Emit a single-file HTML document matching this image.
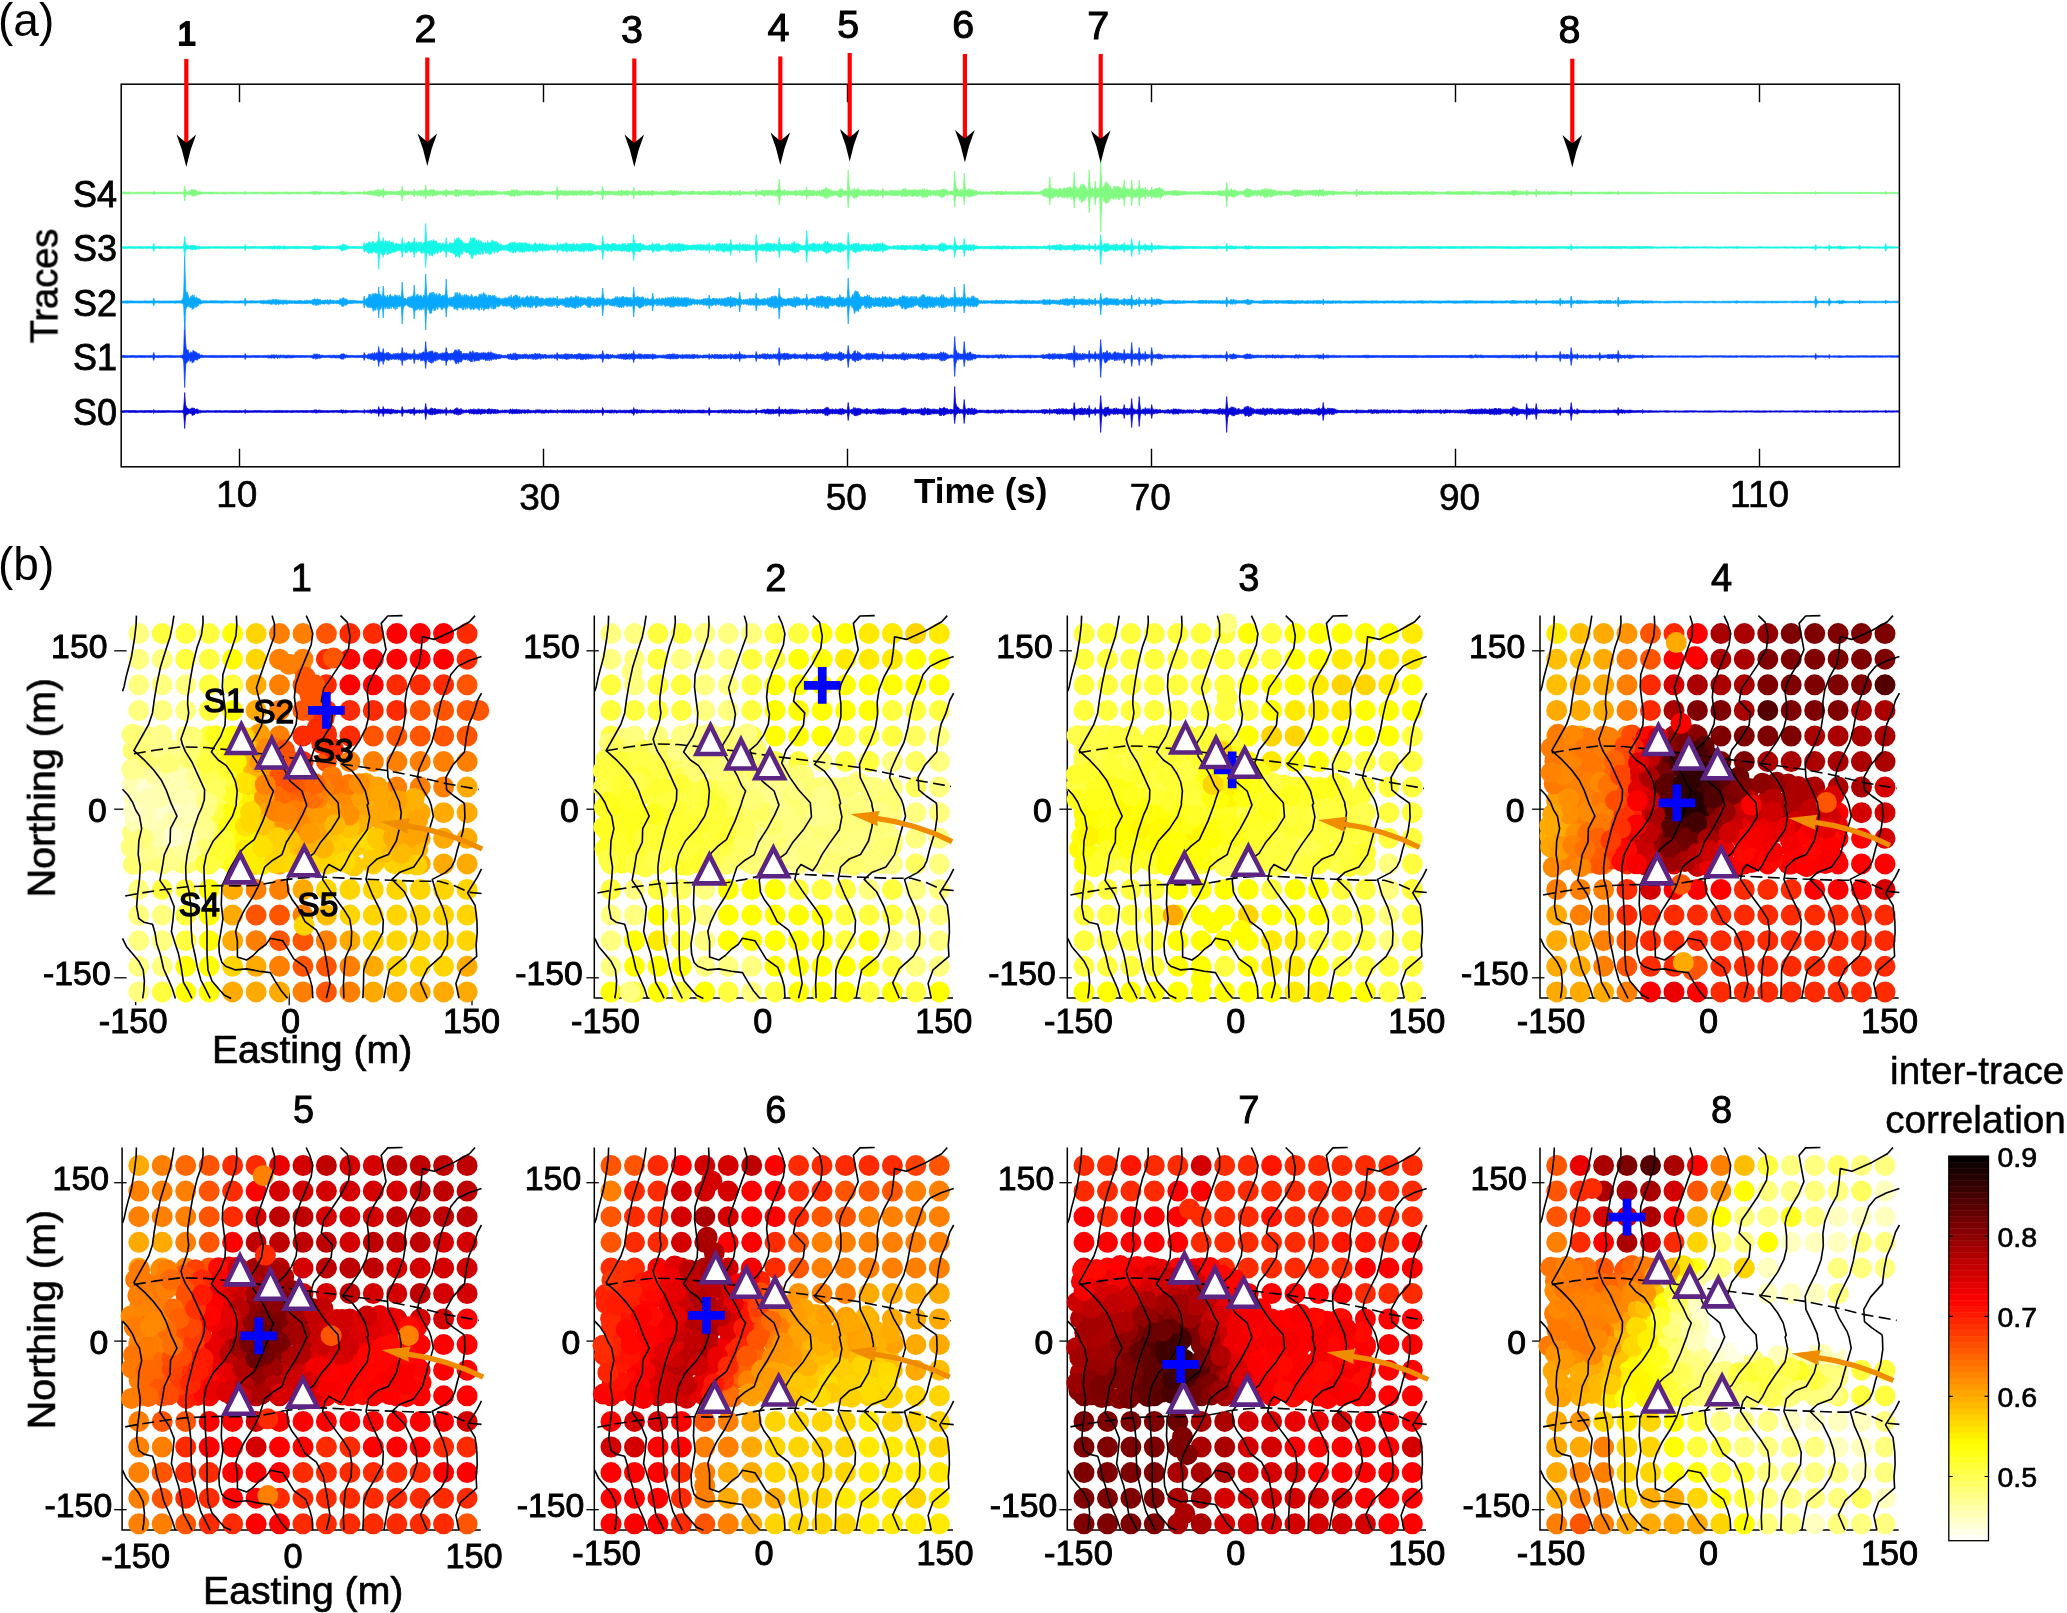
<!DOCTYPE html>
<html><head><meta charset="utf-8"><title>Figure</title>
<style>html,body{margin:0;padding:0;background:#fff}svg{display:block}text{will-change:opacity}</style></head>
<body>
<svg width="2067" height="1613" viewBox="0 0 2067 1613" font-family='"Liberation Sans", Arial, Helvetica, sans-serif' fill="#000">
<rect width="2067" height="1613" fill="#fff"/>
<path d="M239.5,84.2v18 M239.5,466.8v-18" stroke="#000" stroke-width="1.4"/>
<text x="236.8" y="506.8" font-size="37" text-anchor="middle" font-weight="normal" stroke="#000" stroke-width="0.6">10</text>
<path d="M543.5,84.2v18 M543.5,466.8v-18" stroke="#000" stroke-width="1.4"/>
<text x="539.8" y="509.9" font-size="37" text-anchor="middle" font-weight="normal" stroke="#000" stroke-width="0.6">30</text>
<path d="M847.5,84.2v18 M847.5,466.8v-18" stroke="#000" stroke-width="1.4"/>
<text x="846.3" y="509.9" font-size="37" text-anchor="middle" font-weight="normal" stroke="#000" stroke-width="0.6">50</text>
<path d="M1151.5,84.2v18 M1151.5,466.8v-18" stroke="#000" stroke-width="1.4"/>
<text x="1150.3" y="510" font-size="37" text-anchor="middle" font-weight="normal" stroke="#000" stroke-width="0.6">70</text>
<path d="M1455.5,84.2v18 M1455.5,466.8v-18" stroke="#000" stroke-width="1.4"/>
<text x="1459.5" y="510" font-size="37" text-anchor="middle" font-weight="normal" stroke="#000" stroke-width="0.6">90</text>
<path d="M1759.5,84.2v18 M1759.5,466.8v-18" stroke="#000" stroke-width="1.4"/>
<text x="1759.6" y="506.6" font-size="37" text-anchor="middle" font-weight="normal" stroke="#000" stroke-width="0.6">110</text>
<text x="980.7" y="502.9" font-size="35" text-anchor="middle" font-weight="bold">Time (s)</text>
<text x="57.5" y="286" font-size="38" text-anchor="middle" font-weight="normal" stroke="#000" stroke-width="0.7" transform="rotate(-90 57.5 286)">Traces</text>
<text x="117" y="425.1" font-size="36" text-anchor="end" font-weight="normal" stroke="#000" stroke-width="0.8">S0</text>
<text x="117" y="370.1" font-size="36" text-anchor="end" font-weight="normal" stroke="#000" stroke-width="0.8">S1</text>
<text x="117" y="315.6" font-size="36" text-anchor="end" font-weight="normal" stroke="#000" stroke-width="0.8">S2</text>
<text x="117" y="261.1" font-size="36" text-anchor="end" font-weight="normal" stroke="#000" stroke-width="0.8">S3</text>
<text x="117" y="206.6" font-size="36" text-anchor="end" font-weight="normal" stroke="#000" stroke-width="0.8">S4</text>
<path d="M121.2,410.7l2 .1l2-.3l2 .1l2 0l2 0l2-.1l2 .1l2 .1l2 .1l2-.2l2 .1l2-.1l2 0l2-.1l2 .1l.5-.1l.5 .2l.5-.2l.5-.1l.5-.9l.5 .8l.5 .3l.5 .1l2 0l2-.1l2 .1l2-.2l2 .2l2-.1l2 0l2 .2l2-.1l2 0l2 0l2-.1l2 0l2-.1l.5-3.4l.5-6l.5-8.6l.5 7.6l.5 5.7l.5 .1l.5 2.6l.5-.4l.5-.1l.5 1.6l.5-.8l.5 .4l.5 .8l.5-1.3l.5 .6l.5-.3l.5-1.2l.5 1.9l.5-1.9l.5 1l.5-1l.5 .5l.5 .2l.5 .9l.5 .2l.5-.5l.5-.2l.5 .1l.5 .2l.5 .2l.5 1.2l.5-.1l.5-.3l2 .5l2 0l2 0l2-.1l2 .2l2-.1l2 .1l2-.3l2 .2l2-.1l2 .2l2 0l2-.2l2 .1l2 0l2-.1l2 .1l2-.2l2 .3l2-.2l2 .2l2-.2l.5-.1l.5-.1l.5-.9l.5 .8l.5 .3l.5 0l2 .1l2 0l2 .1l2-.2l2 0l2-.1l2 0l2 .2l2 0l2 0l2-.1l2 .1l2 0l2-.1l2-.2l2 0l2 .2l2-.1l2 .2l2-.2l2 .2l2 .1l2-.2l2 .1l2-.2l2 .2l2-.2l2 .1l2 0l2-.1l2 .2l2-.1l2-.1l2-.6l.5-.3l.5 .6l.5-.2l.5-.1l.5 .4l.5 .3l.5-.6l.5 .1l.5-.1l2 .4l2 .2l2 .1l2-.1l2 .1l2-.1l2 0l2 0l2-.1l2 .1l2-.6l.5-.3l.5 .2l.5 .7l.5-.7l.5 .2l.5 .4l.5 .2l.5-.6l2 .4l2 .2l2 0l2-.2l2 .1l2-.1l2 .3l2 0l2-.1l.5-.3l.5-.9l.5 .8l.5 .3l.5 0l2-.4l.5 .3l.5-.2l.5 .1l.5-.6l.5-.3l.5 .4l.5 .5l.5-.2l.5-.3l.5-.2l.5 .6l.5-.7l.5 0l.5-.2l.5 .8l.5-.6l.5 .5l.5-.3l.5 .1l.5 .6l.5-1.7l.5-2.3l.5 2l.5 .8l.5 .2l.5-.2l.5 .8l.5-.9l.5 .8l.5-1.2l.5-2.3l.5 2l.5 .7l.5-.2l.5-.1l.5 .7l.5-.6l.5 .8l.5-.8l.5 0l.5 .4l.5-.4l.5 .4l.5-.3l.5 .7l.5-.6l.5-.3l.5 0l.5 .9l.5 .4l.5-1.2l.5 .6l.5 .7l.5-.2l.5 .2l.5-.5l.5 .5l.5 0l.5-.2l.5-.1l.5 .1l.5 .4l.5-.6l.5 .8l.5-.2l.5 .2l.5-.2l.5-1.7l.5-2.3l.5 2l.5 1.5l.5-.1l.5 0l.5 .3l.5-.2l.5 .3l.5 .3l.5-.8l.5 .1l.5 .4l.5-.9l.5 .6l.5 .3l.5-.9l.5 0l.5 .3l.5 .1l.5-.5l.5 0l.5 .2l.5-.3l.5 .1l.5-1.8l.5 1.6l.5 .8l.5 .6l.5-.3l.5 0l.5-.5l.5 .8l.5-.4l.5 .3l.5-.5l.5-.3l.5 .6l.5 .1l.5-.2l.5 .2l.5 0l.5-.6l.5 .6l.5-.6l.5 .7l.5-.4l.5-2.9l.5-3.6l.5 3.2l.5 2.2l.5 1.2l.5-.5l.5 .4l.5-.2l.5-.4l.5-.5l.5 .7l.5-1.3l.5-.6l.5 1.5l.5-1.1l.5 .6l.5 0l.5 .8l.5-.8l.5-.4l.5 .6l.5-.2l.5 .8l.5 .4l.5-.7l.5 .2l.5 .3l.5-.6l.5-.1l.5 .9l.5-.1l.5-.5l.5 .4l.5 .1l.5 .1l.5-.2l.5 .7l.5-.2l.5-.6l.5 .3l.5-.2l.5-.4l.5-1.8l.5 1.6l.5 1.2l.5 .1l.5 0l.5 .2l.5-.2l.5-.4l.5-.3l.5 0l.5 .6l.5 .2l.5-.5l.5-.1l.5 .3l.5 0l.5-.3l.5-1l.5 .7l.5-1.4l.5 1.1l.5-1.5l.5-.2l.5 1.3l.5 0l.5 .3l.5 .4l.5-.3l.5 .6l.5-1.4l.5 .1l.5 1.2l.5-.1l.5 .4l.5 .1l.5-.3l.5 .4l.5 0l.5-.4l.5 .3l.5-.3l.5-.1l.5 .8l.5-.1l.5-.7l.5 0l.5 .8l.5-1.1l.5-.1l.5-.3l.5 .2l.5 .6l.5-.3l.5-.1l.5 .1l.5-.9l.5 .2l.5 1l.5 0l.5-.4l.5 .2l.5 .1l.5-.3l.5-.1l.5-.8l.5 .9l.5 .6l.5-1.3l.5 1.3l.5-.5l.5 0l.5-.3l.5 .2l.5-.4l.5 .7l.5-.1l.5-.3l.5 .1l.5 .5l.5-.5l.5 .8l.5-.2l.5-.5l.5-.1l.5-.5l.5-.2l.5 .3l.5-.4l.5 .7l.5 .3l.5-.9l.5 1.2l.5-.4l.5-.7l.5 .9l.5-.3l.5-.2l.5 .4l.5-.7l.5 1.3l.5-.8l.5 .9l.5-.5l.5-.4l.5 .8l.5-.2l.5 .4l.5 .1l.5 .1l.5-.5l.5 .4l.5-.3l.5-.1l.5-.4l.5 .5l.5 .2l.5-.4l2 0l2 .3l.5-.3l.5 .1l.5-.1l.5-1.1l.5-.1l.5 1l.5 .2l.5-.6l.5-.7l.5 .7l.5 .4l.5-.2l.5-.1l.5 .2l.5-.5l.5-.1l.5 0l.5 .8l.5-.2l.5-.3l.5 .3l.5-.4l.5 .5l.5 .3l.5-.4l.5 0l.5 .5l.5-.2l.5-.3l.5 0l.5 .7l.5-.9l.5 .4l.5 .1l.5-.2l.5 .5l.5-.7l.5 .6l.5-.7l.5 0l.5 .2l.5 .8l.5-.7l.5 .3l.5 .2l.5-.2l.5 .4l.5-.2l.5 .2l.5-.1l.5-.4l.5 .5l.5-.2l.5 0l.5-.4l.5-.4l.5 .6l.5 .1l.5-.7l.5 0l.5 .6l.5-.5l.5 .4l.5 .4l.5-.8l.5 .2l.5 .7l.5-.7l.5 .3l.5 .1l.5 .2l.5-.2l.5-.1l.5-.3l.5 0l.5-.1l.5 .3l.5 .2l.5 .2l.5 0l.5-.3l.5-.2l.5 .4l.5-.5l2 .3l2 .2l2 .3l.5-.3l.5-.9l.5 .8l.5 .4l.5-.3l2-.1l2 0l2-.5l.5 .6l.5 .1l.5-.5l.5-.1l.5 .7l.5-.4l.5-.2l.5-.2l.5 .2l.5 .1l.5 .2l.5-.5l.5 .7l.5-.4l.5 .1l.5-.5l.5 .6l.5 .3l.5-.4l.5-.4l.5 .9l.5 0l.5-.8l.5 .8l.5-.2l.5 0l.5 .1l.5 .1l.5 0l.5-.1l.5-.5l.5 0l.5 .1l.5-.1l.5-.3l.5 .8l.5-.8l.5 .2l.5 .3l.5-.3l.5 .3l.5 .1l.5-.1l.5-.4l.5-.4l.5 .9l.5 .1l.5-.6l.5 .4l.5 .2l.5-.5l.5-.4l.5 .6l.5 .3l.5-.7l.5 0l.5 .6l.5 .1l.5-.5l.5 .6l.5-.3l.5 0l.5 .3l.5-.6l2 .3l2 0l.5 .3l.5 0l.5-1.3l.5-1.8l.5 1.6l.5 .9l.5 .5l2-.2l2 0l2-.1l2-.3l.5 .1l.5 .5l.5 .1l.5-.8l.5 .4l.5 .1l.5-.4l.5 .6l.5 0l.5 0l.5 .2l.5-.3l.5-.2l.5 .4l.5-.6l2 .4l2-.1l2-.1l2 .1l.5 .2l.5-.3l.5-.1l.5 .2l.5-.1l.5-.2l.5 0l.5 0l.5 .3l.5 .1l.5-1.1l.5-1.8l.5 1.6l.5 .4l.5-.2l.5 .8l.5-.5l.5 .1l.5-.3l.5 .2l.5 .9l.5 0l.5-.8l.5 .2l.5 .5l.5 .2l.5-.9l.5 .3l.5 .1l.5 0l.5-.1l2 .2l2 .4l2-.1l2-.1l.5 0l.5 0l.5-.9l.5 .8l.5 0l.5-.2l2 .1l.5 .1l.5-.3l.5 0l.5 0l.5 .1l2 .1l2 .3l2 0l2 .1l2-.3l.5-.3l.5 .4l.5-.3l.5-.4l.5 .6l.5-.3l.5 0l.5 .6l.5-.2l.5-.7l.5 .6l.5-.4l.5-.1l.5-.2l.5 .7l.5-.5l.5 .3l.5 .1l.5 .4l.5-.9l.5 .1l.5-.3l.5 .8l.5 .1l.5 .1l.5-.3l.5-.4l.5-.1l.5 .7l.5-.2l.5-.4l.5 0l.5 .6l.5-.4l.5 .4l.5-.2l.5-.1l2 .2l2-.1l2 .1l2 .2l2-.2l2-.2l2 .1l2-.2l2 .4l2 .1l.5-.1l.5-.2l.5-.9l.5-1.8l.5 1.6l.5 1.2l.5 .1l2 .2l2-.2l2 .2l2-.3l2-.1l.5-.2l.5-.2l.5 .8l.5 0l.5-.7l.5 .2l.5-.1l.5-.2l.5 .2l.5 .3l.5-.7l.5 1l.5-.2l.5 0l.5-.5l.5-.2l.5 .1l.5 .7l.5-.2l.5-.8l.5 .7l.5-.2l.5 .4l.5-.3l2 .2l2-.1l2 .2l.5-.3l.5-.6l.5 .8l.5-.1l.5-.1l2 .5l.5-.7l.5 .8l.5-.7l.5 .4l.5 .3l.5-.3l.5 .3l.5 0l.5-.1l.5-.4l2 .2l2-.2l2 .5l.5-.2l.5 .1l.5-.7l.5-1.4l.5 1.2l.5 .9l.5 0l2 0l2-.6l2-.4l.5 0l.5-.3l.5 .9l.5-.3l.5-.4l.5 .2l.5-.8l.5 .2l.5 .1l.5-.1l.5 1l.5-.9l.5 .2l.5 .4l.5-.8l.5 .9l.5-.3l.5-.5l.5-.1l.5 .8l.5 .3l.5-.1l.5-.4l.5-.2l.5-.4l.5 1.1l.5-1.1l.5 1.2l.5-.8l.5-.6l.5-2.3l.5 2l.5 1.1l.5 .4l.5-.4l.5 .2l.5 .3l.5-1l.5 1l.5 .2l.5-.7l.5-.1l.5-.4l.5-.1l.5 1.1l.5 0l.5 0l.5 0l.5-.2l.5-.4l.5 .1l.5 .1l.5-.9l.5 1.1l.5-.2l.5-.8l.5 .8l.5-.8l.5 .8l.5 .2l.5 .2l.5-.7l.5 .3l.5 .4l.5-.8l.5 .8l.5 .1l.5-.4l.5 .1l.5-.4l.5 .8l.5-.5l.5 .8l.5-.3l.5-.3l.5 .7l.5-.8l.5 .6l.5-.1l.5-.4l.5 .1l.5 0l.5 .2l.5 .2l.5-.7l.5-1.3l.5 1.2l.5 .6l.5 0l.5 0l.5-.1l.5 .1l.5 0l.5-.5l.5-.1l.5 .3l.5-.8l.5 .6l.5-.3l.5-.6l.5 1.2l.5-.4l.5 .2l.5-.8l.5 1.2l.5-.1l.5-.1l.5-1l.5 .8l.5-.6l.5 .7l.5-.4l.5-.1l.5-.4l.5 1l.5 .1l.5-.9l.5 .6l.5-.9l.5 .7l.5-.9l.5 0l.5 0l.5-1.1l.5 .3l.5-.6l.5-.4l.5 1.5l.5-.9l.5 1.9l.5-.7l.5 .9l.5-.1l.5-.3l.5-.3l.5 1.1l.5 0l.5-1.4l.5 .4l.5 .6l.5-.2l.5 .6l.5-.7l.5-.7l.5 .4l.5 .3l.5 .6l.5-.7l.5 .3l.5-.4l.5 0l.5-.4l.5 .2l.5-.4l.5 1l.5-.4l.5-1l.5 .6l.5 1.2l.5-1.1l.5 .7l.5 .3l.5 0l.5-.2l.5 .8l.5-.4l.5-.2l.5-3.3l.5-4.1l.5 3.6l.5 2.7l.5 1.7l.5-.4l.5-.2l.5-.6l.5 .2l.5-.6l.5 .3l.5 .3l.5-2.1l.5 1.7l.5-.9l.5-.6l.5 .8l.5 .9l.5-.8l.5 .1l.5 0l.5 .2l.5-.8l.5 .3l.5 1.2l.5-1.1l.5 1.6l.5-1l.5 .3l.5 0l.5 .5l.5-.2l.5 .5l.5 .2l.5-1.1l.5 0l.5 .9l.5-1.4l.5-.1l.5 .4l.5-.4l.5 1.5l.5 .1l.5-.9l.5 .6l.5-.1l.5-.2l.5 .8l.5 0l.5-.7l.5-.3l.5-.2l.5 .3l.5-.2l.5 .6l.5-.7l.5 .8l.5-.6l.5-.1l.5-.1l.5 .5l.5-1.1l.5 1.5l.5-1.3l.5 0l.5 .3l.5-.1l.5 .7l.5-1.1l.5 .9l.5-1l.5 .1l.5 .1l.5 .6l.5-.1l.5 .8l.5-1.4l.5 1.3l.5-.2l.5 .1l.5-.6l.5-.4l.5 .6l.5 .3l.5-.8l.5 .7l.5-.1l.5 .8l.5-1.1l.5 0l.5 0l.5 .9l.5-.7l.5 .1l.5 .3l.5-.4l.5 .7l.5-.9l.5 1.2l.5-.8l.5-.4l.5 .2l.5 .2l.5-.6l.5 .9l.5-1.3l.5 1.3l.5-1.3l.5-.1l.5-.4l.5 .2l.5-.1l.5-.3l.5-.1l.5 1.7l.5-1.8l.5 1.1l.5-.4l.5 .5l.5 .8l.5-.1l.5-.6l.5-.1l.5 .6l.5-.1l.5-.6l.5 .3l.5 .9l.5 .1l.5-.4l.5-.1l.5 .3l.5-.5l.5 .9l.5-.8l.5-.2l.5 .3l.5 .5l.5-.5l.5 0l.5-.6l.5 1l.5-.6l.5-.6l.5 .6l.5 .4l.5-.6l.5-.8l.5-.5l.5 1.1l.5 .5l.5 .1l.5-1l.5 .9l.5-1.9l.5 .2l.5 1.3l.5 .1l.5-.2l.5 .7l.5-1.6l.5 1l.5-.4l.5 .6l.5-.5l.5 .4l.5 0l.5 .5l.5 .1l.5-.9l.5 .4l.5 .2l.5-.7l.5 .2l.5 .3l.5 .1l.5-.2l.5 .1l.5 .3l.5 .3l.5-.4l.5 .5l.5-.1l.5-1l.5-1.2l.5 1.2l.5-.8l.5 1.1l.5-.6l.5-.2l.5 .1l.5-.6l.5-.5l.5-.2l.5 .8l.5 .1l.5 1.3l.5-.8l.5 .2l.5 .1l.5-.3l.5 .5l.5 .9l.5-.1l.5 .3l.5-1.3l.5 .1l.5 1l.5-1l.5 .8l.5-.1l.5 .3l.5-1.4l.5-10.8l.5-11.3l.5 10l.5 6.5l.5 1.1l.5 2.6l.5 .5l.5-.6l.5 1.2l.5 .3l.5 .1l.5 1.7l.5 0l.5-.9l.5 1.2l.5-.8l.5-.1l.5 .7l.5-.1l.5-5l.5-5.4l.5 4.8l.5 3.6l.5 1.4l.5-.3l.5 .8l.5-.4l.5-.6l.5-.9l.5 1.2l.5-.6l.5-.1l.5 .5l.5 .4l.5-.9l.5-.3l.5 0l.5 .8l.5 .9l.5-.3l.5-1.4l.5 .8l.5-.1l.5 .9l.5-.4l.5 .8l.5 .4l.5-.4l.5 .1l.5 .5l.5-.7l2 .2l2 .1l2 .1l2-.3l2 0l.5 .6l.5-.2l.5-.2l.5-.3l.5 .6l.5-.6l.5 .7l.5-.7l.5 .4l.5-.4l.5 0l.5-.2l.5 .4l.5 .3l.5-.6l.5 .7l.5-.4l.5-.1l.5 .3l.5-.1l.5-.6l.5 .5l.5-.1l.5-.3l.5 .3l.5 0l.5-.5l.5 .5l.5-.4l.5 .5l.5 0l.5 .2l.5-.3l.5 .6l.5-.4l.5 0l.5 .2l.5-.5l.5-.2l.5 .8l.5-.3l.5-.2l.5-.1l2 .1l2 .3l.5 .3l.5-.7l.5 .5l.5-.5l.5-.3l.5 .3l.5-.2l.5 .3l.5-.2l.5 .7l.5 0l.5-.4l.5 .2l.5 0l.5 0l.5-.4l.5 .2l2 .1l2-.2l2 .1l2 .2l.5-.5l.5 .1l.5 .4l.5 .3l.5-.3l.5-.4l.5 .3l.5 .2l.5-.2l.5 .1l.5-.5l.5 .8l.5-.3l.5-.5l.5 .5l.5-.6l.5 .6l.5 .3l.5-.7l.5 0l.5-.3l.5-.1l.5 .7l.5-.8l.5 .8l.5-1l.5 .4l.5-.3l.5 .4l.5 0l.5-.2l.5 .4l.5-.1l.5 .3l.5-.1l.5-.4l.5-1.2l.5 1.2l.5 .5l.5-.7l.5 .8l.5 .2l.5-.7l.5 .3l.5-.9l.5 .7l.5-.9l.5 1l.5-.2l.5-.9l.5 .2l.5 0l.5 .7l.5-.1l.5-1.2l.5 0l.5 .8l.5-.3l.5 .8l.5-.4l.5-.8l.5-.2l.5 1.3l.5-1.1l.5 .4l.5 .1l.5 .3l.5 .7l.5-1.3l.5 .3l.5-.3l.5 .2l.5 .5l.5 .2l.5 .3l.5-.2l.5-.5l.5 .2l.5 .3l.5-1.1l.5 .1l.5-.2l.5 1.3l.5 .1l.5-3.4l.5-4.1l.5 3.6l.5 2.7l.5 .6l.5-.6l.5 .9l.5-.3l.5-.3l.5 .1l.5-.6l.5 1l.5-1.3l.5 1l.5-1.3l.5 1.3l.5-1.8l.5 1.6l.5-.6l.5 .5l.5 0l.5 .1l.5-1l.5 1.6l.5-1.3l.5 1.5l.5-.7l.5-.6l.5 0l.5 .1l.5-.5l.5-2.7l.5 2.4l.5 1.8l.5 .4l.5-.9l.5 0l.5 1.1l.5-.2l.5-.1l.5-.2l.5-.3l.5-.2l.5-1.8l.5 1.6l.5 .7l.5-.4l.5 .7l.5-.6l.5 .1l.5 .1l.5-.5l.5 0l.5-6.5l.5-7.2l.5 6.4l.5 4.8l.5 3.3l.5-.9l.5 .6l.5-.1l.5-.8l.5-.8l.5-.8l.5 1.5l.5-1.2l.5 .9l.5-1.3l.5 .9l.5-1.4l.5 2.3l.5 0l.5 0l.5-.2l.5 1l.5-.7l.5 .2l.5-.3l.5 .6l.5-.8l.5-.3l.5 .8l.5-1.1l.5 .8l.5 .7l.5-1.9l.5 .5l.5 1.1l.5 .2l.5-1l.5 1.5l.5-1.1l.5 1.1l.5-1.1l.5 .3l.5 .3l.5-.3l.5 0l.5 .3l.5-1.5l.5-.4l.5-3.1l.5 2.8l.5 2.1l.5-1.4l.5 1.7l.5-1.1l.5 .8l.5-1.2l.5 .8l.5 .7l.5-.6l.5-1.1l.5 1.2l.5-.4l.5-4.4l.5-5.9l.5 5.2l.5 3.9l.5 1.7l.5-.4l.5-.1l.5 .7l.5 .1l.5 .5l.5-.3l.5 .4l.5-.3l.5-.9l.5 1l.5-6.8l.5-6.7l.5 6l.5 4.5l.5 2.9l.5 .1l.5 .4l.5-1l.5-.2l.5-.1l.5 0l.5 .6l.5-.4l.5-1.8l.5 1.6l.5-.4l.5 .7l.5-.1l.5-.7l.5 0l.5 .8l.5-.9l.5 1.3l.5 0l.5-.3l.5-1.9l.5-3.1l.5 2.8l.5 2.1l.5-.6l.5 .9l.5 .4l.5-.5l.5 .6l.5-1l.5 .4l.5-.2l.5-.1l.5 1l.5-.6l.5 .5l.5-.3l.5-.6l.5 .2l.5 .2l.5 .5l.5 .3l.5-.2l.5-.3l.5 .2l.5 .4l.5 0l.5-.4l.5 .1l.5-.4l.5 .2l.5 .1l.5-.7l.5 .5l.5-.6l.5 .1l.5 .8l.5 0l.5-.1l.5 .1l.5-1l.5 .8l.5 .1l.5-.4l.5-.7l.5-.5l.5 1l.5-.6l.5-.1l.5 .2l.5 0l.5 0l.5 .9l.5-.3l.5-.8l.5 .9l.5-.9l.5 .6l.5 .7l.5-.8l.5 .6l.5-.3l.5 .6l.5-.2l.5 .2l.5-.5l.5-.1l.5 .6l.5-.2l.5 .6l.5-.4l.5-.2l.5 0l.5-.4l.5 .3l.5-.1l.5 .5l.5-.8l.5 .1l.5 .6l.5-.3l.5-.1l.5 .2l.5 .2l.5-.8l.5 .3l.5 .7l.5 .1l.5-1.1l.5 .9l.5 .2l.5-.1l.5 0l.5-.5l.5 .5l.5-.1l.5 .1l.5 .1l.5-1l.5 .1l.5 .6l.5-.6l.5-.2l.5 .2l.5-.9l.5 .9l.5-.8l.5 .2l.5-.1l.5-.2l.5 1.3l.5-.9l.5-.2l.5 .7l.5-.4l.5 .7l.5 0l.5-.1l.5-.8l.5 .5l.5 0l.5 0l.5 .3l.5-.2l.5-.1l.5 .3l.5-.3l.5-.3l.5 .5l.5 .5l.5-.7l.5 .8l.5-1.3l.5 .4l.5-.3l.5-.4l.5 .7l.5-1.3l.5-.1l.5 1.2l.5 .2l.5-.2l.5-.6l.5 .6l.5 .2l.5-.8l.5 1.3l.5-.7l.5-.4l.5 .7l.5-6.4l.5-6.7l.5 6l.5 4.5l.5 1.6l.5 1.1l.5-.8l.5-.8l.5-.4l.5 0l.5 1.1l.5-2.1l.5 1.2l.5-1l.5 1.8l.5-1.6l.5 .5l.5 1.1l.5-.7l.5-.1l.5 1.8l.5-.2l.5 .3l.5-.8l.5-.7l.5 .5l.5-.4l.5 1.1l.5-.1l.5 .5l.5 .2l.5-.4l.5 .1l.5-.7l.5-.1l.5 .8l.5-2.1l.5 .5l.5-1.5l.5 2.2l.5-2.5l.5 .8l.5 1.6l.5-2.9l.5 1.5l.5-.9l.5 2.2l.5 .4l.5-2.2l.5 1.4l.5-.6l.5 .6l.5-.1l.5 1.7l.5-1.6l.5 1.8l.5-.9l.5 0l.5 .6l.5 0l.5-.1l.5-.7l.5-.2l.5 .7l.5-.7l.5 .9l.5-.1l.5-.3l.5-.1l.5-.6l.5 .9l.5 .3l.5 0l.5-1.7l.5-.3l.5 .9l.5 0l.5 .3l.5 0l.5 .3l.5 .1l.5-.9l.5-.3l.5 0l.5 .9l.5 .2l.5 .1l.5-.8l.5 0l.5-.3l.5 .2l.5 .4l.5-.7l.5 1.7l.5-1l.5 .5l.5 .1l.5 .6l.5-.1l.5-.3l.5-.1l.5-.4l.5 .1l.5-.1l.5-.8l.5 1.3l.5-1l.5 .2l.5 .6l.5-1l.5 1.2l.5-.6l.5-.6l.5 .9l.5 .2l.5-.9l.5 1l.5 .1l.5-1l.5 1.2l.5 0l.5-.9l.5 .6l.5 0l.5-1.1l.5 1.3l.5-.3l.5-.5l.5 .4l.5 .2l.5-.8l.5 .8l.5 0l.5-.5l.5 0l.5 .1l.5-.1l.5-.5l.5 .3l.5 .2l.5 .3l.5-.7l.5 .9l.5-.8l.5-.2l.5 0l.5 1l.5-.3l.5-.5l.5-.8l.5 .6l.5 1l.5-.1l.5 .3l.5-.1l.5 0l.5-.9l.5-.2l.5 1.3l.5-.4l.5-1.1l.5 .5l.5 .7l.5-1l.5 .3l.5-.1l.5 .1l.5 1.1l.5-.5l.5 .2l.5-.3l.5 .1l.5 .4l.5-.1l.5-.3l.5 .3l.5 .1l.5-.7l.5-.4l.5 1.2l.5-.1l.5-1.7l.5 1.5l.5-.7l.5-1.2l.5 .7l.5-.9l.5 1.2l.5 0l.5 .1l.5 .8l.5-1.6l.5 .5l.5-2.1l.5-4.1l.5 3.6l.5 2.1l.5 .6l.5-.3l.5 1.2l.5-.7l.5 .6l.5 .2l.5-1.9l.5 .2l.5 1.3l.5-1.1l.5 0l.5 .1l.5 .6l.5-.6l.5 .7l.5-1l.5 1.2l.5-.8l.5 .8l.5-.8l.5 .9l.5-.4l.5 .6l.5-.1l.5 .7l.5-.1l.5 .1l2 .4l2-.3l2 .2l2-.3l2 .2l2 .3l.5-.6l.5 .4l.5-.4l.5 .4l.5-.5l.5 .1l.5 .4l.5 .1l.5-.2l.5-.2l.5 .1l.5-.1l.5-.1l.5-.6l.5 .8l.5-.2l.5 .1l2 0l2 0l2 .2l2 .2l.5 0l.5-.1l.5 .1l.5-.9l.5 .1l.5 .8l.5-1l.5 .5l.5-.3l.5-.2l.5 .3l.5 0l.5 .6l.5-.5l.5-.3l.5-.1l.5 .3l.5 .4l.5-.8l.5 .2l.5 .6l.5-.1l.5-.6l.5 .6l.5 .3l.5-.5l.5 .2l.5-.3l.5 .2l.5 .1l.5-.1l.5 .2l.5-.7l.5 0l.5 .8l.5-.7l.5 .6l.5 .3l.5-.7l.5 .2l.5-.2l.5-.2l.5 0l.5 .6l.5 .1l.5-.5l.5 .2l.5-.2l.5 .7l.5 .1l.5-.1l.5-.6l.5 .3l.5-.1l.5-.1l.5 .3l.5 .2l.5-.2l.5 .2l.5-.6l.5 .3l.5 .4l.5-.5l.5-.3l2 .2l2 .1l2 .3l2-.2l2 .1l2 0l2-.1l.5-.2l.5-.2l.5-.1l.5 .6l.5-.1l.5-.7l.5 .4l.5 .5l.5-.4l.5-.2l.5 0l.5 .3l.5-.6l.5 .7l.5-.3l.5-.2l.5 .1l.5 .2l.5-.3l.5 .2l.5 .4l.5-.7l.5-.1l.5 .5l.5 .6l.5-.8l.5-.1l.5 .6l.5-.5l.5 .6l.5-.3l.5-.2l.5 .1l.5 0l2 .2l2 .4l.5-.9l.5 .2l.5 .3l.5-.5l.5 .8l.5-.6l.5 .1l.5-.2l.5 .4l.5 .2l.5-.6l.5 .2l.5 .2l.5-.7l.5 .2l.5 .2l.5 .4l.5 .1l.5 0l.5-.7l.5 .4l.5 .1l.5 .1l.5-.7l.5-.1l.5 0l.5 .6l.5 0l.5-.4l.5 .3l.5 .1l.5-.1l.5 0l.5 .1l.5-.4l.5 .7l.5-.5l.5 .5l.5-.3l.5-.2l.5 .2l.5 .4l.5-.4l2 0l2 .2l.5 0l.5-.7l.5 .3l.5 .6l.5-.6l.5 .3l.5-.7l.5 1l.5-.4l.5 .3l.5-.2l.5-.3l.5 .3l.5-.4l.5-.2l.5 0l.5 .3l.5-.7l.5 .1l.5 .8l.5-1.2l.5 .7l.5-1l.5 1.2l.5 .1l.5-.1l.5-1l.5 .4l.5 .3l.5 .5l.5 0l.5-1l.5 1.1l.5-1.1l.5-.2l.5 .6l.5 .5l.5-.2l.5-1l.5 .9l.5-.2l.5-.5l.5 .3l.5-.3l.5 .2l.5-.6l.5 .4l.5 .3l.5-.2l.5 .7l.5 0l.5-1l.5-.4l.5 1.1l.5-.3l.5 .5l.5-.2l.5 .6l.5 .1l.5-.4l.5-1l.5-.4l.5 1l.5 .2l.5-.6l.5 0l.5 .3l.5-.6l.5 .9l.5 0l.5-1.3l.5 .5l.5-.8l.5 .6l.5-.3l.5 .8l.5 .3l.5-.2l.5-.1l.5-1.1l.5 1.4l.5-.8l.5 .1l.5-.3l.5 1.5l.5-.4l.5 .5l.5-.8l.5 .2l.5 0l.5-.5l.5 1.3l.5-1l.5-.2l.5 .7l.5-.9l.5 .7l.5-.3l.5-.3l.5 .8l.5-.3l.5 .3l.5-.6l.5-.5l.5-.2l.5 .9l.5-1.3l.5-.4l.5-1.1l.5 2.3l.5 .1l.5-2l.5 1.2l.5 .5l.5 0l.5-.8l.5 1.4l.5-.8l.5 1.3l.5-.6l.5-.3l.5 .7l.5-.2l.5 .7l.5-1l.5 1l.5 .1l.5-1l.5 .4l.5-.1l.5 .2l.5 .4l.5-.3l.5 .3l.5-2.9l.5-3.6l.5 3.2l.5 2.4l.5-.7l.5 .4l.5 .4l.5-.6l.5 1.1l.5-1l.5-.3l.5 1.4l.5-.1l.5-1.2l.5 .2l.5-.1l.5 1.3l.5-.1l.5-.7l.5-2l.5-3.6l.5 3.2l.5 2.4l.5 1.2l.5-1l.5 .7l.5-.3l.5 .5l.5-.2l.5-.1l.5-.2l.5 .4l.5 .1l.5 .2l.5-.5l.5-.2l.5 .1l.5 .7l.5-.2l.5-.1l.5-.7l.5-.2l.5 1.1l.5-.1l.5-.6l.5 .4l.5 .1l.5-.2l.5-1l.5 1.3l.5-.5l.5-.3l.5 .6l.5-.2l.5-.4l.5-.2l.5 .5l.5 0l.5-.9l.5 .9l.5 .2l.5-.6l.5 1.1l.5-.3l.5 .1l.5-.2l.5-.1l.5-.7l.5-1.8l.5 1.6l.5 1.2l.5 0l2 .1l2-.1l.5-.4l.5 .3l.5-.2l.5 .3l.5-.4l.5 .2l.5 .1l.5-.3l.5 .3l.5-3.6l.5-4.1l.5 3.6l.5 2.7l.5 1.1l.5 .3l.5-.1l.5-.4l.5-.1l.5 .9l.5-.1l.5 0l.5-1l.5-.9l.5 1.2l.5 .4l.5-.4l.5 .3l.5 .3l.5 .3l.5-.4l.5 .4l.5 0l.5-.5l2 .2l2 .1l2 0l2 0l2 0l2-.3l2 .1l.5 .1l.5 .4l.5 0l.5 0l.5-.1l.5-.7l.5-.4l.5 .7l.5 .2l.5-.1l2-.1l2 .1l2 .2l2-.3l2 .2l2-.1l.5-.4l.5-.2l.5 .5l.5 .1l.5-.6l.5 .3l.5 .3l.5-.1l.5-.9l.5-1.8l.5 1.6l.5 1.1l.5-.3l.5 .1l.5-.3l.5-.1l.5-.1l.5 .3l.5 .4l.5-.3l.5 0l.5 .6l.5-.6l.5 .6l.5-.4l.5 .5l.5-.3l.5 0l.5 0l.5 .2l.5-.5l2 .1l2 .4l2 .2l2-.2l2 .1l2 0l.5-.1l.5 .1l.5-.2l.5-.9l.5 .8l.5 .4l.5 0l2 0l2 0l2-.1l2 .2l2 .1l2-.1l2 .2l2-.2l2 .1l2-.1l2 0l2 0l2 .1l2 0l2 0l.5-.1l.5 0l.5-.3l.5 .3l.5 .1l.5 0l2 0l2 .1l2-.1l2-.1l2 0l2 0l2 0l2 0l2 0l2 .1l2 0l2 0l2 .1l2-.2l2 .1l2-.1l2 .1l2 0l2 0l2 0l2-.1l2 0l2 .1l2-.1l2 .2l2-.1l2 .1l2-.2l2 0l.5 .2l.5-.2l.5 0l.5 .1l.5 0l.5 0l2 .1l2-.1l2 0l2-.1l2 .1l2-.1l2 0l2 .2l2-.1l2-.1l2 .1l2 0l2-.1l2 .1l2 0l2-.1l2 .2l2-.1l2-.1l2 .1l2-.1l2 0l2 .1l2 .1l2-.1l2 0l2 .1l2-.2l2 0l2 0l2 .1l2-.1l2 .1l2-.1l2 0l2 .1l2-.1l2 .1l.5-.1l.5-.1l.5-.7l.5 .6l.5 .3l.5 0l2 0l2 0l2 0l2-.1l2 0l.5 .2l.5 0l.5-.3l.5-.7l.5 .6l.5 .2l.5 .1l2 0l2 0l2 0l2-.1l2-.2l2 .3l2 0l2 0l2 0l2-.1l2 .1l2-.1l2 0l2 0l.5 0l.5-.3l.5 .4l.5 0l.5 0l2 .1l2-.2l2 .1l2-.1l2 .2l2-.2l2 0l2 0l2 .2l2-.1l2 0l.5-.1l.5 0l.5 .1l.5-.2l.5-.7l.5 .6l.5 .3l.5 0l2-.1l2 .1l2-.1l2 .1l2-.1l2 .1l0 1.3l-2-.1l-2 0l-2 .1l-2 0l-2-.1l-2 .1l-.5 0l-.5 .2l-.5 .6l-.5-.7l-.5-.2l-.5 0l-.5 0l-.5 0l-2 0l-2 0l-2 .1l-2-.2l-2 .2l-2-.1l-2-.1l-2 .2l-2 0l-2 0l-2-.1l-.5 0l-.5 .1l-.5 .3l-.5-.3l-.5-.1l-2 0l-2 .1l-2 0l-2-.1l-2 .1l-2 0l-2-.1l-2 .1l-2 .1l-2 0l-2-.2l-2 .1l-2-.2l-2 .2l-.5 0l-.5 .2l-.5 .6l-.5-.7l-.5-.2l-.5 .1l-.5 0l-2 0l-2-.1l-2 0l-2 .1l-2 0l-.5-.1l-.5 .3l-.5 .6l-.5-.7l-.5-.2l-.5 0l-2-.1l-2 .1l-2 .1l-2 0l-2 0l-2-.1l-2-.1l-2 .1l-2 .1l-2-.1l-2 0l-2-.1l-2 .1l-2 0l-2 0l-2-.1l-2 .2l-2-.1l-2 0l-2 0l-2 0l-2 .1l-2-.2l-2 .2l-2 0l-2 0l-2 0l-2 0l-2 0l-2 0l-2-.1l-2 0l-2-.1l-2 .2l-2-.2l-2 .1l-2 .1l-2-.1l-.5 0l-.5-.1l-.5 .2l-.5-.2l-.5 .1l-.5 0l-2 .1l-2 0l-2 0l-2-.1l-2 .1l-2-.1l-2 0l-2-.1l-2 .1l-2 0l-2 .1l-2 0l-2 0l-2 0l-2-.1l-2 .1l-2-.1l-2 .1l-2-.2l-2 0l-2 .2l-2-.1l-2 0l-2 .1l-2 0l-2 0l-2-.1l-2 .1l-2-.1l-.5 0l-.5 .1l-.5 .3l-.5-.4l-.5 .1l-.5-.1l-2 0l-2 0l-2 .1l-2 0l-2-.1l-2 0l-2 0l-2 .1l-2 0l-2 0l-2 .1l-2 0l-2 .2l-2-.3l-2 .2l-.5-.1l-.5 .4l-.5 .8l-.5-.9l-.5-.4l-.5 .3l-.5 0l-2-.2l-2 .1l-2 0l-2 0l-2 .3l-2 .4l-.5-.4l-.5 .2l-.5-.2l-.5 .1l-.5-.1l-.5 0l-.5 0l-.5 .7l-.5-.1l-.5-.5l-.5-.4l-.5 1l-.5 .2l-.5-.8l-.5 .1l-.5 0l-.5-.2l-.5 .4l-.5 0l-.5 .8l-.5 1.6l-.5-1.8l-.5-.9l-.5 .4l-.5-.1l-.5-.5l-.5 .4l-.5-.4l-.5 .4l-.5 0l-.5-.7l-2 .4l-2 0l-2-.1l-2 .1l-2 .1l-2 0l-.5-.1l-.5 .2l-.5 .6l-.5-.9l-.5-.1l-.5 .1l-.5 .2l-.5-.2l-.5 .4l-.5-.4l-2 .4l-2 0l-2-.4l-2 .1l-2 0l-2 0l-2-.1l-.5 .1l-.5 .3l-.5-.7l-.5 .2l-.5 .7l-.5-.8l-.5 .5l-.5 .5l-.5-.1l-.5 1.2l-.5-1.4l-.5 .3l-.5-.6l-.5 .9l-.5-.2l-.5-.6l-.5 .1l-.5-.5l-.5 1l-.5 .7l-.5 2.7l-.5 3.6l-.5-4.1l-.5-3.3l-.5 .1l-.5-.3l-.5 .3l-.5-.8l-.5 .3l-.5 .1l-.5 .1l-.5-.4l-.5-.1l-2 .4l-2-.1l-.5 .4l-.5 .8l-.5 1.6l-.5-1.8l-.5-1.1l-.5 .1l-.5 0l-.5 .3l-.5 .5l-.5-.8l-.5 .9l-.5 .1l-.5 .3l-.5 .1l-.5-.6l-.5 .1l-.5 .7l-.5-1l-.5 .2l-.5-.5l-.5-.1l-.5 .7l-.5-.7l-.5-.2l-.5 .1l-.5 1.2l-.5-.7l-.5-.4l-.5 .1l-.5-.1l-.5-.4l-.5 .3l-.5 .6l-.5-.2l-.5-.6l-.5 .2l-.5 .3l-.5-.4l-.5 .6l-.5-.8l-.5 .7l-.5-.6l-.5 .6l-.5-.2l-.5-.1l-.5 .6l-.5-.6l-.5 .1l-.5 .9l-.5 2.4l-.5 3.2l-.5-3.6l-.5-2.2l-.5-.7l-.5 1.4l-.5-.6l-.5 .1l-.5-.1l-.5 .9l-.5-.7l-.5-.6l-.5 .9l-.5 0l-.5 .4l-.5 .2l-.5-.4l-.5 .2l-.5-.8l-.5 2.4l-.5 3.2l-.5-3.6l-.5-2.7l-.5 .4l-.5 .3l-.5 .6l-.5-1l-.5 .1l-.5 .1l-.5-.8l-.5 .8l-.5 .4l-.5-1.1l-.5 .1l-.5 1.1l-.5 0l-.5-.2l-.5 .5l-.5 .9l-.5-1l-.5 1.4l-.5-1.6l-.5-.4l-.5 .2l-.5 .1l-.5 0l-.5 0l-.5 0l-.5 .3l-.5 1.9l-.5-.7l-.5-1.1l-.5-.6l-.5 1.1l-.5-1.7l-.5-.1l-.5-.1l-.5 .4l-.5 .1l-.5 0l-.5 .1l-.5-.3l-.5 .1l-.5-.6l-.5-.1l-.5 .6l-.5-.1l-.5-.1l-.5 0l-.5 .6l-.5 0l-.5-.1l-.5 .5l-.5 0l-.5 .5l-.5-1.5l-.5 1.3l-.5-.9l-.5 .7l-.5-.9l-.5 1.2l-.5 .2l-.5-1.2l-.5 .8l-.5 .2l-.5 .6l-.5-.9l-.5-.8l-.5 .8l-.5-.4l-.5 0l-.5 .1l-.5 .9l-.5-1.8l-.5 1.1l-.5 .1l-.5-.7l-.5-.1l-.5 .5l-.5-.6l-.5 .2l-.5 .4l-.5-.5l-.5-.5l-.5 .7l-.5 .3l-.5-.7l-.5-.2l-.5-.1l-.5 1.4l-.5-1.2l-.5-.2l-.5 1.1l-.5-.6l-.5-.3l-.5 1.1l-.5-.2l-.5-1.3l-.5 .7l-.5 .5l-.5 0l-.5-.3l-.5 .3l-.5 0l-.5-.6l-.5 .7l-.5-1l-.5 .9l-.5-.3l-.5-.7l-.5 1.2l-.5-1.3l-.5 .5l-.5 .9l-.5-.8l-.5-.5l-.5 .8l-.5-.2l-.5-.6l-.5 .3l-.5-.8l-.5 .1l-.5 .6l-.5-.1l-.5 .3l-.5-.6l-.5 .3l-.5-.4l-.5 .3l-.5 .2l-.5-.1l-.5-.4l-.5 .4l-.5 .1l-.5 0l-.5-.7l-.5 .5l-2-.3l-2 .3l-.5-.7l-.5 .1l-.5 0l-.5 .2l-.5-.2l-.5 .1l-.5 .3l-.5-.1l-.5-.1l-.5 .6l-.5-.3l-.5-.5l-.5 .2l-.5 .1l-.5 .2l-.5-.2l-.5 0l-.5 .6l-.5-.4l-.5 .5l-.5-.1l-.5-.1l-.5-.4l-.5-.4l-.5 .2l-.5 .7l-.5 .1l-.5 .1l-.5-.9l-.5 .6l-.5-.6l-.5 .2l-.5-.2l-.5 0l-.5 0l-.5 .1l-.5 .3l-.5-.1l-.5-.2l-.5 0l-.5-.1l-.5 .1l-.5 .1l-2 .1l-2-.1l-.5 .2l-.5-.6l-.5-.1l-.5 0l-.5 .5l-.5-.3l-.5 .1l-.5 .1l-.5-.3l-.5 .6l-.5 .1l-.5-.2l-.5 .3l-.5-.7l-.5 0l-.5 .2l-.5 .2l-.5 .1l-.5 .5l-.5-.8l-.5 .5l-.5-.7l-.5 1l-.5 0l-.5 0l-.5-.5l-.5-.5l-.5 .4l-.5 0l-.5 0l-.5 .2l-.5-.7l-.5 .1l-.5 .5l-2-.1l-2-.1l-2-.4l-2 .2l-2-.1l-2 .4l-2 .1l-.5-.2l-.5-.2l-.5-.1l-.5-.1l-.5 .3l-.5-.1l-.5 .4l-.5-.3l-.5-.4l-.5 .7l-.5-.4l-.5-.3l-.5 .5l-.5-.1l-.5 .5l-.5-.5l-.5 .4l-.5 0l-.5-.4l-.5 .3l-.5 0l-.5-.4l-.5 .5l-.5 .1l-.5-.5l-.5 .4l-.5-.6l-.5 .4l-.5 .3l-.5-.5l-.5-.1l-.5 .1l-.5 .6l-.5-.8l-.5 .6l-.5-.2l-.5-.1l-.5-.1l-.5 .6l-.5 .2l-.5 0l-.5-.8l-.5 .7l-.5-.4l-.5-.3l-.5-.2l-.5 .9l-.5-.7l-.5 .1l-.5 .9l-.5-.2l-.5 .1l-.5 0l-.5-.9l-.5 .2l-.5-.2l-.5-.2l-.5-.1l-.5 .3l-.5 0l-.5-.4l-.5 .9l-.5-.6l-.5-.2l-2 .3l-2 .1l-2 0l-2-.1l-.5 .1l-.5-.1l-.5 .8l-.5-.5l-.5-.2l-.5 .2l-.5-.2l-.5 .1l-.5-.5l-.5 .1l-.5-.1l-.5 .2l-.5 0l-.5-.1l-.5 .2l-.5 .4l-.5-.5l-2 .1l-2-.1l-2 .2l-2-.1l-2-.1l-2 .1l-.5 .5l-.5 .1l-.5-.4l-.5 .2l-.5-.1l-.5 .1l-.5 1.3l-.5 .1l-.5-1.2l-.5 1.3l-.5-.4l-.5 .6l-.5-1l-.5-.6l-.5 .2l-.5 1.4l-.5-.5l-.5-1l-.5-.1l-.5 .5l-.5 .1l-.5 .7l-.5-1.2l-.5 1.2l-.5-1.1l-.5 1.4l-.5-.6l-.5 2.7l-.5 3.6l-.5-4.1l-.5-2.6l-.5 .1l-.5-.6l-.5 .9l-.5 .9l-.5 .2l-.5-.3l-.5 .2l-.5 .1l-.5-.7l-.5 .1l-.5-1.5l-.5 1l-.5-.3l-.5 0l-.5 .1l-.5-.1l-.5 .1l-.5-.3l-.5 .4l-.5 .1l-.5 0l-.5-.6l-.5 .8l-.5-.9l-.5 .1l-.5-.7l-.5 .2l-.5 .6l-.5-.7l-.5 1.1l-.5 .1l-.5-1.3l-.5 .8l-.5-.8l-.5 1.4l-.5-.6l-.5 .5l-.5-1.3l-.5 .3l-.5 0l-.5 .5l-.5-.3l-.5 1.4l-.5-.9l-.5-.3l-.5 1.3l-.5 .4l-.5-.2l-.5 .1l-.5-1.7l-.5 1.2l-.5-.3l-.5 .5l-.5 .2l-.5-1.8l-.5 1l-.5 .1l-.5-.8l-.5 .9l-.5-1.4l-.5 .7l-.5-.6l-.5-.1l-.5 .1l-.5 .1l-.5 .7l-.5-.8l-.5 .6l-.5 .1l-.5 .3l-.5 0l-.5 .2l-.5 .2l-.5-1.1l-.5 1.2l-.5-.2l-.5-.9l-.5 .4l-.5-.2l-.5-.3l-.5 .5l-.5-.1l-.5-.4l-.5 1.2l-.5 .1l-.5-.1l-.5-1.3l-.5 .2l-.5-.2l-.5 .4l-.5 .7l-.5-.6l-.5 .3l-.5 0l-.5-.3l-.5 .3l-.5-.6l-.5 .2l-.5 0l-.5-.6l-.5 1l-.5 .6l-.5-1.7l-.5 .7l-.5 .1l-.5 .4l-.5-1l-.5 .6l-.5-.2l-.5 .5l-.5 .8l-.5-1.5l-.5 1.9l-.5-.3l-.5 .1l-.5 0l-.5-1.6l-.5 .7l-.5 .5l-.5-1l-.5 .1l-.5 .7l-.5-.3l-.5 0l-.5 .1l-.5-1.5l-.5 1.2l-.5 .1l-.5-.9l-.5 .6l-.5 0l-.5-.4l-.5-.4l-.5 .4l-.5-.7l-.5-.1l-.5 1.3l-.5 .1l-.5-.7l-.5 .9l-.5-.2l-.5 1.8l-.5 .1l-.5-.8l-.5 .4l-.5 .4l-.5 .9l-.5-.9l-.5-.5l-.5-1.2l-.5 1.7l-.5-.6l-.5-.4l-.5 1.4l-.5-1.6l-.5-.9l-.5 .3l-.5-.6l-.5-.5l-.5 0l-.5 1.1l-.5-.6l-.5-.3l-.5 .6l-.5 .1l-.5-.6l-.5 .3l-.5 .9l-.5-.1l-.5-.6l-.5-.1l-.5 1.2l-.5-.8l-.5-.4l-.5 2.1l-.5-.6l-.5 .4l-.5 .5l-.5-.7l-.5-.4l-.5 .4l-.5-1.2l-.5 .6l-.5-1.1l-.5 .4l-.5 0l-.5 .7l-.5 1.7l-.5 1.2l-.5 6.3l-.5 8.4l-.5-9.4l-.5-9l-.5 .2l-.5-.7l-.5 1l-.5-1.5l-.5 .3l-.5 1l-.5 .2l-.5-.9l-.5 0l-.5-.5l-.5 .7l-.5 .8l-.5-1.5l-.5-.1l-.5 1.5l-.5-1.3l-.5 .4l-.5 0l-.5-1.1l-.5 1.1l-.5-.3l-.5 .3l-.5-.6l-.5 0l-.5 .4l-.5-.6l-.5 .1l-.5-.1l-.5 .3l-.5-.6l-.5 .8l-.5 .1l-.5-.4l-.5-.2l-.5 .5l-.5 .7l-.5-.1l-.5 .1l-.5 .1l-.5-.9l-.5 .5l-.5-.4l-.5 .3l-.5 .4l-.5-.7l-.5 .5l-.5-.6l-.5-.6l-.5 .4l-.5-.3l-.5 0l-.5-.2l-.5 .3l-.5 0l-.5 .2l-.5-.6l-.5 .1l-.5 .1l-.5-.3l-.5 .1l-.5 .6l-.5-.5l-.5-.1l-.5 .2l-.5 .5l-.5 .3l-.5-.9l-.5 .5l-.5 .3l-.5-.7l-.5-.1l-.5 .7l-.5-.2l-.5-.3l-.5 .2l-.5 .2l-.5-.8l-.5 .3l-.5 .4l-.5 0l-.5 .1l-.5 0l-.5-.7l-.5 .9l-.5-.1l-.5 .4l-.5-1.2l-.5 .2l-.5 .5l-.5-.3l-.5 .4l-.5-.5l-.5-.1l-.5 1.4l-.5 .2l-.5-.2l-.5-.7l-.5 .1l-.5 .5l-.5 .3l-.5-1.4l-.5 .3l-.5 .9l-.5 .3l-.5-.7l-.5 .3l-.5-.4l-.5-.8l-.5 0l-.5 .2l-.5 .1l-.5 .7l-.5-.3l-.5-.4l-.5 0l-.5-.4l-.5 .8l-.5-.8l-.5 .2l-.5 .4l-.5-.6l-.5 .6l-.5-.2l-.5-.8l-.5 .6l-.5-.1l-.5-.3l-.5 .1l-.5 .3l-.5 .1l-.5-.3l-.5 .1l-.5 .2l-.5 .1l-.5-.2l-.5 .5l-.5 .2l-.5 .1l-.5-.7l-.5-.3l-.5 .6l-.5 .8l-.5-1.4l-.5 .8l-.5 .6l-.5-.5l-.5 2.1l-.5 2.8l-.5-3.1l-.5-1.8l-.5-.6l-.5 1.1l-.5-1l-.5 .3l-.5 0l-.5 .4l-.5 .3l-.5-.7l-.5-.1l-.5 .6l-.5 1.6l-.5-1.8l-.5-.2l-.5 .1l-.5 .4l-.5-.4l-.5-.1l-.5-.3l-.5 .7l-.5 .1l-.5 2l-.5 4.5l-.5 6l-.5-6.7l-.5-5.8l-.5-.2l-.5 .2l-.5-.1l-.5-.9l-.5 .8l-.5-.7l-.5 1.1l-.5-.3l-.5-.5l-.5 1.2l-.5 1.7l-.5 4.8l-.5 6.4l-.5-7.2l-.5-7l-.5 .7l-.5-.1l-.5 .8l-.5-.1l-.5-.8l-.5 .1l-.5 1.3l-.5-.9l-.5-.4l-.5 .2l-.5-.5l-.5 2.1l-.5 2.8l-.5-3.1l-.5-1.9l-.5 .9l-.5-.7l-.5 .5l-.5-.6l-.5-.1l-.5 .6l-.5-1.2l-.5 .8l-.5 .5l-.5-.8l-.5 1.3l-.5-.6l-.5-.9l-.5 .6l-.5 0l-.5 .7l-.5-.4l-.5-.1l-.5 .6l-.5-.9l-.5 .4l-.5-.8l-.5 .2l-.5 .4l-.5-.1l-.5 0l-.5 1.7l-.5-.6l-.5 .4l-.5-1.4l-.5 .3l-.5 .1l-.5 1.3l-.5 .7l-.5-1.5l-.5 2.1l-.5-1.7l-.5 .7l-.5-2.3l-.5 1l-.5-1.6l-.5 .4l-.5 4.4l-.5 6.3l-.5 8.4l-.5-9.4l-.5-10.2l-.5 .2l-.5 .3l-.5-.4l-.5 .2l-.5-.1l-.5 .4l-.5-.6l-.5 1l-.5 1.6l-.5-1.8l-.5-.5l-.5 0l-.5-.1l-.5 .6l-.5 .2l-.5-.7l-.5 .6l-.5-.3l-.5 .5l-.5 1.1l-.5 2.4l-.5-2.7l-.5-.4l-.5 0l-.5-.5l-.5-.7l-.5 1.5l-.5-.9l-.5-.1l-.5 .1l-.5 .9l-.5-.7l-.5 .7l-.5-.1l-.5 .3l-.5 0l-.5-1.5l-.5 1.3l-.5-.1l-.5 0l-.5-.6l-.5-.3l-.5 .4l-.5 .5l-.5-1.1l-.5 1.3l-.5-.5l-.5 .4l-.5-.5l-.5 2.7l-.5 3.6l-.5-4.1l-.5-1.9l-.5-.1l-.5-.7l-.5-.8l-.5 1.3l-.5-.8l-.5 .6l-.5-1l-.5-.1l-.5 1.4l-.5-1.4l-.5 1.3l-.5-.6l-.5 .3l-.5-1l-.5 .4l-.5 1.2l-.5-1.6l-.5 .5l-.5 0l-.5 1.2l-.5-.9l-.5-.1l-.5 0l-.5-.5l-.5 .8l-.5-.9l-.5 1.6l-.5-1l-.5 .1l-.5 .4l-.5 .3l-.5-.1l-.5-1.1l-.5 .3l-.5-.6l-.5 .2l-.5 0l-.5 .2l-.5-.7l-.5 0l-.5 .9l-.5-.6l-.5 .3l-.5-.3l-.5-.2l-.5 .6l-.5 1.2l-.5-1l-.5-1l-.5 .5l-.5 .3l-.5-.2l-.5-.4l-.5 .5l-.5 .5l-.5-.7l-.5 .9l-.5 .2l-.5-1.1l-.5-.3l-.5 .6l-.5-.1l-.5-.3l-.5-.3l-.5-.2l-.5 .7l-.5-.7l-.5 .4l-.5 0l-.5 .4l-.5-.8l-.5 .7l-.5-.4l-.5 .4l-.5-.5l-.5-.3l-.5 .5l-.5-.2l-.5 .5l-.5-.1l-.5-.3l-.5-.4l-.5 .8l-.5-.2l-2-.3l-2 0l-2 .3l-2 .1l-.5 0l-.5 0l-.5-.1l-.5-.2l-.5 0l-.5 .4l-.5-.6l-.5 0l-.5 .8l-.5-.6l-.5-.1l-.5 .4l-.5-.6l-.5 .6l-.5-.6l-.5 .5l-.5-.4l-2 .4l-2-.2l-.5 .1l-.5-.1l-.5-.4l-.5 .2l-.5 0l-.5 0l-.5-.2l-.5 .7l-.5-.6l-.5 .4l-.5-.2l-.5 .5l-.5-.6l-.5 .5l-.5-.5l-.5 .5l-.5 .5l-.5-.7l-.5 .5l-.5 .1l-.5-.3l-.5-.3l-.5-.1l-.5 0l-.5 .6l-.5 .1l-.5-.8l-.5 .2l-.5 .4l-.5-.2l-.5 .2l-.5 0l-.5-.9l-.5 .6l-.5 0l-.5-.6l-.5 .4l-.5 .3l-.5-.6l-.5 .5l-.5 .2l-.5-.3l-.5 .3l-2-.1l-2-.3l-2-.1l-2-.1l-2 .2l-.5-.1l-.5 .2l-.5-.3l-.5 .9l-.5-.2l-.5-.2l-.5 .9l-.5-.5l-.5 1.3l-.5-.6l-.5-.8l-.5 1.7l-.5-1.3l-.5 .5l-.5 .2l-.5-.9l-.5 0l-.5 1.3l-.5-1.3l-.5 .3l-.5 0l-.5 1.1l-.5-.6l-.5 .1l-.5-1.5l-.5 .1l-.5 .5l-.5 1.6l-.5 3.6l-.5 4.8l-.5-5.4l-.5-5.1l-.5 .5l-.5 0l-.5-.1l-.5-.8l-.5 .1l-.5 .8l-.5 0l-.5-.1l-.5-.4l-.5-.3l-.5 .5l-.5 .9l-.5-.7l-.5 1.5l-.5 .2l-.5 3.6l-.5 4.8l-.5-5.4l-.5-5.2l-.5 .7l-.5-.4l-.5-.3l-.5 .8l-.5 .3l-.5 .3l-.5-.6l-.5-.5l-.5 0l-.5 .6l-.5 .3l-.5-1.1l-.5 1.3l-.5-1.2l-.5 .7l-.5 1l-.5-.6l-.5 1l-.5-.7l-.5 1.5l-.5-1.4l-.5-.1l-.5-.1l-.5 .1l-.5 1.5l-.5-1l-.5 .7l-.5-.1l-.5-1l-.5-.7l-.5-.2l-.5-.2l-.5 0l-.5 .5l-.5-.2l-.5-.7l-.5 .8l-.5-.2l-.5 .3l-.5-.7l-.5 .9l-.5-.3l-.5-.8l-.5 .4l-.5 .7l-.5 .5l-.5-1.6l-.5 1.7l-.5-.6l-.5 .6l-.5-.7l-.5 .8l-.5 .2l-.5-1.8l-.5 .2l-.5 .1l-.5 .9l-.5 .3l-.5 .4l-.5-.9l-.5 1.1l-.5-1.9l-.5 1.7l-.5-1.6l-.5 1.4l-.5-1.3l-.5-.1l-.5 0l-.5-.5l-.5 .4l-.5-.1l-.5-.3l-.5 .4l-.5-.5l-.5 .3l-.5 .1l-.5-.5l-.5-.1l-.5 .1l-.5 .1l-.5 .7l-.5-1.1l-.5 1.2l-.5-.6l-.5 .5l-.5-.4l-.5 0l-.5-.3l-.5-.1l-.5 .2l-.5 0l-.5 1l-.5-.6l-.5 .7l-.5 .7l-.5 .2l-.5-1.1l-.5-.1l-.5 .6l-.5 .2l-.5 .5l-.5-.2l-.5-1.7l-.5 1.5l-.5-1.2l-.5-.3l-.5-.3l-.5 .4l-.5 .5l-.5-.3l-.5-.8l-.5 .7l-.5-.4l-.5-.3l-.5 .5l-.5 .3l-.5 0l-.5-.1l-.5-.3l-.5 .5l-.5-.9l-.5 .7l-.5-.5l-.5-.3l-.5 .6l-.5-.3l-.5 .4l-.5 .4l-.5-.8l-.5 .8l-.5-.3l-.5-.1l-.5 .5l-.5 .3l-.5-.7l-.5-.4l-.5 1.3l-.5-1l-.5 1l-.5 0l-.5-.8l-.5 .9l-.5-1.2l-.5 .8l-.5-.1l-.5 .7l-.5-1.6l-.5 .7l-.5 .6l-.5-1.4l-.5 .8l-.5 .5l-.5-.2l-.5 0l-.5-.8l-.5 0l-.5 .1l-.5-.4l-.5 .1l-.5 .1l-.5-.2l-.5-.4l-.5 .8l-.5 .3l-.5-.8l-.5 1l-.5-.5l-.5-.5l-.5 .3l-.5 0l-.5 .1l-.5 .3l-.5 .5l-.5 .1l-.5-.1l-.5-.8l-.5 .3l-.5-.1l-.5-.6l-.5-.3l-.5 .9l-.5-.7l-.5 .5l-.5-.3l-.5 .1l-.5 .9l-.5 .6l-.5-1.2l-.5 1.7l-.5-1.4l-.5 1.6l-.5-.3l-.5 .5l-.5-.2l-.5 .7l-.5-.2l-.5-.1l-.5-.5l-.5 .7l-.5-2.1l-.5 .2l-.5 .2l-.5-.4l-.5 .2l-.5-.8l-.5-.7l-.5 .2l-.5-.2l-.5 1.7l-.5 2.7l-.5 3.6l-.5-4.1l-.5-3.3l-.5-.4l-.5 .2l-.5-.2l-.5 .6l-.5 0l-.5 .6l-.5 0l-.5 .4l-.5-.7l-.5-.3l-.5 1.8l-.5-.6l-.5 .1l-.5-.8l-.5 .3l-.5 .2l-.5-.8l-.5 .9l-.5-1.2l-.5 .5l-.5 .2l-.5-.6l-.5 .3l-.5 .4l-.5-.3l-.5 .2l-.5-.7l-.5-.1l-.5 1.2l-.5-.8l-.5-.3l-.5 .2l-.5-.1l-.5 1l-.5 0l-.5-.2l-.5 .3l-.5 0l-.5 1.7l-.5-1.2l-.5-1.1l-.5 1.6l-.5-.5l-.5 .6l-.5-1.6l-.5-.2l-.5-.2l-.5 .2l-.5 .1l-.5-.7l-.5-.2l-.5-.2l-.5 .4l-.5-.1l-.5 0l-.5 .2l-.5-.4l-.5 .8l-.5-.2l-.5 .2l-.5-.1l-.5 .2l-.5-.9l-.5 .3l-.5 .9l-.5-1.3l-.5 .1l-.5 .2l-.5 .8l-.5-1.1l-.5 .3l-.5-.2l-.5 .2l-.5-.3l-.5 .3l-.5 .5l-.5-.1l-.5-.1l-.5-.8l-.5 .8l-.5 1.2l-.5-1.4l-.5-.7l-.5 .4l-.5 0l-.5-.4l-.5 .6l-.5 .1l-.5-.2l-.5-.4l-.5 .2l-.5 .4l-.5-.8l-.5 .9l-.5-.1l-.5 .3l-.5-.8l-.5 0l-.5 .9l-.5-.8l-.5 1l-.5-.4l-.5 .4l-.5-.5l-.5 .2l-.5 .1l-.5 .5l-.5-1l-.5 .4l-.5-.5l-.5 .5l-.5 .8l-.5-.1l-.5-.9l-.5 .3l-.5 .8l-.5-.7l-.5-.3l-.5 .8l-.5-1.3l-.5 1l-.5-.5l-.5 .7l-.5-.9l-.5-.4l-.5 0l-.5 1l-.5 .2l-.5-1.3l-.5 .9l-.5 .1l-.5-.2l-.5 0l-.5 0l-.5 1.1l-.5 2l-.5-2.3l-.5-1.3l-.5 0l-.5 .3l-.5-.5l-.5 1.1l-.5-.5l-.5 .2l-.5-.7l-.5 .9l-.5 .3l-.5-.3l-.5-.4l-.5 .3l-.5-.6l-.5 1.2l-.5 0l-.5-1.2l-.5 .2l-.5 1.1l-.5-.2l-.5-.4l-.5-.5l-.5 .3l-.5 0l-.5-.3l-.5 .4l-.5 .3l-.5-1.4l-.5 .8l-.5-.7l-2 .4l-2-.6l-2 0l-.5 .1l-.5 .8l-.5 1.2l-.5-1.4l-.5-.7l-.5 .2l-.5-.2l-2 .1l-2 .4l-2 0l-.5 .1l-.5 .1l-.5 0l-.5-.2l-.5-.4l-.5 .3l-.5 .2l-.5-.1l-.5-.4l-.5 .5l-2 0l-.5-.4l-.5 .1l-.5 .8l-.5-.6l-.5-.1l-2 .1l-2 0l-2-.2l-.5-.4l-.5 .1l-.5 .3l-.5 .8l-.5-.9l-.5 .5l-.5 .1l-.5-.4l-.5-.3l-.5 0l-.5 .7l-.5-.6l-.5 .8l-.5-.6l-.5 .2l-.5 .2l-.5-.5l-.5 .5l-.5-.7l-.5 .1l-.5 .7l-.5-.6l-.5-.1l-.5-.1l-2 .4l-2-.3l-2 0l-2-.2l-2 .2l-.5 .1l-.5 1.2l-.5 1.6l-.5-1.8l-.5-1.3l-.5 .2l-.5 .1l-2 .1l-2 .2l-2-.1l-2-.1l-2 0l-2-.1l-2 .1l-2 0l-2 .1l-2-.1l-.5-.4l-.5 .2l-.5 .4l-.5-.2l-.5 .2l-.5 .1l-.5-.1l-.5-.3l-.5-.3l-.5 .7l-.5 .2l-.5-.1l-.5 .1l-.5-.8l-.5 .2l-.5 .4l-.5 .3l-.5 0l-.5-.3l-.5-.6l-.5 .7l-.5-.6l-.5-.1l-.5 .1l-.5-.1l-.5 .7l-.5-.2l-.5-.5l-.5-.1l-.5 .4l-.5 0l-.5-.4l-.5 .5l-.5-.1l-.5 .1l-.5-.3l-.5-.3l-2 .3l-2 .1l-2 .2l-2-.1l-2-.1l-.5-.4l-.5 .2l-.5-.1l-.5 .3l-.5 0l-2 .1l-.5 .2l-.5-.3l-.5 .8l-.5-.9l-.5 0l-.5 0l-2-.1l-2 .2l-2-.1l-2 .1l-.5-.5l-.5 .8l-.5 0l-.5-.4l-.5 .3l-.5 .3l-.5-.8l-.5 .3l-.5-.2l-.5 .9l-.5-.3l-.5 .1l-.5 .2l-.5-.4l-.5-.4l-.5-.1l-.5 1l-.5 .4l-.5 1.6l-.5-1.8l-.5-.2l-.5 .1l-.5-.4l-.5-.3l-.5 0l-.5-.5l-.5 .3l-.5 .5l-.5-.5l-.5 .4l-.5-.7l-2 .6l-2-.3l-2 0l-2 .1l-.5-.5l-.5 .5l-.5-.2l-.5 .5l-.5-.2l-.5 .2l-.5 .1l-.5-.7l-.5-.2l-.5 .1l-.5 .8l-.5 0l-.5-.7l-.5-.2l-.5 .7l-2 0l-2-.3l-2-.2l-2 0l-.5 .2l-.5 1.2l-.5 1.6l-.5-1.8l-.5-1.3l-.5 .2l-.5-.2l-2 .4l-2-.1l-.5-.1l-.5 0l-.5 0l-.5 .4l-.5 .1l-.5-.1l-.5-.4l-.5 .1l-.5 .1l-.5 .4l-.5-.3l-.5 .2l-.5-.4l-.5-.1l-.5 0l-.5 .5l-.5-.4l-.5 .1l-.5 .1l-.5 .3l-.5-.4l-.5 .1l-.5 .2l-.5-.7l-.5 .4l-.5 .1l-.5-.2l-.5 .2l-.5-.6l-.5 .4l-.5-.4l-.5 .4l-.5 0l-.5-.4l-.5 .8l-.5 0l-.5-.3l-.5-.3l-.5 .2l-.5 .2l-.5 .2l-.5-.2l-.5-.2l-.5 0l-.5-.2l-.5 .3l-.5 .5l-.5-.8l-.5 0l-.5 .5l-.5 .3l-.5-.4l-.5-.5l-.5 .4l-.5 .3l-.5-.1l-.5-.3l-.5-.1l-.5-.2l-.5 .3l-.5 .3l-.5-.3l-.5 .1l-.5-.1l-2 .1l-2-.3l-2-.2l-.5 0l-.5 .4l-.5 .8l-.5-.9l-.5-.1l-2 .1l-2 .1l-2 0l-.5-.4l-.5 .6l-.5 .3l-.5-.2l-.5 0l-.5-.6l-.5 .5l-.5-.3l-.5 .2l-.5 .1l-.5 .4l-.5-.4l-.5 .2l-.5 .1l-.5 .2l-.5-.8l-.5 .5l-.5 .1l-.5-.1l-.5-.6l-.5 .3l-.5-.3l-.5 .1l-.5 .3l-.5-.4l-.5 .2l-.5-.2l-.5 .5l-.5 .4l-.5-.9l-.5 .4l-.5 0l-.5-.5l-.5 .3l-.5-.1l-.5 .4l-.5-.2l-.5-.1l-.5 .3l-.5-.1l-.5-.2l-.5 .4l-.5-.4l-.5 .6l-.5-.3l-.5 .4l-.5-.4l-.5-.5l-.5 .9l-.5-.4l-.5 .4l-.5-.4l-.5 0l-.5 .1l-.5-.3l-.5-.2l-.5 .8l-.5 0l-.5-.7l-.5 .8l-.5-.3l-.5 .5l-.5-1l-.5 .8l-.5-.1l-.5 .4l-.5-.1l-.5-.6l-.5 .1l-.5 .3l-.5-.5l-.5 1l-.5-.7l-.5 .2l-.5-.6l-.5 1.3l-.5-.6l-.5-.6l-.5 .3l-.5-.5l-.5 .9l-.5-.1l-.5-.8l-.5-.4l-2 .4l-2 0l-.5 .2l-.5-.6l-.5 .5l-.5-.4l-.5 .6l-.5-.6l-.5 .3l-.5 .4l-.5-.3l-.5-.2l-.5 .5l-.5-.4l-.5 .6l-.5-.4l-.5-.5l-.5 1.4l-.5-.7l-.5 .4l-.5-.8l-.5 .9l-.5-.3l-.5 0l-.5-.3l-.5-.3l-.5 .1l-.5 .9l-.5-.6l-.5 1.1l-.5-.8l-.5-.5l-.5 .5l-.5 .5l-.5-.2l-.5 .1l-.5-1.3l-.5 .4l-.5-.2l-.5 .4l-.5-.3l-.5 1.1l-.5-.7l-.5 .2l-.5-.2l-.5 .8l-.5 .1l-.5-1l-.5 1.2l-.5-.2l-.5-.1l-.5-.6l-.5 .3l-.5-.1l-.5 .5l-.5-.7l-.5 .8l-.5-.6l-.5 .1l-.5-.9l-.5 1.2l-.5-.1l-.5 .3l-.5-.5l-.5-.4l-.5 .3l-.5 .1l-.5-.3l-.5-.6l-.5 .5l-.5 .4l-.5-.4l-.5-1l-.5 .3l-.5-.4l-.5 .2l-.5 .5l-.5-.6l-.5 .7l-.5-.6l-.5 .3l-.5 0l-.5 .1l-.5 .3l-.5-.7l-.5 1l-.5 .6l-.5-.9l-.5 1.4l-.5-1.3l-.5 1.5l-.5-1.4l-.5 .1l-.5 1.9l-.5-1.9l-.5 1l-.5-1.1l-.5 1.6l-.5-1.4l-.5-.4l-.5 .9l-.5 .2l-.5-.5l-.5-.2l-.5-1.1l-.5 .3l-.5-.1l-.5 .8l-.5-1.1l-.5 .7l-.5 .1l-.5-.7l-.5 .1l-.5 .8l-.5-.9l-.5 .3l-.5 1.1l-.5 1.6l-.5-1.8l-.5-1.1l-.5 0l-.5 .8l-.5-.4l-.5 .2l-.5 .3l-.5-.7l-.5 .4l-.5-.6l-.5 1.2l-.5 0l-.5-.4l-.5-.5l-.5 .5l-.5 0l-.5 0l-.5 .9l-.5-1.2l-.5 .6l-.5 .2l-.5 .7l-.5-.7l-.5 .9l-.5-1.6l-.5 .6l-.5 1.2l-.5 0l-.5-1.4l-.5 1.5l-.5-.3l-.5-.6l-.5-.5l-.5 1l-.5-1.1l-.5 .2l-.5-.5l-.5-.7l-.5 1.3l-.5 2.4l-.5 3.2l-.5-3.6l-.5-3.3l-.5 .4l-.5-.6l-.5 .2l-.5 .6l-.5-.3l-.5 .4l-.5-.4l-.5-.1l-.5-.3l-.5 .8l-.5 .1l-.5-.2l-.5-.7l-.5 .3l-.5 0l-.5 .5l-.5-.3l-.5 .4l-.5-.1l-.5 .6l-.5 1.6l-.5-1.8l-.5 0l-.5-.7l-.5 .1l-.5 .5l-.5-.6l-.5 .7l-.5 0l-.5-.3l-.5-.7l-.5-.1l-.5 .2l-.5 0l-.5 .3l-.5-.3l-.5 .1l-.5-.1l-.5-.4l-.5 .4l-.5-.3l-.5 .3l-.5 .2l-.5 1.5l-.5 2l-.5-2.3l-.5-1.2l-.5-.3l-.5 .4l-.5 .1l-.5-.8l-.5 0l-.5 .1l-.5 .7l-.5 .1l-.5-.2l-.5 .5l-.5-1.1l-.5 .9l-.5-.8l-.5 .9l-.5-.7l-.5 0l-.5 .5l-.5 0l-.5 .6l-.5-.4l-.5 .7l-.5-.1l-.5-1.1l-.5 1l-.5-1.1l-.5 .2l-.5 .3l-.5 .4l-.5-.7l-.5 .4l-.5-.4l-.5 .2l-.5 .2l-.5 .3l-.5 .7l-.5 2l-.5-2.3l-.5-.5l-.5-1l-.5 .6l-.5-.7l-.5 1l-.5-.5l-.5 1.4l-.5 2l-.5-2.3l-.5-1.6l-.5-.1l-.5 1.1l-.5-1l-.5 .6l-.5-.4l-.5 0l-.5 .3l-.5-.3l-.5-.2l-.5 .4l-.5-.3l-.5 0l-.5 1.1l-.5-.7l-.5-.5l-.5 .5l-.5-.5l-.5 .5l-.5-.5l-.5 0l-2-.3l-.5-.1l-.5 .5l-.5 .8l-.5-.9l-.5-.2l-2-.1l-2-.1l-2 .1l-2 0l-2 .1l-2 .1l-2-.3l-2 .2l-2 .7l-.5-.4l-.5 .1l-.5 0l-.5 .1l-.5 .3l-.5 0l-.5-.3l-.5-.3l-2-.1l-2-.2l-2-.1l-2 .2l-2-.2l-2 .2l-2 0l-2-.1l-2 .2l-2-.1l-2 .2l-.5 0l-.5 .2l-.5 .3l-.5-.6l-.5 .4l-.5 .1l-.5 .2l-.5-.6l-.5-.1l-2 .3l-2-.5l-2 0l-2 .1l-2 0l-2 0l-2-.2l-2 .2l-2-.1l-2 0l-2 .1l-2 .1l-2-.2l-2 .2l-2-.2l-2 .2l-2-.1l-2 0l-2 .1l-2-.1l-2 0l-2-.1l-2 0l-2 .1l-2-.1l-2 0l-2 .1l-2-.2l-2 .2l-2-.2l-2 .2l-2-.1l-2 .1l-2 0l-.5 .1l-.5 .2l-.5 .8l-.5-.9l-.5-.3l-.5-.1l-2 .2l-2 0l-2 0l-2 0l-2 .1l-2-.1l-2 0l-2-.1l-2 0l-2 0l-2 .1l-2-.1l-2 0l-2 .2l-2-.3l-2 .1l-2 0l-2-.1l-2 .2l-2-.1l-2 .2l-2 .6l-.5-.5l-.5 .6l-.5 0l-.5 .6l-.5-.1l-.5-.8l-.5 .5l-.5-.3l-.5 .6l-.5 .5l-.5 .7l-.5-1.2l-.5 1.6l-.5 .2l-.5-.1l-.5-1.8l-.5 .4l-.5-.1l-.5-.5l-.5-.2l-.5-.1l-.5 .6l-.5-.3l-.5 1.3l-.5-1l-.5 .2l-.5 1.3l-.5 1.4l-.5 5.1l-.5 6.8l-.5-7.6l-.5-7l-.5-1.2l-2-.4l-2 .1l-2-.1l-2 0l-2 0l-2-.1l-2 .1l-2-.1l-2 .2l-2 0l-2 0l-2 0l-2 0l-2 .1l-.5-.3l-.5 .5l-.5 .8l-.5-.9l-.5-.4l-.5 0l-.5 .3l-.5-.1l-2 0l-2-.2l-2 .3l-2-.1l-2-.1l-2 0l-2 .2l-2 0l-2-.2l-2 .1l-2 0l-2-.2l-2 .1l-2 .2l-2-.1Z" fill="#0505d8" stroke="#0505d8" stroke-width="0.7" stroke-linejoin="round"/>
<path d="M121.2,355.5l2 0l2 .1l2 .1l2 0l2-.2l2 0l2 .1l2 .1l2-.2l2 0l2 .1l2 0l2 .1l2-.1l2 0l.5-.2l.5 .3l.5-.3l.5-1.1l.5-1.8l.5 1.6l.5 1.2l.5 .4l2 0l2-.1l2 .1l2-.1l2-.1l2 .1l2-.2l2 .1l2 .2l2 0l2 0l2 0l2-.3l2-.7l.5-5.2l.5-13.9l.5-17.1l.5 15.2l.5 9.4l.5 5.4l.5 .6l.5 2l.5-1.1l.5-.3l.5 2.2l.5 1.3l.5 .4l.5 .1l.5-2.1l.5 .6l.5 .8l.5 .3l.5-1.7l.5-1.4l.5 1.5l.5-.1l.5-.6l.5 .8l.5 .5l.5 .2l.5-.2l.5 1.8l.5-.5l.5-.2l.5 .4l.5-.3l.5 .9l.5 .9l.5-.1l.5-.5l.5 .3l2 .6l2-.1l2 .2l2-.1l2-.1l2-.1l2 0l2 .3l2-.2l2 .1l2-.2l2 .2l2-.2l2 .2l2 0l2-.1l2 0l2 0l2 .1l2 0l2 0l.5 .1l.5-.8l.5-1.4l.5 1.2l.5 .9l.5-.1l2 .2l2 0l2-.2l2 .1l2 0l2-.1l2 .2l2-.1l2-.1l2 0l2-.3l2 .2l.5-.6l.5 .2l.5 0l.5-.1l.5 .1l.5-.2l.5 .8l.5-.9l.5 .2l.5 .5l.5-.7l.5 .4l.5 .1l.5 .4l.5-.7l.5 .5l.5 .1l.5-.6l.5 .2l.5 0l.5 .1l.5 .1l.5-.1l.5 0l.5-.1l2 .3l2-.1l2-.1l2 .2l2-.2l2 .4l2-.1l2 .1l2-.1l2 0l2 .1l2 0l2 .1l2-.3l2 0l.5-1.1l.5 .3l.5-.9l.5 .6l.5 .4l.5-1l.5 1.4l.5-1.3l.5 1.4l.5-.6l.5 .2l.5 .3l.5-.8l.5 .7l.5 .5l.5-.3l.5-.1l2 .4l2 .1l2-.1l2-.3l2 .2l2-.3l2 .3l2-.2l2 .3l.5-1l.5 .6l.5-.8l.5-.5l.5 0l.5 .5l.5-.6l.5 0l.5 .6l.5-.2l.5 .8l.5 .4l.5-.5l.5 .3l.5 .2l2 .2l2 0l2-.1l2 .3l2-.3l2 .2l2-.3l2 .1l.5-1.1l.5-1.8l.5 1.6l.5 .8l.5-.1l.5 .8l.5-.5l.5-.2l.5-.1l.5 0l.5-1.2l.5 1.2l.5-.1l.5-1.2l.5 .5l.5-.3l.5 .2l.5-.2l.5-1l.5 1.1l.5 .6l.5-1.1l.5-1l.5 1.8l.5 .2l.5-1.3l.5-.4l.5 1.6l.5-.9l.5-2.3l.5-4.5l.5 4l.5 .8l.5 1.4l.5-.4l.5 1.5l.5-1.3l.5 .4l.5-.8l.5-3.6l.5 3.2l.5 2.2l.5-.3l.5-.1l.5 .6l.5-1.1l.5-.3l.5-.5l.5 1.6l.5-1.2l.5-.1l.5 2.1l.5-1.4l.5 .5l.5 .9l.5 0l.5 0l.5 0l.5-.3l.5 .2l.5-1.1l.5 .6l.5 .3l.5 .4l.5-1.4l.5 .9l.5-.7l.5 1l.5-1.4l.5-.2l.5 1.4l.5-.3l.5-.3l.5 .2l.5-.9l.5 1.5l.5-2.9l.5-4.1l.5 3.6l.5 2.7l.5-.7l.5 .4l.5-1.1l.5 1.4l.5-.4l.5-.5l.5-.3l.5 .8l.5 .7l.5 0l.5 0l.5-.7l.5 1.3l.5-1l.5 .2l.5 1l.5-.9l.5-.4l.5 .1l.5 1.4l.5-2.5l.5-3.1l.5 2.8l.5 1.4l.5 .5l.5 .5l.5-.4l.5 .5l.5-.8l.5-.2l.5 .8l.5-.1l.5-1.8l.5 .9l.5 .9l.5-1.5l.5 1.1l.5-1.8l.5 .9l.5-1.4l.5 .3l.5 .4l.5 1.1l.5-5.4l.5-6.7l.5 6l.5 4.5l.5 .7l.5 0l.5-.8l.5 1.9l.5-2.6l.5 1.6l.5-.6l.5-1.1l.5-.3l.5 1l.5-.8l.5-.1l.5 2.5l.5-.4l.5-.1l.5 .4l.5-1.6l.5 1.1l.5-.3l.5 .3l.5-.6l.5 2l.5-.4l.5-.1l.5 .2l.5-.1l.5 .9l.5-1.5l.5 .9l.5 0l.5-1.7l.5 1.2l.5-.5l.5 .2l.5-.6l.5 1.2l.5-1.3l.5-1l.5-4.1l.5 3.6l.5 1.4l.5 .1l.5 .8l.5 .3l.5-.1l.5 .8l.5-1.2l.5 .8l.5-1.1l.5 .3l.5 .9l.5-.9l.5 0l.5-1.2l.5-.5l.5-1.2l.5 .2l.5-.8l.5 1.4l.5-.7l.5 .8l.5 1.4l.5-3.4l.5 3.2l.5-2.8l.5 2.5l.5 .4l.5-1.4l.5 .1l.5 2.3l.5 .5l.5 .4l.5-1.3l.5 1l.5-.8l.5 1.1l.5-1.2l.5 .6l.5 .6l.5-1.4l.5 .8l.5 .2l.5 .3l.5-.9l.5 0l.5-1.7l.5 .3l.5-.5l.5 1.4l.5 0l.5 .1l.5-2.3l.5 1l.5 2.1l.5-1.3l.5 1.4l.5-.9l.5-.4l.5 .6l.5-1l.5 1.9l.5-2l.5 2.1l.5-1.2l.5 .7l.5-.9l.5 .6l.5-.4l.5 1l.5-1.4l.5 1l.5-.8l.5-.4l.5-.1l.5 1.5l.5-1l.5 1.5l.5-1.7l.5 .4l.5 .8l.5 .2l.5-1.6l.5 1.4l.5-2l.5 .8l.5 1.5l.5-1.3l.5-1.1l.5 .2l.5 1.9l.5-.5l.5-.6l.5 1.5l.5-.9l.5 .4l.5 0l.5-.2l.5 1l.5 .6l.5-1.3l.5 .7l.5 .3l.5 .3l.5-.9l.5 .2l.5 0l.5 1.1l.5-.9l.5 .3l.5 .1l.5 .4l.5-.5l.5 .6l.5-.1l.5-.3l.5 .3l.5-.2l.5 0l.5 .5l.5-.3l.5-.4l.5-.7l.5-.1l.5 0l.5 .3l.5 0l.5-.3l.5-.7l.5 1.3l.5-.4l.5-.5l.5 .3l.5 .4l.5-1.7l.5 .6l.5 1.2l.5-2l.5 1.3l.5-.1l.5 .1l.5 .8l.5-.6l.5 .4l.5-.6l.5 .8l.5-.3l.5-.2l.5 .6l.5 .3l.5 0l.5-1.2l.5 .5l.5 .3l.5-.4l.5 0l.5-.4l.5 .3l.5-.2l.5-.1l.5 .3l.5 .4l.5 0l.5 .5l.5-.1l.5-.7l.5 .1l.5 .7l.5-.6l.5-.5l.5 .7l.5-1l.5 1l.5 0l.5-.7l.5 .6l.5-1.3l.5-.1l.5 .2l.5 .5l.5 .1l.5-.3l.5 0l.5 1.1l.5-1.2l.5-.4l.5 .3l.5 1.1l.5-.8l.5 .7l.5 .4l.5-.3l.5-.3l.5 .8l.5-.4l.5-.6l.5 .2l.5-.1l.5 .1l.5 .7l.5-.3l.5 .5l.5-.1l.5-.3l.5 .3l.5-.1l.5-.1l.5-.1l.5 .1l.5 0l.5 0l.5 .2l.5-.6l.5 .6l.5 .3l.5-.9l.5 .1l.5 .4l.5-.6l.5 .3l.5-.5l.5-1.8l.5 1.6l.5 .8l.5-.6l.5 .8l.5-.3l.5 .3l.5 0l.5-.9l.5 .7l.5 .4l.5-.7l.5 .1l.5-.3l.5-.1l.5-.5l.5 .5l.5-.6l.5 0l.5 .8l.5-.4l.5 0l.5-.1l.5 .1l.5 .9l.5-.7l.5-.2l.5 1.1l.5-1.2l.5 .1l.5 .1l.5 .4l.5 .3l.5 .2l.5-.2l.5-.9l.5 1.2l.5-.8l.5 .5l.5-1l.5 .5l.5 .1l.5-.9l.5 .8l.5-1.2l.5 1.6l.5-1.3l.5 .5l.5 0l.5 .3l.5-.1l.5 .2l.5-.5l.5 .5l.5 .5l.5-.8l.5 .6l.5-.9l.5 0l.5 .7l.5-.2l.5-.1l.5-.5l.5 .3l.5 .6l.5 .3l.5-.8l.5 .3l.5 .3l.5 0l.5-.2l.5 .8l.5-.8l.5 .7l.5-.3l.5 .4l.5 .1l.5-.3l.5-.2l.5-.4l.5 1l.5-.3l.5 .2l.5-.8l.5 .3l.5-.6l.5 1l.5-1l.5-.2l.5 .8l.5-1.7l.5-2.7l.5 2.4l.5 1.3l.5 .9l.5 .1l.5 0l.5-.1l.5-.9l.5-.3l.5 .2l.5 .2l.5-.3l.5 .9l.5-.2l.5 .7l.5-.8l.5 0l.5 .3l.5 .4l.5-1l.5 .4l.5 .6l.5-.2l.5 .5l.5-.5l.5 .3l.5-.2l.5 .2l.5 0l.5-.2l.5-.6l.5-.3l.5 .7l.5-.2l.5-.5l.5-.2l.5 0l.5 .7l.5-1l.5 .5l.5 .2l.5-.2l.5-.4l.5-.1l.5 1l.5-.5l.5 .1l.5-1.3l.5 1.7l.5-.2l.5 .1l.5-.3l.5 .1l.5-1l.5 1.1l.5-.7l.5 .9l.5-.9l.5-.4l.5 .5l.5-.2l.5-.6l.5-2.7l.5 2.4l.5 1.8l.5 .1l.5-.2l.5 .3l.5-.1l.5 .3l.5-.6l.5-.2l.5-.4l.5-.4l.5 1.6l.5-1.4l.5 .8l.5-.2l.5-.5l.5 1.5l.5-.6l.5 .5l.5-.3l.5-.9l.5 .8l.5-.2l.5-.3l.5 .7l.5-.8l.5 .6l.5-.9l.5 .6l.5-.5l.5 .9l.5-.2l.5-.6l.5 .9l.5-.4l.5 .4l.5-.3l.5-1.2l.5 1.2l.5 0l.5-.2l.5 0l.5 .5l.5-.5l.5 .9l.5 0l.5 .2l.5-.5l.5 .3l.5-.5l.5 0l.5 .6l.5 0l.5-.5l.5-.1l.5 .6l.5-.1l.5-.3l.5 0l.5-.1l.5 .4l.5-.5l.5 .2l.5 .1l.5 .1l.5-.7l.5 .8l.5-1.2l.5 .2l.5 .3l.5-.8l.5 .4l.5-.3l.5 1.1l.5-.6l.5-.4l.5 1l.5-1.5l.5 .2l.5 .4l.5 .5l.5-1l.5 1.2l.5-.2l.5-.1l.5 .3l.5-1l.5 .6l.5 .7l.5-.3l.5-.1l.5 .2l.5-.1l.5 0l.5 .6l.5-.8l.5 .2l.5-.6l.5 1l.5-.4l.5-.2l.5 .3l.5-.5l.5 .6l.5 0l.5-.8l.5 .4l.5 .4l.5-.7l.5 .5l.5 .3l.5-.9l.5 .5l.5 .6l.5-.6l.5 .1l.5-.4l.5 .2l.5-.5l.5 .6l.5 .3l.5-1.1l.5 .9l.5 .4l.5-.3l.5-.3l.5 .1l.5-.2l.5 .9l.5 .1l.5-.1l.5-.4l.5-.2l.5 .4l.5 .3l.5-.1l.5 .2l.5-.6l.5 0l2-.1l2 .1l.5 0l.5 .3l.5-.5l.5-1.4l.5 1.2l.5 .7l.5-.2l.5 .4l.5-1.2l.5 .4l.5-.4l.5 .9l.5-.2l.5 .2l.5-1.1l.5 1.1l.5-1l.5 .8l.5-.2l.5-1l.5 .7l.5 .5l.5-.3l.5 .3l.5-.6l.5 .4l.5-.7l.5 .3l.5 .5l.5 .2l.5 .1l.5-.9l.5 .5l.5 .5l.5-1.2l.5 .6l.5-.5l.5 1.1l.5-.6l.5-.1l.5 .8l.5-.6l.5-.3l.5-.1l.5 .9l.5-.5l.5-1.4l.5 1.2l.5-.6l.5 .3l.5-.2l.5 .7l.5 .3l.5-.8l.5 .4l.5-.7l.5 .1l.5-.2l.5-.1l.5 1.4l.5-.5l.5-1l.5 .7l.5-.7l.5-2.3l.5 2l.5 1.1l.5-.6l.5 1l.5 0l.5-.6l.5 .6l.5 .4l.5-.8l.5 .4l.5-.2l.5 .5l.5 .2l.5-.6l.5 .6l.5 .1l.5 .1l.5-.7l2 .3l2-.3l2 .6l.5-.1l.5-1.7l.5-2.3l.5 2l.5 1.3l.5 .1l.5 .4l.5 0l.5-.4l.5-.7l.5 1.1l.5-.6l.5-.4l.5 .4l.5-.3l.5-.8l.5 .9l.5-.8l.5 .2l.5-.1l.5-.2l.5 .9l.5-.5l.5 .9l.5-1l.5-.3l.5 .6l.5 .3l.5 .4l.5-.5l.5-.4l.5 .8l.5 0l.5-.2l.5 .6l.5 0l.5-1.2l.5-.1l.5 .3l.5 .2l.5-.4l.5 .2l.5 .1l.5 .1l.5-.5l.5-.5l.5 1.1l.5-2.9l.5-4.1l.5 3.6l.5 2.3l.5 1.4l.5-.3l.5-.9l.5 0l.5 1l.5-1.1l.5 .4l.5-1l.5 .3l.5 .2l.5 .7l.5-.9l.5 .8l.5-.4l.5-.3l.5 .1l.5 .8l.5 0l.5 0l.5 .7l.5-.6l.5 .4l.5-.1l.5-.1l.5-.3l.5 .6l.5-.8l.5-.4l.5 1.2l.5-1.2l.5 1l.5-.4l.5 .7l.5 .3l.5-.8l.5 .6l.5 0l.5 0l.5-.5l.5-.3l.5 .9l.5 .1l.5-.3l.5-.1l.5-.1l.5 0l.5-.5l.5 .7l.5-.7l.5 .2l.5 .1l.5-.2l.5-1.8l.5 1.6l.5 .5l.5-.7l.5 1.3l.5-.9l.5 .4l.5-.9l.5 .1l.5 .7l.5 .1l.5 .1l.5-.8l.5 .9l.5-.3l.5-.1l.5 .5l.5 .4l.5-.1l.5 0l.5-1l.5-.2l.5-.1l.5 0l.5 .6l.5-.3l.5 .9l.5-.3l.5-.7l.5-.2l.5 .3l.5-.4l.5 .6l.5-1.2l.5 1.1l.5-.9l.5-1.1l.5 .4l.5 .9l.5-.5l.5-1.7l.5 2.5l.5-1.1l.5-.8l.5 1.6l.5 .2l.5 .5l.5-.8l.5-.3l.5 1.1l.5-.4l.5-.4l.5 1.2l.5-1l.5 .4l.5 .4l.5-.4l.5-.4l.5-.1l.5 .5l.5-.3l.5 .7l.5-.6l.5-1.2l.5 1.5l.5-1.5l.5-1.3l.5 1.5l.5 .1l.5-1.1l.5 .7l.5 1.4l.5 .5l.5-1.3l.5-.1l.5 1.1l.5 .9l.5 .1l.5-1l.5 .4l.5 .2l.5-1l.5-3.5l.5-4.9l.5 4.4l.5 3.3l.5 .5l.5 .2l.5 1.3l.5 0l.5-.7l.5-.5l.5-.4l.5-.6l.5-.3l.5-1.7l.5 2l.5-2.5l.5 2.9l.5 .3l.5-.5l.5 .5l.5-2.5l.5 1.1l.5 1.2l.5-1.3l.5 2.2l.5-1l.5 0l.5 1.5l.5-.4l.5 .1l.5 .3l.5 .1l.5 .1l.5-.2l.5-.5l.5-.1l.5-.1l.5-.8l.5-.2l.5 .6l.5-.4l.5-.2l.5 0l.5 .1l.5 1.4l.5-.5l.5-.1l.5-1.1l.5 .2l.5 1.4l.5-1.2l.5-.2l.5 .3l.5 .5l.5-1.1l.5 1.4l.5-.7l.5 .2l.5 .2l.5 .2l.5-.5l.5 .5l.5 .8l.5-.5l.5-.3l.5 .6l.5-.6l.5 .4l.5-.7l.5-.1l.5-2.3l.5 2l.5 1.2l.5 .3l.5-1.1l.5 .6l.5 .6l.5 .1l.5-.1l.5-1.1l.5 0l.5 1.1l.5-.4l.5 0l.5-.1l.5 .4l.5-.3l.5 .1l.5 .2l.5-.8l.5-.1l.5 .8l.5-.6l.5 .6l.5-1.2l.5 0l.5 0l.5 1.2l.5-.6l.5 .6l.5-.4l.5 .2l.5 .2l.5-.2l.5-.4l.5 .2l.5-.6l.5 .6l.5-.3l.5-1.4l.5 1.8l.5-1.3l.5-.8l.5 .7l.5 1.4l.5-.2l.5 .1l.5-1.7l.5 1.9l.5-.1l.5 0l.5-.5l.5-.8l.5 1.7l.5-.4l.5-.5l.5-.1l.5 .1l.5 .7l.5-.6l.5 .4l.5 .1l.5-.2l.5 0l.5-.4l.5 .5l.5 .3l.5-.7l.5-.3l.5-.2l.5 .1l.5-.7l.5 1.5l.5-.7l.5 .7l.5-.8l.5 0l.5-.5l.5 .3l.5-.7l.5-.3l.5 .7l.5-.4l.5 1l.5-1.1l.5 1.2l.5-.7l.5 1.1l.5-1.2l.5 1.3l.5-.2l.5 .6l.5-1.1l.5 1.3l.5-.9l.5-.2l.5 .2l.5 0l.5-.5l.5 1l.5-.8l.5 .4l.5-.1l.5-.6l.5 1.2l.5 0l.5-.8l.5 0l.5 .5l.5-.8l.5-.4l.5 1.3l.5-.8l.5-.8l.5 .6l.5 .2l.5-2l.5 .5l.5 .4l.5 .8l.5 0l.5-1.6l.5 0l.5 1.3l.5 .4l.5-.6l.5-.3l.5 1.7l.5-.7l.5 0l.5 .5l.5 .7l.5 .1l.5 .4l.5-.1l.5-.5l.5 .2l.5-.4l.5 .3l.5 .6l.5-.8l.5 .7l.5-.7l.5-9.2l.5-9l.5 8l.5 5.7l.5 .4l.5 0l.5 3.3l.5 0l.5-1.3l.5 .5l.5 1.9l.5-1.3l.5 0l.5 .6l.5-.3l.5 0l.5 .9l.5-1l.5 .2l.5-5.9l.5-6.7l.5 6l.5 4.5l.5 1.8l.5-.1l.5 1.2l.5-1.6l.5-.7l.5 1.2l.5-.6l.5-.8l.5-.3l.5 0l.5-.1l.5 2.4l.5-.6l.5 .6l.5-.6l.5 1.3l.5-1.2l.5 .2l.5 .9l.5-.2l.5-.5l.5 .5l.5 .7l.5-.7l.5 .4l.5-.2l2 .1l2 .3l.5-.1l.5-.2l.5-.2l.5 .7l.5-.5l.5 .2l.5 .3l.5-.5l.5 .2l2-.1l2 .2l2-.2l2 .1l.5-.3l.5-.2l.5 .3l.5-.2l.5 .3l.5-.1l.5-.5l.5 1l.5-.4l.5 0l.5-.4l.5-.3l.5 .4l.5-.4l.5 .7l.5 .2l.5-.8l.5 .6l.5-.3l.5-.2l.5 .5l.5 .2l.5 .1l.5 0l.5-.5l.5-.2l.5 .3l.5 .5l.5 .1l.5-.5l.5 .2l.5-.2l2 .2l2 .1l2-.1l2 0l2-.2l2 .2l2-.4l.5 .5l.5-.3l.5 .1l.5-.1l.5 .2l.5-.5l.5 .6l.5-.7l.5 .6l.5-.1l.5 .2l.5-.7l.5 .4l.5 .2l.5 0l.5-.5l.5 .8l.5-.4l2 .2l2-.1l2 0l2-.3l2-.6l.5 .4l.5 .3l.5-.1l.5 .1l.5-1.2l.5 1.1l.5 .1l.5-1l.5 .9l.5-1.5l.5 .7l.5-.8l.5 1.1l.5-.5l.5 .5l.5 .1l.5-1.3l.5 1.5l.5-1.2l.5 1.3l.5-.2l.5-1.3l.5 0l.5 .7l.5 .7l.5 .2l.5-1.4l.5 .6l.5 .6l.5-.9l.5-.3l.5 1l.5-.6l.5 0l.5-.3l.5 1.2l.5-.7l.5-.3l.5 .8l.5 0l.5-.9l.5 .7l.5 .2l.5 .2l.5-1.5l.5 1.2l.5-.6l.5-.2l.5-.7l.5 1.1l.5-1.2l.5 1.5l.5-.6l.5-.8l.5 .1l.5-.5l.5 .8l.5 .1l.5 .9l.5-4.2l.5-4.9l.5 4.4l.5 3.3l.5 .3l.5-1.1l.5 1.5l.5 .5l.5-1.5l.5 1.5l.5-.2l.5-.2l.5 0l.5-.7l.5 1.4l.5 0l.5 0l.5-.5l.5-1.2l.5 1l.5 .3l.5 0l.5-.7l.5 .3l.5 .1l.5 1l.5-.9l.5 .1l.5 .4l.5 .6l.5-2l.5-2.7l.5 2.4l.5 .9l.5 .4l.5 .1l.5-.3l.5-.3l.5 1.4l.5-.4l.5 .3l.5-1.4l.5 .2l.5-2.3l.5 2l.5 1.2l.5-1.1l.5 .8l.5 .1l.5-1l.5 1.2l.5-.8l.5 .2l.5-7l.5-7.6l.5 6.8l.5 5.1l.5 3.6l.5-1.1l.5-.8l.5-.9l.5 1.4l.5-.5l.5-1l.5 1.2l.5 0l.5-2.5l.5-.1l.5 1.1l.5 1.9l.5-.2l.5-.3l.5-.9l.5 1l.5-.5l.5 1.8l.5 .1l.5 .4l.5-1.5l.5-.4l.5 .1l.5-1.5l.5 1.1l.5-1.3l.5 .7l.5 .8l.5 .4l.5-.9l.5 .4l.5 1.3l.5-1.8l.5 1.2l.5-.5l.5-.2l.5 .5l.5-.6l.5 .6l.5 0l.5 .4l.5 .5l.5-1.8l.5-3.1l.5 2.8l.5 1.8l.5 0l.5 .2l.5-.4l.5-.4l.5-.2l.5 .9l.5-.8l.5 .5l.5 .1l.5 .1l.5 .1l.5-5.4l.5-6.3l.5 5.6l.5 4.2l.5 2.6l.5-.8l.5 .9l.5-1.2l.5-.3l.5 0l.5 0l.5 .7l.5 0l.5-.6l.5 .2l.5-2.2l.5-4.1l.5 3.6l.5 2.3l.5 .4l.5 .4l.5 .2l.5-.1l.5-.7l.5-.1l.5 1.4l.5-.5l.5-.6l.5-2.3l.5 2l.5 1.3l.5-.7l.5 .7l.5-.3l.5-.4l.5 .9l.5 .3l.5-.7l.5 .6l.5 .1l.5-3.7l.5-4.1l.5 3.6l.5 2.7l.5 1.2l.5-.3l.5 .5l.5-.7l.5-.1l.5 .7l.5 .2l.5-1.3l.5 .7l.5-.7l.5-.3l.5 1.4l.5-1.4l.5 1l.5-.8l.5 1.1l.5-.5l.5 .6l.5-.3l.5 .4l.5 .2l.5-.1l.5-.4l.5-.2l.5 .2l.5 .2l.5 .5l.5-.2l.5-.4l.5 .3l.5 0l.5-.2l.5-.2l.5 .2l.5 .5l.5-.6l.5 .6l.5-.3l.5 .3l.5-.9l.5 0l.5 .3l.5-.4l.5 .4l.5 .5l.5-.3l.5-.4l.5 .1l.5 .7l.5-.9l.5 .3l.5 0l.5 .3l.5-.5l.5 .5l.5-.3l.5 .5l.5 .2l.5-.3l.5-.3l.5 .4l.5-.7l.5 .2l.5 0l.5-.1l.5 .2l.5 .2l.5-.2l.5-.1l.5 .7l.5-.7l.5 .2l.5 0l2 0l2 .2l2 .2l2 0l2-.1l2-.3l2-.3l.5 .2l.5-.3l.5 .7l.5-.3l.5-.4l.5 .3l.5-.1l.5-.2l.5 .8l.5-.4l.5 .1l.5-.4l.5 .5l.5-.2l.5 .2l.5 .2l.5-.4l.5-.2l.5 .7l.5-.7l.5 .5l.5-.4l.5 .1l2 .1l2 0l2-.2l2 .3l2 0l.5-.3l.5-.1l.5-1.2l.5-2.3l.5 2l.5 1.5l.5 .6l.5-.2l.5 .2l.5-1.3l.5 .4l.5-.8l.5 .6l.5 .4l.5-.1l.5-.8l.5-.4l.5 .1l.5 .8l.5-.3l.5 .4l.5 .1l.5-.2l.5 .8l.5 .2l.5-.4l.5-.1l2 .5l2 .2l2-.8l.5 0l.5 .4l.5-1.1l.5 .8l.5-1.2l.5 .2l.5-.3l.5 .4l.5 .7l.5-1l.5 .4l.5 .1l.5 0l.5 .1l.5 1.1l.5-.3l.5-.4l.5 .1l.5 .4l2 0l2-.3l2 .4l2-.3l.5 .3l.5 .1l.5-.3l.5 .4l.5-.6l.5 .5l.5-.4l.5 .1l.5-.3l.5 .3l.5-.1l.5 .2l.5-.2l.5 .4l.5-.7l.5 .8l.5-.5l.5 .4l.5-.3l.5 .4l.5-.9l.5 .2l.5 .2l.5-.2l.5 .4l.5 .1l.5-.3l.5 .3l.5 .2l.5-.5l.5 .1l.5-.2l.5-.2l.5 .6l.5-.1l.5 .1l.5 .3l.5-.3l.5 .3l.5-.7l2 .2l2 .3l2 0l2 .1l2-.2l2 .2l.5-.1l.5 0l.5-.9l.5 .4l.5-.3l.5 0l.5 .5l.5-.4l.5 .6l.5-.6l.5 0l.5 .1l.5-.1l.5 .5l.5 .4l.5-.6l2 .2l2 .2l2 .1l2-.2l2-.1l2 0l2-.1l.5 .4l.5-.9l.5 .3l.5 0l.5-.2l.5 .5l.5 0l.5-.4l.5 .1l.5 .1l.5 0l.5 .2l.5 .1l.5-.5l.5-1.4l.5 1.2l.5 .8l.5-.4l.5 .3l.5 .1l.5-.4l.5-.2l.5 .8l.5-.8l2 .6l2-.1l2-.2l2 .2l2 .3l2-.3l2 .3l2 0l2 0l2-.2l2 0l2 .2l2-.2l2 .2l.5-.2l.5 0l.5 .1l.5 0l.5 0l2 .1l2-.3l2-.1l2 0l2-.1l2 .4l2-.2l2 .1l2 0l2 .1l2 .1l2-.2l2 0l2-.1l2 .2l2-.1l2 0l2-.1l2 .3l2-.1l2-.1l2 .1l2-.1l2 .1l2-.1l2 .1l2-.1l2-.2l2 .2l2 .2l2 0l2 0l2 0l2-.2l2-.1l2 .1l2 .1l2 0l2-.1l2 0l2 0l2 0l2 0l2-.1l2 .2l2 0l2 0l2-.2l2 .1l2 .1l2-.1l2-.1l2 .2l2 0l2 0l2-.5l2 0l.5 .5l.5 .1l.5 0l.5-.2l.5-.4l.5-.2l.5-.1l.5 .3l.5 0l.5 .3l.5-.3l.5 .3l.5-.3l.5 .4l.5-.3l.5-.2l2 .3l2 .2l2 .1l2-.1l2 .1l2-.1l2-.1l2 0l2 .1l2 0l2-.2l2-.1l2 .2l2-.1l2 .3l2-.4l2 .2l2-.4l2 .6l.5-.6l.5 .4l.5-.6l.5 .7l.5-.1l.5-.5l.5 .4l.5-.3l.5-.1l.5-.1l.5 .1l.5 .7l.5 .1l.5-.1l.5-.6l.5 .1l.5-.6l.5 .8l.5 0l.5-.1l2 .1l2 .1l2 .2l.5-.1l.5 0l.5-1.7l.5-2.3l.5 2l.5 1.5l.5 .3l2 .3l2-.2l2-.2l2 .2l2 0l2 0l2 .1l2-.4l2 .2l2 0l.5 0l.5-.1l.5 .4l.5-1.8l.5-2.3l.5 2l.5 1.5l.5-.2l.5 .6l.5-1l.5 0l.5-.1l.5 .1l.5 .3l.5 .3l.5 0l.5-.1l.5-.9l.5 .9l.5-.8l.5 .6l.5 .2l.5 0l.5 .4l.5 .1l.5-3.8l.5-4.1l.5 3.6l.5 2.7l.5 1.5l.5 0l.5-.7l.5 .3l.5-.3l.5 .1l.5 0l.5 .8l.5-.6l.5-1.4l.5 1.2l.5 0l.5 .6l.5 .4l.5-.7l.5 .6l.5-.7l.5 .3l.5-.2l.5 .3l.5 .3l.5-1l.5 .1l.5 .7l.5 .1l.5-.1l.5-.4l.5 .3l.5 .3l.5-.1l.5-.1l.5-.2l.5 .2l.5-.7l.5 .2l.5 .1l.5-.2l.5 .1l.5 .5l.5-.4l.5 .6l.5-.3l.5-.3l.5 .7l.5-.4l.5 0l2-.2l.5 .3l.5-.1l.5-.1l.5-.9l.5-1.8l.5 1.6l.5 1.1l.5 .2l2-.2l2-.2l.5 .4l.5-.7l.5 .9l.5-.5l.5-.6l.5 .2l.5-.4l.5 .5l.5-.5l.5 .9l.5-.8l.5 .3l.5-.1l.5-.1l.5 .2l.5-.5l.5 0l.5 .8l.5-.3l.5 .5l.5-1l.5 .8l.5-.8l.5 .6l.5-1.6l.5-2.7l.5 2.4l.5 1.8l.5 .3l.5-.4l.5 .2l.5 .7l.5-.5l.5 .6l.5-.6l.5 .6l.5-.3l.5-.4l.5 .4l.5-.2l.5 .3l.5 .1l.5-.3l.5 0l.5-.4l.5 .4l.5 .1l.5-.4l.5 .2l.5 .1l.5-.4l.5 .4l.5 .2l.5 0l.5-.4l.5 .1l.5 .2l2 .3l2-.1l2 0l2 0l.5-.1l.5-.9l.5 .8l.5 .3l.5 .1l2 0l2 0l2 0l2-.3l2 .5l2 0l2-.2l2 .1l2 .1l2-.1l2 .1l2 0l2-.1l2 0l2 .1l.5 0l.5 0l.5-.4l.5 .4l.5-.1l.5 0l2 .1l2 0l2-.2l2 .2l2-.1l2 0l2 0l2 .1l2-.2l2 .2l2 0l2-.1l2-.1l2 0l2 0l2 .2l2-.1l2 0l2 0l2 0l2-.1l2 .1l2 0l2-.1l2 .2l2-.1l2 0l2 .1l2-.1l.5-.1l.5 0l.5-.2l.5 .3l.5 0l.5 .1l2-.1l2-.1l2 0l2 0l2 0l2 .1l2 0l2 .1l2-.2l2 .1l2-.1l2 0l2 .1l2 .1l2-.2l2 .1l2 .1l2-.1l2 0l2 0l2 0l2 0l2-.1l2 .2l2-.2l2 0l2 0l2 .1l2 0l2 0l2 .1l2-.2l2 0l2 .1l2 .1l2 0l2-.2l2 .1l.5-.1l.5-.8l.5-1.4l.5 1.2l.5 .9l.5 .1l2 0l2 0l2 .1l2 0l2-.1l.5 0l.5 .2l.5-.5l.5-.9l.5 .8l.5 .4l.5 .2l2 0l2-.2l2 .2l2-.2l2 .1l2 .1l2 0l2-.2l2 .1l2 0l2 0l2 .1l2-.2l2 .1l.5-.1l.5-.2l.5 .2l.5 0l.5 0l2 0l2 0l2 0l2 .2l2-.1l2-.1l2 .1l2 0l2 0l2 0l2 0l.5 0l.5 .1l.5-.1l.5 .1l.5-.4l.5 .2l.5 0l.5 .1l2 0l2-.1l2 .1l2 0l2-.1l2 0l0 1.4l-2 .2l-2-.1l-2 0l-2 0l-2-.1l-2 .1l-.5-.1l-.5 .1l-.5 .3l-.5-.4l-.5 .1l-.5-.1l-.5 0l-.5 .2l-2-.1l-2 .1l-2-.2l-2 .2l-2 0l-2-.1l-2 0l-2 0l-2 0l-2 0l-2-.1l-.5 .2l-.5-.2l-.5 .4l-.5-.3l-.5 .1l-2-.1l-2 0l-2 .1l-2 0l-2 0l-2-.1l-2 0l-2 .1l-2 .1l-2 0l-2-.2l-2 0l-2 0l-2-.1l-.5 0l-.5 .6l-.5 .8l-.5-.9l-.5-.4l-.5 0l-.5 0l-2 0l-2 0l-2-.1l-2 .1l-2 0l-.5 .2l-.5 .9l-.5 1.2l-.5-1.4l-.5-.9l-.5-.1l-2 0l-2 .1l-2-.1l-2 0l-2 0l-2 .2l-2-.1l-2 0l-2-.1l-2 .1l-2 0l-2-.1l-2 0l-2 0l-2 0l-2 .1l-2-.1l-2 .1l-2-.1l-2 .2l-2-.2l-2 .2l-2 0l-2 0l-2-.1l-2-.1l-2 .2l-2-.2l-2 .2l-2 0l-2-.1l-2 .1l-2 0l-2-.1l-2-.1l-2 .2l-2-.2l-2 0l-.5 .2l-.5 0l-.5 .2l-.5-.3l-.5 .1l-.5-.1l-2 .1l-2-.1l-2 .1l-2 0l-2-.1l-2 .1l-2-.2l-2 0l-2 .1l-2-.1l-2 .2l-2-.2l-2 0l-2 0l-2 0l-2 0l-2 .2l-2 0l-2 0l-2 0l-2 0l-2-.2l-2 .1l-2 0l-2 0l-2 .1l-2-.1l-2-.1l-2 .2l-.5-.2l-.5 .1l-.5 .3l-.5-.2l-.5-.1l-.5 .1l-2-.1l-2 0l-2 0l-2-.1l-2 .2l-2-.1l-2 .1l-2-.1l-2 .1l-2-.1l-2 .2l-2-.1l-2 .1l-2 0l-2 .1l-.5-.1l-.5 .3l-.5 .8l-.5-.9l-.5-.2l-2 0l-2 .1l-2-.2l-2 .6l-.5-.5l-.5 .4l-.5 .5l-.5-.8l-.5 1l-.5-.9l-.5 1l-.5-.1l-.5 0l-.5-.3l-.5-.1l-.5-.1l-.5-.4l-.5-.1l-.5 .6l-.5 0l-.5-.1l-.5 .3l-.5-.1l-.5-.2l-.5-.6l-.5 .5l-.5-.1l-.5 .6l-.5-.3l-.5 .1l-.5-.3l-.5-.3l-.5 .7l-.5 1.8l-.5 2.4l-.5-2.7l-.5-1.6l-.5 .2l-.5-.5l-.5-.1l-.5 .3l-.5 0l-.5 .2l-.5-.3l-.5-.4l-.5 1l-.5 .4l-.5-.6l-.5-.2l-.5-.1l-.5-.3l-.5 .9l-.5-.8l-.5 .8l-.5-.8l-.5 .7l-.5-.7l-.5-.4l-.5 .4l-.5-.5l-.5-.1l-2 .6l-2 0l-.5 .1l-.5 .9l-.5 1.6l-.5-1.8l-.5-1l-.5 .1l-.5-.3l-.5 .3l-2 .2l-.5 0l-.5-.7l-.5 .5l-.5-.1l-.5 .4l-.5 0l-.5-.3l-.5 .5l-.5-.1l-.5-.4l-.5 .5l-.5-.1l-.5-.1l-.5-.7l-.5 .2l-.5-.1l-.5 1l-.5-.9l-.5 .3l-.5 .1l-.5-.4l-.5-.2l-.5 1l-.5-.8l-.5 0l-.5-.2l-.5 .8l-.5-.2l-.5 .2l-.5-.5l-.5-.1l-.5-.1l-.5 .2l-.5 .2l-.5 .4l-.5 1.2l-.5-1.4l-.5-.2l-.5 .4l-.5-.2l-.5-.6l-.5 .8l-.5-.2l-.5-.6l-.5 .9l-.5 .8l-.5 2.7l-.5 3.6l-.5-4.1l-.5-3.6l-.5 0l-.5 .8l-.5-.8l-.5 .2l-.5 .9l-.5-.8l-.5 .3l-.5 .3l-.5 0l-.5-.9l-.5 .1l-.5 1l-.5-.2l-.5-1.1l-.5 .4l-.5 0l-.5-.2l-.5 .2l-.5 1.5l-.5 2l-.5-2.3l-.5-1l-.5-.9l-.5 .6l-.5-.1l-2-.1l-2 .1l-2-.3l-2 0l-2 .2l-2 0l-2-.2l-2 .3l-2-.3l-2 .3l-.5 .2l-.5 1.5l-.5 2l-.5-2.3l-.5-1.7l-.5 .1l-.5-.2l-2-.1l-2 .1l-2 .2l-.5-.1l-.5 .5l-.5 .5l-.5-.5l-.5-.6l-.5 .2l-.5 .5l-.5-.8l-.5 .8l-.5 0l-.5-.4l-.5-.1l-.5 .6l-.5-.7l-.5 .6l-.5-.6l-.5 .7l-.5-.2l-.5 .2l-.5-.5l-2 .1l-2 0l-2 .1l-2-.3l-2 0l-2-.1l-2 .1l-2-.1l-2 .3l-2-.1l-2-.1l-2-.2l-2 .1l-2 0l-2-.1l-2-.1l-2 .2l-2 .2l-2-.1l-.5-.3l-.5 .4l-.5-.4l-.5 .1l-.5 .6l-.5-.1l-.5-.2l-.5-.2l-.5 0l-.5-.1l-.5 .1l-.5-.2l-.5 .4l-.5 0l-.5 .1l-.5 .2l-2-.2l-2-.4l-2 .1l-2-.2l-2 .2l-2-.2l-2 .3l-2 0l-2-.2l-2 .1l-2 0l-2-.2l-2 .1l-2-.1l-2 .2l-2-.2l-2 .3l-2-.1l-2 0l-2 0l-2 .1l-2 0l-2-.2l-2 0l-2 .2l-2-.3l-2 .3l-2-.1l-2-.1l-2 .3l-2-.1l-2 0l-2-.2l-2 .1l-2-.1l-2 0l-2 .1l-2 0l-2-.1l-2-.1l-2 .3l-2-.2l-2 0l-2 .1l-2 .1l-2-.3l-2 .1l-2-.1l-2 .2l-2 0l-2 0l-2 .2l-2 .1l-2-.3l-2-.1l-2 .1l-2 .1l-.5-.2l-.5 0l-.5 .1l-.5 .1l-.5-.2l-2 .2l-2-.2l-2 0l-2 0l-2-.1l-2 0l-2 0l-2 .1l-2 .1l-2-.1l-2 .2l-2 0l-2 0l-2 .4l-.5-.2l-.5 .3l-.5-.5l-.5 .1l-.5 .1l-.5 .3l-.5-.7l-.5 .9l-.5 1.2l-.5-1.4l-.5-.7l-.5 .2l-.5 .8l-.5 .1l-.5-.5l-.5 .4l-.5-.3l-.5 .3l-.5-.5l-.5-.1l-.5 .2l-.5-.6l-.5 .2l-.5 .3l-2-.3l-2-.1l-2 .2l-2-.1l-2 0l-2 .1l-2 0l-.5 0l-.5 .2l-.5-.5l-.5 .3l-.5-.1l-.5 .4l-.5 .4l-.5-.4l-.5-.1l-.5 .2l-.5-.5l-.5 .7l-.5-.5l-.5 .5l-.5-.2l-.5-.6l-2 .4l-2-.3l-2-.2l-2 .2l-2 .1l-2 .2l-.5 0l-.5 0l-.5 .2l-.5-.2l-.5-.5l-.5 .3l-.5 .3l-.5-.5l-.5 .5l-.5-.6l-.5 .6l-.5-.4l-.5 .8l-.5-.4l-.5-.1l-.5-.3l-.5 0l-.5 .3l-.5 .3l-.5-.7l-.5 .5l-.5-.6l-.5 .4l-.5-.2l-.5 .2l-.5 .3l-.5-.6l-.5 .5l-.5-.4l-.5 .1l-.5 .7l-.5-.9l-.5-.1l-.5 0l-.5 .2l-.5-.2l-.5 .5l-.5-.4l-.5-.2l-.5 .4l-2-.1l-2 0l-2 .2l-2 .1l-.5 .2l-.5 0l-.5-.5l-.5 1l-.5-.4l-.5 .5l-.5-.4l-.5 0l-.5 .7l-.5-.7l-.5-.2l-.5 .5l-.5-.1l-.5-.4l-.5 1l-.5 0l-.5-.9l-.5 .3l-.5-.4l-2-.6l-2 0l-2 .1l-.5-.3l-.5 .6l-.5 .1l-.5 .3l-.5-.4l-.5 .9l-.5-.6l-.5 .6l-.5-.2l-.5 .1l-.5 .6l-.5-1.1l-.5 .9l-.5-1.2l-.5 1.2l-.5-1.5l-.5 .2l-.5-.2l-.5 0l-.5 0l-.5 .4l-.5 1.5l-.5 2l-.5-2.3l-.5-1.3l-.5-.2l-.5 .1l-2-.1l-2 0l-2 .1l-2 0l-2 0l-.5-.2l-.5 .1l-.5-.2l-.5 0l-.5 0l-.5-.1l-.5 .6l-.5 0l-.5 0l-.5-.5l-.5 .3l-.5 .4l-.5-.1l-.5-.5l-.5-.1l-.5 .8l-.5-.5l-.5 .4l-.5-.1l-.5-.6l-.5 .9l-.5-.2l-.5-.2l-2-.4l-2-.2l-2 .1l-2-.2l-2 .2l-2 .2l-2 .4l-.5 0l-.5-.6l-.5 .5l-.5-.6l-.5 .7l-.5-.7l-.5-.1l-.5 1l-.5-.2l-.5 .1l-.5-.3l-.5-.1l-.5-.1l-.5 0l-.5 .1l-.5 .4l-.5-.4l-.5 0l-.5 .4l-.5-.8l-.5 0l-.5 .2l-.5 .3l-.5-.3l-.5 .2l-.5-.1l-.5 .7l-.5-.5l-.5-.3l-.5 .8l-.5 0l-.5-1l-.5 .8l-.5 .1l-.5-.2l-.5-.5l-.5 .2l-.5-.1l-.5 .1l-.5-.4l-.5 .1l-.5 .7l-.5-.2l-.5-.2l-.5 .4l-.5-.8l-.5 0l-.5 .8l-.5 0l-.5-.6l-.5-.2l-.5 .9l-.5 .4l-.5 .3l-.5-.5l-.5 .4l-.5 .5l-.5-1.2l-.5 .1l-.5 .6l-.5 .1l-.5 .2l-.5-.3l-.5-1.2l-.5 .1l-.5 .8l-.5-.1l-.5-.6l-.5-.1l-.5 0l-.5 .6l-.5-.9l-.5 1.7l-.5 2.7l-.5 3.6l-.5-4.1l-.5-3.2l-.5-.6l-.5 .5l-.5-.5l-.5 .4l-.5 .6l-.5 .4l-.5-.6l-.5 .5l-.5-.4l-.5 1l-.5 2l-.5-2.3l-.5-.9l-.5 .4l-.5 1l-.5-1.2l-.5 .1l-.5 .6l-.5-1.2l-.5 1.3l-.5-.1l-.5 2.7l-.5 3.6l-.5-4.1l-.5-1.9l-.5-.5l-.5 .7l-.5-1.6l-.5 1.1l-.5-.3l-.5 .5l-.5 .1l-.5-.6l-.5-.9l-.5 1.3l-.5 .2l-.5 3l-.5 4l-.5-4.5l-.5-3l-.5-.9l-.5 .6l-.5 .3l-.5 .1l-.5-.8l-.5 .1l-.5 .3l-.5 .5l-.5 .4l-.5 .4l-.5-.6l-.5 1.3l-.5 2.8l-.5-3.1l-.5-2.1l-.5 1.6l-.5-1.5l-.5 1.7l-.5 .4l-.5-1.4l-.5-.6l-.5 .3l-.5 1.7l-.5-1l-.5-1l-.5 1.5l-.5 .3l-.5 .2l-.5-1l-.5-.4l-.5 1.6l-.5 .2l-.5-.5l-.5-1.2l-.5-.5l-.5 1.1l-.5-.7l-.5 .2l-.5 .1l-.5-1.1l-.5 .7l-.5 1.3l-.5-.7l-.5-.5l-.5 1.1l-.5 .5l-.5 .5l-.5 1.1l-.5-.3l-.5 .2l-.5 1l-.5-.6l-.5-2l-.5-1.7l-.5-.1l-.5-.2l-.5 .2l-.5 4l-.5 6.3l-.5 8.4l-.5-9.4l-.5-9.8l-.5 .1l-.5 1l-.5 .1l-.5-.5l-.5-.7l-.5 .2l-.5 .5l-.5 .5l-.5 2l-.5-2.3l-.5-1.1l-.5 0l-.5 .8l-.5-.2l-.5 .2l-.5-1.1l-.5 .5l-.5 .9l-.5-.9l-.5 1.8l-.5 2.4l-.5-2.7l-.5-1.7l-.5 .8l-.5-.5l-.5 .3l-.5-.4l-.5 0l-.5-.2l-.5 1.3l-.5-.8l-.5 1.4l-.5-.6l-.5-1.2l-.5 1.5l-.5-1.3l-.5 2l-.5-1l-.5-.3l-.5 .7l-.5 .3l-.5-.8l-.5-.2l-.5 1.1l-.5 .1l-.5-.6l-.5 .5l-.5-1.5l-.5 1.1l-.5 3.3l-.5 4.4l-.5-4.9l-.5-4l-.5 1.5l-.5-1.7l-.5 0l-.5 1.6l-.5-.4l-.5-.2l-.5-1l-.5 1.6l-.5-1.5l-.5 1.1l-.5-1.5l-.5 .3l-.5 .1l-.5 .9l-.5-1.5l-.5 .5l-.5-.1l-.5-.2l-.5-.2l-.5-.1l-.5 1.3l-.5-.2l-.5-.4l-.5 .6l-.5-.8l-.5 .7l-.5 .4l-.5-.7l-.5-.9l-.5 1.1l-.5-.9l-.5 .8l-.5-.5l-.5-.4l-.5 .4l-.5 .3l-.5 .2l-.5 .1l-.5-.1l-.5 .6l-.5 .2l-.5-1.5l-.5 .3l-.5 .1l-.5 .6l-.5-.8l-.5 1.2l-.5-1.4l-.5 1l-.5-1l-.5 0l-.5 .4l-.5-.5l-.5 .4l-.5-.4l-.5 .2l-.5 .6l-.5-.8l-.5 .7l-2-1l-2-.2l-2-.1l-2 .3l-2 0l-.5-.2l-.5-.1l-.5 .2l-.5-.3l-.5 .9l-.5-.1l-.5-.2l-.5 .3l-.5-.6l-.5 .2l-.5-.1l-.5-.2l-.5 .2l-.5 .4l-.5-.6l-.5 .4l-.5 .1l-.5-.4l-2 .1l-2 0l-2-.1l-2-.1l-2-.1l-2 .2l-2 .4l-.5-.2l-.5-.4l-.5 .8l-.5-.5l-.5 0l-.5-.2l-.5 .2l-.5-.2l-.5 .7l-.5-.3l-.5 .3l-.5-.3l-.5-.4l-.5 .4l-.5-.5l-.5 1l-.5-.4l-.5-.5l-.5 .9l-.5-.8l-.5 0l-.5 .8l-.5 0l-.5-.4l-.5 .4l-.5-.8l-.5 .4l-.5-.6l-.5 .1l-.5-.1l-.5 .3l-.5 0l-2 .3l-2-.5l-2 .4l-2 .2l-.5-.4l-.5-.4l-.5 .7l-.5-.6l-.5 .5l-.5-.4l-.5 .5l-.5-.3l-.5-.1l-2 .2l-2-.2l-.5 .1l-.5 .1l-.5 0l-.5 .3l-.5 .8l-.5 .1l-.5 .2l-.5-1.1l-.5 .4l-.5 .7l-.5-1.1l-.5 2.2l-.5-1.4l-.5 .7l-.5 .9l-.5-1.8l-.5 1.7l-.5-1l-.5 .2l-.5 1.1l-.5-.2l-.5-.6l-.5-.8l-.5 .5l-.5-1l-.5 .9l-.5 3l-.5 4l-.5-4.5l-.5-3.9l-.5 .3l-.5 1.3l-.5-1l-.5 .3l-.5 .5l-.5-.4l-.5 .1l-.5-.4l-.5-.6l-.5 2.2l-.5-.4l-.5-.7l-.5 .1l-.5 3.5l-.5-.4l-.5 6l-.5 8l-.5-9l-.5-9.4l-.5-.2l-.5 .3l-.5-.6l-.5 0l-.5 .2l-.5 .4l-.5-.8l-.5 .8l-.5-.2l-.5 .3l-.5 .1l-.5-.1l-.5 .8l-.5 .1l-.5 .2l-.5-1l-.5 2l-.5-.4l-.5 .9l-.5-1.9l-.5 1.6l-.5-1.9l-.5 2.3l-.5-.3l-.5 .5l-.5-2.1l-.5 1l-.5 0l-.5-1.6l-.5 .6l-.5-.7l-.5 .3l-.5-.6l-.5 1.2l-.5-.5l-.5 .4l-.5-.4l-.5-.9l-.5 1.2l-.5-.8l-.5 .1l-.5 .8l-.5-1.2l-.5 .9l-.5-.1l-.5-.6l-.5-.4l-.5 .5l-.5 .4l-.5 .8l-.5-1.2l-.5 .8l-.5-.5l-.5 1.2l-.5-1.4l-.5 .4l-.5-.3l-.5 1l-.5 .4l-.5 .2l-.5-.9l-.5 1.1l-.5-.5l-.5-.2l-.5-.9l-.5 1.2l-.5-1.3l-.5-.2l-.5-.1l-.5 1.7l-.5-1.6l-.5-.1l-.5 .1l-.5 .5l-.5-.3l-.5-.3l-.5 .5l-.5-.7l-.5-.1l-.5 0l-.5 .8l-.5-.4l-.5-.5l-.5 0l-.5 .4l-.5 .4l-.5-.1l-.5 .2l-.5-.8l-.5 .6l-.5-.3l-.5 1.6l-.5-1.3l-.5-.3l-.5 1.1l-.5 .6l-.5-1.2l-.5 1.6l-.5-.5l-.5-.3l-.5 .4l-.5-.4l-.5-.9l-.5 .5l-.5 .6l-.5-1.6l-.5 .1l-.5 .4l-.5-.5l-.5 .9l-.5 .2l-.5-1.2l-.5 .6l-.5 .4l-.5 .2l-.5-.1l-.5-1l-.5 0l-.5-.2l-.5 1.3l-.5 0l-.5 .1l-.5-1.1l-.5 .1l-.5 .7l-.5-.9l-.5 .9l-.5-.7l-.5 .8l-.5-1.1l-.5 .5l-.5 .2l-.5-1.1l-.5 1l-.5-.3l-.5-.4l-.5 .5l-.5-.5l-.5-.1l-.5 .2l-.5 1.4l-.5 2l-.5-2.3l-.5-1.3l-.5 1l-.5-.6l-.5 1.1l-.5-.3l-.5-.9l-.5 .9l-.5 .8l-.5-.4l-.5 0l-.5-1.3l-.5 1.3l-.5-1.3l-.5 .2l-.5 .2l-.5 .6l-.5 0l-.5-.6l-.5 1.1l-.5-1.3l-.5 0l-.5-.1l-.5 1l-.5-1.1l-.5 1.8l-.5-1.1l-.5-.4l-.5 1.7l-.5-1.7l-.5 .3l-.5 1.1l-.5-.3l-.5-.8l-.5 .2l-.5-.7l-.5 .7l-.5-1l-.5-.2l-.5 .8l-.5-.1l-.5 .2l-.5 .8l-.5 .4l-.5-.1l-.5-.3l-.5 .2l-.5 1.2l-.5-1.4l-.5 1.4l-.5-1.2l-.5 .2l-.5 .3l-.5 .6l-.5 1.5l-.5-.7l-.5-1.8l-.5 .9l-.5-.9l-.5 .7l-.5-.6l-.5-1.5l-.5-.3l-.5 .7l-.5-.5l-.5 .7l-.5 .8l-.5 3.3l-.5 4.4l-.5-4.9l-.5-3.7l-.5-.5l-.5-.2l-.5-.1l-.5-.4l-.5 1l-.5-.7l-.5 .4l-.5 1.5l-.5-1.2l-.5 1.3l-.5 .5l-.5-.1l-.5-.5l-.5 1.1l-.5-2.1l-.5 .8l-.5 .1l-.5 0l-.5-1.1l-.5 .3l-.5-.5l-.5 .2l-.5 .1l-.5-.1l-.5 .7l-.5-.7l-.5 0l-.5-.4l-.5 .5l-.5 .3l-.5 .6l-.5-1.3l-.5-.1l-.5 1.3l-.5-.5l-.5-.8l-.5 1.6l-.5 .2l-.5 .6l-.5-1.4l-.5-.4l-.5 1.9l-.5-.9l-.5 1.2l-.5-1.2l-.5-1.2l-.5 .3l-.5-.1l-.5 .7l-.5 0l-.5-1.6l-.5 1.5l-.5-1.4l-.5 0l-.5 0l-.5 .6l-.5 .4l-.5-1l-.5 .9l-.5-1.1l-.5 .5l-.5-.1l-.5 .3l-.5 .2l-.5-.7l-.5 .3l-.5 .6l-.5-1l-.5-.2l-.5 1.1l-.5 .2l-.5-.3l-.5-.6l-.5 .3l-.5-.1l-.5 .1l-.5-.1l-.5 .4l-.5-.3l-.5 .4l-.5 1.6l-.5-1.6l-.5-1l-.5 .1l-.5 1.3l-.5-.8l-.5-.4l-.5 .4l-.5-.8l-.5 1.1l-.5-1.1l-.5 .9l-.5-.6l-.5 .2l-.5-.3l-.5 .1l-.5 .2l-.5 .2l-.5 .4l-.5-.2l-.5 .1l-.5-.5l-.5 .2l-.5 .6l-.5-.1l-.5-.5l-.5-.5l-.5 0l-.5 0l-.5-.2l-.5 1l-.5-.3l-.5 .7l-.5-.2l-.5-.2l-.5-.7l-.5 1.5l-.5 0l-.5-.1l-.5-.4l-.5 .3l-.5-1l-.5 1l-.5 .6l-.5 .2l-.5-1.3l-.5 .1l-.5 .7l-.5-1.3l-.5 .1l-.5 .3l-.5 .4l-.5 .5l-.5-.4l-.5 2.7l-.5 3.6l-.5-4.1l-.5-2.2l-.5-.1l-.5-.1l-.5 .4l-.5-1.4l-.5 .9l-.5-.3l-.5-.6l-.5 0l-.5 .2l-.5 .4l-.5-.3l-.5 0l-.5 .9l-.5-1.1l-.5-.3l-.5 1.3l-.5-.8l-.5 1l-.5-.8l-.5-.7l-.5 1l-.5-.7l-.5 .6l-.5 .7l-.5-.6l-.5 .6l-.5-.5l-.5-.6l-.5 .5l-.5-.2l-.5-.6l-.5 .2l-.5-.2l-.5 .1l-.5-.3l-.5 1l-.5-.1l-.5-.7l-.5 .1l-.5 .4l-.5-.8l-.5 .9l-.5 .9l-.5 2l-.5-2.3l-.5-1.3l-.5-.4l-2 .2l-2 0l-2 .1l-.5-.4l-.5 .4l-.5-.3l-.5 .4l-.5-.2l-.5 0l-.5 .8l-.5-.8l-.5 .9l-.5-.4l-.5 .1l-.5 0l-.5-.4l-.5 .4l-.5 .3l-.5-.1l-.5 1l-.5 2l-.5-2.3l-.5-1.1l-.5 .9l-.5-.9l-.5-.1l-.5 .9l-.5 0l-.5 .1l-.5 .1l-.5-.9l-.5 .7l-.5 .1l-.5-1.1l-.5-.2l-.5 .1l-.5 .9l-.5 0l-.5 .8l-.5-.8l-.5-.7l-.5-.4l-.5 .4l-.5-.1l-.5 .3l-.5-.4l-.5 .8l-.5 0l-.5-.6l-.5 .5l-.5 .1l-.5-.6l-.5 .7l-.5-.3l-.5-.7l-.5 .6l-.5 .7l-.5-.6l-.5 .3l-.5-.6l-.5 .5l-.5-.2l-.5 .4l-.5-.3l-.5-.3l-.5 .6l-.5-.9l-.5 .3l-.5 0l-.5 .5l-.5-.3l-.5 .2l-.5-.7l-.5 .5l-.5-.9l-.5 .5l-.5 .4l-.5 .1l-.5-.3l-.5-.5l-.5 .6l-.5 1.2l-.5-1.4l-.5-.1l-.5-.7l-.5 .6l-2-.1l-2 .2l-.5 .1l-.5-.1l-.5-.3l-.5-.2l-.5 .2l-.5 0l-.5 .2l-.5 .2l-.5-.1l-.5 .2l-.5-.5l-.5 1l-.5-.9l-.5-.2l-.5 .1l-.5 .3l-.5-.1l-.5 .8l-.5-.1l-.5 .1l-.5-1l-.5 1.3l-.5-1.2l-.5 .1l-.5 .8l-.5-.4l-.5-.7l-.5 1.2l-.5-.6l-.5-.4l-.5 .5l-.5 .1l-.5 .1l-.5-.4l-.5 .4l-.5-.9l-.5 .1l-.5 .7l-.5-.1l-.5 .2l-.5 .1l-.5 .1l-.5-1.1l-.5 .9l-.5-.2l-.5-.3l-.5-.4l-.5 0l-.5 .7l-.5-.4l-.5 1.2l-.5-.9l-.5 .7l-.5-.1l-.5 .1l-.5-.4l-.5-.3l-.5 .3l-.5 .7l-.5-.8l-.5 .4l-.5-.2l-.5-.6l-.5 .9l-.5 .4l-.5-.9l-.5 .5l-.5-.4l-.5 .3l-.5-.5l-.5 .6l-.5-.9l-.5 .6l-.5-.9l-.5 .8l-.5-.6l-.5 .1l-.5 .1l-.5 .1l-.5-.5l-.5 .2l-.5 .2l-.5-.2l-.5 .1l-.5-.4l-.5 .3l-.5-.5l-.5 .6l-.5 .1l-.5-.6l-.5 .8l-.5-.9l-.5 .5l-.5 .6l-.5 0l-.5-.5l-.5 .2l-.5 .4l-.5 .2l-.5-.3l-.5 1l-.5-.6l-.5-.8l-.5 .2l-.5 .4l-.5-.8l-.5 .3l-.5 .3l-.5 .5l-.5-.8l-.5-.2l-.5 .9l-.5-.9l-.5 .6l-.5 .2l-.5-1.1l-.5 1.1l-.5 .1l-.5 0l-.5-.6l-.5-.2l-.5-.3l-.5 1.4l-.5-.4l-.5 0l-.5-.6l-.5 1l-.5-1.1l-.5 .4l-.5-.5l-.5 .6l-.5-.7l-.5 .6l-.5-.8l-.5 .7l-.5 .6l-.5 0l-.5 1.1l-.5 2.4l-.5-2.7l-.5-.3l-.5-.7l-.5 0l-.5-.2l-.5 .7l-.5-.7l-.5-.4l-.5 1.5l-.5-1.2l-.5 .1l-.5 .6l-.5-.3l-.5 .2l-.5-.2l-.5 .8l-.5-1.5l-.5 .8l-.5 .4l-.5 .1l-.5-.8l-.5 0l-.5-.5l-.5 .6l-.5 .4l-.5-1.3l-.5 .6l-.5-.8l-.5 1.2l-.5-.8l-.5 .3l-.5-.6l-.5 .4l-.5 .1l-.5-.1l-.5-.2l-.5-.4l-.5 .1l-.5 .8l-.5-.8l-.5-.1l-.5-.1l-.5 .3l-.5 .1l-.5 .4l-.5-.3l-.5 .7l-.5-.4l-.5 .4l-.5 .2l-.5-.1l-.5 0l-.5-.7l-.5 .7l-.5-.3l-.5-.1l-.5-.1l-.5-.3l-.5 .4l-.5 .6l-.5 1.1l-.5 2.4l-.5-2.7l-.5-2l-.5 1l-.5-.2l-.5 .1l-.5-1l-.5 .2l-.5 .2l-.5 .2l-.5-.8l-.5 1.1l-.5-.9l-.5-.2l-.5 .8l-.5 .3l-.5-.7l-.5 .6l-.5-.3l-.5-.4l-.5 .5l-.5 .1l-.5-.7l-.5 1.5l-.5-.9l-.5 .3l-.5 .1l-.5-.5l-.5 .2l-.5 1l-.5-.7l-.5-.3l-.5-.5l-.5 1.7l-.5-.1l-.5-.3l-.5-.7l-.5 .6l-.5 0l-.5 .4l-.5 .3l-.5-.7l-.5 .5l-.5-1.2l-.5 1.5l-.5-1.8l-.5 .9l-.5-.7l-.5 .4l-.5-.1l-.5-.6l-.5 1.3l-.5 .1l-.5-1.4l-.5 .2l-.5 .4l-.5 .3l-.5-.6l-.5 .1l-.5-.5l-.5 .7l-.5-.5l-.5 .3l-.5 .3l-.5-.6l-.5 .2l-.5 .4l-.5 0l-.5 .6l-.5-.7l-.5 .3l-.5 .5l-.5 0l-.5 .1l-.5-.3l-.5-.4l-.5-.1l-.5 .3l-.5-1.2l-.5 1l-.5 .4l-.5-1.1l-.5 .5l-.5-.3l-.5-.4l-.5 1.1l-.5-.6l-.5-.4l-.5-.3l-.5 .5l-.5 .7l-.5 1.6l-.5-1.8l-.5-.1l-.5-1l-.5 1.1l-.5 0l-.5-.3l-.5-.8l-.5 .3l-.5 .3l-.5-.5l-.5 .7l-.5-.8l-.5 .7l-.5-.9l-.5 .8l-.5 .1l-.5-.5l-.5 .5l-.5-.9l-.5 .8l-.5 .2l-.5-.3l-.5 .6l-.5-1l-.5 .1l-.5 .2l-.5 .2l-.5 .5l-.5-.4l-.5-.3l-.5 .2l-.5 .1l-.5 1.2l-.5-1.5l-.5 0l-.5 .4l-.5 .5l-.5-.3l-.5-.3l-.5 1.1l-.5-.9l-.5 .9l-.5-1l-.5 1.3l-.5-1.5l-.5 .3l-.5 1l-.5-.9l-.5-.3l-.5 1.2l-.5-1.4l-.5 .1l-.5 .3l-.5-.1l-.5-.2l-.5 .5l-.5 .4l-.5-.9l-.5 .9l-.5-.4l-.5-.6l-.5-.2l-.5 .9l-.5-1.1l-.5 .2l-.5 .5l-.5 0l-.5 .4l-.5-.6l-.5 .9l-.5-1.2l-.5-.1l-.5 .9l-.5 .1l-.5 .3l-.5-.9l-.5 .6l-.5-.6l-.5 1.7l-.5-.3l-.5 .3l-.5 0l-.5-.3l-.5 .7l-.5-1.8l-.5 .4l-.5 1l-.5-1.1l-.5 .9l-.5-.4l-.5 .2l-.5 .5l-.5-1.8l-.5 .6l-.5 .6l-.5-.7l-.5 .3l-.5-.3l-.5-.3l-.5-.6l-.5 .4l-.5-.4l-.5-.3l-.5 .3l-.5 .4l-.5-.6l-.5 .7l-.5-.6l-.5 .3l-.5-.5l-.5 .5l-.5-.4l-.5 .9l-.5-.1l-.5 .2l-.5 .1l-.5-.6l-.5 .9l-.5-.3l-.5-.4l-.5 .9l-.5 .3l-.5 0l-.5-.8l-.5 .5l-.5-.7l-.5 1.1l-.5-.7l-.5 0l-.5 .6l-.5-.3l-.5 1.3l-.5-.5l-.5-.8l-.5-.1l-.5 2l-.5-1.9l-.5 0l-.5 1.5l-.5-1.6l-.5 1.4l-.5-1.4l-.5 1.5l-.5-.2l-.5-1.8l-.5 .4l-.5 0l-.5 .9l-.5-1.1l-.5 .2l-.5-.1l-.5 .7l-.5 .1l-.5-1.2l-.5 .4l-.5 1.9l-.5-.2l-.5 .2l-.5-.1l-.5-.6l-.5 .8l-.5-1.1l-.5 1l-.5-1.5l-.5 2.2l-.5 .1l-.5-2.3l-.5 0l-.5 .4l-.5 2.3l-.5-.4l-.5-.6l-.5 .9l-.5-1.7l-.5-.2l-.5 1.1l-.5-1.5l-.5 .5l-.5 .3l-.5-1.9l-.5 .9l-.5-.5l-.5 1l-.5-.2l-.5 .2l-.5-.7l-.5-.8l-.5 1.3l-.5-.3l-.5 1.2l-.5 .3l-.5 1.4l-.5-1.7l-.5 1.3l-.5-.1l-.5-1.2l-.5 2.1l-.5 1l-.5-2l-.5 .5l-.5-.1l-.5 2.1l-.5-3.4l-.5 2.5l-.5-3.8l-.5 1.4l-.5-1.9l-.5 1.1l-.5-1.6l-.5 1.3l-.5-1.4l-.5 1.7l-.5 .5l-.5-1.4l-.5 .6l-.5-.2l-.5-.2l-.5-.2l-.5 1.7l-.5 0l-.5 1l-.5 3.6l-.5-4.1l-.5-2l-.5 1.3l-.5-.3l-.5 .1l-.5-1.9l-.5 1.9l-.5-.8l-.5 .7l-.5-.4l-.5-.6l-.5-.7l-.5 .5l-.5-.2l-.5-.3l-.5 1.2l-.5 .5l-.5-1.2l-.5 .1l-.5 1.3l-.5 .8l-.5-1.1l-.5 .4l-.5-1.3l-.5 1.6l-.5 1.6l-.5-.3l-.5-.4l-.5 1.5l-.5-3.6l-.5 3.2l-.5-2.3l-.5 1.7l-.5-3l-.5 2.4l-.5-2.2l-.5 .6l-.5-1.1l-.5 1.3l-.5 3.3l-.5 4.8l-.5-5.4l-.5-2.2l-.5-.2l-.5-1.4l-.5 1.3l-.5 .2l-.5-.3l-.5-.4l-.5 .7l-.5 0l-.5-1.3l-.5-.4l-.5-.5l-.5 .4l-.5 1.1l-.5-.1l-.5-1.4l-.5 1l-.5-1.3l-.5 1.2l-.5-.2l-.5 1.4l-.5 2.8l-.5-3.1l-.5-1.1l-.5-1.1l-.5-.2l-.5 .6l-.5 1l-.5-1.6l-.5 1.7l-.5-.3l-.5-.5l-.5 0l-.5-.2l-.5 .6l-.5 .4l-.5 .3l-.5-1.7l-.5 1.8l-.5 .4l-.5-.1l-.5 0l-.5-.3l-.5-.6l-.5 2.4l-.5 3.6l-.5-4.1l-.5-2.6l-.5 1.7l-.5-1.8l-.5-.1l-.5 1.1l-.5 .5l-.5-.7l-.5-1.2l-.5 .6l-.5 .6l-.5-.9l-.5 .6l-.5 .2l-.5 .3l-.5-1.2l-.5 .6l-.5-.2l-.5-.2l-.5 .7l-.5 .5l-.5-.8l-.5-.5l-.5 .3l-.5 1.4l-.5-.8l-.5 .9l-.5 .1l-.5-.2l-.5-1.1l-.5 .9l-.5-1.1l-.5-.3l-.5 .1l-.5 1.2l-.5 1.5l-.5-.2l-.5 3.2l-.5-3.6l-.5-1.1l-.5 1.1l-.5 .4l-.5-2.1l-.5 2.1l-.5 .1l-.5 1.1l-.5 4l-.5-4.5l-.5-2.1l-.5 .1l-.5-1.2l-.5 .7l-.5-.1l-.5-.3l-.5 1.7l-.5-1.4l-.5 1l-.5-.1l-.5-1.9l-.5 .8l-.5 .1l-.5 .7l-.5-1.8l-.5 1.2l-.5-.8l-.5-.2l-.5 .4l-.5 0l-.5 0l-.5-.9l-.5-.1l-.5 0l-.5-.4l-.5 .3l-.5 1.2l-.5 1.6l-.5-1.8l-.5-1.2l-2-.1l-2 .1l-2 .1l-2-.1l-2-.2l-2 0l-2 .3l-2 0l-.5-.1l-.5 0l-.5 .4l-.5 .2l-.5-.3l-.5 .1l-.5 1.4l-.5-.4l-.5-1l-.5 1.6l-.5-.2l-.5-1.3l-.5 1l-.5-.7l-.5-.3l-2-.2l-2 .2l-2-.4l-2 .3l-2-.3l-2-.3l-2 .3l-2-.2l-2 .2l-.5 .5l-.5-.2l-.5 .3l-.5-.4l-.5 .8l-.5-.2l-.5-.6l-.5 .3l-.5 1l-.5-.5l-.5 .1l-.5 .7l-.5-1.4l-.5-.1l-.5 .2l-.5 .7l-.5-.2l-2-1.1l-2-.2l-2 0l-2 .2l-2-.2l-2 .1l-2 .1l-2-.2l-2 .2l-2 .2l-2 .2l-2-.2l-2 .2l-2 0l-2-.3l-.5 0l-.5 .2l-.5-.1l-.5-.1l-.5 0l-.5 .2l-.5 .5l-.5-.6l-.5-.1l-.5-.2l-.5 .8l-.5 .3l-.5-.8l-.5-.3l-.5 .2l-.5 .3l-.5 .5l-.5-.4l-.5-.1l-.5 .3l-.5-.6l-.5 .6l-.5 .1l-.5-.2l-.5-.2l-2 .1l-2-.6l-2 0l-2 .1l-2-.2l-2 .2l-2 0l-2-.1l-2-.1l-2 .3l-2-.2l-2 0l-.5 .2l-.5 .7l-.5 1.2l-.5-1.4l-.5-.7l-.5 0l-2 .1l-2-.1l-2 0l-2 0l-2 .2l-2-.1l-2-.2l-2 .1l-2 0l-2 0l-2 .2l-2-.1l-2 .1l-2-.1l-2 .1l-2-.1l-2-.1l-2 0l-2-.1l-2 .1l-2 .2l-.5 0l-.5 .1l-.5 .3l-.5 .3l-.5 .6l-.5-.8l-.5 .2l-.5 1.8l-.5 .1l-.5-.5l-.5 .3l-.5-.3l-.5 .1l-.5-.1l-.5 1l-.5 1.6l-.5-.5l-.5-.1l-.5 1.5l-.5-2.6l-.5 .2l-.5-1l-.5 2l-.5-2.8l-.5-.6l-.5 2.9l-.5-1.1l-.5 0l-.5 2l-.5 .9l-.5-1.1l-.5 3.8l-.5 9.3l-.5 12.4l-.5-13.9l-.5-10.8l-.5-3.7l-2-1.7l-2-.1l-2 0l-2 .2l-2-.1l-2 .2l-2-.2l-2-.1l-2 0l-2 .2l-2-.1l-2 .2l-2 0l-2-.3l-.5 .4l-.5 1.2l-.5 1.6l-.5-1.8l-.5-1.2l-.5-.1l-.5-.1l-.5 .1l-2 .1l-2-.2l-2 .1l-2 0l-2 .2l-2-.3l-2 .3l-2-.1l-2-.2l-2 .1l-2-.1l-2 .2l-2-.1l-2 .1l-2-.2Z" fill="#0a3cff" stroke="#0a3cff" stroke-width="0.7" stroke-linejoin="round"/>
<path d="M121.2,300.9l2 .2l2-.2l2-.1l2 .2l2-.2l2 .2l2 .1l2-.1l2 .1l2 0l2 0l2-.3l2 .3l2 0l2-.3l.5 .1l.5 .2l.5-.2l.5-1.1l.5-1.8l.5 1.6l.5 1.2l.5 .2l2-.1l2 .1l2 .1l2-.1l2 0l2 0l2 0l2-.1l2 .2l2-.2l2 0l2-.1l2 .2l2-3l.5-5.7l.5-16.2l.5-21.1l.5 18.8l.5 14.1l.5 6.3l.5-2.1l.5 0l.5 2.1l.5 .6l.5 2.6l.5 1.4l.5 .4l.5-1.7l.5-.5l.5-1.4l.5 2.1l.5-.6l.5-2.4l.5 1.7l.5 1.9l.5-3.3l.5 2.9l.5-.1l.5-.1l.5 .7l.5-1.7l.5 2.4l.5-.8l.5 1.2l.5-1.3l.5 .8l.5 0l.5 .9l.5-.1l.5 1.1l.5-.2l.5 .1l2 0l2 0l2 .2l2-.2l2 0l2 0l2 0l2 .1l2 0l2 0l2 0l2-.1l2 .1l2 .1l2 .1l2-.2l2 .2l2 0l2-.3l2 .3l2-.1l.5-1.2l.5-1.8l.5 1.6l.5 1.1l.5 .2l2 .2l2-.3l2 0l2 .1l2 0l2 0l2-.5l.5 .4l.5-.2l.5-.5l.5 .5l.5-.2l.5 .1l.5-.3l.5 .8l.5-.3l.5 .1l.5-.4l.5 .6l.5-.5l.5-.3l.5-.1l.5 0l.5 .5l.5 .1l.5-1.2l.5 1.1l.5-.3l.5 .2l.5-1.1l.5 .7l.5-.9l.5 .8l.5 .6l.5-1.1l.5 .3l.5-.6l.5 .9l.5-.9l.5 1.1l.5-.3l.5 .1l.5-.7l.5 1.3l.5-.2l.5-.8l.5 1.1l.5-.5l.5 .1l.5-.3l.5 .4l.5-.5l.5 .2l.5 .4l.5-.6l.5-.4l.5 1l.5-.6l.5 .7l.5-.4l.5 .4l.5 .2l.5-.4l.5 0l.5-.2l.5 .4l.5-.1l.5-.3l.5 .8l.5-.5l.5 .6l.5 0l.5-.6l.5 .2l2 .1l2-.2l2-.4l.5 .6l.5-.4l.5 .1l.5 .3l.5-.1l.5 .2l.5-.1l.5-.4l.5-.2l.5 .6l.5-.2l.5-.5l.5-.1l.5 .1l.5 .3l.5-.1l.5 .3l.5 0l.5-.1l.5-.2l.5 .3l.5-.1l.5 0l.5 .2l.5-1.4l.5-.2l.5 .5l.5-.7l.5-.5l.5 .4l.5 .6l.5 .5l.5-1.1l.5 .6l.5-.9l.5 .7l.5 .3l.5-.4l.5 1.4l.5-1.3l.5 .8l.5 .4l.5 .4l.5-.6l.5 .3l.5-.4l.5 .3l.5 .3l.5-.8l.5 0l.5-.1l.5 .5l.5-.1l.5-.3l.5-.4l.5 .6l.5 .5l.5-1.1l.5 1.1l.5-1.1l.5 .2l.5 1l.5-.6l.5 .6l.5-.9l.5 0l.5 1l.5-.5l.5 .5l.5 0l.5-.2l.5 .3l.5-.8l.5 .4l.5-.4l.5 .3l.5 .5l.5-1l.5-.2l.5-1.2l.5 .8l.5 .1l.5-.5l.5-1l.5 .9l.5-1.4l.5 .3l.5 .5l.5 .8l.5 .6l.5-.9l.5 .1l.5 .4l.5 .2l.5 1.1l.5 .5l.5-.8l.5 .1l.5 .1l.5-.3l.5 .2l.5-.3l.5 .6l.5-.5l.5 .3l.5 .5l.5-.7l.5 .5l.5-.5l.5 .8l.5-.7l.5 .3l.5 0l2 .2l2 .1l2-.1l.5 0l.5-2.2l.5-2.7l.5 2.4l.5 1.8l.5 .1l.5-1l.5-1.3l.5 .2l.5-.1l.5-.1l.5-2.7l.5-1.3l.5 .5l.5-.5l.5 2.4l.5 .9l.5-1.9l.5-1.7l.5 2.1l.5-2.5l.5 2.5l.5-1.2l.5-.7l.5-.9l.5 .4l.5 .9l.5-.6l.5 .9l.5 .3l.5-1.1l.5-6.8l.5 6l.5 1.2l.5 2.4l.5-2.4l.5 1.5l.5 1.3l.5-.5l.5-3.3l.5-7.2l.5 6.4l.5 3.6l.5 1.1l.5-1.4l.5 1.7l.5 .4l.5-1.1l.5 0l.5-1.7l.5 2.4l.5 .7l.5-1l.5-1.8l.5-1.2l.5 .7l.5 1.3l.5 .3l.5 0l.5-.4l.5 .6l.5 0l.5 1.5l.5-3.2l.5 .1l.5 .3l.5-.3l.5 2.7l.5-1.1l.5-1.2l.5 1.4l.5 .7l.5-2.5l.5 2.1l.5 .2l.5-.8l.5-.1l.5-5.4l.5-9l.5 8l.5 6l.5 3.1l.5-.6l.5-.3l.5 .8l.5-.9l.5 1.5l.5-.1l.5-.5l.5-1.6l.5 1.8l.5-2.3l.5-.3l.5 2.5l.5-2.1l.5 .8l.5-2.1l.5 1.2l.5-.5l.5 .3l.5-1.3l.5-2.8l.5-7.6l.5 6.8l.5 5l.5 .2l.5-.5l.5-1.9l.5 3l.5-3.7l.5 2.2l.5-.3l.5 2l.5-2.1l.5 1.9l.5-2.8l.5 2.2l.5-1.3l.5 1.8l.5 .2l.5-.1l.5-2.6l.5 .9l.5-.5l.5-8.8l.5-12.6l.5 11.2l.5 7.8l.5 5.4l.5-1.2l.5-1.9l.5 1.5l.5-2.5l.5-1.2l.5-.1l.5 .9l.5-1.5l.5 3.3l.5-3.8l.5 1.7l.5 3.3l.5-5l.5 2.4l.5-.6l.5 2.6l.5-2.1l.5 3l.5-3.8l.5 3.4l.5-1.2l.5-1.1l.5 2.9l.5-4.1l.5 2.2l.5-1.5l.5 3.2l.5-1.1l.5 .5l.5-.9l.5-.7l.5 1.6l.5-1.1l.5 .9l.5-1.5l.5 .2l.5-5.7l.5-10.4l.5 9.2l.5 6.5l.5 2.9l.5 .6l.5 .2l.5 .9l.5-2.4l.5 1.5l.5 .2l.5-1.5l.5 .8l.5-.8l.5 1.5l.5-1.8l.5 0l.5 .1l.5-1.4l.5-3l.5 2.5l.5 2.1l.5-4.5l.5-.2l.5 .8l.5 1.1l.5 2.7l.5-2l.5-2.4l.5 1.6l.5 0l.5 1.8l.5 1.6l.5-.6l.5-1.9l.5 .3l.5 2.6l.5-1.7l.5-2l.5 .2l.5 3.7l.5-3.4l.5-.1l.5 1l.5 2.2l.5-2.5l.5 1.2l.5 .4l.5-.3l.5-.4l.5 .5l.5-2.3l.5 .2l.5 .8l.5 1.3l.5 .7l.5-.1l.5-.8l.5 .5l.5-1.1l.5 .4l.5-.6l.5 .6l.5 .4l.5 .8l.5-.7l.5 .4l.5-3.2l.5 .4l.5 0l.5 1.8l.5-2.6l.5 1.6l.5 1.9l.5-2.2l.5-2.2l.5-.4l.5 2.7l.5-1.6l.5 1.1l.5 2.3l.5-2.3l.5 3l.5 0l.5-.3l.5-2l.5-.4l.5 .3l.5 2.4l.5-2.6l.5 .6l.5 2.6l.5-2.2l.5 2.3l.5-3.2l.5 2.9l.5-2.5l.5 1.1l.5-1.5l.5 2.7l.5-1.1l.5-.1l.5 2.6l.5-1.3l.5 .1l.5 .1l.5 0l.5-.4l.5 .3l.5 1.6l.5-1l.5 .2l.5 .8l.5-1.1l.5 .5l.5 .4l.5-1.2l.5 1.1l.5-1.4l.5 0l.5-.6l.5 1.9l.5-1.2l.5-.1l.5 0l.5 1l.5-2.2l.5-.4l.5 .7l.5 1l.5 0l.5-3.2l.5 2.5l.5 .1l.5 .8l.5-.2l.5-2l.5 1.5l.5-2l.5 2.3l.5-3.3l.5 1.1l.5 0l.5-.4l.5 1.1l.5 .9l.5 1.4l.5-2l.5-.4l.5 2.7l.5 .4l.5-.2l.5-1.4l.5-.5l.5 .4l.5-.3l.5 1.1l.5 .5l.5-1.2l.5-.2l.5 1.7l.5-2.2l.5-.6l.5-.6l.5 0l.5 2l.5-.6l.5 .5l.5 1.4l.5-2.8l.5-.1l.5-.5l.5 .5l.5 2.8l.5-1.4l.5-1.2l.5 1.1l.5 1.8l.5-.6l.5-2.3l.5 1.1l.5-1l.5-.2l.5 1.8l.5-1.9l.5 1l.5 1.1l.5 .8l.5-.9l.5 1.4l.5-1.6l.5 .4l.5-.7l.5 .6l.5-.4l.5 .5l.5 1.7l.5-1.2l.5 1l.5-1.1l.5-.1l.5 1.2l.5-2.1l.5 1.9l.5-1.8l.5 1.3l.5-1.2l.5 1.2l.5-1.8l.5 1.7l.5-.9l.5-.4l.5 1.6l.5-.4l.5-.5l.5-1.1l.5-.1l.5 2.1l.5-1.3l.5 1.3l.5-1.4l.5 1.9l.5-1.2l.5-2.7l.5 2.4l.5 1.4l.5 .2l.5-.5l.5-.9l.5-.1l.5 .8l.5 .9l.5-1.5l.5 .3l.5-.5l.5 .5l.5 .3l.5-.2l.5-.1l.5-.1l.5-1.6l.5 .3l.5 1.1l.5-1.1l.5 .2l.5 0l.5 1l.5-.4l.5-.7l.5 1.4l.5-2.6l.5 1.8l.5-2.1l.5 1.7l.5 .3l.5-.7l.5 .3l.5 .1l.5 .3l.5-1l.5-1.5l.5 .7l.5-.2l.5 .1l.5 2.6l.5-1.9l.5-.5l.5 1.8l.5 .7l.5-.3l.5-1.4l.5 1l.5-1.1l.5 1.1l.5-.4l.5 1.6l.5-2.1l.5 .4l.5 1.5l.5-1.6l.5 2.1l.5-.6l.5 .6l.5-2.5l.5 1.3l.5-2.2l.5 2.3l.5 .1l.5-2l.5-.1l.5 .8l.5 .3l.5 1.7l.5-.3l.5-1.2l.5 1l.5-1.1l.5 .1l.5 1.6l.5-.3l.5 .1l.5-1.1l.5-.9l.5 1.5l.5-1.2l.5 .4l.5 1.4l.5-1.8l.5 .1l.5 .9l.5-.8l.5 0l.5 .4l.5-4l.5-6.3l.5 5.6l.5 3.5l.5 1.3l.5 .1l.5 1.4l.5-.4l.5 .9l.5-.9l.5-.5l.5 0l.5-.3l.5 1.5l.5-1.3l.5 .7l.5-.2l.5 .7l.5-.6l.5 .4l.5-1.5l.5 .4l.5 .8l.5-.7l.5-1.2l.5 1.6l.5-1.1l.5-1.6l.5 1.5l.5 0l.5-1.8l.5 1.7l.5 .7l.5-1l.5-.9l.5 .9l.5 .2l.5 .6l.5-1.8l.5 .6l.5-.3l.5-.5l.5 .1l.5-.3l.5 3l.5-1.7l.5-.5l.5 .1l.5 1l.5-1.1l.5-.1l.5 .4l.5 .5l.5-.2l.5 1.4l.5-1.7l.5 .7l.5-.7l.5-.1l.5 2.5l.5-.1l.5-.1l.5-5.8l.5-6.8l.5 6l.5 4.5l.5 .2l.5-.1l.5-.7l.5 2.3l.5-2.9l.5-.4l.5 1.1l.5 1.2l.5-.4l.5-.8l.5 1.4l.5-.8l.5-.3l.5 1.4l.5-2.2l.5 1.2l.5 .1l.5-.9l.5 2.6l.5 .3l.5-1.1l.5-.6l.5 .4l.5 1l.5 .1l.5-1.6l.5 .2l.5 1.3l.5 .6l.5-.9l.5-.1l.5 .3l.5-.5l.5 .7l.5-2.5l.5-4.1l.5 3.6l.5 2.7l.5 .4l.5-.4l.5 .2l.5 .8l.5-1.7l.5 .2l.5-.1l.5 .2l.5 1l.5-.6l.5-1.5l.5 1.4l.5 .8l.5-.2l.5-1.2l.5 .3l.5-.8l.5-.1l.5 .4l.5 0l.5 .5l.5 .8l.5-2l.5 .1l.5 .1l.5 1.5l.5-.2l.5-1.9l.5 .4l.5 0l.5-.4l.5 .6l.5 .2l.5 .5l.5-1.8l.5 1.4l.5-.2l.5 1.2l.5-3.1l.5 1.6l.5 1l.5 0l.5-1.4l.5-.5l.5 1.9l.5-.2l.5 1l.5-2.8l.5 1.6l.5-.5l.5-.3l.5 1.5l.5 .4l.5-1.3l.5-.6l.5 .2l.5 .3l.5 1.5l.5-1.3l.5-.5l.5 .6l.5-.4l.5-.7l.5 2.2l.5-.8l.5-1.2l.5 .4l.5 2l.5-2.4l.5 1.8l.5 .2l.5 .4l.5-1.9l.5 1.5l.5 .4l.5-.6l.5-.5l.5 1.3l.5-1.3l.5 .6l.5-.1l.5 .2l.5 .8l.5-.5l.5-.2l.5 1.2l.5-1.3l.5 .1l.5 1l.5-.5l.5 .1l.5-.6l.5 1l.5-.1l.5-.9l.5-.2l.5 .6l.5-.5l.5-.8l.5 .2l.5 1.5l.5-1.7l.5 .9l.5-1.4l.5 .2l.5 1.6l.5-.4l.5-1.4l.5 .9l.5-.9l.5-3.1l.5 2.8l.5 .9l.5 .6l.5 .5l.5-.7l.5-.1l.5-.9l.5 1l.5-1.2l.5 1.1l.5-.7l.5 1.5l.5-1.1l.5-.1l.5 0l.5 .2l.5 .1l.5 .2l.5 .4l.5 .1l.5-1.4l.5 1.7l.5-.7l.5-.5l.5-.7l.5 .7l.5 1.1l.5-1l.5 .7l.5-1.6l.5 1.7l.5-1.9l.5 2l.5-1.5l.5 1.5l.5-2.8l.5 2.7l.5-2l.5-.3l.5 .4l.5 .3l.5 .1l.5-2.1l.5 1.3l.5 1.5l.5 .3l.5-1.7l.5 1.1l.5-.8l.5 .9l.5-.8l.5 1.1l.5-.8l.5 0l.5 .9l.5 1l.5-.9l.5-.1l.5 0l.5-2.5l.5-4.5l.5 4l.5 2.7l.5 .5l.5 .7l.5 .4l.5 .1l.5 .1l.5-1.4l.5 1.4l.5-.6l.5-.8l.5 .3l.5 .2l.5 .4l.5-1.3l.5 .7l.5 .8l.5-.3l.5-1.4l.5 1.3l.5-1.6l.5 1.9l.5-.5l.5-.8l.5 .7l.5-1.3l.5 .5l.5-.1l.5-.1l.5 1.1l.5 .4l.5-2.9l.5-4.1l.5 3.6l.5 2l.5 .2l.5 .2l.5-.8l.5 1.1l.5 .9l.5-.6l.5 .5l.5 .2l.5-1.5l.5 .9l.5-.5l.5-.9l.5 1.6l.5-.6l.5-1.3l.5 .9l.5 .7l.5-.6l.5 .2l.5 .4l.5-2l.5 1.6l.5-.3l.5-1.3l.5 1.6l.5-1.5l.5 1.4l.5-2.4l.5-.3l.5 1.5l.5-1.6l.5 0l.5 1.7l.5 .8l.5-3.2l.5 .7l.5 0l.5 .5l.5-.4l.5 1.8l.5 .7l.5 .2l.5-4.8l.5-6.3l.5 5.6l.5 3.2l.5 0l.5 .3l.5 1.7l.5-.3l.5 .3l.5 .1l.5-.3l.5 1.1l.5-1.1l.5 1.2l.5-.7l.5 .6l.5-.3l.5-1.1l.5 .5l.5 .1l.5-.7l.5 1.8l.5-1.7l.5 1.8l.5-1.9l.5 .5l.5-.8l.5 .9l.5 .4l.5-.2l.5-.7l.5-1.8l.5 2.8l.5-.7l.5 .5l.5-2.5l.5 .9l.5-.2l.5-.2l.5 1.2l.5-.5l.5 0l.5 .4l.5 .5l.5 .2l.5 1l.5-.6l.5-.7l.5 .6l.5-.3l.5-.8l.5 .7l.5 1.2l.5-1.7l.5 .4l.5-1.1l.5-3.6l.5 3.2l.5 1.6l.5 .9l.5 .6l.5-1l.5 .1l.5-.5l.5-.5l.5 .1l.5 0l.5-.6l.5 .9l.5-1.2l.5 1.9l.5-1.5l.5 1.2l.5 .2l.5-1l.5 0l.5-1.9l.5 2.7l.5-2.9l.5 1.1l.5-1.4l.5 2.3l.5-1.4l.5 0l.5-1.2l.5 1.6l.5-1.4l.5 1.2l.5-1.3l.5 .9l.5 1l.5-1.2l.5 1.9l.5-1l.5-.5l.5 .8l.5 .1l.5-.9l.5-.9l.5 2.6l.5-.7l.5-1.8l.5 .6l.5 .3l.5 1.6l.5-.1l.5-.5l.5 .2l.5-.1l.5 1.8l.5-.7l.5-1.2l.5 .6l.5 .8l.5-.4l.5-.9l.5 .4l.5-1.1l.5 .9l.5-.5l.5 .1l.5-1l.5-2.3l.5 .5l.5 2.7l.5-.9l.5 .8l.5-.7l.5 .8l.5 1.4l.5-2.2l.5 1.6l.5 1.1l.5-.6l.5-1.4l.5 .7l.5-.8l.5 .9l.5-9.7l.5-10.8l.5 9.6l.5 7.2l.5 3.7l.5 .8l.5-1.1l.5-1.2l.5 1.7l.5-3.6l.5-.8l.5 2.7l.5-.6l.5-3.9l.5 2.1l.5-4.1l.5 4.1l.5-3.3l.5 .1l.5 0l.5 .4l.5 .5l.5 2.9l.5-1l.5 2.2l.5 .1l.5 1l.5-.9l.5 .7l.5-.2l.5 1l.5-.7l.5 0l.5-.3l.5-1l.5 .3l.5 1.2l.5-1.6l.5 2.3l.5-3.7l.5 .8l.5 1.8l.5 .2l.5-2.3l.5 2.5l.5-.6l.5 .6l.5-.1l.5 .1l.5 .5l.5 1.5l.5-1.6l.5 .3l.5 1.1l.5-.5l.5-1.6l.5 .1l.5 2.4l.5-2l.5 1.4l.5-1.5l.5 1l.5-1.2l.5 .2l.5-.4l.5 1.4l.5 .9l.5-1.8l.5 .8l.5-.4l.5-2.2l.5 1.2l.5 .6l.5-.7l.5-.2l.5-.4l.5 .1l.5 1.1l.5-.1l.5-.3l.5 1.6l.5 0l.5 .3l.5-2.1l.5-.6l.5 .8l.5 .5l.5 0l.5-.3l.5 2l.5-.5l.5 .6l.5-1.4l.5 .3l.5-.2l.5-.1l.5 1.2l.5 .4l.5-.8l.5-.2l.5 .9l.5-.5l.5-.5l.5-1.1l.5-.6l.5 2.1l.5-2.3l.5 1.7l.5-1.1l.5-1.5l.5-.3l.5 .4l.5 1.2l.5-1.6l.5 1.6l.5 .6l.5-1.3l.5 1.6l.5-1.6l.5 1.8l.5-1.9l.5 2.4l.5-.5l.5-.5l.5 .6l.5-1.3l.5-.3l.5 2l.5-2.7l.5 3.2l.5-2.6l.5-.2l.5 2.4l.5 .1l.5-2.6l.5-.1l.5 2.7l.5-2.4l.5 .2l.5 1l.5 .6l.5 1.2l.5-1.1l.5-1.1l.5-.5l.5 1.7l.5-1.6l.5-1.5l.5 .9l.5-.3l.5-1.7l.5 1.9l.5-2l.5 3.2l.5-2.3l.5 2.8l.5-.6l.5-.5l.5 .9l.5-1.3l.5 .2l.5 0l.5 1.1l.5-1.2l.5-.7l.5 1.3l.5 0l.5-.3l.5 1.8l.5-2l.5 1.1l.5-.3l.5 1.3l.5-1.1l.5-.1l.5 1.3l.5-1.6l.5 0l.5-.7l.5 2l.5-.7l.5 .1l.5-.7l.5 1.4l.5 0l.5-2.2l.5 .1l.5-.4l.5-1.6l.5 2.5l.5 .6l.5-3.1l.5 1.6l.5 .4l.5 .8l.5 .1l.5 1.5l.5-.5l.5-1.3l.5 1.6l.5-.2l.5 .7l.5-.8l.5 1.3l.5-.9l.5-1.4l.5 1.7l.5-1.8l.5 .5l.5 .9l.5-1.8l.5 2l.5 .4l.5-5.6l.5-6.8l.5 6l.5 4.5l.5-.4l.5 1l.5-.5l.5 .7l.5 .9l.5-1.4l.5-1l.5 2.4l.5-1.1l.5 1.2l.5-2l.5-.2l.5 .3l.5 .8l.5-.1l.5-6l.5-8.1l.5 7.2l.5 5.4l.5 1.2l.5 1.3l.5 .6l.5-1.2l.5-1.6l.5 .2l.5 1.7l.5-.9l.5 .3l.5 .3l.5 .2l.5-1.4l.5-.1l.5-1.5l.5 2.5l.5-1.9l.5-.3l.5 .9l.5 1.8l.5-1.1l.5 1.1l.5 .6l.5-1.5l.5 1.9l.5-1.4l.5 1.3l.5 .4l.5 .7l.5-.1l.5-.1l.5 .6l.5-.6l.5 .2l.5 .2l.5 .3l.5-.7l.5-.1l.5 .3l2 .1l2-.1l2 .4l2-.6l2 .6l.5-.5l.5-.4l.5 .3l.5-.2l.5-.2l.5 .2l.5 .1l.5 .3l.5 .2l.5-.3l.5-.6l.5 1.1l.5-.4l.5 .1l.5-.6l.5 .2l.5 .2l.5 .4l.5-.2l.5-.7l.5 .5l.5-.5l.5 .2l.5 .7l.5-.2l.5-.1l.5-.2l.5 .1l.5 .4l.5 .1l.5-.5l.5 .3l.5-.1l2 .1l2 .1l.5-.5l.5-.3l.5 .7l.5-.6l.5 .3l.5 .1l.5 0l.5 .4l.5-.3l.5-.2l.5 .3l.5-.6l.5-.3l.5 0l.5 .3l.5-.5l.5 1l.5-.6l.5 0l.5 .5l.5-.7l.5 .8l.5-.4l.5 0l.5-.2l.5 .6l.5 0l.5-.2l.5-.1l.5-.1l.5 .4l.5 .1l2-.3l2 .1l2 .2l2-.1l2-.3l.5 .4l.5 .1l.5-.8l.5-.1l.5-.1l.5-.5l.5-.4l.5 .4l.5 .7l.5 0l.5 .1l.5 .4l.5-1.3l.5 1.3l.5-.7l.5 .3l.5-.9l.5-.4l.5 1.2l.5 0l.5 .6l.5-.3l.5-.6l.5 .4l.5-.5l.5 .8l.5-.1l.5-.2l.5 0l.5 .3l.5-.2l.5-.5l.5 .7l.5 .1l.5-.1l.5-.2l.5 .3l.5-.3l.5-.5l.5-.8l.5 1.1l.5 0l.5-.4l.5-1.1l.5 .5l.5 0l.5-.3l.5 1l.5-1l.5-.5l.5 1.2l.5-1.1l.5 .2l.5 .1l.5 .5l.5 .2l.5 .3l.5-.9l.5 .4l.5 .9l.5-1.7l.5 1.8l.5-1.7l.5 1.6l.5-.7l.5-.8l.5-2.7l.5 2.4l.5 1.8l.5-.7l.5-.3l.5 .1l.5 0l.5 .2l.5 .8l.5-.6l.5-.5l.5 .3l.5-.1l.5-.5l.5 .6l.5-.5l.5-.6l.5 1.8l.5-.6l.5-.9l.5 .6l.5 1.2l.5-.6l.5-.1l.5-.2l.5 .7l.5-.4l.5 0l.5 .4l.5-.9l.5-1.4l.5 1.6l.5 .4l.5 .3l.5-1.2l.5 1.4l.5-.2l.5-.4l.5 .9l.5-.5l.5-.7l.5 .2l.5-1.8l.5 1.6l.5 1.1l.5 .1l.5 .1l.5-.8l.5 .2l.5 .5l.5 .1l.5-.4l.5-3.4l.5-4.1l.5 3.6l.5 2.7l.5 .8l.5-.3l.5 .5l.5-1.6l.5-.4l.5 1.2l.5-1.5l.5 .7l.5-1.3l.5 .7l.5-.3l.5 .2l.5 1.1l.5 .7l.5-1.2l.5 1.2l.5-1.1l.5 0l.5 .7l.5-.8l.5 .1l.5 .9l.5-.1l.5-1l.5 1.5l.5-1.4l.5 .5l.5 1.1l.5-1.6l.5 .3l.5 0l.5 0l.5 0l.5 1.3l.5 0l.5 .4l.5-.3l.5 0l.5 .2l.5-1l.5 .7l.5-.3l.5-.7l.5 .1l.5-1.3l.5 1.6l.5-.6l.5 .2l.5 1l.5-.7l.5-.6l.5 1.2l.5-1.2l.5 .2l.5 .5l.5-.7l.5 .5l.5-.6l.5-.7l.5-3.1l.5 2.8l.5 2l.5 .4l.5-.3l.5 0l.5 .5l.5 0l.5-.6l.5-.8l.5 .3l.5 .4l.5 .8l.5-.2l.5-1.1l.5-2.2l.5 2l.5 1.4l.5-.8l.5 1.1l.5-.7l.5 .6l.5-.7l.5 .6l.5-.2l.5 .5l.5-1l.5-1.8l.5 1.6l.5 .7l.5-.2l.5 .2l.5-.2l.5 .3l.5-.3l.5 .3l.5-.8l.5 .7l.5 0l.5-1.1l.5-2.2l.5 2l.5 .5l.5 .1l.5 .6l.5-1.2l.5 1.1l.5 0l.5 .4l.5-1.2l.5-.5l.5 .2l.5 .2l.5-.5l.5 1.3l.5-.8l.5-.2l.5 1.1l.5-.4l.5-.3l.5 .8l.5 .2l.5 .2l.5 .1l.5 0l2 .2l2-.1l2 0l2-.1l.5-.6l.5 0l.5 .1l.5 0l.5 .6l.5-.2l.5 .2l.5 0l.5 0l.5 .1l.5-.2l.5-.6l.5 1l.5-.2l.5-.4l.5 0l.5 .2l.5 .4l.5-.1l.5 .2l.5 0l.5-.5l.5-.1l2 .4l2-.1l2 .1l2 0l2-.2l2 .3l2-.1l2-.4l2-.1l2-.3l.5 .6l.5-.2l.5 .2l.5 .2l.5-.9l.5 .3l.5-.3l.5 1l.5-.2l.5-.2l.5-.3l.5 .8l.5-.5l.5 0l.5-.2l2 .3l2 0l2-.1l.5-.1l.5 .1l.5 .3l.5-.4l.5-.4l.5 .8l.5-.2l.5 .3l.5-.6l.5 .4l.5-.2l.5-.1l.5 .4l.5-.5l.5 .3l.5 .2l.5-.6l.5 .3l.5-1.5l.5-2.2l.5 2l.5 1.3l.5 .1l.5 .7l.5-.2l.5-.3l.5-.4l.5-.4l.5-.6l.5 .9l.5 .1l.5-.5l.5-.1l.5-.3l.5 .3l.5 .5l.5-.2l.5 .5l.5-.6l.5 1.1l.5 0l.5-.2l.5-.1l2 .2l2-.1l2-.1l.5-.8l.5 .5l.5-.4l.5-.2l.5 .1l.5 .4l.5-1.2l.5 .2l.5 1.1l.5-.4l.5 .9l.5-.2l.5-.2l.5-.5l.5 .1l.5 .1l.5 .8l.5-.5l.5 .5l2 .2l2-.1l2 0l2 0l.5-.3l.5-.1l.5 .3l.5-.8l.5 .4l.5-.3l.5-.2l.5 .3l.5 .6l.5-.5l.5-.2l.5-.2l.5 .4l.5 .3l.5-.6l.5 .5l.5 .3l.5-.4l.5 .5l.5-.8l.5 .9l.5-.3l.5 .3l.5-.2l.5-.1l.5-.2l.5-.1l2 .2l2 0l2 0l2 .1l2 0l2-.2l2 0l2-.1l2 .2l.5 .5l.5-.6l.5 .5l.5 0l.5-.4l.5-.5l.5 .8l.5 0l.5-.5l.5-.2l.5 .3l.5 .5l.5-.4l.5-.1l.5 .3l.5-.4l.5 .1l2 .4l2 0l2-.4l2 .3l.5-.5l.5 .1l.5 .2l.5 .4l.5 0l.5-.3l.5-.2l.5-.4l.5 .6l.5-.2l.5 .2l.5 .1l.5-.6l.5 .4l.5-.3l.5 .6l.5-.7l.5 .6l.5-.2l.5-.5l.5 .7l.5-.4l.5 .4l.5-.4l.5 .6l.5-.7l.5-1.4l.5 1.2l.5 .5l.5 .3l2-.1l2-.1l2 .2l.5-.3l.5 .3l.5 0l.5-.2l.5 .3l.5-.7l.5 .6l.5 .1l.5-.3l2 .2l2-.2l2 .2l2 .2l2-.2l2 .1l2 0l2 0l2-.2l2 0l.5 0l.5-.1l.5 .1l.5 0l.5 .1l.5 0l2 0l2-.1l2-.1l2 .2l2 .1l2-.1l2-.2l2 .2l2-.2l2 .3l2-.1l2 .1l2-.1l2-.1l2 0l2 .2l2-.3l2 .1l2 .2l2-.1l2 0l2-.1l2-.1l2 .3l2 0l2-.2l2 .1l2 .1l2-.1l2-.1l2-.1l2-.1l2 .2l2 0l2 .2l2-.3l2 .2l2 0l2-.1l2 .1l2 0l2 .1l2-.1l2 0l2-.2l2 .1l2 0l2 0l2 0l2 .2l2-.1l2 0l2-.2l2-.1l2 .1l2-.1l2 0l2 .4l2-.2l2 0l2 .1l2-.1l2 .1l2 0l2 0l2 .1l2-.3l2 .2l2 0l2 .1l2-.1l2 .1l2 0l2-.3l2 .1l2 .1l2-.4l2 0l2 .2l2 .1l2 0l2 .2l2-.2l.5 .2l.5-.2l.5-.1l.5 0l.5-.8l.5 .8l.5 .4l.5-.4l2 .2l2-.1l2 0l.5 0l.5 .1l.5-.6l.5-1.4l.5 1.2l.5 .9l.5-.1l2 0l2 .1l2-.1l2 .1l2-.1l2-.1l2 0l2-.5l.5 .1l.5 .6l.5-.1l.5-.3l.5 .1l.5-.2l.5 .4l.5-.2l.5 .3l.5-.4l.5 0l.5-.9l.5-1.8l.5 1.6l.5 .8l.5 .4l.5 .1l.5-.7l.5 .4l.5-.2l.5 .5l.5 .2l.5-.2l.5-.1l.5-.3l.5 .1l.5 .4l.5-.4l.5 .2l.5-.4l.5 .1l.5 .6l.5-.1l.5-2.3l.5-2.7l.5 2.4l.5 1.8l.5 .7l.5-.2l.5 .4l.5-.4l.5-.2l.5 .5l.5 0l.5-.4l.5 .3l.5-.9l.5 .3l.5 .8l.5-1l.5 .6l.5 .1l.5-.7l.5 .4l.5 .2l.5-.3l.5 0l.5 .7l.5 0l.5-.6l.5 .4l.5-.1l.5-.2l2 .3l2 .2l2-.1l2-.1l2-.1l2 0l.5 .1l.5-.1l.5 .1l.5-.1l.5-.8l.5 .5l.5 .2l.5-.2l.5 0l.5-.2l.5 .4l.5-.2l.5 .4l.5 .2l.5-.6l.5 .5l.5-.1l.5-.6l.5-.2l.5 .6l.5-.1l.5 .5l.5-.9l.5 .1l.5 0l.5 .3l.5-.1l.5 .2l.5 .4l.5-.4l.5 .5l.5 0l.5-.2l.5-.2l.5 .3l.5-.7l.5-.1l.5 .9l.5 0l.5-.2l.5-1.8l.5-2.2l.5 2l.5 1.5l.5 .1l.5 .3l.5 .2l.5-.2l.5-.4l.5 .6l.5-1l.5 .9l.5-.1l.5-.6l.5 .1l.5 .4l.5-.7l.5 .4l.5 .1l.5 0l.5-.1l.5 .2l.5-.4l.5 .9l.5-.4l.5 .1l.5 .2l.5-.6l2 .4l2-.1l2 .1l2 0l2-.1l.5 .1l.5 0l.5-.9l.5 .8l.5 .3l.5-.2l2 0l2 0l2 0l2 0l2 .4l2-.2l2 .2l2-.1l2 .2l2 0l2-.2l2 .1l2-.1l2 .1l2-.2l.5 .1l.5 0l.5-.2l.5 .2l.5 .1l.5 0l2-.2l2 .2l2 0l2-.1l2 0l2 0l2 0l2 0l2 0l2 0l2 .1l2 0l2 0l2 .1l2-.1l2 0l2-.1l2-.1l2 .2l2 .1l2-.1l2 .1l2-.3l2 .2l2-.1l2 0l2 .1l2-.1l2-.1l.5 0l.5 .1l.5-.7l.5 .6l.5 0l.5 0l2 .2l2-.1l2 .1l2-.1l2 0l2 0l2 .1l2 0l2-.1l2 0l2 .1l2-.1l2 0l2 0l2 .1l2 0l2-.1l2 .1l2 0l2-.1l2 .1l2-.1l2 .1l2-.2l2 .3l2-.1l2-.1l2 .1l2-.2l2 .1l2 .2l2-.1l2-.1l2 .1l2-.1l2-.1l2 .1l2 .1l.5-.1l.5-2.5l.5-2.7l.5 2.4l.5 1.8l.5 .5l2 .5l2-.1l2 0l2 .1l2 0l.5 0l.5 .1l.5-1.5l.5-1.8l.5 1.6l.5 1l.5 .5l2 .1l2 .1l2-.2l2-.3l.5 .3l.5-.8l.5 .8l.5-.2l.5 .1l.5-.6l.5 .4l.5-.3l.5 .1l2 .5l2 .2l2 0l2 0l2-.1l2 .1l2-.1l.5-.1l.5 .2l.5 0l.5-.4l.5-.9l.5 .8l.5 .5l.5-.2l2 .1l2 0l2 0l2 0l2 0l2 0l2 0l2 0l2 0l2 .1l2-.2l.5 .2l.5-.1l.5-.1l.5-.2l.5-.9l.5 .8l.5 .4l.5-.1l2 .1l2 .2l2-.2l2 0l2 0l2 0l0 1.6l-2-.1l-2 0l-2-.1l-2 .1l-2 0l-2 0l-.5 0l-.5 .5l-.5 .8l-.5-.9l-.5-.5l-.5 .3l-.5-.1l-.5-.1l-2 .1l-2-.1l-2 0l-2 .2l-2-.2l-2 .1l-2 0l-2-.1l-2 .1l-2 .1l-2-.1l-.5 0l-.5 .4l-.5 .8l-.5-.9l-.5-.4l-.5 .1l-.5 0l-.5-.1l-2 .2l-2-.2l-2 0l-2 .1l-2 0l-2 .1l-2 .2l-.5 .5l-.5 0l-.5 .1l-.5 .2l-.5-.7l-.5 .1l-.5 .6l-.5 0l-.5-1.1l-2 .1l-2-.1l-2-.1l-2 .3l-.5 .2l-.5 1.2l-.5 1.6l-.5-1.8l-.5-1.5l-.5 .1l-.5 .1l-2-.1l-2 .1l-2-.2l-2 0l-2 .5l-.5 .6l-.5 1.8l-.5 2.4l-.5-2.7l-.5-2.5l-.5 0l-2 0l-2 0l-2 0l-2-.1l-2 .2l-2-.2l-2 .1l-2-.1l-2 0l-2 0l-2 .2l-2-.3l-2 0l-2 .2l-2-.1l-2 0l-2 0l-2 0l-2 .2l-2-.2l-2 .2l-2-.1l-2-.1l-2 .1l-2 .1l-2 0l-2-.1l-2 .1l-2 0l-2-.1l-2 0l-2-.1l-2 0l-2 .2l-2-.2l-2 .1l-2-.1l-2 0l-.5 .1l-.5 .1l-.5 .6l-.5-.7l-.5 .1l-.5 0l-2-.3l-2 .1l-2 .2l-2-.1l-2 0l-2 0l-2 0l-2 0l-2-.1l-2 .2l-2-.2l-2-.1l-2 .2l-2 0l-2 .1l-2-.1l-2-.2l-2 .2l-2 0l-2 .1l-2-.2l-2 0l-2 0l-2 0l-2-.1l-2 .1l-2 .2l-2-.1l-2-.1l-.5 0l-.5-.1l-.5 .4l-.5-.3l-.5 .1l-.5-.1l-2 0l-2 .1l-2 .1l-2 0l-2 0l-2-.2l-2 .2l-2-.1l-2-.1l-2 .1l-2 .3l-2-.3l-2 .3l-2 0l-2 0l-.5-.2l-.5 .3l-.5 .8l-.5-.9l-.5-.3l-.5 .3l-2-.2l-2 .1l-2-.1l-2 .2l-2 0l-.5 .5l-.5-.6l-.5 .3l-.5-.1l-.5-.3l-.5 .4l-.5 .3l-.5-.2l-.5 .3l-.5-.2l-.5-.2l-.5 0l-.5 .7l-.5-1.1l-.5 .8l-.5-.3l-.5 .1l-.5 .5l-.5-1l-.5 .8l-.5-.4l-.5 .2l-.5 0l-.5-.1l-.5 1.5l-.5 2l-.5-2.2l-.5-1.4l-.5-.4l-.5-.2l-.5 .9l-.5-.6l-.5-.2l-.5 .5l-.5 .2l-.5-.3l-.5-.5l-.5 .4l-.5-.3l-.5 .7l-.5-.4l-.5 .4l-.5-.1l-.5-.1l-.5-.4l-.5 .7l-.5 .1l-.5-.6l-.5-.1l-.5 .4l-.5 0l-.5-.3l-.5 .1l-.5 .1l-.5 .1l-.5-.1l-.5-.6l-.5 .1l-.5 .8l-.5-.3l-.5 .2l-.5-.4l-.5 .8l-.5-.7l-.5 .2l-.5-.1l-.5-.3l-.5 0l-2-.1l-2 .1l-2-.2l-2 .1l-2 .2l-2 .1l-.5 0l-.5 .2l-.5-.4l-.5-.3l-.5 .8l-.5-.1l-.5-.6l-.5 .3l-.5 .6l-.5 0l-.5-.2l-.5-.6l-.5 .8l-.5-.2l-.5-.4l-.5 .8l-.5-.8l-.5 .5l-.5-.6l-.5 0l-.5 .1l-.5-.4l-.5 .5l-.5 .3l-.5-.8l-.5 1l-.5 1.8l-.5 2.4l-.5-2.7l-.5-1.9l-.5-.6l-.5 .4l-.5 .4l-.5-.3l-.5 .2l-.5-.7l-.5 .9l-.5-.2l-.5-.4l-.5-.1l-.5 .7l-.5-.2l-.5-.6l-.5 .9l-.5 .1l-.5-.3l-.5-.5l-.5 .5l-.5 .8l-.5 1.6l-.5-1.8l-.5-.5l-.5-.8l-.5 .5l-.5 .1l-.5 .1l-.5-.5l-.5 .7l-.5-.6l-.5-.3l-.5 .2l-.5 0l-.5 .5l-2-.5l-2-.2l-2 0l-2 0l-2 .1l-2 0l-2-.1l-2 0l-.5 .2l-.5 .7l-.5 1.2l-.5-1.4l-.5-.6l-.5 .1l-.5-.2l-2 .1l-2 .1l-2-.1l-.5-.1l-.5 .3l-.5 .8l-.5-.9l-.5-.2l-.5 0l-.5 .2l-.5-.1l-2-.1l-2 0l-2 .2l-2 .1l-2 .1l-2-.1l-2 0l-2-.4l-2 .1l-2 .1l-2 .1l-2-.1l-2-.1l-2 .2l-2-.1l-2 .2l-2-.2l-2-.1l-2 0l-2 .1l-2 0l-2 0l-2-.1l-2 .3l-2-.1l-2 0l-2 0l-2 0l-2 .2l-2-.3l-2 0l-2 .1l-2 0l-2 .1l-2 0l-2-.2l-2-.1l-2 0l-2 .1l-2-.1l-2 0l-2 .3l-2-.1l-2-.2l-2 .1l-2 0l-2-.2l-2 .3l-2-.1l-2 .1l-2 .2l-2-.4l-2 .1l-2-.1l-2 .3l-2-.3l-2 .1l-2-.1l-2 .2l-2 0l-2-.1l-2 .2l-2-.3l-2 0l-2 .1l-2-.1l-2 0l-2 .1l-2-.1l-2 .3l-2-.3l-2 0l-2 .2l-2 0l-2-.2l-2 .3l-2-.2l-2 0l-2 0l-2 .1l-2 0l-2 .1l-2-.2l-.5-.1l-.5 .2l-.5 0l-.5-.1l-.5-.1l-.5 .1l-2 .2l-2-.1l-2 .1l-2-.1l-2-.1l-2-.1l-2 .3l-2-.1l-2-.2l-2 .6l-.5-.4l-.5-.3l-.5 .2l-.5 .4l-.5 .2l-.5-.6l-.5 .5l-.5-.6l-.5 .5l-2-.2l-2 0l-2-.1l-.5 .1l-.5 .6l-.5 1.2l-.5-1.4l-.5-.8l-.5 .3l-.5 .3l-.5 0l-.5 .3l-.5-.6l-.5 .7l-.5 0l-.5-.5l-.5 .2l-.5 .1l-.5-.2l-.5 .3l-.5-.7l-.5-.1l-.5 0l-.5 .7l-.5-.1l-.5 .1l-.5-.3l-.5 .2l-.5-.4l-.5-.1l-.5 .5l-.5-.3l-.5-.1l-2 .4l-2-.1l-2-.3l-2 .1l-.5-.2l-.5 .2l-.5 .5l-.5-.4l-.5 .2l-.5-.6l-.5 .5l-.5-.2l-.5-.3l-.5 .5l-.5 .4l-.5-.1l-.5-.2l-.5 .4l-.5-.5l-.5 .3l-.5-.3l-2 0l-2 .2l-2-.4l-2 0l-2 .1l-2-.2l-2-.1l-2 .4l-2-.2l-.5-.1l-.5-.1l-.5 .2l-.5-.4l-.5 .5l-.5 .1l-.5-.2l-.5 .4l-.5-.3l-.5-.2l-.5 .1l-.5 0l-.5 .4l-.5-.2l-.5-.5l-.5 .5l-.5-.1l-.5 .3l-.5-.7l-.5 .9l-.5-.7l-.5 .6l-.5 .1l-.5-.8l-.5 0l-.5 .6l-.5-.3l-2 0l-2-.2l-2-.2l-2 .2l-.5-.3l-.5 .2l-.5-.1l-.5 .7l-.5 .3l-.5 .1l-.5-.2l-.5 .9l-.5-.2l-.5-.3l-.5 .6l-.5-.3l-.5 .1l-.5-1.1l-.5 0l-.5 .3l-.5-.1l-.5-.4l-.5-.4l-2 .4l-2-.2l-2 .1l-.5 .1l-.5-.3l-.5 .7l-.5-.4l-.5 .3l-.5 .9l-.5-.4l-.5-.5l-.5 .2l-.5-.2l-.5 .8l-.5-.9l-.5 .5l-.5-.6l-.5 1.2l-.5-.6l-.5-.9l-.5 .3l-.5 .2l-.5-.5l-.5 .4l-.5 1.5l-.5 2l-.5-2.2l-.5-1.3l-.5 0l-.5-.2l-.5 .2l-.5 0l-.5-.6l-.5 1.1l-.5-.3l-.5-.4l-.5 .3l-.5-.1l-.5 .3l-.5-.6l-.5 .3l-.5-.4l-.5-.2l-.5 .8l-.5-.4l-.5-.1l-2-.1l-2 .1l-2-.1l-.5 .2l-.5-.2l-.5 .6l-.5 0l-.5-.9l-.5 .2l-.5 .1l-.5 .2l-.5 .3l-.5 .1l-.5-.5l-.5-.1l-.5-.1l-.5 .6l-.5-.3l-2 0l-2 0l-2-.2l-2-.2l-2 0l-2 .1l-2-.1l-2 0l-2 .2l-2 .2l-.5 .2l-.5 .1l-.5-.2l-.5-.6l-.5 .5l-.5 .3l-.5 .2l-.5-.9l-.5 .3l-.5 .1l-.5-.2l-.5 .4l-.5-.5l-.5 1l-.5-.6l-.5 .1l-.5 .3l-.5-.7l-.5 .5l-.5 .1l-.5-.2l-.5 .1l-.5-.3l-2 0l-2 0l-2-.1l-2 .1l-.5 .3l-.5-.5l-.5 .8l-.5-.4l-.5 .4l-.5 .9l-.5-.4l-.5-.1l-.5 .2l-.5-.5l-.5-.4l-.5 .4l-.5-.3l-.5 .8l-.5-.5l-.5 1.1l-.5-1.4l-.5 .9l-.5-1l-.5 .5l-.5 .7l-.5-.1l-.5 .3l-.5 2l-.5-2.2l-.5-1.3l-.5 .4l-.5-.7l-.5-.1l-.5 0l-.5 .4l-.5 .1l-.5 0l-.5 .2l-.5-.6l-.5 1.2l-.5 1.6l-.5-1.8l-.5-.6l-.5 0l-.5-.4l-.5 .1l-.5 .4l-.5 0l-.5 0l-.5-.2l-.5 .2l-.5 1.3l-.5 2l-.5-2.2l-.5-1l-.5-.3l-.5 .3l-.5 .6l-.5 .6l-.5-.1l-.5 0l-.5 .2l-.5-1.4l-.5 .6l-.5 .3l-.5-.5l-.5 2.1l-.5 2.8l-.5-3.1l-.5-1.8l-.5 1.2l-.5-.4l-.5-.3l-.5-.1l-.5 .7l-.5 0l-.5 0l-.5-.9l-.5 .1l-.5-.4l-.5-.3l-.5 .9l-.5 1.4l-.5-1.8l-.5 .7l-.5-.5l-.5 .3l-.5-.2l-.5 0l-.5-.5l-.5-.6l-.5 .4l-.5 .3l-.5 1l-.5 .1l-.5 .1l-.5-.6l-.5 .9l-.5-.5l-.5-1.3l-.5 1.5l-.5-1.2l-.5 .6l-.5-.1l-.5 .4l-.5-.8l-.5-.3l-.5 1l-.5-1.1l-.5 .4l-.5-.3l-.5 .6l-.5 .3l-.5 .1l-.5 0l-.5-.7l-.5 .7l-.5 1.2l-.5-1.9l-.5 0l-.5 .7l-.5-.8l-.5 .9l-.5 .2l-.5-1.3l-.5-.6l-.5 .8l-.5 1.8l-.5 3.9l-.5 5.2l-.5-5.9l-.5-5.7l-.5 .4l-.5 0l-.5-.5l-.5-.2l-.5 .7l-.5-.2l-.5-.1l-.5 .9l-.5 1.6l-.5-1.8l-.5-.5l-.5 .4l-.5-.3l-.5 .6l-.5 .3l-.5-.3l-.5-1l-.5 .2l-.5 .2l-.5 .6l-.5 1.6l-.5-1.8l-.5-.6l-.5 1.1l-.5 .2l-.5-.7l-.5 1l-.5-.8l-.5 .4l-.5-1.2l-.5 1.5l-.5-.6l-.5 .5l-.5-.7l-.5 1.4l-.5-1.7l-.5 .2l-.5 0l-.5 0l-.5-.5l-.5 .4l-.5 .1l-.5 .6l-.5-.4l-.5 .2l-.5-.7l-.5 1l-.5-.8l-.5 .7l-.5 .8l-.5 2.4l-.5-2.7l-.5-1l-.5 .5l-.5-.4l-.5 .1l-.5-.5l-.5 .4l-.5-.1l-.5-.4l-.5 1.8l-.5-.8l-.5 .5l-.5-.6l-.5 1l-.5-1l-.5-1l-.5 1.5l-.5-1.2l-.5 1.3l-.5-.9l-.5 .6l-.5-1.3l-.5 .4l-.5-.1l-.5 .1l-.5 .3l-.5-.9l-.5 1l-.5 .3l-.5-1.1l-.5 .7l-.5-1.1l-.5 .9l-.5-1l-.5 1l-.5-.5l-.5 .2l-.5-.9l-.5 .7l-.5 .2l-.5-.6l-.5-.3l-.5 .9l-.5-.2l-.5 0l-.5-.2l-.5 .7l-.5-.4l-.5 1.1l-.5-1.1l-.5 .2l-.5 .1l-.5-.8l-.5 1.3l-.5 .1l-.5-.5l-.5-.1l-.5 .1l-.5 .7l-.5-.8l-.5 .1l-.5 .2l-.5-.2l-.5-.9l-.5-.3l-.5 .3l-.5-.2l-2 .2l-2 0l-2-.1l-2 .1l-2 .1l-.5 0l-.5 0l-.5 0l-.5 0l-.5-.1l-.5-.5l-.5 .2l-.5 .8l-.5 0l-.5-.4l-.5 .3l-.5-.7l-.5 .8l-.5-.8l-.5 .5l-.5-.2l-.5 .1l-.5 .6l-.5-1l-.5 1l-.5-1l-.5 .6l-.5 0l-.5 .1l-.5-.6l-.5-.2l-.5 .8l-.5-.5l-.5 0l-.5-.5l-.5 .8l-.5-.5l-2 0l-2 .2l-.5 .1l-.5 .2l-.5-.4l-.5-.1l-.5 .3l-.5 0l-.5-.3l-.5 .2l-.5-.2l-.5-.1l-.5 0l-.5 .5l-.5 .4l-.5-.3l-.5-.2l-.5 .1l-.5 .4l-.5-.8l-.5 .6l-.5-.4l-.5 .5l-.5-.4l-.5 .1l-.5 .4l-.5-.6l-.5 0l-.5 .2l-.5 .1l-.5 0l-.5 .1l-.5-.3l-.5 0l-.5-.3l-2 .3l-2-.5l-2 .2l-2 .2l-2 .1l-.5-.5l-.5 .6l-.5-.2l-.5 .1l-.5-.4l-.5 .4l-.5 .1l-.5-.1l-.5-.2l-.5 .1l-.5 1.1l-.5-.4l-.5 1.6l-.5-.4l-.5 1.6l-.5 .4l-.5-2.3l-.5 1.4l-.5-.6l-.5 1.2l-.5-1.2l-.5 1.3l-.5-.6l-.5-.9l-.5-.5l-.5 1.2l-.5 .3l-.5 .6l-.5-2.5l-.5 .6l-.5 1.4l-.5-.9l-.5-.1l-.5 0l-.5-1.2l-.5 .5l-.5 1.3l-.5-.9l-.5 3.3l-.5 4.4l-.5-4.9l-.5-2.2l-.5-.6l-.5-.7l-.5 1.7l-.5-.8l-.5 .7l-.5 .1l-.5 .1l-.5-1.9l-.5 .1l-.5 1.6l-.5 .2l-.5-1.8l-.5-.1l-.5 2l-.5-1.3l-.5 2.8l-.5 4l-.5-4.5l-.5-2.1l-.5-.6l-.5 .7l-.5 .4l-.5 .8l-.5-1.3l-.5 0l-.5 .2l-.5-.3l-.5 1l-.5-.1l-.5-.9l-.5-1.3l-.5 2.2l-.5 .7l-.5-.6l-.5-1.2l-.5 2.5l-.5-1.1l-.5 .4l-.5 1.1l-.5-2.3l-.5 2.3l-.5-1.9l-.5 1.8l-.5-.2l-.5-1.6l-.5-.6l-.5-.3l-.5 2.4l-.5-1.1l-.5-1.8l-.5 .5l-.5-.1l-.5 .1l-.5 1.2l-.5-1.3l-.5 0l-.5 2.6l-.5-2.1l-.5 1.8l-.5-2.4l-.5 2.8l-.5-2.4l-.5 1.2l-.5-.7l-.5 1.3l-.5 .7l-.5-.4l-.5-.6l-.5-1.4l-.5-.3l-.5 3.3l-.5-1.1l-.5 .9l-.5-1.3l-.5 1.3l-.5-1l-.5-1.3l-.5 1.8l-.5-1.7l-.5 1.4l-.5 1.4l-.5 .5l-.5-4l-.5 .6l-.5 1.7l-.5-.7l-.5 .1l-.5-.4l-.5-.3l-.5-.6l-.5-1.1l-.5-.3l-.5 1l-.5-.4l-.5-.1l-.5 1.3l-.5-.5l-.5-.9l-.5 1.6l-.5 1.1l-.5-1.9l-.5 .9l-.5 1.4l-.5-2.3l-.5 1.8l-.5-1.6l-.5 1.7l-.5-2.2l-.5 2.8l-.5-2.2l-.5 1l-.5 1.1l-.5 .9l-.5-1.4l-.5 1.5l-.5 .6l-.5-1.7l-.5 .3l-.5-2.1l-.5 .6l-.5 2.1l-.5-.1l-.5-.2l-.5-1.4l-.5-.8l-.5-.6l-.5-.2l-.5-.9l-.5-.4l-.5 .5l-.5 .6l-.5 .1l-.5-1.1l-.5 1.2l-.5-.5l-.5-.7l-.5 1.4l-.5-1.2l-.5 1.9l-.5-.7l-.5-.7l-.5 1.8l-.5-.8l-.5 1.2l-.5-.9l-.5-.6l-.5 .2l-.5 1.1l-.5-.4l-.5-.8l-.5-.6l-.5 1.4l-.5 1l-.5-.8l-.5 .8l-.5-.8l-.5-1.6l-.5 1l-.5-.3l-.5 1.1l-.5 1l-.5-2.7l-.5 .2l-.5-.6l-.5 2.1l-.5-.2l-.5-.1l-.5-.1l-.5-.1l-.5 .1l-.5-1l-.5 .9l-.5-1.6l-.5 1l-.5 .5l-.5 .2l-.5-.7l-.5 1l-.5-.6l-.5-1.4l-.5 .8l-.5-1l-.5 .4l-.5 3l-.5-.4l-.5-1.7l-.5 2.9l-.5-2.4l-.5-.1l-.5 1.5l-.5-1.8l-.5 .1l-.5 1l-.5 1.8l-.5-2.6l-.5 .8l-.5 .2l-.5-1.8l-.5-.5l-.5 0l-.5 .2l-.5 .4l-.5 .3l-.5 .2l-.5 2.5l-.5-1l-.5 1.5l-.5-.7l-.5 1.4l-.5 1.7l-.5-3.2l-.5 2.7l-.5-3.2l-.5 3.4l-.5-1.9l-.5 2.2l-.5 2.1l-.5-.7l-.5-4l-.5-.3l-.5-2.3l-.5 1.5l-.5-1.6l-.5-.4l-.5-1l-.5 .9l-.5 0l-.5 2.8l-.5 6.6l-.5 8.8l-.5-9.9l-.5-8.8l-.5-.3l-.5 .9l-.5 0l-.5-.1l-.5 1l-.5-.1l-.5-1.1l-.5 1l-.5 .1l-.5 .4l-.5 .4l-.5-1.6l-.5-.3l-.5 .2l-.5 .5l-.5 .7l-.5 .2l-.5-.5l-.5 0l-.5-1.6l-.5 1.1l-.5-1.3l-.5-.4l-.5 .8l-.5-.1l-.5-.1l-.5-.2l-.5 .6l-.5 1l-.5-1.1l-.5 .4l-.5-.5l-.5 .5l-.5-.3l-.5 .1l-.5-.2l-.5 2.2l-.5 1.1l-.5-2.5l-.5 2.1l-.5-.3l-.5-.5l-.5 1.4l-.5-.6l-.5-1l-.5-1.5l-.5-.5l-.5 1.5l-.5-.4l-.5 .2l-.5 1.4l-.5-.3l-.5-2.1l-.5-.6l-.5 .6l-.5 2l-.5 .4l-.5-1.5l-.5-1.3l-.5 .2l-.5 2.3l-.5-1.8l-.5-1.4l-.5-.1l-.5 2.3l-.5-2.2l-.5 2.1l-.5-.9l-.5-.7l-.5 .2l-.5 .2l-.5-.5l-.5-.9l-.5 1l-.5-1.2l-.5 1.4l-.5 .3l-.5-.3l-.5 .3l-.5 1.3l-.5 3.2l-.5-3.6l-.5-1.1l-.5-.6l-.5 .2l-.5-.6l-.5 0l-.5 .3l-.5 1l-.5-.4l-.5-.7l-.5 .8l-.5-.8l-.5-.2l-.5 1.4l-.5-.5l-.5 .4l-.5-1.1l-.5 1l-.5 .4l-.5-1.1l-.5 .8l-.5 1.3l-.5 .9l-.5-2.4l-.5 1.5l-.5 .1l-.5-2.4l-.5 2.3l-.5-.8l-.5-1.3l-.5 1.4l-.5-1.6l-.5 1.4l-.5-1.2l-.5 0l-.5 .6l-.5-.3l-.5-.6l-.5-.4l-.5 2l-.5-.4l-.5-1l-.5 1.5l-.5-.9l-.5-.1l-.5 0l-.5-.8l-.5 2.6l-.5-.1l-.5-.1l-.5-1.2l-.5-.9l-.5 2.5l-.5 5l-.5 6.8l-.5-7.6l-.5-3.9l-.5-2l-.5 2l-.5-1.5l-.5 2l-.5-.7l-.5 1.1l-.5-1.8l-.5 1.5l-.5 .2l-.5-2.2l-.5 1l-.5-1.5l-.5 1l-.5 1.2l-.5-.7l-.5-.2l-.5-.6l-.5-.3l-.5 .9l-.5-1.8l-.5 .6l-.5-1.1l-.5-.3l-.5 0l-.5 0l-.5 1.1l-.5-1.5l-.5 1.5l-.5-1.4l-.5 1.4l-.5 .1l-.5-1l-.5 0l-.5 .6l-.5 .3l-.5-1.1l-.5 1.2l-.5-.3l-.5 .1l-.5-1l-.5 1.2l-.5-.8l-.5 2.7l-.5 3.6l-.5-4.1l-.5-2.8l-.5 1l-.5-.6l-.5 1.3l-.5-1l-.5 0l-.5-.5l-.5 1l-.5-.8l-.5 .6l-.5 .4l-.5-.5l-.5-.7l-.5 1.1l-.5-.8l-.5 0l-.5-.4l-.5 .5l-.5-.1l-.5-.4l-.5-.6l-.5 .1l-.5 .8l-.5 .1l-.5-.3l-.5-.7l-.5 0l-.5 .4l-.5 .7l-.5 .3l-.5 3l-.5 4l-.5-4.5l-.5-3.6l-.5 1.4l-.5 .2l-.5-.3l-.5-1.2l-.5 .7l-.5 .3l-.5 1.5l-.5-.6l-.5-1.1l-.5 .8l-.5-.6l-.5 1.9l-.5-.8l-.5 .1l-.5 .1l-.5 1.7l-.5-.6l-.5-2.8l-.5 1.4l-.5-.9l-.5 .4l-.5 .5l-.5 .4l-.5-2l-.5 2.2l-.5 .1l-.5-1.2l-.5 .9l-.5-.3l-.5-.3l-.5-1.8l-.5 1.2l-.5 .1l-.5-.6l-.5 1l-.5 .2l-.5-1.4l-.5 .1l-.5-.6l-.5 .9l-.5-.5l-.5-.3l-.5 0l-.5 .3l-.5 .9l-.5 .5l-.5-1.1l-.5-.4l-.5 .3l-.5 .5l-.5-.1l-.5 .7l-.5-1.3l-.5 1.6l-.5 .3l-.5-2.2l-.5 .8l-.5 1.3l-.5 2.8l-.5-3.1l-.5-1.3l-.5 .4l-.5-.8l-.5 1.9l-.5-.8l-.5-1.2l-.5 .8l-.5-.5l-.5 1l-.5 .1l-.5-1.5l-.5 .5l-.5 .2l-.5-.9l-.5 .7l-.5-.5l-.5 .7l-.5 0l-.5-1.2l-.5 .5l-.5-.7l-.5 .9l-.5 .6l-.5-.4l-.5-.5l-.5-.1l-.5-.4l-.5 1.5l-.5-1l-.5-.2l-.5 .2l-.5-.1l-.5 .1l-.5 1.5l-.5-1l-.5 .7l-.5-.3l-.5 1l-.5-1.6l-.5 .7l-.5 .5l-.5-1.1l-.5 2l-.5 .5l-.5 0l-.5-.3l-.5 .2l-.5-.2l-.5-1.7l-.5 .9l-.5 1l-.5-1.3l-.5 1.4l-.5-.6l-.5-1.4l-.5 1.3l-.5-.9l-.5 1.2l-.5-2l-.5 .3l-.5 2.1l-.5-1l-.5 .2l-.5-.1l-.5-.8l-.5 1.1l-.5-1.4l-.5 1.5l-.5-.2l-.5 1.3l-.5-1.1l-.5-1.1l-.5 2.1l-.5-2.2l-.5 2.2l-.5-1.9l-.5 2.1l-.5-1.6l-.5 .2l-.5 0l-.5-.5l-.5 .3l-.5-.4l-.5 .3l-.5-.4l-.5 1.3l-.5-.2l-.5-.7l-.5-.2l-.5-.6l-.5-.8l-.5 0l-.5 1.4l-.5 .6l-.5-1.9l-.5 1.2l-.5-.9l-.5-.8l-.5 1.7l-.5 0l-.5-.9l-.5-.5l-.5 1.8l-.5-.1l-.5-1.7l-.5 .1l-.5-.1l-.5-.4l-.5 1.5l-.5-.5l-.5 2.7l-.5 3.6l-.5-4.1l-.5-2.3l-.5 .1l-.5 .7l-.5 0l-.5-1.6l-.5 1.7l-.5-1.2l-.5 .7l-.5-.3l-.5 1.1l-.5 .4l-.5-2.2l-.5 2.2l-.5-1.4l-.5-.4l-.5 .2l-.5 1.7l-.5-1l-.5 1.7l-.5-.7l-.5 1l-.5-1.5l-.5 2.3l-.5-1.3l-.5 1.6l-.5-.9l-.5 0l-.5-.5l-.5-.7l-.5-1.6l-.5 .3l-.5 1l-.5-1.5l-.5 .9l-.5 1.1l-.5 4.5l-.5 6l-.5-6.8l-.5-5.8l-.5 .6l-.5 1.4l-.5-.3l-.5-1.6l-.5 2.3l-.5-.5l-.5-1.4l-.5 .1l-.5 1.5l-.5-1.4l-.5 1.7l-.5-.2l-.5-1l-.5-.8l-.5 .9l-.5-.9l-.5 1.1l-.5 1.8l-.5-2.1l-.5 .4l-.5 .8l-.5 1.1l-.5-.2l-.5-.7l-.5-.9l-.5 1l-.5 .8l-.5-2.4l-.5 1.6l-.5-2.1l-.5 1.7l-.5-.1l-.5-2.1l-.5 .6l-.5 .2l-.5 1.4l-.5-2.1l-.5 1.4l-.5-1.1l-.5 1.4l-.5-.8l-.5-.2l-.5 .5l-.5-.4l-.5-.1l-.5-.1l-.5 .1l-.5-1.7l-.5 0l-.5 .8l-.5 0l-.5 1l-.5-.7l-.5 .6l-.5-1.4l-.5 .4l-.5 1l-.5 .9l-.5 4.2l-.5 5.6l-.5-6.3l-.5-5.3l-.5-.4l-.5 .7l-.5 .1l-.5 1.7l-.5-1.9l-.5 .3l-.5 1l-.5 .8l-.5-1.3l-.5 1.6l-.5-1.9l-.5 .5l-.5-.9l-.5 1.4l-.5 .6l-.5-.8l-.5-.3l-.5-1.1l-.5 .9l-.5 .3l-.5-.7l-.5 .9l-.5 1.9l-.5-1.1l-.5 1.1l-.5-.9l-.5-.1l-.5 .7l-.5-3l-.5 1.6l-.5-1.7l-.5 .9l-.5-.6l-.5-.6l-.5 .4l-.5 .4l-.5-.5l-.5 1l-.5 .3l-.5 .4l-.5-1.5l-.5 2.8l-.5-2.4l-.5 .3l-.5 1.4l-.5 .8l-.5-1.2l-.5-1.2l-.5 2.9l-.5-1.8l-.5 .2l-.5 2l-.5-.1l-.5-.5l-.5 .6l-.5-.5l-.5-1.5l-.5 1.1l-.5-.1l-.5-.3l-.5 .2l-.5-1.3l-.5-.6l-.5 1.9l-.5-.6l-.5 1l-.5-3l-.5 1l-.5 1.7l-.5-.4l-.5 .5l-.5-.2l-.5-2.4l-.5 1.9l-.5-2.2l-.5 .2l-.5 1l-.5-1.6l-.5 1.2l-.5-.9l-.5-.4l-.5 .6l-.5-.3l-.5 1l-.5 .1l-.5 .5l-.5-.7l-.5 .3l-.5 2.4l-.5-2.5l-.5 .2l-.5-1.4l-.5 .7l-.5-.3l-.5 1.6l-.5-1.6l-.5-.5l-.5 2l-.5 .4l-.5-2.4l-.5 2.6l-.5-.9l-.5 0l-.5 .5l-.5-1.2l-.5 1.1l-.5-.3l-.5 .3l-.5-2.3l-.5 1.5l-.5 0l-.5 .1l-.5-.3l-.5-1.1l-.5 1.1l-.5-.4l-.5 .2l-.5 1.2l-.5-1.7l-.5 .4l-.5 1.6l-.5 .3l-.5-2.3l-.5 1.2l-.5 .3l-.5-.5l-.5 .6l-.5-.4l-.5 .8l-.5 .5l-.5 .8l-.5 0l-.5-2.1l-.5-.7l-.5 .1l-.5 .2l-.5 .1l-.5 .3l-.5 1.6l-.5-.2l-.5-1.9l-.5 2.8l-.5-.3l-.5-2.3l-.5 1.5l-.5-1.8l-.5 2.3l-.5-.2l-.5-.6l-.5-1.1l-.5-.5l-.5 1.1l-.5 1.2l-.5-1.7l-.5 1.1l-.5 .2l-.5-.5l-.5-1.8l-.5 .9l-.5-1.4l-.5 .4l-.5 2.8l-.5-2.7l-.5 2.2l-.5-.2l-.5 0l-.5 1.3l-.5-2.2l-.5-.2l-.5 3.6l-.5-3.8l-.5 .6l-.5 1.3l-.5 2.5l-.5-.3l-.5-1l-.5 .4l-.5-1.1l-.5-2.1l-.5 1.3l-.5 1l-.5-1.4l-.5-1.3l-.5 1l-.5-.5l-.5-1.2l-.5 1.2l-.5 .1l-.5 .6l-.5-.2l-.5 .3l-.5-1l-.5 .4l-.5-1.4l-.5 1.7l-.5 .1l-.5-1.9l-.5 1.6l-.5-.5l-.5-1.5l-.5-.2l-.5 .1l-.5 1.4l-.5 .9l-.5-1.4l-.5 1.8l-.5 .3l-.5-.7l-.5 .7l-.5-2.2l-.5 .7l-.5 3.1l-.5-1.3l-.5 1.6l-.5-.9l-.5 1.1l-.5 .4l-.5-3.4l-.5-.5l-.5 3.3l-.5-3.3l-.5 0l-.5 2.2l-.5-2l-.5 2.1l-.5 1.2l-.5 .1l-.5-1.5l-.5 .9l-.5 .5l-.5-1.7l-.5 1.4l-.5-1.7l-.5 2.4l-.5 0l-.5 1.5l-.5-4.5l-.5 1.7l-.5-1.3l-.5 2.9l-.5-3.4l-.5 .6l-.5 .5l-.5-.6l-.5 3.7l-.5-3l-.5 2l-.5-2.9l-.5 2.2l-.5-1.1l-.5-1.9l-.5 2.6l-.5-.8l-.5 .7l-.5 .5l-.5 1.1l-.5-.8l-.5-.9l-.5-2l-.5 3.1l-.5-2.4l-.5 2.7l-.5-.3l-.5-1.7l-.5-2.2l-.5 2.6l-.5-2.5l-.5 1.1l-.5 2.5l-.5-3.5l-.5 2.1l-.5 1.7l-.5-2.3l-.5-1.4l-.5 2.1l-.5 1.1l-.5 1l-.5 0l-.5-4.2l-.5 .4l-.5 2.3l-.5-1.1l-.5 .6l-.5-.7l-.5 .9l-.5-.8l-.5-.2l-.5 3.3l-.5-3l-.5 0l-.5 2.2l-.5-2.8l-.5 1.6l-.5 .1l-.5 .7l-.5-1.7l-.5-1.8l-.5-1.5l-.5 2.6l-.5-2.3l-.5 2.1l-.5-1.7l-.5 .7l-.5-.2l-.5 1.1l-.5-2l-.5 0l-.5 3.1l-.5-1.2l-.5 4.5l-.5 6l-.5-6.8l-.5-4.5l-.5 1.7l-.5 .9l-.5 .1l-.5-1.5l-.5 .3l-.5 2.7l-.5-.2l-.5-.2l-.5-2.4l-.5 .3l-.5-.6l-.5 .3l-.5 .3l-.5-.6l-.5 2.8l-.5 0l-.5-2l-.5-.2l-.5 .2l-.5 3l-.5-2.1l-.5 2.5l-.5-3.8l-.5 .6l-.5 2l-.5-1.4l-.5 4.7l-.5-.7l-.5 1.4l-.5-3.6l-.5 3l-.5-4.1l-.5-.6l-.5 1.8l-.5-3.5l-.5-.6l-.5 4.2l-.5 8.4l-.5 11.2l-.5-12.6l-.5-9.6l-.5-.7l-.5 .8l-.5 1.7l-.5-2.1l-.5 .3l-.5 2.5l-.5-.5l-.5-2l-.5 1.9l-.5 .6l-.5-3.6l-.5 2l-.5 0l-.5 .1l-.5 1l-.5-3.2l-.5 3.9l-.5-.7l-.5 .4l-.5 2l-.5 6.8l-.5-7.6l-.5-2.4l-.5-1.3l-.5 0l-.5-.2l-.5 .6l-.5-3.2l-.5 2.7l-.5-.9l-.5 .7l-.5-1.7l-.5 .7l-.5-2l-.5 1.3l-.5-1.4l-.5 .3l-.5 .6l-.5 .5l-.5-.3l-.5 .8l-.5 1.4l-.5 1l-.5 6.6l-.5 8.8l-.5-9.9l-.5-7.6l-.5-.4l-.5 .5l-.5 .4l-.5-1.2l-.5 .7l-.5-.7l-.5 1.5l-.5 1.3l-.5 .5l-.5-3l-.5 .2l-.5 3.8l-.5-3.1l-.5 .8l-.5 .7l-.5-1.6l-.5-1l-.5 1l-.5-1.1l-.5 3.1l-.5-2.4l-.5-.9l-.5 2.6l-.5 .6l-.5-2.4l-.5 2.4l-.5 .1l-.5-2.1l-.5 .2l-.5-.3l-.5 2.4l-.5-2.2l-.5 .4l-.5-.5l-.5 4.8l-.5 6.4l-.5-7.2l-.5-3.2l-.5 .2l-.5-2.2l-.5 3.5l-.5 .2l-.5-1.6l-.5 3.9l-.5 6.4l-.5-7.2l-.5-1l-.5-3.3l-.5 .8l-.5 1.6l-.5 1.7l-.5-3.1l-.5 2.7l-.5-1.6l-.5 .7l-.5 2l-.5-1.7l-.5-1.9l-.5-.7l-.5 .8l-.5-.8l-.5 0l-.5 .8l-.5-2l-.5 1.5l-.5 .2l-.5-.6l-.5 .4l-.5-1.1l-.5-.9l-.5-.9l-.5-.3l-.5 1.5l-.5 2.4l-.5-2.7l-.5-1.8l-.5-.4l-2 .1l-2-.2l-2 .3l-.5-.2l-.5 .1l-.5-.1l-.5-.3l-.5 .6l-.5 .2l-.5-.7l-.5 .7l-.5 0l-.5 0l-.5 .1l-.5 .2l-.5-.9l-.5 .6l-.5 0l-.5-.7l-.5 1l-.5 .1l-.5 .4l-.5-.4l-.5 1.3l-.5-.3l-.5 .5l-.5-1.6l-.5 .9l-.5 1.8l-.5-.5l-.5-.3l-.5 .9l-.5-.9l-.5-1l-.5-.5l-.5 .3l-.5 0l-.5-.7l-.5-.4l-.5 .2l-.5-.3l-.5 .3l-.5 0l-.5-.2l-.5-.2l-.5 .2l-.5-.4l-.5 .5l-.5 .1l-.5 .1l-.5-.7l-.5 .7l-.5-.6l-.5 .4l-.5 .1l-.5-.4l-.5 .3l-.5 .8l-.5 0l-.5-.6l-.5 .3l-.5-.3l-.5-.3l-.5 .4l-.5-.4l-.5 .1l-.5 .3l-.5 .3l-.5-.2l-.5-.3l-.5 .2l-.5 0l-.5-.3l-.5 0l-.5 .6l-.5 .3l-.5-.7l-.5 .7l-.5 .5l-.5 0l-.5-.2l-.5-1l-.5 2.1l-.5-1.9l-.5 1.4l-.5-.4l-.5-.8l-.5-.4l-.5 1.5l-.5-1.2l-.5 .4l-.5-.3l-.5-.5l-.5-.6l-.5 .6l-.5-.1l-.5-.1l-.5-.6l-.5 .2l-.5 .6l-.5 0l-.5-.3l-.5 .1l-.5 .4l-.5-.4l-.5 .4l-.5-.8l-.5 .6l-.5 .1l-.5-.5l-.5 .2l-.5-.1l-.5 .4l-.5-.1l-.5-.2l-.5-.1l-2 .1l-2-.1l-2 .1l-.5-.2l-.5-.4l-.5 .3l-.5 .4l-.5-.2l-.5 .4l-.5-.9l-.5 .3l-.5-.1l-.5 .8l-.5-.9l-.5 .3l-.5 .4l-.5 .5l-.5-.3l-.5 .4l-.5-1l-.5 .4l-.5 .2l-.5-.5l-.5 .4l-.5 .7l-.5-1.1l-.5 1l-.5-.7l-.5-.5l-.5 .8l-.5-.1l-.5 .4l-.5-.6l-.5 1l-.5-1.3l-.5 .5l-.5 0l-.5 .4l-.5 .4l-.5-1.2l-.5 1.3l-.5-1.2l-.5 .3l-.5 .1l-.5-.4l-.5-.2l-.5 1.2l-.5-.4l-.5-.1l-.5 .3l-.5-.2l-.5-.4l-.5-.4l-.5 .5l-.5-.1l-.5 .1l-.5-.6l-.5 .4l-.5 0l-.5-.1l-.5-.4l-.5 .5l-.5 .1l-.5 .1l-.5 0l-.5-.7l-.5 0l-.5-.3l-.5 1l-.5-.8l-2-.3l-2 .1l-2 .2l-2-.1l-2 .1l-2-.1l-2-.1l-.5 .3l-.5 1.2l-.5 1.6l-.5-1.8l-.5-1.3l-2 .1l-2 0l-2 .1l-2-.1l-2 .1l-2-.3l-2 .1l-2 0l-2 0l-2 0l-2 .3l-2-.2l-2 0l-2-.1l-2 .1l-2-.1l-2 0l-2 0l-2 .1l-2 0l-2 .2l-.5 .2l-.5 0l-.5 .8l-.5-.2l-.5 .1l-.5-.4l-.5 .9l-.5 1.3l-.5-1l-.5 1.7l-.5-1.8l-.5 2.9l-.5-2.5l-.5 1.9l-.5 .3l-.5-1l-.5 2.2l-.5 .5l-.5-2.4l-.5 3l-.5-3.9l-.5 2.1l-.5-2l-.5 2.1l-.5-1.6l-.5-.2l-.5-1.1l-.5 1.8l-.5-.8l-.5 .3l-.5 1.2l-.5 .8l-.5 2l-.5 8.4l-.5 11.2l-.5-12.6l-.5-10.1l-.5-3.5l-2-.7l-2-.1l-2-.1l-2 .3l-2-.3l-2 .1l-2 .1l-2-.1l-2-.1l-2 .2l-2-.2l-2 .2l-2-.3l-2 .1l-.5 .3l-.5 1.2l-.5 1.6l-.5-1.8l-.5-1.2l-.5-.2l-.5 .2l-.5-.1l-2 .1l-2 .1l-2-.2l-2 0l-2 .1l-2 0l-2-.1l-2 0l-2 0l-2 0l-2 0l-2 .3l-2-.2l-2 0l-2 0Z" fill="#08a8ff" stroke="#08a8ff" stroke-width="0.7" stroke-linejoin="round"/>
<path d="M121.2,246.6l2 .1l2 .1l2-.1l2-.1l2 .1l2-.1l2 .2l2-.1l2-.1l2-.1l2 .3l2-.1l2-.1l2-.1l2 .3l.5-.1l.5-.2l.5 .2l.5-1.4l.5-1.8l.5 1.6l.5 1.2l.5 .4l2-.2l2 .1l2-.1l2 .2l2 .1l2-.2l2 0l2 .1l2 0l2 .1l2-.2l2 .1l2-.2l2-.1l.5-1.4l.5-3.6l.5-4.9l.5 4.4l.5 3.3l.5 1.7l.5-1.3l.5 1l.5-.4l.5 1.1l.5 0l.5 .1l.5-.7l.5 .3l.5-.8l.5 .6l.5-.8l.5-.1l.5 1.2l.5-.8l.5 .8l.5-1l.5 .9l.5 0l.5-.5l.5 .8l.5 .1l.5-.3l.5 .5l.5-.1l.5-.2l2 .4l2 .1l2 0l2-.1l2-.1l2 .1l2 .1l2-.1l2-.2l2 .2l2-.1l2 .2l2 0l2-.1l2-.1l2 .2l2-.1l2-.1l2 .1l2 0l2-.1l2 .1l.5-.1l.5 .1l.5 0l.5-.9l.5-1.3l.5 1.2l.5 .9l.5 .1l2 0l2-.2l2 .1l2 0l2 .2l2-.2l2 .1l2-.1l2 0l2 0l2-.3l2 .2l.5-.2l.5-.3l.5 .4l.5 .2l.5-.4l.5-.5l.5 .3l.5 .1l.5 .2l.5-.2l.5 .3l.5-.3l.5-.1l.5 .1l.5-.2l.5 .2l.5 .4l.5-.8l.5 .5l.5-.2l.5 .4l.5 .1l.5-.2l.5 .1l.5-.5l2 .3l2 .4l2-.2l2 .1l2-.1l2-.1l2 0l2 .2l2 .1l2-.1l2 .2l2-.1l2 .1l2-.3l2-.1l.5-.7l.5 .1l.5-.2l.5 .3l.5-.7l.5 .9l.5 .1l.5-.2l.5-.2l.5 .2l.5 .2l.5 .2l.5-.4l.5-.3l.5 .6l.5 .3l.5-.5l2 0l2 .5l2-.3l2 .1l2 .2l2-.1l2 .2l2-.4l2-.2l.5-.9l.5 .3l.5 .3l.5-.3l.5 .1l.5-1.7l.5 .1l.5 .8l.5-.5l.5 .9l.5-.1l.5-.1l.5 1l.5-.3l.5 .9l.5-.7l.5 .3l2 .6l2-.1l2 0l2 0l2 .2l2-.3l2 .1l.5 0l.5-.6l.5-1.2l.5-2.3l.5 2l.5 .2l.5-.5l.5-.3l.5-.4l.5-.6l.5 .8l.5-1.2l.5 .2l.5-1.3l.5 1.5l.5-1l.5 .6l.5 1.6l.5-.6l.5-1.3l.5-1.3l.5 .3l.5 2.8l.5-.7l.5 .7l.5-1.3l.5 1.4l.5-.2l.5-2.2l.5 1l.5-1.1l.5-2.9l.5-7.2l.5 6.4l.5 2.8l.5 3.3l.5-2.9l.5-.2l.5 .3l.5-.2l.5 1l.5-4.5l.5 4l.5 1.8l.5 .4l.5-2.6l.5-.3l.5 .8l.5-.9l.5 1.8l.5-1.5l.5 3.1l.5-1.3l.5-2.5l.5 1l.5 1l.5 .3l.5 .7l.5-1.4l.5 2.2l.5-1.4l.5-.9l.5 2l.5 1.1l.5-.6l.5 .4l.5-1.2l.5-.3l.5 .4l.5 .5l.5 0l.5-.4l.5 1.3l.5-.9l.5 .4l.5-.8l.5 1.5l.5-.7l.5-2.5l.5-4.5l.5 4l.5 2.9l.5 .3l.5-1.4l.5-.9l.5 2.1l.5 0l.5-1.4l.5 .7l.5-1.4l.5 2.1l.5-1.8l.5-1.7l.5 2.1l.5-1l.5 .5l.5 1.6l.5-.6l.5 .5l.5-2.2l.5 2.5l.5-2.4l.5 0l.5-4.5l.5 4l.5 2.8l.5 0l.5-1.7l.5-1l.5 1.4l.5 1.7l.5-.3l.5-2.5l.5 2.3l.5-2.5l.5 .7l.5 .3l.5-.8l.5 2.8l.5-1.8l.5 .8l.5-.4l.5 .2l.5-1.5l.5 1.8l.5-9.5l.5-10.8l.5 9.6l.5 7.2l.5 1.6l.5 1.4l.5-2.4l.5 2.2l.5-2.1l.5 1.9l.5-2.5l.5 2l.5-.7l.5-1.5l.5 1l.5 1.7l.5-3.4l.5 .2l.5 4l.5-2.7l.5-.1l.5 .2l.5 1.3l.5-1.2l.5 1.3l.5 1.8l.5-1.5l.5 .7l.5-.4l.5 1l.5-1.4l.5 2l.5-.2l.5 .7l.5-2.2l.5 .1l.5-.2l.5 2.5l.5-1.2l.5 .5l.5-1l.5-1.7l.5-4.5l.5 4l.5 2.9l.5 .1l.5-.1l.5 .1l.5-.1l.5-1.6l.5 .7l.5-1l.5 .3l.5 1.4l.5-1.1l.5 .9l.5-1.3l.5 .6l.5-.2l.5-4.3l.5 2.2l.5-.7l.5-.2l.5-2.3l.5 .6l.5 .2l.5 1.5l.5-3l.5 4l.5-2.4l.5 2.5l.5-.9l.5-.5l.5 .5l.5 2.2l.5-.9l.5 2.3l.5-1.1l.5-.4l.5 1.3l.5-.4l.5 1.5l.5-1.5l.5 .2l.5 .4l.5-.1l.5-.8l.5 0l.5 .2l.5-2.4l.5 1.1l.5-4.3l.5 1.2l.5 1.9l.5-2.8l.5 2.3l.5-2.8l.5 2.6l.5-2.3l.5 .2l.5 1.2l.5 3.3l.5-2.4l.5 2.3l.5-1.1l.5 .6l.5 1.5l.5-3.9l.5 3l.5 .4l.5-2.5l.5 1.5l.5-.4l.5 .2l.5 2.3l.5-.8l.5-.4l.5 0l.5 .8l.5 1l.5-2.3l.5 .6l.5 .5l.5 1.2l.5-1.7l.5-2.2l.5 3.4l.5-1.7l.5 0l.5 1.2l.5-.9l.5 0l.5-.5l.5-1.5l.5-.4l.5 .1l.5 .4l.5 1.5l.5-.8l.5 .3l.5 .1l.5 0l.5 2.8l.5-3.2l.5 1.6l.5-.4l.5 .4l.5 1.1l.5 .5l.5 .7l.5-.3l.5-.2l.5-1.1l.5 1.9l.5-.9l.5 .7l.5 .4l.5 0l.5-.9l.5 .6l.5-.1l.5-.3l.5 .5l.5-1.3l.5 1.3l.5-.8l.5-.6l.5-.1l.5-.9l.5 .2l.5-1l.5 .3l.5 1.1l.5 .5l.5-2.3l.5 1l.5 0l.5-.6l.5-.2l.5-.5l.5 2.3l.5-.9l.5 1.3l.5-1.5l.5 .5l.5-.1l.5 .3l.5 .3l.5-1.1l.5-.4l.5 2.2l.5-2l.5 .1l.5 .3l.5-.1l.5 .3l.5 1.6l.5-2.3l.5 1.3l.5-.4l.5-1l.5 1.8l.5-1.6l.5 .8l.5 1l.5-.6l.5 1.1l.5-1.2l.5 .7l.5-.9l.5 1.5l.5 .4l.5-.5l.5-.6l.5 1.3l.5-.4l.5-.6l.5-.1l.5-.7l.5-.9l.5 1.2l.5-1.5l.5 2.2l.5-.8l.5 .3l.5-.2l.5 .7l.5-.2l.5-1l.5 0l.5-.3l.5 .4l.5 .5l.5 1.1l.5-1.5l.5-.2l.5 .7l.5-.5l.5 .7l.5 .6l.5 0l.5-.8l.5 .8l.5-1.4l.5 2l.5-.7l.5-.7l.5 .4l.5 1.1l.5 0l.5-.2l.5-1.1l.5 .6l.5 .4l.5-.3l.5 .7l.5-1.3l.5 .5l.5 1l.5-.9l.5-.2l.5 .2l.5 .6l.5-1l.5-2.3l.5 2l.5 1.3l.5-.5l.5-1.1l.5 1.6l.5-2.1l.5 .5l.5 1.1l.5-1.4l.5 .7l.5 0l.5 .2l.5-1.3l.5 .1l.5 .9l.5 0l.5-1.4l.5-.6l.5 .4l.5 1.7l.5-.8l.5 1.1l.5-.5l.5 .8l.5-1.1l.5 0l.5 .5l.5-.6l.5 .1l.5 1.1l.5-1.3l.5-.7l.5 .2l.5 .8l.5 1.1l.5-.1l.5-.5l.5-1.2l.5-.1l.5 1.5l.5-.9l.5 1.4l.5-1.3l.5 1.1l.5-.8l.5 1.2l.5-1.3l.5-.9l.5 .4l.5 1.4l.5-2.1l.5 .7l.5-.2l.5-.3l.5 .9l.5-1.2l.5 .3l.5 0l.5 1.4l.5-1l.5-.7l.5 .5l.5 .7l.5-1.2l.5 1.6l.5-1.7l.5 .8l.5-.3l.5 .6l.5 .5l.5 0l.5 .9l.5-1.6l.5 .2l.5 1.3l.5 .4l.5-.8l.5 .2l.5 .7l.5-.4l.5 .4l.5 .4l.5-1l.5 .7l.5-.2l.5-.5l.5 .8l.5 .1l.5-.9l.5-4.3l.5-5.4l.5 4.8l.5 3.6l.5 1.2l.5-1l.5 .1l.5 .7l.5 .2l.5-1.2l.5 .1l.5-.6l.5 .8l.5-.3l.5 1.2l.5-.4l.5-.7l.5 1.4l.5-.5l.5-.9l.5-1l.5 1.6l.5 .5l.5-2.1l.5 .9l.5 .8l.5-1.4l.5 1.3l.5-.2l.5 .2l.5 .8l.5-.8l.5 .5l.5-.2l.5-1.1l.5 .3l.5 1.3l.5-.4l.5-.6l.5 0l.5-.5l.5-.3l.5-.1l.5 .2l.5 1.1l.5-1.3l.5-.3l.5 2l.5-.1l.5 .2l.5-.7l.5 .2l.5-1.8l.5 1.6l.5-1.1l.5 1l.5-.4l.5-1l.5 1.6l.5-1.5l.5 .4l.5 1.5l.5-4.8l.5-5.8l.5 5.2l.5 3.4l.5 1.2l.5-1.4l.5 2.3l.5-1.6l.5 1.2l.5-1.6l.5 1.8l.5-1.9l.5 .8l.5-.3l.5 .2l.5-1l.5 2.5l.5-.7l.5 .7l.5-.7l.5-.1l.5-.3l.5 .7l.5 .5l.5-.4l.5 .7l.5-.2l.5 .6l.5-.2l.5 0l.5 .1l.5-.6l.5-.8l.5 1l.5 .3l.5-1.1l.5-.3l.5 0l.5 .3l.5-2.3l.5 2l.5 .4l.5-.3l.5-.3l.5 .6l.5 .2l.5-1.2l.5-.2l.5 .7l.5 .5l.5-1.6l.5 1.4l.5-.8l.5 .2l.5 1.4l.5-.2l.5 .4l.5-.2l.5-.1l.5-.2l.5 .3l.5-.6l.5 .9l.5 .1l.5-.8l.5 .4l.5-.9l.5 .5l.5-.1l.5-.9l.5-.5l.5 1.6l.5-1.6l.5-.6l.5 1.1l.5-.2l.5 1.3l.5 0l.5-.3l.5-2.1l.5 2.1l.5 0l.5-.6l.5-.3l.5-.6l.5 1.8l.5-1l.5 .9l.5-1.3l.5 .4l.5 1l.5-2.1l.5 1.9l.5-1.7l.5 1.5l.5 .2l.5-1.4l.5 .7l.5 .3l.5-.1l.5-.9l.5 1.5l.5-.5l.5 .9l.5 .4l.5-1.2l.5-.4l.5 1.7l.5-.3l.5-.9l.5 .9l.5-.2l.5-.3l.5 .4l.5-.3l.5 .3l.5-.5l.5 .2l.5 0l.5-.3l.5 .1l.5-.3l.5 .4l.5-.4l.5 .3l.5 0l.5 .7l.5-1l.5-.1l.5-.4l.5 1.4l.5-.9l.5 .3l.5-.8l.5-.1l.5 .4l.5 .9l.5-1.1l.5 .2l.5 .8l.5-.5l.5-.2l.5 0l.5 .1l.5 .7l.5-.2l.5 .5l.5-1.4l.5 1.3l.5-1.4l.5 1.4l.5-1.2l.5-2l.5 2l.5 1l.5 .3l.5 .3l.5-.4l.5-.9l.5-.2l.5 1.2l.5-.5l.5 .6l.5-.2l.5-.8l.5-.4l.5-.3l.5-.4l.5 0l.5 .3l.5-.1l.5 .6l.5-1.5l.5 .5l.5 .1l.5 0l.5 .5l.5 .7l.5-.6l.5-1.1l.5 1.1l.5 .9l.5-1.7l.5 0l.5 1.5l.5-1.1l.5 .3l.5-.6l.5 1.3l.5-.5l.5 1l.5-.1l.5-.6l.5-1l.5-.6l.5-3.6l.5 3.2l.5 2.2l.5 .8l.5-1.4l.5 1.5l.5-1l.5 .1l.5 .3l.5 .1l.5-1l.5 .1l.5 0l.5 1l.5-1l.5 .7l.5-.1l.5-.6l.5-1.9l.5 2l.5 .2l.5 .4l.5 .7l.5-.9l.5 .4l.5-1.4l.5 .1l.5 1.6l.5-.6l.5-1.3l.5 2.1l.5-1.3l.5 .6l.5 .5l.5-1.6l.5 1.8l.5-.6l.5-.3l.5-.7l.5 1.7l.5-.5l.5-.3l.5 .8l.5-.8l.5 0l.5-.4l.5 1.1l.5 .3l.5-1.2l.5 .1l.5-4.7l.5-5.8l.5 5.2l.5 3.7l.5 .9l.5 1.2l.5 .3l.5 .1l.5-1.4l.5 .5l.5 .1l.5-.8l.5 .1l.5-.5l.5 .5l.5 0l.5 .3l.5-.7l.5 1.1l.5-.8l.5 .8l.5-2.1l.5-.1l.5 1l.5-.4l.5-.8l.5 1.5l.5 1l.5-2.1l.5 .2l.5 .7l.5 1.4l.5-2.4l.5 2.2l.5-.5l.5-.4l.5-.7l.5-.1l.5 0l.5 1.4l.5-.7l.5 .8l.5-1l.5 1.8l.5-1.2l.5 1.2l.5-3.8l.5-4.5l.5 4l.5 2.6l.5 0l.5 .1l.5 .4l.5-.2l.5 .6l.5 .4l.5-1.1l.5-.1l.5-.4l.5 1.2l.5-.7l.5 .8l.5-.6l.5-.4l.5 .8l.5-.1l.5-.5l.5 1.2l.5-1.8l.5 1.9l.5-.6l.5-.1l.5-1.7l.5 .4l.5-.7l.5-.1l.5-.4l.5-.8l.5 0l.5 2.5l.5 .5l.5-.6l.5-.5l.5-.3l.5 1.4l.5-1.3l.5 .9l.5 .1l.5 .4l.5 0l.5 0l.5 1.2l.5 .2l.5 0l.5-.3l.5 .2l.5-.8l.5 .8l.5-.6l.5-.8l.5 .1l.5-6.5l.5-7.7l.5 6.8l.5 5.1l.5 3.1l.5-.3l.5-.3l.5-.8l.5-.2l.5 1.4l.5-.2l.5-1l.5-1.1l.5 .7l.5 .2l.5-1l.5 .1l.5 .5l.5 .8l.5 .2l.5 .8l.5-.1l.5-1.7l.5 1.4l.5-1l.5 .6l.5-.8l.5-.2l.5 2.1l.5-1.3l.5 .2l.5-.3l.5 1.2l.5-1.6l.5 1.9l.5-2.5l.5 .7l.5-2l.5-.8l.5 3l.5-1l.5-.1l.5 .8l.5-2.4l.5 1.8l.5-.1l.5 .2l.5 .2l.5 1.5l.5-1.2l.5 1.7l.5-2.2l.5 1.6l.5 0l.5-.2l.5-.4l.5 1l.5-1.7l.5 1.1l.5 .1l.5-1.3l.5 1l.5 .1l.5-.3l.5 .4l.5-2.5l.5 1.6l.5-.2l.5 1.1l.5-2.1l.5 1.7l.5-1.5l.5 2l.5-.5l.5 .8l.5 .2l.5-1.1l.5 .3l.5 1.2l.5-.4l.5-.3l.5 1.3l.5-.1l.5-7l.5-6.7l.5 6l.5 4.5l.5 1.7l.5 .3l.5 .4l.5-.9l.5 .2l.5-.4l.5 .7l.5-.4l.5-1.6l.5 1.3l.5 0l.5-1.2l.5 .5l.5 .8l.5-1.4l.5 1.4l.5-.3l.5 0l.5-1.3l.5 1.5l.5 .8l.5 .1l.5 .2l.5-.6l.5 .2l.5-.9l.5 1.1l.5-.6l.5-.5l.5 1l.5-1l.5 .4l.5 1.1l.5-1.5l.5 .2l.5-.1l.5 .9l.5 .1l.5-.5l.5 1.1l.5-1.8l.5 .2l.5 .1l.5 .5l.5 .6l.5-.4l.5 .3l.5-.7l.5-.8l.5 1.3l.5-1.5l.5 1l.5-.5l.5-.6l.5 .5l.5-1.1l.5 1.7l.5-.5l.5-.3l.5 .1l.5-.2l.5-.7l.5 2.2l.5-.3l.5-.5l.5-1.2l.5-.7l.5 2l.5-.6l.5 0l.5 .7l.5 .2l.5 .4l.5 .1l.5 .3l.5 .1l.5 .2l.5 .3l.5 .2l.5-.7l.5 .9l.5 0l.5-.2l.5-.1l.5 .3l.5-.4l.5 0l.5-.4l.5 .3l.5 0l.5-.6l.5 .9l.5-.6l.5 .6l.5-.8l.5-.3l.5 .9l.5-1l.5 .4l.5 .7l.5-.1l.5-.6l.5 .3l.5-.3l.5-.5l.5 .2l.5 .1l.5-.4l.5 0l.5 1.1l.5-.3l.5-.5l.5 .8l.5-.9l.5 .8l.5-.4l.5-.3l.5 .9l.5 .2l.5-.8l.5-.3l.5 0l.5 .6l.5 .1l.5 .1l.5-.2l.5-.2l.5 .5l.5-.5l.5-.6l.5 .7l.5-.8l.5 0l.5-.1l.5 1.1l.5-1.2l.5 .9l.5-.1l.5-.4l.5 .2l.5 .5l.5-.9l.5 .4l.5-.2l.5-.1l.5-1l.5 1l.5-.8l.5-.7l.5 1l.5 .3l.5 .4l.5 .2l.5 .3l.5 .1l.5-.2l.5-.7l.5 .2l.5-.3l.5 .4l.5 .7l.5-1l.5-.1l.5 1.2l.5-.8l.5 1l.5-.8l.5-.1l.5 .9l.5-.7l.5 .2l.5-.2l.5 .3l.5-.2l.5-.1l.5 .4l.5 .2l.5-.7l.5-.2l.5 0l.5-1.3l.5 .1l.5 .3l.5-1.8l.5 .9l.5 .4l.5-.5l.5-.2l.5 1.4l.5 .2l.5-1.3l.5 1.1l.5-.7l.5 1.1l.5 .8l.5-.9l.5 .5l.5 0l.5 .4l.5 .3l.5-.9l.5-.1l.5 .1l.5 .1l.5 .8l.5-.7l.5 .8l.5 .3l.5 0l.5-4.5l.5-4.5l.5 4l.5 2.1l.5 .7l.5 1.7l.5-.4l.5 .4l.5-.1l.5-.1l.5 .6l.5-.5l.5-.3l.5-.4l.5 1.1l.5-1l.5 .9l.5-1.3l.5 1.1l.5-3.4l.5-4.1l.5 3.6l.5 2.7l.5 .5l.5-.8l.5 .2l.5 1l.5-.1l.5 0l.5-1.2l.5 1.4l.5-.6l.5-.6l.5 1.2l.5-1l.5 .8l.5-.2l.5-.4l.5-.4l.5 0l.5 .1l.5 1.1l.5 0l.5 .6l.5-.9l.5 .5l.5 .3l.5 0l2 .2l2-.1l2 .1l2-.2l2 .2l2-.3l2 .1l2-.1l.5-.3l.5 .5l.5-.4l.5 .2l.5 .2l.5-.7l.5 .1l.5 .4l.5-.6l.5 .4l.5 .2l.5 .3l.5-.7l.5 .7l.5-.2l.5 .3l.5-.7l.5 .3l.5-.3l.5 .2l.5-.5l.5 .8l.5-.7l.5 .9l.5-.7l.5 .6l.5 .1l.5-.7l.5 .1l.5 0l.5-.1l.5 .6l.5 .1l.5-.3l2 .4l.5-.7l.5 .1l.5 .5l.5-.8l.5 .9l.5-.5l.5 .3l.5 0l.5-.4l.5 .5l.5-.1l.5-.4l2 .2l2 0l2 .1l2-.2l2-.1l2 .2l2 0l2 0l2 0l2 .2l2-.1l2 .1l.5-.3l.5-.1l.5-.1l.5-.1l.5 .4l.5 .2l.5 .1l.5 0l.5-.6l.5 .1l.5-.3l.5-.1l.5 .1l.5-1.3l.5 1.2l.5 .8l.5-.7l.5 .4l.5-.8l.5-.1l.5 .6l.5-.5l.5-.4l.5 .5l.5 .1l.5 .6l.5-1.3l.5 1l.5-1.2l.5 .9l.5-.2l.5 .1l.5-1l.5 .1l.5-.2l.5 0l.5 .1l.5 1.3l.5 0l.5-.5l.5 .6l.5-.1l.5-.4l.5 .7l.5 .1l.5-.5l.5 .4l.5-.5l.5 .1l.5-.5l.5 .4l.5 0l.5-.3l.5 .3l.5 .1l.5-.5l.5 1l.5-.4l.5-.9l.5 .4l.5-.5l.5 .5l.5-1.8l.5 1.6l.5-.3l.5-.2l.5-.1l.5 1.4l.5-1.2l.5 .1l.5 .4l.5 .2l.5 .2l.5-1.1l.5 1.1l.5-.1l.5 .4l.5-.5l.5-.6l.5-.1l.5 .6l.5-.2l.5 1l.5-.9l.5 .3l.5 .8l.5-1.1l.5 .6l.5 .2l.5 0l.5 .2l.5-.9l.5-1.8l.5 1.6l.5 1l.5-.1l.5-.2l.5 .2l.5 .2l.5-.4l.5 .6l.5-.4l.5 0l.5-.7l.5-1.8l.5 1.6l.5 1.2l.5 .1l.5-.3l.5-.1l.5-.8l.5 .9l.5-.2l.5 0l.5-5.6l.5-5.8l.5 5.2l.5 3.9l.5 1.6l.5 0l.5-.4l.5 .1l.5-.2l.5-1.6l.5 2l.5-1.3l.5-.2l.5 1.6l.5-1.9l.5-.2l.5 .5l.5 1.9l.5-1l.5 1.1l.5-.3l.5-.2l.5 .3l.5-.4l.5 1.3l.5-1.1l.5-.1l.5-.5l.5 0l.5 .4l.5 .7l.5-1.4l.5 .8l.5-1.1l.5 .2l.5 .7l.5 .7l.5-.5l.5 .3l.5 .3l.5 .3l.5-1.1l.5-.4l.5 .5l.5-.7l.5 .2l.5 .2l.5-.3l.5-1.9l.5 2l.5 .1l.5 1l.5-.4l.5 .6l.5-.9l.5 .2l.5-.4l.5 .8l.5-.4l.5 .7l.5-.3l.5-.5l.5-2.4l.5-4.1l.5 3.6l.5 2.7l.5 1.2l.5 .4l.5-1l.5 .6l.5 .3l.5-.3l.5 .4l.5-.2l.5 0l.5 .2l.5-.2l.5-2.5l.5-3.2l.5 2.8l.5 2.1l.5 .3l.5-.2l.5-.1l.5 .4l.5-.3l.5 .6l.5-.7l.5 .4l.5-.5l.5-1.8l.5 1.6l.5 .5l.5-.7l.5 .1l.5 .8l.5 .2l.5-1l.5 .8l.5 .3l.5-.3l.5-.2l.5-.8l.5-2.3l.5 2l.5 1.2l.5 .5l.5 0l.5-.6l.5 .2l.5-.4l.5 .4l.5 .6l.5-.1l.5-.4l.5-.5l.5 .3l.5-.4l.5 .2l.5-.3l.5 .2l.5 .5l.5-.1l.5 .2l.5-.3l.5 .2l.5 .2l2 .2l2 0l2 .1l2-.1l.5-.2l.5 .2l.5 .1l.5-.7l.5 .3l.5 0l.5-.1l.5 .4l.5-.4l.5 .5l.5-.8l.5 .3l.5 .2l.5 .5l.5-.3l.5-.1l.5-.3l.5 0l.5 .3l.5 .5l.5-.8l2 .4l2 .1l2 .2l2-.2l2 .1l2 0l2 0l2 .2l2-.2l2 .2l2 0l2-.2l2 .2l2-.2l2 0l2-.1l2-.2l2-.1l2 .3l2 .2l2 .1l2 0l.5-1.4l.5-1.8l.5 1.6l.5 1.2l.5 .3l2-.8l.5 .1l.5-.3l.5 .8l.5-.9l.5 .8l.5 0l.5 .2l.5-.3l.5-.1l.5 .3l.5-.5l2 .8l2-.2l2 .2l2 0l2-.9l.5 .4l.5-.6l.5 .9l.5 0l.5-.7l.5 0l.5 .6l.5-.3l.5-.2l.5 .5l.5-.4l2 .7l2 0l2-.4l2-.1l2 .4l2 0l2-.2l2 0l2 .1l2 .2l2-.2l2 0l2-.1l2 .2l2-.1l2 .1l2 0l2 0l2 .2l2-.1l2 0l2 .1l2-.1l2-.2l2 .2l2-.2l2 .1l2 0l2-.1l2 .1l2 0l2-.1l2 .1l2-.1l2 .1l.5-.1l.5 .1l.5-.3l.5 0l.5-.1l.5 .3l.5-.2l2 0l2 .1l2 .3l2 0l2 0l2-.1l2 .1l2-.2l2 .1l2 0l2 0l2 0l2 .1l2 0l2 .1l.5-.1l.5 0l.5-.1l.5-.1l.5 .1l.5 0l.5 .1l2-.2l2 0l2 .1l2 .2l2-.2l2 .2l2-.2l2 0l2 0l2-.1l2 .3l2-.2l2 .1l2 .1l2-.2l2 .1l2-.1l2 .2l2 0l2 0l2-.1l2-.1l2 0l2-.1l2 .2l2 .1l2-.1l2 0l2-.1l2 0l2-.1l2 .1l2-.1l2 .1l2-.1l2 .2l2 .1l2-.1l2 0l2-.2l2 0l2 .3l2-.1l2 0l2-.1l2 0l2 0l2-.1l2 0l2 .2l2 0l2-.1l2 0l2 0l2 0l2 0l2 .1l2-.1l2-.1l2 0l2 .3l2 0l2-.1l2-.2l2 .2l2-.2l2 .2l2-.2l2 .1l2 .2l2-.2l2 .1l2 0l2-.1l2-.1l2 .2l2 0l2 .1l2-.1l2 0l2-.1l2 0l2 0l.5 .1l.5-.2l.5 .2l.5 .1l.5-.3l.5 .2l.5 0l.5-.1l2 .1l2 0l2 0l.5 0l.5-.1l.5 .1l.5-.2l.5 .1l.5 .2l.5-.2l2 .1l2 0l2 .1l2-.1l2-.1l2 .1l2-.2l2 .2l2-.1l2 .1l.5 0l.5-.2l.5 .1l.5 .1l.5-.2l.5 .3l.5-.1l.5 0l2-.1l2 .1l2-.2l2 .1l.5-.1l.5-.7l.5-1.3l.5 1.2l.5 .9l.5-.1l2 .2l.5-.2l.5 .3l.5-.3l.5 .1l.5-.1l.5 0l.5 .2l.5 0l2 0l2-.2l2 .2l2 0l2 0l2 0l2 0l2 0l2-.1l2 .1l.5 .1l.5-.3l.5 .3l.5-.1l.5 0l2 0l2-.2l2 .2l2-.2l2 .1l2-.1l2 .2l2-.3l.5 .1l.5 0l.5 0l.5 .1l.5-.1l2 .2l2-.2l2 .1l2 .1l2 0l2-.1l2 .1l2-.1l2 0l2 0l2 .1l.5 0l.5-.7l.5 .5l.5 .2l.5-.2l2 0l2 .1l2 .1l2-.2l2 .4l2 0l2 .1l2 0l2-.1l2-.1l2 .2l2-.1l2-.1l2 0l2 0l.5 .2l.5-.2l.5-.3l.5 .4l.5-.1l.5 0l2 .2l2 0l2-.2l2 0l2 0l2 0l2 .1l2-.1l2 .2l2-.2l2 .2l2-.1l2-.1l2 0l2 0l2 .1l2-.1l2 .1l2 .1l2-.2l2 .2l2-.1l2 .1l2-.2l2 .1l2-.1l2 .1l2-.1l2 .1l.5-.1l.5-.1l.5-.7l.5 .6l.5 .2l.5 0l2 .1l2-.1l2 .1l2 0l2 0l2 0l2 0l2 .1l2 0l2-.2l2 0l2 0l2 .2l2-.1l2-.1l2 .1l2 0l2 .1l2-.2l2 .1l2 0l2 0l2-.1l2 0l2 .1l2 0l2-.1l2 0l2 .1l2 0l2-.1l2 .1l2 0l2-.1l2 .2l2-.1l2-.1l2 .1l.5 0l.5-1.1l.5-1.3l.5 1.2l.5 .9l.5 .3l2 0l2-.1l2 .1l2 0l2-.1l.5 .1l.5 0l.5-1.1l.5-1.3l.5 1.2l.5 .7l.5 .2l2 .2l2 0l2 0l2-.8l.5 .2l.5 .3l.5-.7l.5 .2l.5 .4l.5-.2l.5 .2l.5 .3l.5-.4l2 .4l2 .1l2 .1l2-.1l2 0l2 0l2 .1l.5-.1l.5 .1l.5-.1l.5-.7l.5-1.1l.5 1l.5 .7l.5 0l2 .1l2 0l2 0l2 0l2 .1l2 0l2 0l2 0l2 0l2 .1l2 0l.5-.2l.5 .1l.5-.1l.5-1.5l.5-1.8l.5 1.6l.5 1.2l.5 .5l2 0l2 0l2 0l2 .1l2 0l2 0l0 1.2l-2 0l-2 0l-2 .1l-2 0l-2-.2l-2 .3l-.5 .4l-.5 1.2l-.5 1.6l-.5-1.8l-.5-1.5l-.5-.1l-.5-.1l-.5 .2l-2 0l-2 0l-2-.1l-2 .1l-2-.1l-2 0l-2 .1l-2 0l-2-.2l-2 .1l-2 .2l-.5-.1l-.5 .8l-.5 1l-.5-1.1l-.5-.7l-.5-.1l-.5 .1l-.5 0l-2-.2l-2 0l-2 .2l-2 0l-2-.1l-2 .3l-2 .2l-.5 .3l-.5 .2l-.5-.6l-.5 .4l-.5 .2l-.5 0l-.5 0l-.5-.6l-.5 0l-2-.3l-2 0l-2 0l-2 0l-.5 .2l-.5 .9l-.5 1.2l-.5-1.3l-.5-1l-.5-.1l-.5 .1l-2 0l-2 0l-2-.1l-2 0l-2 0l-.5 .3l-.5 .9l-.5 1.2l-.5-1.3l-.5-1l-.5 0l-2 0l-2 0l-2-.1l-2 0l-2-.1l-2 .2l-2 0l-2-.1l-2 .1l-2 0l-2-.1l-2 0l-2 .1l-2 0l-2-.1l-2-.1l-2 .1l-2 0l-2 .1l-2-.1l-2 .1l-2-.1l-2 .1l-2-.1l-2 0l-2 0l-2-.1l-2 0l-2 .2l-2 0l-2-.1l-2 0l-2 0l-2 .1l-2-.1l-2 .1l-2-.1l-2 .1l-.5-.1l-.5 .3l-.5 .6l-.5-.7l-.5-.2l-.5 .1l-2 0l-2-.1l-2-.1l-2 .2l-2-.1l-2-.1l-2 .2l-2 0l-2 0l-2-.1l-2 0l-2 0l-2 0l-2 .1l-2-.1l-2-.1l-2 .1l-2-.1l-2 0l-2 .2l-2-.2l-2 .1l-2 0l-2 .1l-2 0l-2 0l-2 0l-2-.1l-2 0l-.5 .1l-.5-.1l-.5 .4l-.5-.3l-.5 0l-.5-.1l-2-.1l-2 .1l-2 0l-2 0l-2 .1l-2-.1l-2 .1l-2 0l-2 0l-2-.1l-2 .3l-2-.2l-2 0l-2 .1l-2 0l-.5-.1l-.5 .2l-.5 .6l-.5-.7l-.5 .1l-2 .1l-2-.1l-2-.1l-2 .1l-2 .1l-2-.1l-2-.1l-2-.1l-2 0l-2 .3l-2 0l-.5 0l-.5-.1l-.5 .1l-.5 0l-.5 .1l-2-.1l-2-.2l-2 .2l-2-.1l-2-.1l-2 0l-2 0l-2-.1l-.5 .3l-.5-.1l-.5 .1l-.5 0l-.5-.2l-2 .1l-2-.1l-2 .2l-2-.3l-2 .1l-2 .1l-2-.2l-2 .1l-2-.1l-2 0l-.5 .2l-.5 .1l-.5 0l-.5-.2l-.5 .1l-.5-.1l-.5 .2l-.5-.1l-2 .2l-.5 0l-.5 .7l-.5 1.2l-.5-1.3l-.5-.6l-.5-.2l-2 .2l-2-.1l-2-.2l-2 0l-.5-.1l-.5 .3l-.5 0l-.5-.2l-.5 0l-.5 0l-.5 0l-.5 .2l-2-.1l-2 .1l-2 0l-2-.1l-2 0l-2 .1l-2-.1l-2 0l-2-.1l-2-.1l-.5 .2l-.5 .1l-.5 0l-.5-.1l-.5-.1l-.5 .1l-.5 0l-2 .1l-2-.2l-2 0l-.5 0l-.5 0l-.5 .2l-.5-.1l-.5-.2l-.5 .2l-.5 0l-.5-.1l-2 0l-2 .2l-2-.1l-2 0l-2 .1l-2-.1l-2 0l-2 .1l-2-.1l-2-.1l-2 .1l-2-.1l-2-.1l-2 0l-2 .1l-2 0l-2 0l-2 0l-2-.1l-2 0l-2 .2l-2-.2l-2 .1l-2-.1l-2 0l-2 .1l-2 .2l-2-.3l-2 0l-2 .2l-2 0l-2-.1l-2 .1l-2-.1l-2 .1l-2 0l-2 0l-2 0l-2-.1l-2-.1l-2 .3l-2-.1l-2 .1l-2-.3l-2 .1l-2 0l-2 .1l-2 0l-2 .1l-2-.1l-2 0l-2 .1l-2-.3l-2 0l-2 .3l-2-.2l-2 .1l-2 .1l-2-.3l-2 0l-2 .2l-2 0l-2-.2l-2 .2l-2-.1l-2-.1l-2 .2l-2 0l-2-.1l-2 0l-2 .1l-2 0l-2 0l-2-.1l-2-.1l-2 .2l-2 0l-2-.1l-2 .2l-2-.2l-2 0l-2 .2l-2-.1l-.5 0l-.5 0l-.5 .1l-.5-.3l-.5 .1l-.5 .1l-.5-.1l-2 .1l-2-.1l-2 .1l-2-.2l-2 0l-2 .1l-2 .1l-2-.1l-2 .1l-2 0l-2 0l-2 0l-2 .2l-2 .1l-2-.1l-.5 0l-.5 0l-.5 .1l-.5-.3l-.5 .3l-.5-.3l-.5 .3l-2-.1l-2-.1l-2-.3l-2 .4l-2-.3l-2 .3l-2-.2l-2 .1l-2 .1l-2-.2l-2 .1l-2-.3l-2 .2l-2 0l-2-.2l-2 .3l-2-.2l-2 0l-2 .1l-2 .1l-2 0l-2 0l-2 .1l-2-.1l-2-.1l-2 0l-2 .1l-2-.1l-2 .3l-2-.2l-2 .3l-2-.4l-2 .1l-2-.2l-2 .5l-.5-.6l-.5 .5l-.5 .4l-.5-.2l-.5 .1l-.5 .1l-.5 .1l-.5-.3l-.5 0l-.5-.1l-.5 0l-2-.3l-2-.2l-2 .1l-2-.1l-2 .5l-.5 .2l-.5-.3l-.5 .6l-.5-.1l-.5-.1l-.5-.6l-.5 0l-.5 .7l-.5-.4l-.5 .5l-.5-.5l-2-.3l-.5 .2l-.5 1.2l-.5 1.6l-.5-1.8l-.5-1.4l-2 0l-2 .1l-2 .1l-2 .2l-2 .3l-2-.3l-2 0l-2-.3l-2 0l-2 0l-2-.1l-2 .2l-2-.2l-2 .1l-2 .1l-2-.1l-2 .1l-2-.2l-2 .1l-2 .2l-2-.1l-2 .2l-.5 .3l-.5-.1l-.5-.4l-.5 .8l-.5-.2l-.5-.2l-.5-.3l-.5 .3l-.5-.1l-.5-.2l-.5 .8l-.5-.2l-.5-.5l-.5 .6l-.5-.8l-.5 .9l-.5 0l-.5-.3l-.5-.2l-.5-.1l-.5 .5l-2-.6l-2-.1l-2-.2l-2 .5l-.5-.5l-.5 .1l-.5 .2l-.5 .8l-.5-.2l-.5-.5l-.5-.1l-.5 .5l-.5 .2l-.5-.2l-.5-.5l-.5-.2l-.5 .5l-.5 .7l-.5 0l-.5-.9l-.5 0l-.5-.1l-.5 .7l-.5-.8l-.5 .4l-.5 1.5l-.5 2l-.5-2.3l-.5-1l-.5 .8l-.5-.5l-.5 .4l-.5 .2l-.5-.2l-.5-1l-.5 .3l-.5 .3l-.5-.4l-.5 .8l-.5 1.6l-.5-1.8l-.5-.3l-.5-.1l-.5-.2l-.5 .1l-.5 .1l-.5-.4l-.5-.4l-.5 .9l-.5 .2l-.5 2.1l-.5 2.8l-.5-3.2l-.5-2.1l-.5-.6l-.5 .3l-.5-.2l-.5-.2l-.5 0l-.5 .2l-.5 0l-.5-.2l-.5 1.2l-.5-.1l-.5 .6l-.5 2.7l-.5 3.6l-.5-4.1l-.5-2.4l-.5-.6l-.5-.6l-.5 1.3l-.5-.2l-.5 .1l-.5 .4l-.5-.4l-.5-.1l-.5-.7l-.5 1l-.5-.6l-.5 1l-.5 1.9l-.5-2.3l-.5 .4l-.5-1l-.5 0l-.5 0l-.5 .6l-.5 .4l-.5-1.4l-.5 .2l-.5 .8l-.5-.3l-.5-.5l-.5 .3l-.5 1.1l-.5-1l-.5-.4l-.5 1.4l-.5 .4l-.5-1.8l-.5 .8l-.5-.1l-.5 .1l-.5-.1l-.5-.9l-.5-.5l-.5 1.2l-.5 .2l-.5-.1l-.5-.1l-.5 .4l-.5 .8l-.5-1.5l-.5 .5l-.5 1.8l-.5-1.5l-.5 1l-.5 .1l-.5 .3l-.5-.1l-.5-.4l-.5-.6l-.5-1.7l-.5 .9l-.5-.2l-.5 2.9l-.5 5.1l-.5 6.8l-.5-7.6l-.5-8.1l-.5 1.1l-.5-1.2l-.5 .7l-.5 .1l-.5-.3l-.5-.1l-.5 .3l-.5 .5l-.5 1.6l-.5-1.8l-.5-.9l-.5 .1l-.5 .3l-.5-.1l-.5-.3l-.5-.3l-.5 .1l-.5 .2l-.5 .3l-.5 .8l-.5 1.6l-.5-1.8l-.5-1.1l-.5 .3l-.5 .8l-.5-1.1l-.5 .8l-.5-.6l-.5 .1l-.5 .9l-.5-.4l-.5 .8l-.5-1.2l-.5-.1l-.5 0l-.5 0l-.5 .5l-.5 .7l-.5-.8l-.5 .3l-.5-.2l-.5 .7l-.5 .2l-.5-.5l-.5 .3l-.5-1l-.5 1.4l-.5-.3l-.5-1.2l-.5 .9l-.5 1.6l-.5-1.3l-.5-.9l-.5 .4l-.5-.3l-.5 .6l-.5-.9l-.5 1l-.5-.8l-.5-.3l-.5 .2l-.5 0l-.5 .7l-.5-1.2l-.5 1l-.5 .3l-.5-.1l-.5-.4l-.5 .8l-.5-.6l-.5-.1l-.5-.8l-.5 .3l-.5 .5l-.5-.6l-.5 .9l-.5 .1l-.5 .5l-.5-.5l-.5-.1l-.5 .4l-.5-1.1l-.5 0l-.5 .8l-.5-.3l-.5-.1l-.5 .3l-.5 .1l-.5-.9l-.5 .8l-.5-1.2l-.5 .2l-.5-.1l-.5 0l-.5 .6l-.5-.8l-.5 0l-.5 .6l-.5 .1l-.5 1.2l-.5-1.3l-.5-.4l-.5-.2l-.5-.1l-.5 .3l-.5 0l-.5 .4l-.5-.5l-.5-.2l-.5 0l-.5 .1l-.5-.2l-.5 .2l-.5 .1l-2-.1l-2 0l-2 .3l-2-.3l-2 .2l-2 0l-2-.1l-2-.1l-2 .2l-2-.3l-2 .4l-2-.1l-.5-.2l-.5 0l-.5-.1l-.5 .7l-.5-.6l-.5 .5l-.5-.1l-.5-.5l-.5 .7l-.5-.1l-.5-.3l-.5 .3l-2-.2l-.5-.5l-.5-.1l-.5 .3l-.5 .4l-.5 0l-.5-.7l-.5 .9l-.5 0l-.5-.4l-.5-.4l-.5 .6l-.5-.3l-.5 .1l-.5 0l-.5-.3l-.5 .9l-.5-.8l-.5 .4l-.5 .5l-.5-.8l-.5 .2l-.5 .2l-.5-.1l-.5-.4l-.5 .6l-.5-.2l-.5 0l-.5-.6l-.5 .4l-.5 .3l-.5-.2l-.5 .2l-.5-.2l-.5-.5l-2 .5l-2-.1l-2-.1l-2 0l-2 0l-2-.2l-2 0l-2 .4l-.5 0l-.5-.3l-.5 .1l-.5 0l-.5 .3l-.5 .6l-.5 .4l-.5 .5l-.5-.1l-.5-1.2l-.5 .7l-.5 .6l-.5-1l-.5 1.2l-.5-.7l-.5-.7l-.5-.1l-.5 1.2l-.5 .4l-.5-1.3l-.5 .4l-.5 0l-.5 .1l-.5-.4l-.5 .8l-.5 2.5l-.5 3.6l-.5-4.1l-.5-2.7l-.5-.6l-.5 .9l-.5-1.1l-.5 .3l-.5 .1l-.5 .3l-.5-.3l-.5 .2l-.5-.2l-.5-.6l-.5-.1l-.5 1.4l-.5-.6l-.5 .5l-.5 .8l-.5 2.8l-.5 4l-.5-4.5l-.5-3.7l-.5-.8l-.5 .6l-.5 .4l-.5-.6l-.5 .7l-.5-.4l-.5-.6l-.5 .4l-.5 .4l-.5-.4l-.5 .1l-.5 .4l-.5-.1l-.5 .4l-.5 .2l-.5 .4l-.5-.4l-.5-.5l-.5 1.6l-.5 .7l-.5-.1l-.5-1.9l-.5 1.2l-.5 0l-.5 .2l-.5-1.3l-.5 .6l-.5 .7l-.5-.8l-.5-.9l-.5 .4l-.5-1.3l-.5 .3l-.5 0l-.5 .3l-.5 .1l-.5 .2l-.5-.3l-.5-.2l-.5 0l-.5 .3l-.5 .4l-.5-.2l-.5 .4l-.5-.6l-.5-.2l-.5 .8l-.5-.8l-.5 .1l-.5-.3l-.5 .6l-.5 .8l-.5 .6l-.5-.9l-.5 .7l-.5 0l-.5 .5l-.5-1.4l-.5 1.2l-.5-1.5l-.5-.1l-.5 1.2l-.5 .5l-.5-1.4l-.5-.6l-.5 .7l-.5-.4l-.5 .7l-.5-.5l-.5-.3l-.5 1.2l-.5-1.7l-.5 .1l-.5 .5l-.5-.5l-.5 .4l-.5-.6l-.5 1.2l-.5-.9l-.5 .8l-.5-.8l-.5 .3l-.5 .3l-.5-.2l-.5-.5l-.5 .1l-.5 .1l-.5-.4l-.5 .7l-.5-.7l-.5 .6l-.5 .4l-.5-.5l-.5 .4l-.5-.8l-.5 1.4l-.5-1.3l-.5 1.3l-.5-.3l-.5-.8l-.5 .2l-.5 0l-.5-.1l-.5 .8l-.5-1l-.5 .1l-.5 .5l-.5-.9l-.5 .7l-.5 .2l-.5-.4l-.5 .4l-.5-.6l-.5 .4l-.5-.7l-.5 .6l-.5-.5l-.5 .3l-.5-.5l-.5 .6l-.5 .1l-.5-.4l-.5-.1l-.5 .3l-.5-.4l-.5-.3l-.5 .7l-.5-.1l-.5 .3l-.5-.4l-.5 0l-.5 .9l-.5 .4l-.5 .1l-.5-.4l-.5 .4l-.5 .5l-.5-.8l-.5 .6l-.5 .6l-.5-.7l-.5 2l-.5-1.7l-.5-.9l-.5 .2l-.5-.4l-.5 1.9l-.5-.4l-.5-1.4l-.5 .9l-.5-.6l-.5 1.9l-.5-2l-.5 .8l-.5 .4l-.5 .4l-.5-.6l-.5 .4l-.5 .2l-.5-.5l-.5 0l-.5-1.2l-.5-.5l-.5 .5l-.5 1.5l-.5-1.6l-.5-.3l-.5 .5l-.5 .6l-.5 .7l-.5 0l-.5-.5l-.5-1.1l-.5 .6l-.5-.5l-.5 1.1l-.5-1.4l-.5 .4l-.5-.6l-.5 1l-.5 .3l-.5 .5l-.5-1.4l-.5-.3l-.5 1.8l-.5-.3l-.5 .7l-.5-.2l-.5-.1l-.5-1l-.5 1.4l-.5-.5l-.5-.5l-.5 1.6l-.5-.1l-.5 1l-.5-.8l-.5-1.5l-.5 1.3l-.5-.9l-.5 .4l-.5-.5l-.5-.8l-.5-1l-.5 .7l-.5-.7l-.5-.2l-.5 2l-.5 2.9l-.5 6.6l-.5 8.8l-.5-9.9l-.5-10.7l-.5 .2l-.5-.5l-.5 .4l-.5 1l-.5-.1l-.5-.2l-.5 1l-.5 .8l-.5-1.7l-.5 1.2l-.5-1l-.5 .9l-.5 1.8l-.5-1l-.5-1.5l-.5 2.3l-.5-1.9l-.5 1.4l-.5-.5l-.5-.2l-.5-1l-.5-.2l-.5 .8l-.5-.1l-.5-.9l-.5 1l-.5 .1l-.5-.9l-.5-.1l-.5 .1l-.5 0l-.5-.1l-.5 1.7l-.5-.2l-.5 .7l-.5-1l-.5 2.1l-.5-1.2l-.5-.2l-.5 1.2l-.5-.6l-.5 1.8l-.5-3.3l-.5 1.3l-.5-.6l-.5 .3l-.5-.5l-.5-.5l-.5-1l-.5 .9l-.5-.2l-.5-.9l-.5 .4l-.5 .2l-.5-.8l-.5 .7l-.5 1.1l-.5 .1l-.5-.7l-.5-.9l-.5-.2l-.5 2.1l-.5-.2l-.5-.8l-.5 1.1l-.5 0l-.5-.3l-.5-1.1l-.5 .2l-.5 .9l-.5-.8l-.5-.3l-.5-.5l-.5 .2l-.5 .5l-.5 .4l-.5-1.5l-.5 1.6l-.5 .8l-.5 4.5l-.5 6l-.5-6.7l-.5-6.7l-.5 1.5l-.5-.3l-.5-.2l-.5-.5l-.5 .1l-.5-.4l-.5 .6l-.5-.5l-.5-.7l-.5 1.4l-.5-.9l-.5 .1l-.5 .9l-.5 1.3l-.5 .5l-.5 .3l-.5-.1l-.5-1.7l-.5 1.5l-.5-.3l-.5 1.2l-.5-2.3l-.5 2.8l-.5-1.9l-.5-.4l-.5 1.3l-.5-1.5l-.5 .3l-.5-.8l-.5 .5l-.5 .1l-.5-1.3l-.5 0l-.5 1.5l-.5 .1l-.5-1.5l-.5 0l-.5-.4l-.5 .9l-.5-.9l-.5 1.7l-.5-.9l-.5-.7l-.5 1.1l-.5-.4l-.5 .4l-.5-1.4l-.5 .6l-.5 1l-.5-.1l-.5-.2l-.5 3l-.5 4l-.5-4.5l-.5-3.3l-.5 .9l-.5 .4l-.5 0l-.5-1.7l-.5 .6l-.5-.3l-.5-.2l-.5 2.2l-.5-2.1l-.5 1.6l-.5-.2l-.5-1.2l-.5 .3l-.5 .6l-.5 1.5l-.5-1.5l-.5 .3l-.5 .7l-.5-1.8l-.5 1.4l-.5-.1l-.5-1.4l-.5 2.3l-.5-2.3l-.5 1.5l-.5-1l-.5 .2l-.5-.3l-.5 .1l-.5 1.2l-.5-1.6l-.5 1.6l-.5-1.8l-.5 .2l-.5 .9l-.5-.7l-.5-.4l-.5 .8l-.5-1.2l-.5 1l-.5 .1l-.5 1.7l-.5 4.5l-.5 6l-.5-6.7l-.5-6.5l-.5 .7l-.5-.7l-.5 .9l-.5-.4l-.5 0l-.5-.1l-.5-.5l-.5 .3l-.5 1.1l-.5 0l-.5-.3l-.5-1l-.5 1.6l-.5-.9l-.5-.3l-.5 1.3l-.5 0l-.5-1l-.5 .7l-.5-.2l-.5 .7l-.5-1.6l-.5 .4l-.5 .7l-.5-.8l-.5 .1l-.5 .3l-.5-.9l-.5-.1l-.5 1.2l-.5 2l-.5-2.3l-.5-.3l-.5 .1l-.5 .7l-.5-.6l-.5-.8l-.5 .7l-.5-.3l-.5 .5l-.5 .2l-.5-1.3l-.5 .7l-.5-.1l-.5 .1l-.5-.3l-.5 1.3l-.5 1.5l-.5 3.2l-.5-3.6l-.5-1.3l-.5 .4l-.5-1l-.5 1.8l-.5-.1l-.5-1.2l-.5 .3l-.5-.1l-.5-.5l-.5 1.4l-.5-1.7l-.5 2.3l-.5 0l-.5-1.5l-.5 0l-.5 1.1l-.5-.8l-.5-.4l-.5-.7l-.5 .7l-.5-.9l-.5 .9l-.5 1.1l-.5-1.7l-.5 .3l-.5 .5l-.5 .5l-.5-.3l-.5-.5l-.5-1.2l-.5 1.1l-.5-1.3l-.5 .5l-.5 .7l-.5-.4l-.5-.9l-.5 1.4l-.5-.9l-.5-.3l-.5 .6l-.5 .7l-.5 2l-.5-2.3l-.5-1l-.5-.1l-.5 1.6l-.5-.4l-.5 .1l-.5 .3l-.5-1.2l-.5 .5l-.5-.3l-.5 .5l-.5-.1l-.5 .5l-.5-1.1l-.5 1.3l-.5-1.2l-.5 .8l-.5-.7l-.5 .4l-.5-.3l-.5-.5l-.5 0l-.5 .1l-.5-.2l-.5 1.4l-.5-.1l-.5-1.1l-.5-.1l-.5-.2l-.5 .7l-.5 .1l-.5-.9l-.5 .6l-.5-.5l-.5 1.2l-.5-.4l-.5-.3l-.5 0l-.5-.7l-.5 .1l-.5 .9l-.5 0l-.5-.6l-.5 .2l-.5 .9l-.5 .3l-.5-1.6l-.5 .1l-.5 1.5l-.5-.2l-.5 .1l-.5 .3l-.5-.2l-.5-.3l-.5-.6l-.5 .4l-.5 1.4l-.5-1.7l-.5 1.4l-.5 .2l-.5-.2l-.5 .7l-.5-1.7l-.5 .1l-.5 1.3l-.5-.4l-.5-.1l-.5-1.4l-.5 .4l-.5-.1l-.5 1.3l-.5-.2l-.5-1.1l-.5 1.5l-.5-1.6l-.5 2.3l-.5-.4l-.5-.5l-.5-1.4l-.5 1.3l-.5-1.5l-.5 .5l-.5-1.1l-.5 .9l-.5-.8l-.5 1.6l-.5-.9l-.5-.5l-.5 .3l-.5-.2l-.5 .1l-.5 .3l-.5 .4l-.5-.7l-.5 .3l-.5-.1l-.5 1l-.5-1.7l-.5 2l-.5 .1l-.5-1.7l-.5 2l-.5-1.1l-.5 .9l-.5-1.8l-.5 1.7l-.5-1.4l-.5-.4l-.5 0l-.5 1.8l-.5 .1l-.5-.9l-.5 2l-.5-2.3l-.5 .7l-.5-.8l-.5-.9l-.5 .7l-.5-.1l-.5 .9l-.5-.9l-.5 .2l-.5 0l-.5 .2l-.5-.4l-.5-.9l-.5 .9l-.5-1l-.5 1.3l-.5-.5l-.5 .5l-.5-.6l-.5 .1l-.5-.1l-.5 .2l-.5 .6l-.5-.4l-.5 1.8l-.5 0l-.5 .4l-.5-.4l-.5-1.1l-.5 .7l-.5 .3l-.5-.1l-.5-1.5l-.5 .3l-.5 1.7l-.5-.4l-.5 3.7l-.5 5.2l-.5-5.8l-.5-3.1l-.5 .7l-.5-2.1l-.5-.2l-.5 1.1l-.5-.6l-.5 1.1l-.5 .4l-.5 0l-.5-1.4l-.5 1l-.5-.1l-.5-.3l-.5 .2l-.5-1.7l-.5 .8l-.5 .5l-.5 .4l-.5-1.4l-.5 1l-.5 .5l-.5-1.1l-.5 .8l-.5 .2l-.5-.9l-.5 .4l-.5-.8l-.5 .6l-.5-.8l-.5 .8l-.5-.6l-.5 .6l-.5-.1l-.5-.4l-.5-.4l-.5 1.1l-.5-.6l-.5-.3l-.5 .3l-.5 .3l-.5-.2l-.5-.7l-.5 2.3l-.5-.5l-.5-.4l-.5-1.5l-.5 .1l-.5 .5l-.5 .8l-.5-.8l-.5 1.5l-.5-2.3l-.5 1.3l-.5-.5l-.5 0l-.5-.9l-.5-.1l-.5 .3l-.5 2.5l-.5 2.7l-.5 4.8l-.5-5.4l-.5-4.1l-.5-.6l-.5 .8l-.5-.7l-.5 .6l-.5 0l-.5-.5l-.5-.5l-.5-.1l-.5-.1l-.5 .8l-.5 .7l-.5 .3l-.5-1.6l-.5 .7l-.5-.2l-.5 1.1l-.5 .1l-.5-.1l-.5 .5l-.5-1.3l-.5 1.2l-.5 .4l-.5-1.2l-.5 .6l-.5 .3l-.5 .4l-.5-1l-.5-.9l-.5 .3l-.5 .6l-.5 .7l-.5-1.6l-.5 0l-.5 1.9l-.5-1l-.5 1.2l-.5 0l-.5-.8l-.5-.7l-.5 1.5l-.5-.9l-.5 .4l-.5 .3l-.5-.4l-.5 .3l-.5 0l-.5-2.1l-.5 1l-.5-1l-.5 1.7l-.5-1.7l-.5 1.8l-.5-.4l-.5-.8l-.5 .4l-.5-.5l-.5 2l-.5-1.6l-.5 .8l-.5 .3l-.5 .2l-.5-1.3l-.5 .1l-.5 .9l-.5-1l-.5 .4l-.5-.1l-.5-.1l-.5 1.8l-.5-.2l-.5-1l-.5 .2l-.5-1.1l-.5 .8l-.5-1.3l-.5 1.9l-.5-.3l-.5-1.7l-.5 1.9l-.5-1.9l-.5 .6l-.5-.6l-.5 0l-.5 .7l-.5-1.1l-.5 .8l-.5 .7l-.5-.2l-.5 2l-.5-2.3l-.5-1.1l-.5 .8l-.5-1l-.5 1.2l-.5-1.2l-.5 1.2l-.5 .1l-.5-1l-.5 1.2l-.5-1.4l-.5 .2l-.5 .2l-.5-.3l-.5 .9l-.5 .8l-.5-.7l-.5 .6l-.5-.1l-.5-.9l-.5 0l-.5 1.3l-.5-.1l-.5 .2l-.5-.8l-.5-.1l-.5 0l-.5 .1l-.5 1.6l-.5-.9l-.5-1.2l-.5 .9l-.5-.1l-.5-1l-.5 1.3l-.5-.9l-.5-.1l-.5-.2l-.5 .5l-.5 2l-.5 .1l-.5-2.4l-.5 .8l-.5 1.7l-.5-2.5l-.5-.2l-.5 2l-.5 .1l-.5-.2l-.5-1.9l-.5 1.3l-.5-1.7l-.5 1.2l-.5 1.1l-.5-.5l-.5 .2l-.5-.4l-.5 .8l-.5-1.1l-.5 .7l-.5-.2l-.5 .4l-.5-1.3l-.5 .5l-.5 1.6l-.5-.2l-.5-.5l-.5-.1l-.5 .9l-.5-.5l-.5 .4l-.5-1.8l-.5 1.6l-.5-.3l-.5-.8l-.5 1.5l-.5-2.5l-.5 .6l-.5-.4l-.5 1.2l-.5-1l-.5 1.1l-.5 1.4l-.5-.7l-.5-2l-.5 .7l-.5 .3l-.5 1.8l-.5-2.4l-.5 2.7l-.5-2.1l-.5-1.2l-.5 1.5l-.5 .9l-.5-.7l-.5 .2l-.5-.8l-.5-1.1l-.5 .8l-.5-.4l-.5-1.4l-.5 1.7l-.5-.4l-.5-1l-.5 .7l-.5 .8l-.5-.3l-.5-1.2l-.5 0l-.5 .2l-.5 .9l-.5 .4l-.5-.6l-.5 .6l-.5-.1l-.5-.8l-.5 1.8l-.5 0l-.5 .2l-.5 .9l-.5-2.4l-.5 .6l-.5 .5l-.5-.4l-.5 .7l-.5 1.7l-.5-1.9l-.5-.5l-.5 .2l-.5 .4l-.5-.2l-.5 3l-.5-2l-.5 1.4l-.5 1l-.5-3.6l-.5 2.9l-.5-3l-.5 1.1l-.5 .5l-.5 .8l-.5-.9l-.5 .7l-.5-2.2l-.5-.4l-.5-.1l-.5 .4l-.5 2.9l-.5 .4l-.5-.7l-.5-2.1l-.5-.4l-.5 0l-.5 3.9l-.5-1.9l-.5 .1l-.5 1.4l-.5-2.1l-.5 0l-.5 1l-.5-1l-.5 2.9l-.5-.7l-.5 .2l-.5-.9l-.5-1.6l-.5 2.7l-.5-2.2l-.5 5.8l-.5-5.5l-.5 4.8l-.5 .4l-.5-4.7l-.5-.4l-.5 1.4l-.5-.3l-.5-2.8l-.5 .5l-.5-.2l-.5 1l-.5-.1l-.5 0l-.5-1.2l-.5-.2l-.5-1l-.5 1.3l-.5-1l-.5-.2l-.5 3.5l-.5-3.3l-.5 3.8l-.5-2.2l-.5-.5l-.5 3l-.5 2.3l-.5 .4l-.5-1.5l-.5-2.1l-.5 3l-.5-3.7l-.5 2.7l-.5-2.3l-.5 3.8l-.5-2.8l-.5-1l-.5 .7l-.5-1.1l-.5 .3l-.5-.2l-.5-1.2l-.5 .8l-.5-.1l-.5-1.4l-.5 1.5l-.5-2.8l-.5-.1l-.5 1.9l-.5-1.6l-.5 1.1l-.5-1l-.5 3l-.5 4l-.5-4.5l-.5-2.8l-.5 1.9l-.5-1.1l-.5-1.1l-.5 .6l-.5 .3l-.5 .1l-.5 .7l-.5 .3l-.5-.8l-.5 1.8l-.5-2.7l-.5 1l-.5 .5l-.5 .3l-.5 1.9l-.5-.7l-.5-2.5l-.5 1.3l-.5 1.4l-.5-2.1l-.5 2.2l-.5 .9l-.5-2.1l-.5 .8l-.5 2l-.5 1.2l-.5-1.7l-.5 1l-.5-3.2l-.5 2.2l-.5 1.1l-.5-2.6l-.5 0l-.5 0l-.5-.6l-.5 1l-.5 0l-.5 6l-.5 8l-.5-9l-.5-7.7l-.5 1.7l-.5 .4l-.5-1.8l-.5-.2l-.5 2.5l-.5-.2l-.5 .3l-.5-1.8l-.5-.9l-.5 .6l-.5-.2l-.5-.3l-.5-.1l-.5 .2l-.5 .6l-.5 .2l-.5 1.5l-.5-1.9l-.5-.2l-.5 2.3l-.5 4l-.5-4.5l-.5-.4l-.5-1.1l-.5 .1l-.5 .1l-.5-.6l-.5 .7l-.5 .8l-.5-1.8l-.5 .1l-.5-.2l-.5 .1l-.5-.1l-.5 2.2l-.5-.3l-.5-.8l-.5 1.5l-.5-1.5l-.5-.6l-.5-.6l-.5-.2l-.5 .1l-.5 3l-.5 4l-.5-4.5l-.5-1.2l-.5-1l-.5-.9l-.5 .5l-.5 .8l-.5-1.5l-.5 .8l-.5-.4l-.5 1.2l-.5-1.2l-.5 1.2l-.5 .5l-.5-1.1l-.5 1.7l-.5-.2l-.5-1.1l-.5 1.5l-.5 0l-.5-1.3l-.5 .4l-.5 1.2l-.5 .5l-.5-.4l-.5-1.9l-.5 2.8l-.5-1.5l-.5 2l-.5 .7l-.5-1.3l-.5-1.1l-.5-1.4l-.5-.1l-.5 1.9l-.5 .1l-.5 1.3l-.5-.7l-.5 3.7l-.5-3.2l-.5 .4l-.5-2.9l-.5 2.6l-.5-3.2l-.5 1.6l-.5 1.3l-.5 6.6l-.5 8.8l-.5-9.9l-.5-8.2l-.5-.1l-.5 2.1l-.5-2.1l-.5 1.9l-.5-.5l-.5-1.1l-.5-.2l-.5 0l-.5-.9l-.5 2.2l-.5-.8l-.5 1.5l-.5-.7l-.5 .4l-.5-.6l-.5 .5l-.5-1.5l-.5 2.6l-.5-2.1l-.5 .6l-.5-2.4l-.5 1l-.5-.4l-.5 .1l-.5-.8l-.5 .4l-.5 2l-.5-2.3l-.5-1.3l-.5-.3l-.5-.1l-2 .1l-2-.1l-2-.1l-2 0l-2-.2l-2 .1l-2 .4l-.5-.3l-.5 .9l-.5 .5l-.5-.6l-.5 .2l-.5 .6l-.5-.7l-.5 1.2l-.5-.1l-.5-.7l-.5 1.3l-.5-.5l-.5 .4l-.5-.4l-.5-.7l-.5-.8l-.5-.1l-2-.4l-2 .1l-2-.1l-2-.2l-2 .4l-2 0l-2 .1l-2-.2l-2 0l-.5 0l-.5 .6l-.5 .2l-.5 .2l-.5-.3l-.5-.6l-.5 1.2l-.5-.8l-.5 .7l-.5-.1l-.5-.1l-.5 .6l-.5-1.2l-.5 .8l-.5-1l-.5 1.2l-.5-.5l-2-1.1l-2 0l-2 0l-2 .1l-2-.3l-2 .4l-2-.1l-2 .2l-2-.1l-2-.1l-2-.1l-2 .2l-2 .1l-2 .1l-2 .2l-.5-.7l-.5 .4l-.5 0l-.5-.3l-.5 .1l-.5 .4l-.5-.1l-.5 .5l-.5-.5l-.5-.2l-.5 0l-.5 .8l-.5-.8l-.5 .5l-.5-.6l-.5 0l-.5 .9l-.5-.1l-.5-.7l-.5 0l-.5 .3l-.5 .3l-.5-.3l-.5-.5l-.5 .2l-2 .1l-2-.1l-2-.1l-2-.1l-2 0l-2-.2l-2 .2l-2-.2l-2 .3l-2-.2l-2 .2l-2-.2l-.5 .1l-.5 .9l-.5 1.2l-.5-1.3l-.5-.7l-.5-.2l-.5 0l-.5-.1l-2 .1l-2 0l-2 0l-2 .1l-2-.1l-2 .1l-2-.2l-2 0l-2 .2l-2-.1l-2 0l-2 0l-2 0l-2 0l-2-.1l-2 0l-2 .3l-2-.1l-2 0l-2 0l-2 0l-2 .5l-.5 .1l-.5-.3l-.5 .2l-.5 0l-.5 .3l-.5 .7l-.5-.1l-.5-.1l-.5-.5l-.5-.1l-.5 .1l-.5 1l-.5-1.3l-.5 .9l-.5-1l-.5 .4l-.5-.1l-.5-.1l-.5-.3l-.5 0l-.5 .1l-.5 .5l-.5-.5l-.5 0l-.5 1.3l-.5 .1l-.5 2.7l-.5 3.6l-.5-4.1l-.5-3.5l-.5-.6l-2 .1l-2-.1l-2-.1l-2 .2l-2-.1l-2-.1l-2 .2l-2 .1l-2-.3l-2 .2l-2 0l-2 0l-2-.2l-2 .1l-.5 .4l-.5 1.2l-.5 1.6l-.5-1.8l-.5-1.4l-.5-.1l-.5 .3l-.5-.3l-2 .1l-2 .1l-2-.1l-2 .1l-2 0l-2 0l-2-.1l-2 .1l-2 0l-2-.1l-2 0l-2 0l-2 .1l-2 .1l-2-.2Z" fill="#14f6e6" stroke="#14f6e6" stroke-width="0.7" stroke-linejoin="round"/>
<path d="M121.2,192.3l2-.2l2 0l2 .2l2-.1l2 0l2 .2l2-.1l2 0l2 0l2-.1l2 0l2 .2l2-.1l2 0l2 0l.5-.1l.5 .1l.5 0l.5-.4l.5-.9l.5 .8l.5 .3l.5 0l2 .2l2-.1l2 0l2 0l2 .1l2 0l2-.1l2 .1l2-.1l2 .1l2-.1l2 0l2 .1l2-.1l.5-.4l.5-2.6l.5-3.2l.5 2.8l.5 1.7l.5 1l.5 0l.5 .4l.5 0l.5 .1l.5-.7l.5-.7l.5 .7l.5 0l.5-.1l.5-1.7l.5-.3l.5 .3l.5 .3l.5-.3l.5 .5l.5-.4l.5 .1l.5 .9l.5-.6l.5 .7l.5-.2l.5 1l.5 .3l.5 .2l.5-.5l.5-.2l.5 .5l2 .3l2 .2l2-.2l2 .2l2-.2l2 0l2 .2l2-.1l2 .1l2-.1l2 .2l2-.2l2 .1l2 0l2 0l2-.2l2 .1l2 .1l2-.1l2 .1l2-.1l2 .2l.5-.1l.5-.4l.5-.9l.5 .8l.5 .5l.5-.1l2 .1l2 .1l2-.1l2-.1l2-.1l2 .2l2 0l2-.1l2 0l2 0l2 0l2-.2l2 .1l2 .1l2-.1l2 .2l2 0l2-.1l2 0l2-.2l2 .2l2 0l2-.1l2 .1l2 0l2-.1l2 0l2 .1l2 .1l2-.1l2 .1l2-.2l2-.3l2-.4l.5 .3l.5-.6l.5 1l.5-.6l.5-.1l.5 .7l.5-.1l.5-.2l.5 0l2 .2l2 .2l2 0l2-.1l2-.1l2 .1l2 0l2 .1l2 0l2-.1l2-.4l.5-.6l.5 .9l.5-.6l.5 0l.5 .3l.5 .3l.5 0l.5-.3l2 .3l2 .2l2 .1l2 0l2-.1l2-.1l2 0l2 .2l2 .1l.5-.5l.5-.9l.5 .8l.5 .4l.5-.2l2-.3l.5-.3l.5-.5l.5 0l.5 .9l.5 0l.5-1l.5 .6l.5-1l.5 1.2l.5 0l.5 0l.5-.9l.5-.4l.5 .9l.5-1.4l.5 1l.5-.2l.5 .8l.5-1.8l.5 1.6l.5-1.6l.5-.6l.5 1.6l.5 .8l.5-1.2l.5-.4l.5 .8l.5-.5l.5 .7l.5-.6l.5-2.2l.5 2l.5 .2l.5 1.3l.5-.1l.5-.2l.5-.2l.5-.2l.5 .9l.5-.2l.5 .2l.5 .2l.5-.8l.5 .2l.5 .3l.5-.5l.5 .6l.5-.4l.5 .6l.5-.5l.5-.2l.5 .9l.5-.7l.5 0l.5 .3l.5 .3l.5-.7l.5-.2l.5 .8l.5-1l.5 .4l.5 .6l.5-1l.5-.3l.5 .7l.5-.2l.5-.6l.5-1.3l.5-3.2l.5 2.8l.5 2.1l.5 .3l.5 .3l.5-1l.5 .9l.5-.3l.5 .3l.5 0l.5-.5l.5 .5l.5-.7l.5 .5l.5 .3l.5-.2l.5 .1l.5-.2l.5 .5l.5-.7l.5 .3l.5 .6l.5-.2l.5-.9l.5-1.8l.5 1.6l.5 1l.5-.2l.5-.6l.5 .6l.5 .3l.5-.9l.5 .9l.5-1.1l.5 .7l.5-.2l.5-1l.5 0l.5 .4l.5 .3l.5-.7l.5 .3l.5 .8l.5-.8l.5 .4l.5-1.2l.5-1l.5-3.6l.5 3.2l.5 2.4l.5 .7l.5 0l.5-.6l.5-.5l.5 0l.5-.2l.5-.6l.5 1.4l.5-1.4l.5 .4l.5 1.3l.5-1.4l.5-.2l.5-.1l.5 .1l.5 1.2l.5 .4l.5 .4l.5-.9l.5 .7l.5-.3l.5 .1l.5 .8l.5-.9l.5 .5l.5 0l.5-.4l.5 0l.5 .4l.5-.1l.5 .1l.5-1.1l.5 .1l.5 1.1l.5-.5l.5-.8l.5 .1l.5 .4l.5-1.8l.5 1.6l.5 .2l.5-.3l.5 .4l.5 .2l.5-.4l.5 .9l.5-.2l.5-.3l.5-.2l.5 0l.5 .8l.5 .1l.5-.2l.5-.1l.5-.7l.5 .3l.5-1.5l.5-.1l.5 0l.5 .6l.5 .7l.5-1.7l.5 1.3l.5 .1l.5 0l.5 .8l.5-1.6l.5 .4l.5 .9l.5 .6l.5-.7l.5 .9l.5-1.5l.5 .7l.5 .3l.5-.9l.5 .8l.5-1.2l.5 0l.5 1.2l.5-.8l.5-.1l.5 .1l.5 .8l.5-1.5l.5 .3l.5 .9l.5 .1l.5-.4l.5-.4l.5 .2l.5-.6l.5-.1l.5 1.1l.5-.1l.5 0l.5 .5l.5-.1l.5-.3l.5-.1l.5-.4l.5 1.3l.5 .1l.5-.1l.5 .2l.5-.2l.5-.1l.5-.7l.5 1l.5-1.3l.5 1.2l.5 0l.5-1l.5 .4l.5-.6l.5 .5l.5 .5l.5-1.1l.5 .5l.5-.4l.5 .8l.5-.8l.5 .3l.5 .3l.5 0l.5 .4l.5-.4l.5-.5l.5 .7l.5 0l.5-1.1l.5 .4l.5 1l.5-.7l.5-.4l.5 .4l.5 .8l.5-1l.5 .4l.5 .4l.5 .5l.5-.7l.5 .5l.5 .2l.5-.5l.5 .1l.5 .4l.5-.2l.5-.2l.5-.1l.5 .7l.5-.1l.5-.7l.5 .2l.5-.3l.5 .2l.5 .6l.5-.5l.5-.6l.5 .3l.5-.1l.5-.4l.5 .5l.5 .2l.5-.6l.5 .3l.5-.5l.5 .2l.5 .2l.5-1.7l.5 .6l.5 .4l.5-.6l.5 .5l.5-.8l.5 .8l.5 .3l.5 .3l.5-1.1l.5-.2l.5 .5l.5 .2l.5 .5l.5 .2l.5-.4l.5 .3l.5 .7l.5 0l.5-.1l.5-.2l.5-.6l.5 0l.5 .8l.5-.4l.5 0l.5 .3l.5-.5l.5-.2l.5 .1l.5-.1l.5 .2l.5 .8l.5-1.1l.5 1l.5-.9l.5-.3l.5 .3l.5 .9l.5-.1l.5-.1l.5-.4l.5-.7l.5 .3l.5-.1l.5 1.2l.5-.4l.5 .1l.5-.9l.5 .6l.5 .3l.5-.7l.5 .2l.5 .1l.5-.5l.5 .9l.5 0l.5-.6l.5 .3l.5 .5l.5-.4l.5-.4l.5 1.2l.5-1l.5 .7l.5-.3l.5 .2l.5 .3l.5-.3l.5-.2l.5 .8l.5-.3l.5-.4l.5 .3l.5-.2l.5-.2l.5 .5l.5 0l.5-.3l.5 .2l.5 .3l.5-1l.5 .9l.5-.6l.5 .3l.5-1l.5 .1l.5 .6l.5-.7l.5 .4l.5-1.9l.5-3.2l.5 2.8l.5 2.1l.5-.1l.5 .4l.5-.7l.5 .8l.5-.7l.5-.3l.5 1.3l.5-1.2l.5 0l.5 .5l.5 .5l.5 .2l.5-1.3l.5 .3l.5 .6l.5-.1l.5-.4l.5 .7l.5 0l.5 .1l.5-.2l.5-1l.5 .2l.5 .2l.5 1.1l.5-.5l.5-.5l.5-.3l.5 1.1l.5-.4l.5-.6l.5 .3l.5 .8l.5-1.1l.5 .7l.5-.2l.5 .1l.5-.7l.5 .9l.5-.5l.5 .6l.5-.9l.5 .6l.5-.7l.5-.2l.5-.1l.5 1.3l.5-.7l.5-.5l.5 .7l.5 0l.5-.1l.5-.2l.5 .5l.5 .5l.5-.3l.5 .2l.5-.4l.5-.8l.5 .8l.5-.4l.5-.5l.5 .8l.5-.8l.5 1.3l.5-1.2l.5 .9l.5-.6l.5 .8l.5 .3l.5-.3l.5 .5l.5-.3l.5 .4l.5-.4l.5 0l.5 0l.5 0l.5-.7l.5 .8l.5-.5l.5 .2l.5-.2l.5-.1l.5 0l.5 .7l.5-1.1l.5-1.6l.5-3.2l.5 2.8l.5 2.1l.5 .7l.5 0l.5-.3l.5-.6l.5 .7l.5 0l.5-.3l.5 .3l.5 .1l.5-.8l.5 .7l.5-.1l.5 .6l.5-1l.5 .9l.5-.4l.5-.4l.5 .2l.5 .5l.5 .1l.5-.3l.5 .1l.5-.7l.5 .5l.5 .3l.5-.1l.5 .1l.5-.2l.5-.8l.5 .3l.5-.5l.5 .2l.5 .7l.5-.9l.5-.4l.5 0l.5 1.4l.5 0l.5-.8l.5-.2l.5 .2l.5 .8l.5-.3l.5-.6l.5 .5l.5 0l.5-.9l.5 .5l.5-.4l.5 1.2l.5 0l.5-.3l.5-.5l.5 .3l.5 .6l.5-.5l.5 .3l.5-.5l.5-1.2l.5-2.7l.5 2.4l.5 1.8l.5 .3l.5-.2l.5 .1l.5 .4l.5 0l.5-.8l.5 .3l.5-.1l.5-1.1l.5 .5l.5 .8l.5-1l.5 1.2l.5-.7l.5 .5l.5 .1l.5-.5l.5 0l.5-.2l.5 .4l.5 0l.5 .7l.5-.6l.5 .4l.5-.2l.5-.4l.5-.2l.5 .4l.5-.5l.5 .7l.5-.4l.5 .8l.5-.9l.5 0l.5 .3l.5-1.3l.5 1.2l.5-.2l.5 .5l.5 .2l.5 .3l.5-.2l.5-.7l.5 .1l.5 .8l.5-.1l.5-.4l.5 .6l.5-.1l.5-.1l.5-.2l.5-.3l.5 .6l.5-.5l.5 .2l.5-.4l.5 .7l.5 0l.5-.6l.5-.3l.5 .6l.5 0l.5 .2l.5-1.1l.5 .1l.5 0l.5-.2l.5 .4l.5-.5l.5 1.1l.5-1.3l.5 .7l.5-.7l.5 .1l.5 1l.5-.2l.5-.7l.5 .5l.5-.5l.5-.1l.5 .7l.5 .5l.5-.8l.5-.5l.5 1.2l.5-.6l.5-.4l.5 .6l.5 .4l.5-.1l.5-.7l.5 .7l.5 .2l.5-.3l.5 .2l.5 .3l.5 .1l.5 0l.5-.2l.5-.5l.5-.1l.5 .3l.5 .5l.5-.2l.5 0l.5-.1l.5 0l.5 0l.5 0l.5-.5l.5-.1l.5 .4l.5-.3l.5-.2l.5 0l.5 .1l.5 0l.5 0l.5 .3l.5-.1l.5 .2l.5 .7l.5 0l.5-.3l.5-.5l.5 .4l.5-.2l2 .2l2 0l2-.2l2-.2l.5 .5l.5 .1l.5-.6l.5 .5l.5-.2l.5-.7l.5 0l.5 0l.5 .4l.5-.1l.5 .2l.5-.7l.5 1.1l.5-1.2l.5 .5l.5 .2l.5-.2l.5 .4l.5-.9l.5 0l.5 .9l.5-.4l.5 .3l.5-.9l.5 .1l.5 .1l.5 0l.5 .3l.5 .8l.5-.3l.5-.6l.5 .6l.5 .4l.5 0l.5-.9l.5 .3l.5-.1l.5 .3l.5 .5l.5-.2l.5 .2l.5-.3l.5-.4l.5-.1l.5 .1l.5-.3l.5 .1l.5 .1l.5-1.3l.5 1.2l.5 .4l.5 .1l.5-.1l.5 .4l.5-.8l.5-.1l.5 .5l.5-.3l.5 .6l.5-.2l.5 .2l.5-.8l.5-.1l.5 .4l.5 .5l.5-.6l.5-1.3l.5 1.2l.5 .9l.5 0l.5-.1l.5-.3l.5 .4l.5-.6l2 .3l2 .2l2-.2l2-.2l2 .2l.5 0l.5 .2l.5-.7l.5 .7l.5-1.2l.5-1.8l.5 1.6l.5 1.1l.5-.5l.5 .6l.5-.1l.5 .1l.5-1.1l.5 .6l.5 .1l.5-.9l.5 .5l.5-.5l.5-.8l.5 .5l.5 .7l.5 .2l.5-.5l.5 .6l.5-.1l.5-1.1l.5 1.5l.5-1.6l.5 .6l.5 .4l.5-.5l.5-.4l.5 .3l.5 .9l.5-.7l.5-.1l.5 1.1l.5-1.5l.5 .3l.5 .7l.5 .1l.5-.9l.5 1.1l.5-.6l.5 .4l.5-.6l.5 0l.5-1.1l.5 1.2l.5-.2l.5-5.1l.5-6.3l.5 5.6l.5 4.2l.5 1.4l.5 .4l.5 .6l.5-1l.5 .2l.5 0l.5 1l.5-1.8l.5 .2l.5 .4l.5 .7l.5-.3l.5 .9l.5-.5l.5 .6l.5-.6l.5-.4l.5 .5l.5 .7l.5-.5l.5 .3l.5-.1l.5-.6l.5 .8l.5-.2l.5-.1l.5-1l.5 1l.5 .2l.5-1.4l.5 .5l.5 0l.5-.4l.5 1.3l.5 0l.5-.1l.5-.9l.5-.3l.5-.1l.5 0l.5 .4l.5 .1l.5 .7l.5 0l.5-1l.5 .8l.5-.9l.5-.1l.5 .1l.5-.2l.5 .1l.5-.5l.5-2.7l.5 2.4l.5 1.4l.5 .3l.5-.5l.5 .1l.5-.3l.5 1l.5-1.3l.5 1l.5-.8l.5 .5l.5 .5l.5-1l.5-.2l.5 1l.5-.3l.5 .6l.5-.1l.5 0l.5-.1l.5-.6l.5 .2l.5 .6l.5-.6l.5-.5l.5 .1l.5 .8l.5 0l.5-1l.5-.6l.5 1.5l.5-1.1l.5-.5l.5 .3l.5-.8l.5 1.6l.5-1.6l.5-1.7l.5 2.2l.5-1.7l.5 2.2l.5-1.5l.5 1.3l.5-.9l.5 .2l.5 .5l.5 1.4l.5-.2l.5-.9l.5 1.2l.5-.5l.5 1l.5-.2l.5-.2l.5-.6l.5 .5l.5 .3l.5-.2l.5-.4l.5 .4l.5 .1l.5-.9l.5 .6l.5-.1l.5-.9l.5-.2l.5-1.5l.5 2l.5-.4l.5-1.5l.5 1.8l.5-.8l.5 .5l.5 1.5l.5-.4l.5 .6l.5-1.3l.5 1.3l.5-.4l.5 .4l.5-.3l.5-11l.5-10.3l.5 9.2l.5 6.9l.5 4.7l.5 .4l.5-1.2l.5-.2l.5 1.5l.5-.3l.5-2l.5 1.7l.5-.6l.5-2.2l.5 2.1l.5-.1l.5 .2l.5-.4l.5-.3l.5 0l.5-1.7l.5 1l.5 .8l.5-.4l.5 1.7l.5 .4l.5-.6l.5-.3l.5 1.1l.5-1l.5 .6l.5-1l.5 .4l.5-.2l.5 .7l.5-.2l.5 0l.5 .6l.5-.1l.5-.2l.5-.9l.5-.5l.5 1.2l.5-1.4l.5 1l.5 .7l.5-.8l.5-1.1l.5 1l.5-.9l.5 1.1l.5-.3l.5 1l.5-1.9l.5 1.9l.5-1l.5 1.1l.5-1.2l.5 1l.5 .3l.5-1.6l.5 .7l.5 0l.5 1.1l.5-.2l.5-.3l.5-.3l.5 .4l.5-.3l.5-.6l.5-2.2l.5 2l.5 1.3l.5-.9l.5 .8l.5 .1l.5-.1l.5 .1l.5-.1l.5 .2l.5 .2l.5-.7l.5 .7l.5-.2l.5-1.2l.5 .1l.5 .8l.5 .2l.5-1.1l.5 .8l.5-.9l.5 .8l.5-.2l.5 .8l.5-1.2l.5 .3l.5 .3l.5 0l.5-.6l.5 .3l.5-.1l.5 .4l.5-.4l.5-.4l.5 .9l.5 .2l.5-.5l.5-.2l.5-.4l.5 .1l.5-.7l.5 .2l.5-1.3l.5 2.3l.5-2l.5 1.3l.5-1.7l.5 1l.5 .6l.5 .6l.5-.7l.5 .6l.5 .1l.5-1.2l.5 .7l.5 .5l.5 0l.5 .5l.5-1.2l.5-.2l.5 .8l.5-.7l.5 .5l.5 .9l.5-1.9l.5 1.1l.5-.6l.5 .5l.5 0l.5-.1l.5 0l.5 .4l.5-.4l.5-.4l.5 .6l.5-.2l.5-.4l.5 .1l.5 .3l.5-.3l.5-1l.5 .8l.5 .9l.5 0l.5-2.1l.5 1.8l.5 .5l.5-.6l.5-.3l.5 .5l.5-1.1l.5 1.5l.5 .3l.5-1l.5 .2l.5 0l.5 0l.5 .7l.5 .1l.5-.4l.5 .2l.5 0l.5-.5l.5 .4l.5 .8l.5-1l.5 .9l.5-.4l.5-1l.5-.1l.5 .7l.5 0l.5-.2l.5 .4l.5-1l.5 1.2l.5-1.1l.5-.3l.5-.3l.5 .1l.5 .3l.5-.6l.5 .1l.5-.7l.5 1.4l.5 .6l.5-1l.5 0l.5 1.3l.5 .8l.5-1l.5 .9l.5-.2l.5 .3l.5-.5l.5 .5l.5 0l.5-.8l.5 .3l.5 .2l.5 .5l.5-.6l.5-1.3l.5-9l.5-9.9l.5 8.8l.5 4.9l.5 3.5l.5 .2l.5-.4l.5 1.1l.5 .3l.5 1.1l.5 .5l.5-.2l.5-1.1l.5-.5l.5 1.8l.5-1.2l.5-.3l.5 .4l.5 1l.5-8.9l.5-9l.5 8l.5 6l.5 2.4l.5 .3l.5 .8l.5-.9l.5 1l.5 0l.5-1.9l.5 .9l.5-1.2l.5 1.5l.5 .1l.5-.1l.5-.3l.5-.2l.5 1.2l.5 0l.5 .2l.5-.8l.5 .7l.5-.2l.5 .7l.5-.6l.5 .5l.5-.1l.5 1l.5 .1l.5 0l.5-.2l.5-.5l.5 .8l.5-.9l.5 .5l.5 .2l.5-.1l.5-.1l.5-.1l.5 .1l.5 .4l.5-.4l.5-.1l2 .2l2 .2l2-.5l2 .1l.5 .4l.5-.4l.5 .2l.5-.5l.5 0l.5-.1l.5-.1l.5 .8l.5-.6l.5-.1l.5-.3l.5 .2l.5 .5l.5-.4l.5 0l.5-.2l.5 .9l.5-.5l.5 0l.5 .4l.5 .2l.5-.4l.5 .3l.5-.5l.5 .1l.5 0l.5-.4l.5 .9l.5-.3l.5 .1l.5 0l.5-.1l.5 .3l.5-.7l.5 .3l.5 .4l.5-.2l.5-.3l2 .2l2-.1l2 .1l2-.2l.5 .4l.5 .1l.5 .1l.5-.5l.5-.4l.5 .7l.5-.2l.5 .1l.5-.3l.5 .2l.5-.6l.5 .5l.5 .4l.5-.7l.5 .4l.5-.1l.5-.3l.5 .4l.5 0l.5-.5l.5 .5l.5-.1l.5 0l2 .1l2 .3l2 0l2-.3l2-.9l.5-.4l.5 .7l.5-1.5l.5 .2l.5 0l.5-1.2l.5-.1l.5 .7l.5-.7l.5 0l.5 1.4l.5-.8l.5-.1l.5-.2l.5-4.7l.5-7.2l.5 6.4l.5 4.8l.5-.5l.5 2.3l.5-1.5l.5 1.1l.5-1.7l.5 .7l.5 1.5l.5-.9l.5 .1l.5 .8l.5-1.5l.5 1.1l.5-.7l.5 1.7l.5 0l.5-2l.5-.5l.5 .8l.5 .9l.5-1.8l.5 1.8l.5-.9l.5 .7l.5-.4l.5 .2l.5-1.7l.5 2.4l.5-2.3l.5 .4l.5 .1l.5 1.2l.5-1.8l.5 0l.5-1.1l.5 2.7l.5-1.3l.5-1l.5 2.7l.5-3.3l.5 3.3l.5-1.3l.5-.6l.5 1.6l.5-.3l.5-2.6l.5-5.2l.5-9.4l.5 8.4l.5 6.3l.5 .3l.5 3.2l.5-3.1l.5 1.5l.5 1.9l.5-1.1l.5-1.1l.5-.4l.5 1.5l.5-2.6l.5-1.3l.5-1.4l.5 2.2l.5 1.8l.5-4.4l.5 .7l.5 1l.5-.6l.5 1.4l.5 0l.5 1.8l.5-.2l.5 2.1l.5-.6l.5 .9l.5 .7l.5-10.6l.5-10.3l.5 9.2l.5 6.9l.5 2.3l.5 .7l.5-.4l.5 .2l.5-.8l.5 2.5l.5-1.9l.5 1.6l.5-3.9l.5-5.4l.5 4.8l.5 3.5l.5 .9l.5-2.1l.5 .5l.5 .7l.5-1l.5 1.4l.5-1.4l.5-12.9l.5-14.4l.5 12.8l.5 9.6l.5 5.2l.5 1l.5-3.3l.5 0l.5-.8l.5-.1l.5-2.8l.5 2.7l.5-3.8l.5 .4l.5 5.7l.5-4l.5 1.6l.5-1.6l.5 4.7l.5-1.5l.5-.9l.5 1.2l.5 2.4l.5-.6l.5 1l.5-.1l.5-.1l.5-3l.5-.7l.5 .6l.5 1.3l.5-1.4l.5 .2l.5 1l.5-.5l.5-.9l.5 0l.5 2.2l.5 .6l.5-2.4l.5 3.1l.5-2.3l.5 1.6l.5 .6l.5 0l.5-2.2l.5 .3l.5-2l.5-5.8l.5 5.2l.5 3.1l.5-.1l.5 1.2l.5 .2l.5-1.1l.5 1l.5-.5l.5 .6l.5-.8l.5 .9l.5 1l.5-2l.5-2.9l.5-5.8l.5 5.2l.5 3.9l.5 .4l.5-.9l.5 1.2l.5 .8l.5-.1l.5-.2l.5-.3l.5-1.8l.5 2.1l.5-.9l.5 .1l.5-3.7l.5-5.8l.5 5.2l.5 3.9l.5-.1l.5-.5l.5 1.1l.5-1.3l.5-.2l.5 2.7l.5-2.4l.5 1.9l.5-.6l.5-2.7l.5 2.4l.5 1.7l.5-.8l.5-.9l.5 .7l.5 .4l.5 .7l.5-.3l.5-.6l.5-.5l.5-.3l.5-.5l.5-2l.5 2.4l.5 .6l.5 .7l.5-1.7l.5 0l.5 1.5l.5-2l.5 1.2l.5-1.7l.5 1.7l.5-1.4l.5 1.3l.5-1.8l.5 1.8l.5-2.2l.5-.2l.5 2.4l.5-.3l.5-.9l.5 1.5l.5 .3l.5-1.5l.5 .7l.5 1.7l.5 0l.5 .7l.5-.4l.5 .1l.5 .1l.5-.2l.5-.5l.5-.1l.5 .6l.5 .1l.5 0l.5-.6l.5 .4l.5 0l.5-.3l.5-.5l.5 .3l.5 .3l.5-.3l.5 .3l.5 .3l.5-1.4l.5 .6l.5 .1l.5-.2l.5 0l.5 .7l.5-.6l.5 .6l.5 .2l.5-.5l.5-.5l.5 1.4l.5-.3l.5-.3l.5 .2l.5-.5l.5 .7l.5 0l.5 .2l.5-.7l.5 .3l.5-.4l.5 1.1l.5-.1l.5-.4l.5-.3l.5 .5l.5 .2l.5 .2l.5-.7l.5 .3l.5-.2l2 .3l2-.1l2 0l2 .1l2-.6l.5 .8l.5-.2l.5-.4l.5-.4l.5 .9l.5-1l.5 .1l.5 .2l.5 .3l.5 .1l.5-.8l.5 .3l.5 .5l.5-.3l.5-.1l.5-.6l.5 1l.5 0l.5-.5l.5 .6l.5 0l.5-.2l.5 .3l.5-.9l.5 1l.5-.2l.5-.3l.5-.4l.5-.1l.5 .5l.5 .5l.5-.4l.5 0l.5-.4l.5 .6l.5-1.2l.5 .4l.5-.1l.5-.4l.5 .4l.5 .6l.5-1l.5 1.1l.5-.9l.5 .5l.5-.4l.5-.1l.5 .7l.5-.5l.5-.5l.5 .6l.5-4.1l.5-4.9l.5 4.4l.5 3.3l.5 1.7l.5-1.7l.5 1.4l.5-.2l.5 0l.5-1.3l.5-1.4l.5 1.7l.5 0l.5 .9l.5-.5l.5 .2l.5-1l.5 .9l.5-.2l.5 .1l.5 .3l.5 .1l.5 .1l.5 .6l.5-.1l.5 .5l.5-.2l.5-.3l.5 .2l.5-.4l.5 .5l.5-.5l.5 .3l.5-.4l.5 .9l.5-.5l.5-1.5l.5 .1l.5 .3l.5-.5l.5-1.2l.5 .2l.5 1.4l.5-1.9l.5 .5l.5 .3l.5 1.4l.5-1.2l.5 .1l.5-.3l.5 .7l.5 1.5l.5-.1l.5-.8l.5 .2l.5 .3l.5-.5l.5-.5l.5 1.2l.5-1l.5 1.1l.5-.1l.5-.9l.5 .1l.5 .2l.5-.3l.5 1.3l.5-1.7l.5 .4l.5 1.1l.5-.3l.5-1.7l.5-.4l.5 1.7l.5-1.2l.5 .5l.5 0l.5-1.3l.5-.3l.5 1.2l.5 1.2l.5-2l.5 1.9l.5-.4l.5-1.7l.5 .5l.5 .6l.5 .6l.5-.4l.5-.5l.5 1l.5-1l.5 .2l.5 1.4l.5-1l.5 1.1l.5-.7l.5 .9l.5-1.5l.5 .8l.5-.1l.5 .9l.5 .2l.5-.3l.5-.4l.5 .8l.5-.7l.5 .4l.5-.2l.5 .2l.5 .1l.5 .4l.5-.9l.5 .7l.5 .1l.5-.2l.5 .1l.5-.4l.5 .6l.5-.5l.5 .7l.5-.4l.5-.5l.5 .1l.5 .5l.5-.4l.5 .1l.5 .6l.5-.2l.5-.1l.5-1.3l.5 1.1l.5-1.2l.5 .3l.5 .7l.5-1.2l.5-.8l.5 .9l.5-.6l.5 .7l.5 0l.5 .3l.5-1.5l.5 1.8l.5-.1l.5-.2l.5-.7l.5 0l.5-.1l.5 1.5l.5-.3l.5-.5l.5 .2l.5 .1l.5 .6l.5 0l.5-.7l.5 0l.5 .5l.5-.6l.5 .3l.5 .3l.5-.2l.5-.6l.5 .8l.5-.8l.5 .5l.5-.1l.5 0l.5-.4l.5-.2l.5 1l.5-.9l.5 .2l.5 .1l.5-.3l.5-.4l.5-.2l.5 1.5l.5-.7l.5-.6l.5 .4l.5 0l.5 .7l.5 .2l.5-.5l.5-1.1l.5-.1l.5 1.5l.5-1.2l.5 .8l.5-.9l.5 .9l.5 .2l.5-1.8l.5 1.6l.5 .6l.5 .1l.5-.2l.5 .6l.5-.3l.5-.5l.5 .2l.5 .3l.5-.6l.5 1.1l.5-1l.5 0l.5 .7l.5-.4l.5-.3l.5 .7l.5-.8l.5 0l.5 .6l.5-.6l.5 1l.5-.7l.5-.1l.5 .9l.5-.1l.5 .2l.5-.4l.5 .6l.5-.4l2 .1l2-.2l2-.1l2 .2l2 .2l2-.1l2 .1l2-.3l.5 .3l.5-.3l.5 0l.5-.9l.5-1.8l.5 1.6l.5 .8l.5 .7l.5-.6l.5 .5l.5-.2l.5-.7l.5 .9l.5-.7l.5-.2l.5 .1l.5 .1l.5 .3l.5 .3l.5 .2l.5-.1l.5-.3l.5 0l.5-.2l.5-.1l.5 .5l.5-.1l.5-.4l.5-.1l.5 .3l.5 .1l.5-.1l2 .3l.5 .1l.5-.1l.5 0l.5 .2l.5-.3l.5 .3l.5-.9l.5 0l.5-.1l.5 .9l.5 0l.5-.1l.5-.7l.5 .7l.5 .1l.5-.1l.5-.8l.5 0l.5 .3l.5 .7l.5-.8l.5 .7l.5-.6l.5 .5l.5-.3l.5 .3l.5-.2l.5 .4l.5-.7l.5 .6l.5-.5l.5-.2l.5 .2l.5-.3l.5 .5l.5 .4l.5-.5l.5-.2l.5 0l.5 .8l.5 0l.5-.5l.5 .3l.5-.5l2 .2l2 0l2 .3l2-.1l2-.3l.5-.2l.5-.1l.5 .8l.5-.8l.5 .5l.5 0l.5-.6l.5 .5l.5-.5l.5 .5l.5-.2l.5 .2l.5-.1l.5 .1l.5-.5l.5 .8l.5-.1l.5-.2l.5 .1l.5 .2l.5 .1l.5-.5l.5 .1l.5 .1l2-.2l2 .3l2 0l2-.2l2 0l.5-.3l.5 0l.5 .2l.5 .2l.5 .1l.5-.1l.5 .3l.5 .1l.5-.2l.5-.5l.5 .1l2 .2l2 .3l2-.1l2 .3l2-.3l2 .2l2-.2l2-.4l2-.1l.5 0l.5 .4l.5 0l.5-.1l.5-.2l.5 0l.5 .5l.5 0l.5-.2l.5-.2l.5 .3l.5-.4l.5-.2l.5 .6l.5-.7l.5 .2l.5 .3l.5-.1l.5 .2l.5-.3l.5 0l2 0l2 0l2 .1l2-.1l.5 .7l.5-.1l.5-.9l.5 .7l.5-.6l.5 .3l.5 .1l.5-.6l.5 .1l.5-.2l.5 .3l.5-.3l.5 .7l.5-.1l.5-.5l.5 .1l.5 .7l.5-.6l.5-.1l.5 .8l.5-.8l.5 .7l.5-.2l2 .2l2 0l2 0l2-.1l2 .1l.5-.3l.5 .1l.5 .2l.5 0l.5-.3l.5-.2l.5 .2l.5-.4l.5 .4l.5 .3l.5-.1l.5-.7l.5 0l.5 .3l.5 .5l.5-.5l.5 0l.5-.3l.5 .3l.5 .5l.5-.7l.5 .5l.5 0l.5-.2l.5 .4l.5-.6l.5-.1l.5 .2l.5-.1l.5 .4l.5 .2l.5 .1l.5-.4l.5 .2l.5-.3l2 .2l.5-.4l.5 .4l.5 0l.5-1l.5 .7l.5-1l.5 .8l.5-.7l.5-.4l.5 0l.5 .2l.5 .6l.5-.4l.5 .2l.5-.3l.5 .7l.5-.4l.5 .1l.5 .9l.5-.3l.5 .5l.5-.8l.5 0l.5 .3l.5-.3l.5 .9l.5-.5l.5-.3l.5 .3l.5-.2l.5 .8l.5-.8l.5 .6l.5-.7l.5-1.3l.5 1.2l.5 .8l.5-.3l2 .4l2-.2l2 .1l.5 .1l.5 0l.5-1.3l.5-1.8l.5 1.6l.5 1.2l.5-.2l2-.1l2 .4l.5-.2l.5 0l.5-.1l.5 .6l.5-.7l.5-.2l.5 .3l.5 .3l.5 .1l.5 .1l.5-.6l2 .4l2-.2l2 0l2 .1l2 0l2 .4l.5-.2l.5 0l.5 0l.5 .1l.5 0l2-.2l2 .1l2-.1l2 .4l.5-.1l.5-.9l.5-1.3l.5 1.2l.5 .9l.5 .1l2 .1l.5-.2l.5 .2l.5-.1l.5 .1l.5-.3l.5 .2l.5 0l.5 .1l2-.1l2-.1l2 0l2 .1l2-.1l2 .2l2 0l2 .1l2-.2l2 0l.5 .1l.5-.3l.5 .2l.5-.1l.5 .2l2-.1l2 0l2-.1l2-.2l2 0l2 .1l2 .1l2 .2l.5-.4l.5-.9l.5 .8l.5 .4l.5 .1l2-.1l2 .2l2-.2l2-.1l2 .1l2 0l2 .2l2-.3l2 .3l2-.1l2 0l.5 0l.5-.3l.5 .1l.5 .2l.5 0l2-.1l2 .1l2 0l2-.1l2 .2l2 .1l2-.1l2 0l2 0l2 .1l2-.1l2 0l2-.1l2 0l2 .2l.5-.1l.5 0l.5-.4l.5 .4l.5 .1l.5-.2l2 .2l2 0l2 0l2-.2l2 .1l2 0l2-.1l2 .1l2 .1l2-.1l2 0l2 0l2 0l2 .1l2-.1l2 0l2 0l2 .1l2 0l2-.1l2 .1l2-.1l2-.1l2 .1l2 0l2 0l2 .1l2-.2l2 .1l.5 0l.5 0l.5-.4l.5 .4l.5 .1l.5-.2l2 0l2 .2l2-.1l2 0l2 .1l2 0l2-.1l2-.1l2 .1l2 0l2 0l2 0l2-.1l2 .2l2-.1l2 0l2 .1l2-.2l2 0l2 .2l2-.1l2 .1l2 0l2 0l2-.1l2 .1l2-.1l2 0l2 0l2 .1l2-.1l2 0l2 0l2-.1l2 .1l2 .1l2 0l2 0l.5-.1l.5-.2l.5-.7l.5 .6l.5 .4l.5 0l2-.2l2 0l2 .2l2-.2l2 .2l.5-.1l.5-.1l.5 .1l.5-.4l.5 .4l.5-.1l.5 .1l2 0l2 0l2 0l2 0l2 0l2 0l2 0l2 .1l2-.1l2 .1l2-.1l2-.1l2 .1l2-.1l.5 .1l.5-.4l.5 .3l.5 0l.5 .1l2 0l2-.1l2 .2l2-.1l2 0l2 0l2 .1l2 0l2 0l2-.1l2 .1l.5-.2l.5 .1l.5 0l.5-.2l.5-.7l.5 .6l.5 .4l.5 0l2 0l2-.1l2-.1l2 .2l2 0l2-.1l0 1.2l-2 0l-2 0l-2 0l-2 0l-2 0l-2 .1l-.5-.2l-.5 .4l-.5 .6l-.5-.7l-.5-.2l-.5 0l-.5 0l-.5 .1l-2 0l-2-.2l-2 0l-2 .1l-2-.1l-2 0l-2 0l-2 .1l-2-.1l-2 0l-2 .1l-.5 0l-.5 0l-.5 .4l-.5-.3l-.5-.1l-2-.1l-2 .1l-2 0l-2-.1l-2 .1l-2 0l-2-.1l-2 0l-2 .1l-2 0l-2 0l-2 .1l-2-.1l-2-.1l-.5 .1l-.5 0l-.5 .4l-.5-.4l-.5 .1l-.5 0l-.5-.1l-2 0l-2-.1l-2 0l-2 .2l-2-.1l-.5 0l-.5 .3l-.5 .6l-.5-.7l-.5-.3l-.5 0l-2 0l-2 .2l-2-.2l-2 .2l-2-.1l-2-.1l-2 .1l-2 0l-2 .1l-2-.1l-2-.1l-2 .1l-2 0l-2 0l-2 .1l-2-.1l-2 .1l-2-.1l-2-.1l-2 0l-2 .1l-2 .1l-2-.1l-2 .1l-2-.2l-2 .1l-2-.1l-2 .1l-2 0l-2-.1l-2 0l-2 .1l-2-.1l-2 0l-2 .1l-2 0l-2 0l-2-.1l-.5 0l-.5 .1l-.5 .4l-.5-.4l-.5 0l-.5 .1l-2-.1l-2-.1l-2 .1l-2 0l-2 .1l-2-.2l-2 0l-2 0l-2 .1l-2 0l-2-.1l-2 0l-2 0l-2 .1l-2-.1l-2 0l-2 0l-2 .1l-2 0l-2 0l-2 0l-2 0l-2 0l-2 0l-2-.1l-2 .1l-2 0l-2-.1l-2 .1l-.5-.1l-.5 .1l-.5 .4l-.5-.4l-.5 .1l-.5 0l-2-.2l-2 0l-2 .2l-2-.2l-2 .1l-2 .1l-2 0l-2-.1l-2 0l-2 0l-2 .1l-2 0l-2 .1l-2 0l-2 0l-.5 .1l-.5-.2l-.5 .3l-.5-.4l-.5 .3l-2-.1l-2-.1l-2 0l-2 .1l-2 0l-2 0l-2 0l-2 .1l-2-.2l-2 .1l-2-.1l-.5 .2l-.5 .3l-.5 .8l-.5-.9l-.5-.3l-2 0l-2 0l-2 .2l-2-.1l-2 .2l-2-.1l-2-.1l-2-.1l-.5 0l-.5 0l-.5 .2l-.5-.2l-.5 .1l-2-.1l-2-.1l-2 0l-2 0l-2 0l-2 .2l-2-.1l-2 0l-2 0l-2 0l-.5 .1l-.5-.1l-.5 .2l-.5-.3l-.5 0l-.5 .2l-.5-.2l-.5 .1l-2-.1l-.5 .2l-.5 .9l-.5 1.2l-.5-1.3l-.5-1l-.5 .1l-2 .2l-2 0l-2 0l-2-.1l-.5-.1l-.5 0l-.5 .2l-.5-.1l-.5 .1l-2 0l-2 .3l-2-.1l-2 .1l-2 .1l-2-.2l-.5-.4l-.5 .3l-.5-.2l-.5 .7l-.5 0l-.5-.3l-.5-.4l-.5 .2l-.5 .4l-.5-.6l-.5 .1l-2 .5l-2-.5l-.5 .2l-.5 1.2l-.5 1.6l-.5-1.8l-.5-1.2l-.5 .2l-.5-.2l-2 .1l-2-.1l-2 .1l-.5-.1l-.5 .8l-.5 1.2l-.5-1.3l-.5-.4l-.5 .2l-.5-.6l-.5 .4l-.5 .3l-.5-.4l-.5 .3l-.5 .4l-.5-.5l-.5-.3l-.5 .3l-.5-.1l-.5 .2l-.5 .3l-.5-.3l-.5 .5l-.5-.2l-.5 .2l-.5-.1l-.5-.5l-.5 .2l-.5-.2l-.5 1l-.5-.2l-.5 .1l-.5 .3l-.5-1.1l-.5 .2l-.5-.2l-.5 .1l-.5 .4l-.5-.8l-.5 .7l-.5-.3l-2-.3l-.5 .1l-.5-.2l-.5-.1l-.5-.2l-.5 .3l-.5 .5l-.5-.1l-.5 .1l-.5-.7l-.5 .8l-.5-.6l-.5-.1l-.5 .4l-.5-.1l-.5 0l-.5-.5l-.5 .1l-.5 .5l-.5-.3l-.5-.2l-.5 .2l-.5 .1l-.5 .6l-.5-.6l-.5 .2l-.5-.1l-.5 .5l-.5-.9l-.5 .3l-.5 .4l-.5-.4l-.5 .2l-.5 .2l-.5-.1l-.5-.5l-2 .2l-2-.5l-2 .1l-2 .1l-2 .4l-.5 .1l-.5 .2l-.5-.1l-.5-.5l-.5 0l-.5 .1l-.5-.3l-.5 .6l-.5-.4l-.5 .1l-.5 .4l-.5 .3l-.5-.4l-.5 .3l-.5-.7l-.5 .3l-.5 .5l-.5-.4l-.5-.1l-.5 .3l-.5-.8l-.5 .1l-.5 .3l-2 0l-2 .1l-2 0l-2-.1l-.5 .2l-.5-.5l-.5 .6l-.5-.5l-.5 .2l-.5 .1l-.5-.2l-.5 .5l-.5-.6l-.5 0l-.5-.2l-.5 .8l-.5-.2l-.5-.4l-.5 .2l-.5-.3l-.5-.1l-.5 .8l-.5-.4l-.5 .1l-.5-.1l-2 0l-2-.2l-2-.3l-2 .1l-2-.1l-2 .2l-2 0l-2 .4l-2 .1l-.5-.1l-.5 .1l-.5-.5l-.5 0l-.5 .2l-.5 .4l-.5-.4l-.5 .4l-.5-.6l-.5 .4l-.5 0l-2-.2l-2 .2l-2-.4l-2 .1l-2 .2l-.5 .1l-.5 .2l-.5-.1l-.5 .2l-.5-.7l-.5 .3l-.5 0l-.5 0l-.5 .5l-.5-.9l-.5 .8l-.5 .2l-.5-.5l-.5 .5l-.5-.1l-.5-.1l-.5-.8l-.5 .5l-.5 .4l-.5-.5l-.5-.2l-.5 .3l-.5-.5l-.5 .5l-2-.2l-2 .1l-2-.1l-2 .2l-2 0l-.5-.5l-.5 .4l-.5-.4l-.5-.1l-.5 .9l-.5-.1l-.5-.2l-.5 .3l-.5-.6l-.5-.2l-.5 .3l-.5 .6l-.5 .1l-.5-.9l-.5 0l-.5 .8l-.5-.4l-.5 .3l-.5-.7l-.5 .4l-.5 .5l-.5-.5l-.5-.3l-.5 .2l-.5 .1l-.5 .5l-.5-.8l-.5-.2l-.5 .5l-.5-.3l-.5-.1l-.5 .2l-.5 .2l-.5 0l-.5 .3l-.5 .1l-.5-.3l-.5-.3l-.5 0l-.5-.2l-.5 0l-.5 0l-.5 .1l-.5 0l-2 .1l-.5 .2l-.5-.3l-.5-.2l-.5 .9l-.5-.5l-.5 .1l-.5 0l-.5 .5l-.5-.8l-.5 .3l-.5 .4l-.5-.5l-.5 .2l-.5-.3l-.5 .4l-.5 .3l-.5-1l-.5 .7l-.5 .1l-.5-.8l-.5 .4l-.5 .1l-.5 0l-.5-.2l-.5 0l-.5 1.2l-.5 1.6l-.5-1.8l-.5-.8l-.5-.4l-.5 .1l-.5 .2l-2-.2l-2 0l-2 .1l-2-.1l-2 0l-2 .1l-2 0l-2 0l-.5 .2l-.5-.5l-.5 .5l-.5-.3l-.5-.1l-.5 .2l-.5 .2l-.5 .9l-.5-.3l-.5-.2l-.5 0l-.5-.7l-.5 1l-.5-.6l-.5-.4l-.5 .4l-.5 .7l-.5-.9l-.5 .2l-.5 .3l-.5 .3l-.5 .1l-.5 0l-.5-.1l-.5-.5l-.5 1.2l-.5-1.3l-.5 .7l-.5 .8l-.5 1l-.5-1.6l-.5-.6l-.5 .9l-.5 .2l-.5-1.1l-.5 .5l-.5 0l-.5 .2l-.5 1.2l-.5-1.7l-.5 .2l-.5-.5l-.5 .6l-.5 .7l-.5-1.2l-.5 1.6l-.5-1.7l-.5 .4l-.5 .5l-.5-.2l-.5 .4l-.5-1l-.5-.2l-.5 0l-.5 .7l-.5-.3l-.5-.7l-.5 0l-.5 1l-.5-.7l-.5-.3l-.5 .7l-.5 .6l-.5-.4l-.5-.5l-.5-.1l-.5-.4l-.5 1l-.5-.5l-.5 .6l-.5-.2l-.5 .6l-.5 .2l-.5-.7l-.5 .5l-.5 .1l-.5 .6l-.5-1.2l-.5 .2l-.5 1l-.5 .4l-.5-.9l-.5-.4l-.5 .4l-.5 1l-.5-1.6l-.5 1.6l-.5-1.2l-.5-.1l-.5-.2l-.5 0l-.5-.1l-.5 0l-.5-.7l-.5 .5l-.5 .2l-.5-.2l-.5-.7l-.5 .2l-.5 .5l-.5-.5l-.5-.2l-.5 0l-.5 .1l-.5-.2l-.5 .5l-.5 .2l-.5-.1l-.5-.9l-.5 .1l-.5 .6l-.5-.3l-.5 .9l-.5-.1l-.5-.6l-.5 1l-.5-1.2l-.5 1.1l-.5-1.1l-.5 0l-.5 .6l-.5 .2l-.5-.3l-.5 .7l-.5-.1l-.5-.1l-.5-.8l-.5 .4l-.5 1.6l-.5-1.6l-.5-.2l-.5 1.9l-.5-1.2l-.5 1.8l-.5-.3l-.5-.3l-.5-1.2l-.5 1l-.5-.3l-.5-.9l-.5 2l-.5-.6l-.5-1.1l-.5 1.9l-.5-2.2l-.5 1.7l-.5 .9l-.5-.7l-.5-.8l-.5-.9l-.5 .2l-.5-.6l-.5 .6l-.5 .4l-.5 .3l-.5-1.6l-.5 .3l-.5 0l-.5-.2l-.5 .1l-.5 .5l-.5 .4l-.5 0l-.5-.3l-.5-.3l-.5-.5l-.5-.3l-.5 .6l-.5 1l-.5-.5l-.5-.4l-.5 1l-.5-.8l-.5-.1l-.5 1.7l-.5-1.6l-.5 1.6l-.5-1.6l-.5 1.8l-.5 0l-.5-1l-.5 1.2l-.5-.9l-.5 .8l-.5-1.7l-.5 1.4l-.5-.9l-.5-.4l-.5-.8l-.5-.2l-.5-.3l-.5-.2l-.5 0l-.5 .2l-.5 0l-.5 0l-.5-.4l-.5 .6l-.5 0l-.5 .7l-.5 0l-.5 .6l-.5-.3l-.5 .7l-.5 .2l-.5-.7l-.5 1.6l-.5-.7l-.5 .1l-.5 .2l-.5-.1l-.5-.3l-.5 .2l-.5-.4l-.5-1.3l-.5 .7l-.5 .7l-.5-.6l-.5 .4l-.5-.7l-.5 1.6l-.5 4.2l-.5 5.6l-.5-6.3l-.5-4.8l-.5-.6l-.5-.7l-.5 1.3l-.5-1.3l-.5 1.5l-.5-1.5l-.5 1.1l-.5 0l-.5 .3l-.5-1.5l-.5 1.3l-.5-.6l-.5 .5l-.5-1.3l-.5 .9l-.5-.2l-.5 0l-.5-.6l-.5 .1l-.5 .1l-.5-.3l-.5-.4l-.5 .9l-.5-.7l-.5 .9l-.5-.3l-.5 0l-.5 .3l-.5-.6l-.5-.2l-.5 .1l-.5 .6l-.5-.6l-.5 0l-.5 1l-.5-.4l-.5-.7l-.5 .1l-.5 .7l-.5-.3l-.5-.3l-.5-.3l-.5 .8l-.5-.8l-.5 .5l-.5 0l-.5-.6l-.5 .2l-.5 0l-.5-.4l-.5 .5l-2-.3l-2 .1l-2 0l-2-.1l-2 .3l-.5 0l-.5-.1l-.5-.3l-.5 .7l-.5-.6l-.5 .5l-.5-.4l-.5 0l-.5 .6l-.5-.1l-.5 .1l-.5-.6l-.5 .9l-.5-.5l-.5-.5l-.5 1.2l-.5-1.1l-.5 .8l-.5-.2l-.5 .6l-.5 0l-.5-.3l-.5 .1l-.5-.2l-.5 .5l-.5-.5l-.5 0l-.5 .9l-.5-1.3l-.5 .6l-.5-.6l-.5 1.1l-.5-1.2l-.5 1.1l-.5-.6l-.5 0l-.5-.1l-.5 .4l-.5-1.1l-.5 .4l-.5 .5l-.5-1.1l-.5 .5l-.5 .5l-.5 0l-.5 .2l-.5-.4l-.5-.4l-.5 1l-.5-.3l-.5-.6l-.5 .2l-.5-.1l-.5 1.4l-.5-1l-.5 1.2l-.5 1.2l-.5-.5l-.5-.1l-.5 2.5l-.5-2.8l-.5-.4l-.5 .7l-.5 .6l-.5 .2l-.5-.7l-.5-.9l-.5 1.8l-.5-.9l-.5 0l-.5 .8l-.5-.9l-.5-1.3l-.5 1.9l-.5-.6l-.5-.2l-.5 2.4l-.5-2.2l-.5-1.4l-.5 1.1l-.5-.6l-.5-.9l-.5 1.9l-.5-.3l-.5-.5l-.5 .1l-.5-1.2l-.5 0l-.5 1.6l-.5 2.4l-.5-1.6l-.5-1.2l-.5 .6l-.5-.2l-.5-.8l-.5 1.7l-.5-.7l-.5-.1l-.5 .6l-.5 .9l-.5 2.6l-.5 5.2l-.5-5.8l-.5-3.6l-.5 .3l-.5-.5l-.5 1l-.5-1.9l-.5 2.4l-.5-2.1l-.5 1.5l-.5-1.3l-.5 .5l-.5 1.1l-.5-.7l-.5 3.9l-.5 5.2l-.5-5.8l-.5-4.3l-.5 1l-.5-1.3l-.5-.1l-.5 1.5l-.5-.9l-.5-1l-.5 1.7l-.5-1.6l-.5 .7l-.5 1.6l-.5 .1l-.5 3.2l-.5 5.2l-.5-5.8l-.5-2.3l-.5 .2l-.5 .3l-.5-1.8l-.5 1.5l-.5 .1l-.5-.4l-.5-.1l-.5 2.1l-.5-.5l-.5 .4l-.5-3.1l-.5 .7l-.5 1.3l-.5-1.1l-.5 .5l-.5 1.4l-.5-2.6l-.5 .8l-.5 2l-.5-1.8l-.5 .9l-.5-1.3l-.5 0l-.5 1l-.5 .4l-.5-1.7l-.5 3.6l-.5-1.1l-.5 2.6l-.5-2.6l-.5 3.4l-.5-3.9l-.5 4.6l-.5-3.6l-.5 3.2l-.5-1.2l-.5-1l-.5-1.4l-.5 1.6l-.5-4.5l-.5 .7l-.5-1l-.5 8.2l-.5 11.7l-.5 15.6l-.5-17.6l-.5-17.5l-.5-1l-.5 1.4l-.5-.9l-.5 .5l-.5 .5l-.5 .6l-.5 .2l-.5 2l-.5 4.8l-.5-5.4l-.5-1.9l-.5-1l-.5-.6l-.5-.6l-.5 1.3l-.5-1.1l-.5 2l-.5-.4l-.5 1.7l-.5 6l-.5 8l-.5-9l-.5-8.8l-.5 .8l-.5 .9l-.5-.4l-.5 1.4l-.5-.7l-.5 2.7l-.5-1.7l-.5 3l-.5-2.4l-.5 1.5l-.5 1.7l-.5-.5l-.5-2.1l-.5 3.5l-.5-5.6l-.5 2.3l-.5 .9l-.5-2.2l-.5-1.6l-.5 .6l-.5-1.3l-.5 .9l-.5 .6l-.5-1.1l-.5 2.7l-.5-1.6l-.5 4.5l-.5 6l-.5-6.8l-.5-2.3l-.5-1.2l-.5-1.2l-.5 0l-.5 2.9l-.5-2.2l-.5-.6l-.5-.4l-.5 1.7l-.5-1.7l-.5 .3l-.5 .3l-.5 1.9l-.5-2l-.5 .6l-.5-.9l-.5 .9l-.5 .9l-.5-2l-.5-.6l-.5 2.3l-.5-.1l-.5-1.7l-.5 1.3l-.5-.9l-.5 .1l-.5-.4l-.5 .2l-.5-.1l-.5 .6l-.5 .9l-.5-1.8l-.5-.5l-.5 .2l-.5 .9l-.5-.5l-.5 .6l-.5-1.1l-.5 1.7l-.5 0l-.5 1.1l-.5 0l-.5-1.3l-.5-.6l-.5 1.7l-.5-.1l-.5 2.1l-.5 4.8l-.5-5.4l-.5-3.5l-.5 2.1l-.5-.6l-.5-1.7l-.5 .5l-.5 0l-.5 .3l-.5 .2l-.5-.9l-.5-1l-.5 1.5l-.5-.3l-.5-.9l-.5-.4l-.5-.6l-2-.4l-2 0l-2 .1l-2 .3l-2-.2l-.5 .5l-.5-.6l-.5 .5l-.5 0l-.5-.2l-.5 .1l-.5 .2l-.5-.6l-.5 .7l-.5 0l-.5-.8l-.5 .7l-.5-.6l-.5 0l-.5 .1l-.5 .6l-.5-.6l-.5 .4l-.5 .1l-.5-.7l-.5 .1l-.5 0l-.5 .4l-2-.1l-2 .1l-2-.1l-2 0l-.5-.3l-.5 .4l-.5-.1l-.5-.5l-.5 .5l-.5-.1l-.5-.3l-.5 .8l-.5-.7l-.5 .3l-.5 .3l-.5-.3l-.5-.2l-.5 .2l-.5-.1l-.5 .5l-.5 .1l-.5 .1l-.5-.3l-.5-.1l-.5 .5l-.5-1l-.5 .8l-.5 0l-.5-.3l-.5-.3l-.5-.2l-.5 .4l-.5 .4l-.5-.9l-.5 1l-.5-.3l-.5 0l-.5 0l-.5-.8l-.5 .1l-.5 0l-.5 0l-2 .1l-2 .2l-2-.1l-2 .2l-.5 0l-.5-.5l-.5 0l-.5 .9l-.5-.2l-.5 .1l-.5-.3l-.5 .3l-.5-.6l-.5 0l-.5 .4l-.5-.1l-.5-.2l-.5 .1l-.5 .1l-.5 .1l-.5 .9l-.5-.7l-.5 .8l-.5-.8l-.5 1.2l-.5 0l-.5-.3l-.5 .7l-.5-1.1l-.5 1.2l-.5 .2l-.5-1.5l-.5 2.1l-.5-1.1l-.5-.1l-.5 1.2l-.5 .1l-.5-2.1l-.5 1.8l-.5-.6l-.5-1l-.5 0l-.5 .4l-.5 1.1l-.5 3.4l-.5 4.8l-.5-5.4l-.5-2.7l-.5-1.9l-.5 .9l-.5 .1l-.5 .7l-.5-1.7l-.5 1.8l-.5-1.8l-.5 1.2l-.5-.2l-.5-1l-.5 .5l-.5-.3l-.5 1.3l-.5 .2l-.5 .5l-.5 4.2l-.5 5.6l-.5-6.3l-.5-6.3l-.5-.1l-.5 .7l-.5-.3l-.5-.4l-.5 .8l-.5-.8l-.5 .1l-.5 .5l-.5-.6l-.5 .3l-.5-.5l-.5 1.3l-.5-.1l-.5 .1l-.5-.8l-.5 .2l-.5 .4l-.5 .5l-.5-.1l-.5 1.3l-.5 .7l-.5-1.8l-.5 1.8l-.5 .3l-.5-.4l-.5-1.2l-.5-1.1l-.5 1.3l-.5 0l-.5-1.8l-.5 1.4l-.5-1.2l-.5-.4l-.5 1l-.5 .6l-.5 .1l-.5-1l-.5-.5l-.5 .2l-.5 .9l-.5-.5l-.5-.2l-.5-.5l-.5 .8l-.5-.6l-.5 .8l-.5 .5l-.5-1.3l-.5 .3l-.5 .1l-.5 .3l-.5 1.1l-.5 .7l-.5-.3l-.5-.1l-.5 .4l-.5-.6l-.5 .8l-.5-1.4l-.5 1.5l-.5-1.6l-.5 1.8l-.5-1.2l-.5-1.4l-.5 1.3l-.5-1.4l-.5-.1l-.5 .7l-.5 .4l-.5 0l-.5-.4l-.5 1.1l-.5-.6l-.5 .2l-.5-1.1l-.5 1.3l-.5-.7l-.5-.4l-.5 .2l-.5 .1l-.5 .6l-.5 0l-.5 .3l-.5-.2l-.5-.3l-.5-.4l-.5-1.2l-.5 1.2l-.5-.2l-.5-.4l-.5-.2l-.5 .2l-.5 1.2l-.5-.6l-.5 1.1l-.5-1.2l-.5 .5l-.5-.1l-.5 .5l-.5-.7l-.5-.1l-.5-.3l-.5 1.9l-.5-1.9l-.5-.2l-.5 .3l-.5 .2l-.5-.6l-.5-.2l-.5 .1l-.5 .6l-.5 0l-.5-.6l-.5 .7l-.5-.9l-.5 1l-.5-.5l-.5 0l-.5-.1l-.5-.8l-.5 1.6l-.5-1.6l-.5 1.2l-.5 .2l-.5-1.5l-.5 1.2l-.5-.3l-.5-.7l-.5 .1l-.5-.2l-.5 1.2l-.5-.4l-.5 .3l-.5-.9l-.5 .7l-.5-.4l-.5 .5l-.5-.6l-.5-.6l-.5 1.1l-.5 .6l-.5 2l-.5-2.2l-.5-1.6l-.5 .2l-.5 1.2l-.5 0l-.5-1.2l-.5 .3l-.5 .7l-.5 .3l-.5 0l-.5 .6l-.5-.4l-.5 .5l-.5-.9l-.5 1.2l-.5-1.2l-.5-.3l-.5-.3l-.5 .4l-.5 .2l-.5 .2l-.5-.3l-.5 .1l-.5-.4l-.5 .1l-.5 1.8l-.5-1l-.5-.3l-.5-.4l-.5 0l-.5-.3l-.5 .6l-.5-.5l-.5 0l-.5 .8l-.5 .2l-.5-1.3l-.5 .9l-.5 .3l-.5 .1l-.5-1.4l-.5 0l-.5 .7l-.5 .5l-.5-1.1l-.5 .5l-.5 .2l-.5 0l-.5 .7l-.5 1.6l-.5-.8l-.5 0l-.5 .6l-.5-.5l-.5 .3l-.5 1.3l-.5-3l-.5 2.4l-.5-2.1l-.5 .8l-.5-.5l-.5-.5l-.5-1.2l-.5 .5l-.5-.3l-.5 1.4l-.5 1.3l-.5 4.5l-.5 6l-.5-6.8l-.5-6.2l-.5 .8l-.5-.7l-.5 .2l-.5-.8l-.5 1l-.5 .2l-.5-.4l-.5 .3l-.5 .1l-.5 .2l-.5 .7l-.5 1.1l-.5-.6l-.5 .2l-.5 0l-.5-1.3l-.5 1.4l-.5-.5l-.5-2.1l-.5 1.1l-.5-.7l-.5-.2l-.5 .2l-.5 .1l-.5-.6l-.5 1l-.5-.9l-.5 .8l-.5 .1l-.5 .1l-.5-1.3l-.5 1.7l-.5 0l-.5-.1l-.5-1l-.5 1.6l-.5 1.1l-.5-.4l-.5 .7l-.5-2.3l-.5 .4l-.5 2.7l-.5-2.5l-.5 1.9l-.5-.4l-.5-2.3l-.5 1.2l-.5-1.9l-.5 1.2l-.5 .2l-.5-.2l-.5 .4l-.5 0l-.5-.4l-.5-1.4l-.5 1.1l-.5-.9l-.5-.2l-.5-.2l-.5 1.6l-.5-.5l-.5 .4l-.5-1.3l-.5 .2l-.5 0l-.5 .9l-.5 .2l-.5-.1l-.5-.6l-.5 0l-.5 .8l-.5-1l-.5 .7l-.5-.5l-.5-.6l-.5 1.2l-.5-.1l-.5-.4l-.5 .9l-.5 .3l-.5 2.4l-.5-2.7l-.5-.3l-.5-.6l-.5 .1l-.5-.4l-.5-.4l-.5 .5l-.5 .8l-.5 0l-.5-.1l-.5-.5l-.5-.3l-.5 .1l-.5-.1l-.5 .1l-.5-.1l-.5-.7l-.5 .5l-.5 .6l-.5-.5l-.5 .6l-.5-.7l-.5 .8l-.5-.9l-.5-.4l-.5 .1l-.5 .7l-.5-.8l-.5 .6l-.5-.1l-.5-.2l-.5 .4l-.5-.3l-.5 .4l-.5-1l-.5 .4l-.5 .6l-.5 .3l-.5 .1l-.5-.9l-.5 .3l-.5-.4l-.5 .2l-.5 .8l-.5 0l-.5-.4l-.5 .1l-.5-.5l-.5 .2l-.5 .3l-.5-.5l-.5 1l-.5 1.8l-.5 2.6l-.5 4.8l-.5-5.4l-.5-2.9l-.5-.3l-.5-1.4l-.5 1l-.5-.1l-.5-.7l-.5 1.2l-.5-1.6l-.5 0l-.5 .8l-.5 .5l-.5-1.4l-.5 .8l-.5-.4l-.5 .1l-.5 .4l-.5-.6l-.5 .1l-.5-.6l-.5 1l-.5 .2l-.5 0l-.5-.4l-.5 0l-.5-.6l-.5 .1l-.5 1.2l-.5 .3l-.5 .1l-.5-1l-.5 .5l-.5-1.2l-.5 .8l-.5-.8l-.5 .5l-.5-1l-.5 .6l-.5 .2l-.5-.5l-.5-.2l-.5 .7l-.5-.2l-.5-.2l-.5 .8l-.5 1.6l-.5-1.8l-.5-.7l-.5-.6l-.5-.1l-.5 .4l-.5-.2l-2 .4l-2-.1l-2-.2l-2 0l-2 .2l-.5 .3l-.5 .1l-.5-.8l-.5 .7l-.5 .2l-.5 0l-.5 1.2l-.5-1.2l-.5-.2l-.5 0l-.5 .3l-.5-.8l-.5 .5l-.5 .4l-.5 0l-.5-.4l-.5 .6l-.5-.5l-.5-.2l-.5 .3l-.5-.3l-.5-.4l-.5 .5l-.5 .2l-.5 1.2l-.5-1.1l-.5-.5l-.5 .3l-.5-.7l-.5 0l-.5 .6l-.5-.1l-.5 .4l-.5-.2l-.5 .1l-.5-.4l-.5 .1l-.5-.4l-.5 .1l-.5 .1l-.5 .3l-.5 .2l-.5-.1l-.5-.4l-.5 0l-.5 .9l-.5-.9l-.5 .1l-.5 .8l-.5-.8l-.5 .2l-.5-.2l-.5-.1l-.5 .7l-.5-.4l-.5 0l-.5 .2l-.5 .5l-.5-1.1l-.5 1.1l-.5-.8l-.5 .5l-.5 0l-.5 0l-.5-.5l-.5 .2l-.5-.5l-.5 .8l-.5-.9l-.5 .6l-.5-.1l-.5-.6l-.5 0l-.5 .4l-2-.4l-2 .4l-2 0l-2 .1l-.5-.1l-.5-.5l-.5 .2l-.5 .1l-.5-.2l-.5 .5l-.5-.6l-.5 .4l-.5 .2l-.5-.5l-.5 .8l-.5-.6l-.5 .4l-.5 .3l-.5-.8l-.5 .3l-.5 .4l-.5-.6l-.5 .6l-.5-.5l-.5 .1l-.5 .1l-.5-.6l-.5 .6l-.5-.7l-.5 .5l-.5-.3l-.5-.1l-.5-.1l-.5 .5l-.5 0l-.5-.1l-.5-.1l-.5 .4l-.5-.2l-.5 .5l-.5-.4l-.5-.1l-.5 .1l-.5 .7l-.5-.6l-.5 .3l-.5-.5l-.5 1l-.5-1l-.5 1l-.5-.3l-.5 0l-.5-.2l-.5 .7l-.5-.6l-.5 .4l-.5-.9l-.5 .9l-.5-.8l-.5 .1l-.5-.3l-.5 .2l-.5-.1l-.5-.2l-.5 .1l-.5 .3l-.5-.2l-.5 .6l-.5-.7l-.5 .2l-.5 .6l-.5-.8l-.5 .4l-.5 .1l-.5-.4l-.5 .3l-.5-.1l-.5 .1l-.5-.2l-.5 .1l-.5-.1l-.5-.1l-.5-.5l-.5 .4l-.5 .4l-.5-.2l-.5-.1l-.5-.4l-.5 .3l-.5 0l-.5 .2l-.5-.2l-.5 0l-.5 .5l-.5 1.2l-.5-1.1l-.5 .2l-.5 .1l-.5-.8l-.5 .7l-.5-.3l-.5 .5l-.5-.1l-.5-.6l-.5 .4l-.5-.7l-.5 1l-.5-.3l-.5 .2l-.5-.5l-.5-.4l-.5 .7l-.5-.1l-.5-.1l-.5 .2l-.5-.1l-.5-.6l-.5 1.1l-.5-.6l-.5 .9l-.5-.3l-.5-.3l-.5-.2l-.5 .3l-.5-.7l-.5 .3l-.5 .2l-.5-.3l-.5-.2l-.5 .2l-.5 .1l-.5 1.8l-.5 2.4l-.5-2.7l-.5-1.7l-.5 .4l-.5 .1l-.5-.7l-.5-.1l-.5 0l-.5 0l-.5 .3l-.5 .1l-.5 .5l-.5 .7l-.5-.4l-.5-.2l-.5-.4l-.5 0l-.5 0l-.5 .1l-.5-.1l-.5-.4l-.5 .6l-.5-.1l-.5 .4l-.5 .6l-.5-.3l-.5-.9l-.5 .7l-.5 0l-.5-.7l-.5 .8l-.5-.9l-.5-.4l-.5 1.1l-.5 0l-.5-.7l-.5 .4l-.5-.9l-.5 1l-.5-.7l-.5 .5l-.5-1l-.5 .3l-.5 0l-.5 .5l-.5-.8l-.5 .1l-.5 .7l-.5-.2l-.5-.1l-.5-.4l-.5 1l-.5 .1l-.5-.9l-.5 .8l-.5-.1l-.5 .4l-.5-1l-.5 .1l-.5 0l-.5 .6l-.5 2.1l-.5 2.8l-.5-3.2l-.5-1.7l-.5-.1l-.5-.6l-.5 .3l-.5-.3l-.5 0l-.5 .1l-.5 .3l-.5-.6l-.5-.1l-.5 0l-.5 0l-.5 0l-.5-.3l-.5 .7l-.5-.4l-.5 .9l-.5-.9l-.5 .4l-.5 .9l-.5 0l-.5-1l-.5 .5l-.5 .5l-.5-.1l-.5-.7l-.5 0l-.5 1l-.5-.9l-.5 0l-.5-.3l-.5-.3l-.5 .8l-.5 .3l-.5-.6l-.5 1l-.5-.8l-.5 0l-.5-.4l-.5 1l-.5-.3l-.5-.5l-.5 1l-.5-.4l-.5-.2l-.5-.5l-.5-.1l-.5 .5l-.5 .4l-.5-.9l-.5 .9l-.5 .5l-.5-.7l-.5 .3l-.5-.4l-.5-.5l-.5 .9l-.5 .2l-.5-.8l-.5 .5l-.5-.3l-.5 .3l-.5-.3l-.5-.6l-.5 .1l-.5 1l-.5-.6l-.5 .5l-.5 .4l-.5-.9l-.5-.2l-.5 .4l-.5 .7l-.5-.1l-.5-.6l-.5 .4l-.5-.7l-.5 .3l-.5 .5l-.5-.3l-.5 0l-.5-.9l-.5 .7l-.5-.6l-.5 1.2l-.5-.6l-.5 0l-.5 0l-.5 2.1l-.5 2.8l-.5-3.2l-.5-2l-.5-.7l-.5 .6l-.5 0l-.5 .4l-.5-.5l-.5-.1l-.5 .4l-.5-.4l-.5-.5l-.5-.1l-.5 .5l-.5 0l-.5 0l-.5-.4l-.5 .5l-.5-.7l-.5 .8l-.5-.1l-.5-.3l-.5 .2l-.5-.6l-.5 0l-.5 .9l-.5-.3l-.5 .5l-.5-.4l-.5-.3l-.5 .4l-.5 .2l-.5 0l-.5 .5l-.5-.4l-.5-.5l-.5 1l-.5 .4l-.5-1.4l-.5 .7l-.5 0l-.5 0l-.5 .4l-.5-.7l-.5 0l-.5 .8l-.5-1.2l-.5 .2l-.5 .5l-.5-.1l-.5 .6l-.5-.8l-.5 .1l-.5-.7l-.5 .5l-.5 .1l-.5 .6l-.5-.6l-.5 .1l-.5-.1l-.5-.6l-.5 1.1l-.5-.8l-.5-.3l-.5 .8l-.5-.6l-.5 .9l-.5-1l-.5 0l-.5 .9l-.5-.7l-.5 .2l-.5 0l-.5-.1l-.5 1.1l-.5-.9l-.5 1.3l-.5-.6l-.5 .1l-.5 .5l-.5-1.3l-.5 .4l-.5-.2l-.5 .3l-.5-.2l-.5 1.5l-.5-.1l-.5-1.4l-.5 .1l-.5 .8l-.5-.3l-.5 .3l-.5 .5l-.5-1.8l-.5 1l-.5 .1l-.5-.2l-.5-1.3l-.5 .6l-.5-.3l-.5 .2l-.5 .1l-.5-.4l-.5-.1l-.5-.2l-.5 .5l-.5-.7l-.5 .3l-.5-.1l-.5-.1l-.5-.3l-.5 .8l-.5-.1l-.5-.1l-.5-.1l-.5-.3l-.5 .2l-.5-.1l-.5 .2l-.5 .3l-.5-.4l-.5 .7l-.5-.7l-.5 .3l-.5 .8l-.5-1.1l-.5 .4l-.5-.1l-.5 1.1l-.5-1.2l-.5 0l-.5 1.5l-.5-1.2l-.5 .1l-.5 .3l-.5-.6l-.5 .5l-.5-.3l-.5 .2l-.5-.3l-.5 .6l-.5 .3l-.5-.2l-.5-.6l-.5 .6l-.5-.3l-.5 .2l-.5 .1l-.5-.2l-.5 .4l-.5-1.2l-.5 1l-.5 .1l-.5-.4l-.5 .4l-.5-.5l-.5-.5l-.5 .8l-.5 .1l-.5 .1l-.5-.6l-.5-.2l-.5-.2l-.5 .2l-.5 .1l-.5 1.3l-.5 .4l-.5-1.1l-.5 .5l-.5 .6l-.5-.9l-.5-.2l-.5 1.3l-.5-1.5l-.5-.4l-.5 1.7l-.5-.1l-.5-1.6l-.5 0l-.5 .3l-.5 .4l-.5-.6l-.5-.2l-.5 0l-.5 .1l-.5 .3l-.5 .4l-.5 0l-.5-.8l-.5-.4l-.5 .3l-.5 1l-.5-1l-.5 1.3l-.5-1.3l-.5 .6l-.5 .4l-.5 .8l-.5-.1l-.5-1.1l-.5 .7l-.5 .9l-.5 .1l-.5-.6l-.5-.1l-.5 0l-.5-1.3l-.5-.2l-.5-.6l-.5 .4l-.5-.1l-.5 .8l-.5-.6l-.5-.4l-.5 .4l-.5-.1l-.5 0l-.5 .7l-.5-.8l-.5 .1l-.5 .9l-.5 .3l-.5 1.4l-.5-1.8l-.5 .4l-.5-1.2l-.5 .8l-.5-.8l-.5 .5l-.5 .7l-.5-.6l-.5-.9l-.5 .5l-.5-.1l-.5-.3l-.5 .4l-.5-.3l-.5 .6l-.5-.7l-.5 .9l-.5 0l-.5 .2l-.5-.6l-.5 .8l-.5 .1l-.5-.2l-.5-.7l-.5 .5l-.5 .8l-.5-.3l-.5 1l-.5-1.8l-.5-.1l-.5 .9l-.5 .7l-.5-1.4l-.5-.4l-.5 .8l-.5 .4l-.5-.3l-.5-1l-.5 .3l-.5 1.8l-.5 2.4l-.5-2.7l-.5-.5l-.5 0l-.5 .7l-.5-1.7l-.5-.2l-.5 .9l-.5 .9l-.5-1.6l-.5 1.3l-.5-.5l-.5-1l-.5 .1l-.5 .7l-.5-1l-.5 1.4l-.5-.1l-.5-1l-.5-.4l-.5-.1l-.5 .1l-.5 1.1l-.5 1.6l-.5-1.8l-.5-.3l-.5 0l-.5 .1l-.5-.9l-.5 .4l-.5-.5l-.5 .5l-.5 .3l-.5-.5l-.5 .6l-.5-.7l-.5 .6l-.5 .1l-.5-.6l-.5 1l-.5 .1l-.5-.6l-.5 .5l-.5-.6l-.5 .4l-.5 .3l-.5 2.4l-.5 3.2l-.5-3.6l-.5-3l-.5 .3l-.5 .1l-.5 .1l-.5-.2l-.5-.4l-.5 1l-.5-.4l-.5-.5l-.5 .1l-.5 .2l-.5-.5l-.5 .5l-.5-.5l-.5 .6l-.5-.5l-.5-.2l-.5 .6l-.5-.5l-.5 .7l-.5-.9l-.5 .2l-.5 .6l-.5-.5l-.5 .2l-.5-.4l-.5 .4l-.5 .5l-.5-.2l-.5 .4l-.5-1l-.5 1.2l-.5 .2l-.5-.6l-.5-.1l-.5 1.1l-.5 2l-.5-2.2l-.5-.1l-.5-.9l-.5-.1l-.5 0l-.5 1.1l-.5 .5l-.5-.9l-.5 1.6l-.5-1.8l-.5 .9l-.5-1.2l-.5 .4l-.5 .7l-.5-1l-.5 .6l-.5-.9l-.5 .6l-.5 .3l-.5 0l-.5-.9l-.5 .1l-.5-.1l-.5 .4l-.5-.7l-.5 .2l-.5 .5l-.5-.9l-.5 .2l-.5 0l-.5 .2l-2-.7l-.5 .1l-.5 .2l-.5 .8l-.5-.9l-.5-.3l-2 .1l-2 0l-2 0l-2-.2l-2 0l-2 0l-2 .1l-2 .2l-2 .4l-.5 .2l-.5 0l-.5-.1l-.5-.3l-.5 .7l-.5-.8l-.5 .2l-.5-.1l-2-.3l-2 .1l-2 0l-2 .1l-2-.1l-2-.3l-2 .3l-2-.1l-2-.2l-2 .2l-2 .5l-.5 .2l-.5-.7l-.5 .3l-.5 .1l-.5-.4l-.5 .1l-.5 .5l-.5 .4l-.5-.4l-2-.4l-2-.3l-2 .1l-2-.2l-2 .1l-2-.1l-2 .1l-2 .1l-2 0l-2-.1l-2-.1l-2 .2l-2 .1l-2-.3l-2 .2l-2-.2l-2 .1l-2-.1l-2 .1l-2 .2l-2-.1l-2 .1l-2-.2l-2 .3l-2-.1l-2-.3l-2 0l-2-.1l-2 .1l-2 .2l-2-.1l-2-.1l-2 0l-2 .1l-.5 0l-.5 .4l-.5 .8l-.5-.9l-.5-.5l-.5 .1l-2 0l-2 .1l-2-.1l-2 .1l-2 .1l-2-.1l-2-.1l-2 .1l-2 .1l-2 0l-2-.2l-2 0l-2 .2l-2-.1l-2 .1l-2 0l-2 0l-2-.1l-2 0l-2 0l-2 .1l-2 .4l-.5-.1l-.5 .8l-.5-.4l-.5-.1l-.5-.3l-.5 .9l-.5 1l-.5-1.2l-.5 .1l-.5 1.3l-.5-.8l-.5-.4l-.5 1.4l-.5-.1l-.5-.9l-.5 .2l-.5-.4l-.5-.6l-.5 .3l-.5-.5l-.5 .7l-.5-.9l-.5 .2l-.5-.5l-.5 .7l-.5 0l-.5-.4l-.5 1.1l-.5 2.4l-.5 3.2l-.5-3.6l-.5-3.3l-.5-.4l-2 .1l-2-.2l-2 .3l-2-.1l-2-.2l-2 .1l-2 0l-2-.1l-2 .1l-2 0l-2 0l-2 0l-2 0l-2 .1l-.5-.1l-.5 .5l-.5 .8l-.5-.9l-.5-.3l-.5-.1l-.5-.1l-.5 .1l-2-.1l-2 .2l-2-.2l-2 .2l-2 0l-2-.2l-2 .2l-2 0l-2-.2l-2 .2l-2 .1l-2-.1l-2 .1l-2-.2l-2 .1Z" fill="#80fa80" stroke="#80fa80" stroke-width="0.7" stroke-linejoin="round"/>
<rect x="121.2" y="84.2" width="1778.2" height="382.6" fill="none" stroke="#000" stroke-width="1.5"/>
<path d="M186.3,59V145.0" stroke="#ff0000" stroke-width="4.2"/>
<path d="M186.3,167.0 Q182.8,150.0 176.5,134.5 Q182.3,140.0 186.3,142.7 Q190.3,140.0 196.10000000000002,134.5 Q189.8,150.0 186.3,167.0Z" fill="#000"/>
<text x="186.9" y="44.9" font-size="33.5" text-anchor="middle" font-weight="normal" stroke="#000" stroke-width="2.0">1</text>
<path d="M427.3,57.5V144.0" stroke="#ff0000" stroke-width="4.2"/>
<path d="M427.3,166.0 Q423.8,149.0 417.5,133.5 Q423.3,139.0 427.3,141.7 Q431.3,139.0 437.1,133.5 Q430.8,149.0 427.3,166.0Z" fill="#000"/>
<text x="425.4" y="42.2" font-size="39.5" text-anchor="middle" font-weight="normal" stroke="#000" stroke-width="1.0">2</text>
<path d="M634.3,58.5V145.0" stroke="#ff0000" stroke-width="4.2"/>
<path d="M634.3,167.0 Q630.8,150.0 624.5,134.5 Q630.3,140.0 634.3,142.7 Q638.3,140.0 644.0999999999999,134.5 Q637.8,150.0 634.3,167.0Z" fill="#000"/>
<text x="632.0" y="43.2" font-size="39.5" text-anchor="middle" font-weight="normal" stroke="#000" stroke-width="1.0">3</text>
<path d="M780.3,56.5V143.0" stroke="#ff0000" stroke-width="4.2"/>
<path d="M780.3,165.0 Q776.8,148.0 770.5,132.5 Q776.3,138.0 780.3,140.7 Q784.3,138.0 790.0999999999999,132.5 Q783.8,148.0 780.3,165.0Z" fill="#000"/>
<text x="778.5" y="40.8" font-size="39.5" text-anchor="middle" font-weight="normal" stroke="#000" stroke-width="1.0">4</text>
<path d="M849.7,53V139.5" stroke="#ff0000" stroke-width="4.2"/>
<path d="M849.7,161.5 Q846.2,144.5 839.9000000000001,129.0 Q845.7,134.5 849.7,137.2 Q853.7,134.5 859.5,129.0 Q853.2,144.5 849.7,161.5Z" fill="#000"/>
<text x="848.2" y="37.9" font-size="39.5" text-anchor="middle" font-weight="normal" stroke="#000" stroke-width="1.0">5</text>
<path d="M964.9,54V140.5" stroke="#ff0000" stroke-width="4.2"/>
<path d="M964.9,162.5 Q961.4,145.5 955.1,130.0 Q960.9,135.5 964.9,138.2 Q968.9,135.5 974.6999999999999,130.0 Q968.4,145.5 964.9,162.5Z" fill="#000"/>
<text x="963.2" y="37.9" font-size="39.5" text-anchor="middle" font-weight="normal" stroke="#000" stroke-width="1.0">6</text>
<path d="M1100.7,54V141.0" stroke="#ff0000" stroke-width="4.2"/>
<path d="M1100.7,163.0 Q1097.2,146.0 1090.9,130.5 Q1096.7,136.0 1100.7,138.7 Q1104.7,136.0 1110.5,130.5 Q1104.2,146.0 1100.7,163.0Z" fill="#000"/>
<text x="1098.3" y="38.7" font-size="39.5" text-anchor="middle" font-weight="normal" stroke="#000" stroke-width="1.0">7</text>
<path d="M1572.3,58.7V145.5" stroke="#ff0000" stroke-width="4.2"/>
<path d="M1572.3,167.5 Q1568.8,150.5 1562.5,135.0 Q1568.3,140.5 1572.3,143.2 Q1576.3,140.5 1582.1,135.0 Q1575.8,150.5 1572.3,167.5Z" fill="#000"/>
<text x="1569.6" y="43.0" font-size="39.5" text-anchor="middle" font-weight="normal" stroke="#000" stroke-width="1.0">8</text>
<g>
<path d="M114.2,650.8h12.4" stroke="#000" stroke-width="1.3"/>
<path d="M114.2,809.2h12.4" stroke="#000" stroke-width="1.3"/>
<path d="M114.2,977.8h12.4" stroke="#000" stroke-width="1.3"/>
<path d="M135.7,992.6v12.6" stroke="#000" stroke-width="1.3"/>
<path d="M289.2,992.6v12.6" stroke="#000" stroke-width="1.3"/>
<path d="M472.0,992.6v12.6" stroke="#000" stroke-width="1.3"/>
<g stroke-width="21.0" stroke-linecap="round" fill="none">
<path stroke="#ffff80" d="M138.8,633.6h0M138.8,659.2h0M162.2,659.2h0M138.8,684.8h0M162.2,684.8h0M185.7,684.8h0M138.8,710.4h0M162.2,710.4h0M185.7,710.4h0M138.8,736.0h0M162.2,736.0h0M185.7,736.0h0M138.8,761.6h0M162.2,761.6h0M185.7,761.6h0M209.2,787.1h0M209.2,812.7h0M138.8,838.3h0M209.2,838.3h0M138.8,863.9h0M162.2,863.9h0M185.7,863.9h0M138.8,889.5h0M138.8,915.1h0M162.2,915.1h0M138.8,940.7h0M162.2,940.7h0M138.8,966.3h0M162.2,966.3h0M138.8,991.9h0"/>
<path stroke="#ffff40" d="M162.2,633.6h0M185.7,633.6h0M209.2,633.6h0M185.7,659.2h0M209.2,659.2h0M209.2,684.8h0M232.6,684.8h0M209.2,710.4h0M209.2,736.0h0M209.2,761.6h0M232.6,787.1h0M209.2,863.9h0M162.2,889.5h0M185.7,889.5h0M185.7,915.1h0M185.7,940.7h0M162.2,991.9h0"/>
<path stroke="#ffff00" d="M232.6,633.6h0M232.6,659.2h0M232.6,710.4h0M232.6,736.0h0M232.6,761.6h0M232.6,812.7h0M232.6,838.3h0M232.6,863.9h0M209.2,889.5h0M209.2,915.1h0M209.2,940.7h0M185.7,966.3h0M209.2,966.3h0M185.7,991.9h0M209.2,991.9h0"/>
<path stroke="#ffd500" d="M256.1,633.6h0M256.1,659.2h0M256.1,736.0h0M349.9,838.3h0M373.3,838.3h0M303.0,863.9h0M326.4,863.9h0M349.9,863.9h0M373.3,863.9h0M396.8,863.9h0M326.4,889.5h0M349.9,889.5h0M373.3,889.5h0M396.8,889.5h0M420.2,889.5h0M443.6,889.5h0M467.1,889.5h0M349.9,915.1h0M373.3,915.1h0M396.8,915.1h0M420.2,915.1h0M443.6,915.1h0M467.1,915.1h0M373.3,940.7h0M396.8,940.7h0M420.2,940.7h0M443.6,940.7h0M467.1,940.7h0M232.6,966.3h0M396.8,966.3h0M420.2,966.3h0M443.6,966.3h0"/>
<path stroke="#ff7f00" d="M279.5,633.6h0M303.0,633.6h0M279.5,659.2h0M303.0,659.2h0M279.5,684.8h0M279.5,710.4h0M279.5,736.0h0M349.9,761.6h0M373.3,761.6h0M396.8,761.6h0M420.2,761.6h0M443.6,761.6h0M467.1,761.6h0M326.4,787.1h0M349.9,787.1h0M396.8,787.1h0M420.2,787.1h0M443.6,787.1h0M303.0,812.7h0M256.1,889.5h0M279.5,889.5h0M303.0,915.1h0M256.1,940.7h0M326.4,940.7h0M279.5,966.3h0M349.9,966.3h0M303.0,991.9h0M349.9,991.9h0"/>
<path stroke="#ff5500" d="M326.4,633.6h0M303.0,684.8h0M467.1,684.8h0M303.0,710.4h0M420.2,710.4h0M443.6,710.4h0M467.1,710.4h0M373.3,736.0h0M396.8,736.0h0M420.2,736.0h0M443.6,736.0h0M467.1,736.0h0M279.5,761.6h0M326.4,761.6h0M279.5,787.1h0M303.0,787.1h0M256.1,915.1h0M279.5,915.1h0M279.5,940.7h0M303.0,940.7h0M303.0,966.3h0M326.4,966.3h0M326.4,991.9h0"/>
<path stroke="#ff2b00" d="M349.9,633.6h0M373.3,633.6h0M467.1,633.6h0M326.4,659.2h0M467.1,659.2h0M326.4,684.8h0M396.8,684.8h0M420.2,684.8h0M443.6,684.8h0M326.4,710.4h0M349.9,710.4h0M373.3,710.4h0M396.8,710.4h0M303.0,736.0h0M326.4,736.0h0M349.9,736.0h0M303.0,761.6h0"/>
<path stroke="#ff0000" d="M396.8,633.6h0M420.2,633.6h0M443.6,633.6h0M349.9,659.2h0M373.3,659.2h0M396.8,659.2h0M420.2,659.2h0M443.6,659.2h0M349.9,684.8h0M373.3,684.8h0"/>
<path stroke="#ffaa00" d="M256.1,684.8h0M256.1,710.4h0M256.1,761.6h0M256.1,787.1h0M373.3,787.1h0M467.1,787.1h0M256.1,812.7h0M279.5,812.7h0M326.4,812.7h0M349.9,812.7h0M373.3,812.7h0M396.8,812.7h0M420.2,812.7h0M443.6,812.7h0M467.1,812.7h0M256.1,838.3h0M279.5,838.3h0M303.0,838.3h0M326.4,838.3h0M396.8,838.3h0M420.2,838.3h0M443.6,838.3h0M467.1,838.3h0M256.1,863.9h0M279.5,863.9h0M420.2,863.9h0M443.6,863.9h0M467.1,863.9h0M232.6,889.5h0M303.0,889.5h0M232.6,915.1h0M232.6,940.7h0M349.9,940.7h0M256.1,966.3h0M373.3,966.3h0M467.1,966.3h0M232.6,991.9h0M256.1,991.9h0M279.5,991.9h0M373.3,991.9h0M396.8,991.9h0M420.2,991.9h0M443.6,991.9h0M467.1,991.9h0"/>
<path stroke="#ffffbf" d="M138.8,787.1h0M162.2,787.1h0M185.7,787.1h0M138.8,812.7h0M162.2,812.7h0M185.7,812.7h0M162.2,838.3h0M185.7,838.3h0"/>
<path stroke="#ffbf00" d="M326.4,915.1h0"/>
<path stroke="#ffff8e" d="M143.2,773.6h0"/>
<path stroke="#ff4700" d="M283.3,773.3h0"/>
<path stroke="#ffb200" d="M371.1,797.7h0"/>
<path stroke="#ffc300" d="M291.9,847.7h0"/>
<path stroke="#ff9a00" d="M303.1,841.2h0"/>
<path stroke="#ffff88" d="M139.8,759.4h0"/>
<path stroke="#ffff96" d="M169.2,851.7h0"/>
<path stroke="#ff6a00" d="M276.1,757.4h0"/>
<path stroke="#ffffd0" d="M181.5,810.4h0"/>
<path stroke="#ff9300" d="M336.7,796.8h0"/>
<path stroke="#ffffb6" d="M155.1,812.1h0"/>
<path stroke="#ffffaf" d="M193.2,784.8h0"/>
<path stroke="#ffb000" d="M365.2,820.2h0"/>
<path stroke="#ff6200" d="M292.1,795.8h0"/>
<path stroke="#ffff49" d="M203.8,748.5h0"/>
<path stroke="#ff6c00" d="M276.2,785.0h0"/>
<path stroke="#fff600" d="M240.9,773.5h0"/>
<path stroke="#ffff57" d="M217.9,824.1h0"/>
<path stroke="#ffff9e" d="M167.4,777.0h0"/>
<path stroke="#ffad00" d="M312.7,849.7h0"/>
<path stroke="#ffffb1" d="M132.5,783.8h0"/>
<path stroke="#ff9600" d="M264.4,770.5h0"/>
<path stroke="#ff9d00" d="M259.6,733.8h0"/>
<path stroke="#ffa100" d="M318.5,838.6h0"/>
<path stroke="#ffff72" d="M133.0,750.5h0"/>
<path stroke="#ffff7f" d="M149.0,749.8h0"/>
<path stroke="#ffff7e" d="M189.7,748.3h0"/>
<path stroke="#ffffb2" d="M135.1,800.3h0"/>
<path stroke="#ffdb00" d="M285.0,861.9h0"/>
<path stroke="#ffc300" d="M336.8,840.3h0"/>
<path stroke="#ffff64" d="M215.3,801.0h0"/>
<path stroke="#ffffc6" d="M180.2,827.8h0"/>
<path stroke="#ffffb8" d="M146.0,813.3h0"/>
<path stroke="#ffff29" d="M219.7,748.1h0"/>
<path stroke="#ffd100" d="M348.7,839.1h0"/>
<path stroke="#ffa400" d="M255.4,757.2h0"/>
<path stroke="#ffff79" d="M155.7,861.3h0"/>
<path stroke="#ffff30" d="M216.0,761.8h0"/>
<path stroke="#ff6700" d="M302.6,801.2h0"/>
<path stroke="#ffff76" d="M132.0,734.3h0"/>
<path stroke="#ffa400" d="M401.6,801.6h0"/>
<path stroke="#fff800" d="M244.6,837.7h0"/>
<path stroke="#ffab00" d="M413.5,809.8h0"/>
<path stroke="#ff8e00" d="M310.2,808.9h0"/>
<path stroke="#ff6b00" d="M280.6,798.7h0"/>
<path stroke="#ffff84" d="M186.2,738.6h0"/>
<path stroke="#ffc900" d="M252.4,800.0h0"/>
<path stroke="#ffffa5" d="M194.5,825.0h0"/>
<path stroke="#ffff70" d="M133.4,864.3h0"/>
<path stroke="#ffffaf" d="M186.6,781.6h0"/>
<path stroke="#ffca00" d="M372.1,862.5h0"/>
<path stroke="#ffaf00" d="M272.5,820.9h0"/>
<path stroke="#ffff84" d="M132.3,833.1h0"/>
<path stroke="#ffa200" d="M366.0,783.3h0"/>
<path stroke="#ffff41" d="M221.4,813.6h0"/>
<path stroke="#fff200" d="M244.7,795.9h0"/>
<path stroke="#ffffb6" d="M157.4,821.4h0"/>
<path stroke="#ff8b00" d="M345.8,799.8h0"/>
<path stroke="#ffe200" d="M252.7,864.8h0"/>
<path stroke="#ffb800" d="M417.7,849.3h0"/>
<path stroke="#ffff1e" d="M226.1,858.8h0"/>
<path stroke="#ffff93" d="M202.6,783.8h0"/>
<path stroke="#ffffae" d="M195.5,834.9h0"/>
<path stroke="#ffff6b" d="M213.6,834.3h0"/>
<path stroke="#ffc700" d="M342.2,853.4h0"/>
<path stroke="#ffcd00" d="M354.8,846.4h0"/>
<path stroke="#ff7100" d="M275.8,747.9h0"/>
<path stroke="#ffff47" d="M215.3,775.1h0"/>
<path stroke="#ffa000" d="M361.6,798.4h0"/>
<path stroke="#ffff85" d="M205.8,808.5h0"/>
<path stroke="#ffff9a" d="M195.7,795.2h0"/>
<path stroke="#ffffd0" d="M146.5,788.1h0"/>
<path stroke="#ffcd00" d="M334.1,850.9h0"/>
<path stroke="#ff9700" d="M264.5,797.3h0"/>
<path stroke="#ffff11" d="M228.2,826.3h0"/>
<path stroke="#fffa00" d="M248.5,838.2h0"/>
<path stroke="#ffffaf" d="M169.6,794.6h0"/>
<path stroke="#ffff69" d="M191.5,861.1h0"/>
<path stroke="#ffb300" d="M303.0,846.2h0"/>
<path stroke="#ff7900" d="M348.6,784.5h0"/>
<path stroke="#ffac00" d="M382.0,820.8h0"/>
<path stroke="#ff4c00" d="M301.9,774.7h0"/>
<path stroke="#ffaf00" d="M393.4,815.2h0"/>
<path stroke="#ffffb2" d="M181.1,776.4h0"/>
<path stroke="#ff5c00" d="M304.0,788.4h0"/>
<path stroke="#ffa900" d="M384.8,813.6h0"/>
<path stroke="#ffaf00" d="M406.3,815.2h0"/>
<path stroke="#ffe700" d="M241.0,749.4h0"/>
<path stroke="#ffff9f" d="M155.4,775.3h0"/>
<path stroke="#ffff87" d="M157.7,758.3h0"/>
<path stroke="#fff500" d="M240.1,815.7h0"/>
<path stroke="#ffab00" d="M266.7,813.3h0"/>
<path stroke="#ffc900" d="M378.0,858.7h0"/>
<path stroke="#ffff20" d="M224.5,744.1h0"/>
<path stroke="#ffd300" d="M354.0,840.2h0"/>
<path stroke="#ffffb1" d="M135.4,821.9h0"/>
<path stroke="#ff9500" d="M309.3,823.3h0"/>
<path stroke="#ffaf00" d="M407.1,827.3h0"/>
<path stroke="#ffa500" d="M324.2,823.9h0"/>
<path stroke="#ffa700" d="M361.1,814.9h0"/>
<path stroke="#ffd400" d="M326.5,861.1h0"/>
<path stroke="#ffff89" d="M204.1,826.8h0"/>
<path stroke="#ffffd0" d="M166.1,813.6h0"/>
<path stroke="#ffff76" d="M142.7,861.7h0"/>
<path stroke="#ff8900" d="M299.9,823.9h0"/>
<path stroke="#ffff0f" d="M226.4,738.6h0"/>
<path stroke="#ffdb00" d="M309.6,863.5h0"/>
<path stroke="#ffff37" d="M224.4,839.7h0"/>
<path stroke="#ffffb3" d="M148.8,798.7h0"/>
<path stroke="#ffff6f" d="M149.0,757.6h0"/>
<path stroke="#ffb100" d="M414.2,798.4h0"/>
<path stroke="#ffe800" d="M245.2,850.2h0"/>
<path stroke="#ffa000" d="M397.0,800.7h0"/>
<path stroke="#ffff72" d="M180.9,862.7h0"/>
<path stroke="#ffdb00" d="M244.6,737.4h0"/>
<path stroke="#ffff8b" d="M171.1,860.6h0"/>
<path stroke="#ffff0b" d="M233.4,810.1h0"/>
<path stroke="#ffd300" d="M393.6,863.0h0"/>
<path stroke="#ffed00" d="M262.2,864.6h0"/>
<path stroke="#ffc300" d="M290.0,840.3h0"/>
<path stroke="#ff9b00" d="M309.6,833.1h0"/>
<path stroke="#ffff8b" d="M172.1,750.6h0"/>
<path stroke="#ffdc00" d="M262.7,841.4h0"/>
<path stroke="#ffff8b" d="M158.7,748.2h0"/>
<path stroke="#ffff97" d="M158.7,847.1h0"/>
<path stroke="#ffdb00" d="M250.6,811.8h0"/>
<path stroke="#ffff78" d="M192.1,737.0h0"/>
<path stroke="#ffff92" d="M197.0,776.0h0"/>
<path stroke="#ff7b00" d="M294.8,810.5h0"/>
<path stroke="#ffd100" d="M416.8,865.1h0"/>
<path stroke="#ffa300" d="M416.8,834.1h0"/>
<path stroke="#ffd400" d="M332.9,862.2h0"/>
<path stroke="#ffffac" d="M162.6,782.9h0"/>
<path stroke="#ffab00" d="M389.5,827.7h0"/>
<path stroke="#ffff7d" d="M131.0,847.0h0"/>
<path stroke="#ff7b00" d="M332.0,776.4h0"/>
<path stroke="#ffff93" d="M201.3,836.1h0"/>
<path stroke="#ffcf00" d="M407.0,864.0h0"/>
<path stroke="#ffffb5" d="M186.3,799.0h0"/>
<path stroke="#ffff4a" d="M226.8,781.7h0"/>
<path stroke="#ffa600" d="M374.4,814.9h0"/>
<path stroke="#ff9b00" d="M318.7,813.2h0"/>
<path stroke="#ffb400" d="M253.8,769.2h0"/>
<path stroke="#ff7300" d="M333.6,784.3h0"/>
<path stroke="#ffff9b" d="M181.7,846.5h0"/>
<path stroke="#fff700" d="M231.2,757.5h0"/>
<path stroke="#ffff27" d="M232.6,794.7h0"/>
<path stroke="#ff5300" d="M279.8,776.1h0"/>
<path stroke="#ff8400" d="M318.2,798.0h0"/>
<path stroke="#ffff1e" d="M215.9,735.8h0"/>
<path stroke="#ffd800" d="M248.7,784.6h0"/>
<path stroke="#ffe400" d="M244.2,783.0h0"/>
<path stroke="#ff8200" d="M265.3,784.7h0"/>
<path stroke="#ffff82" d="M148.9,736.7h0"/>
<path stroke="#ffff53" d="M209.5,775.5h0"/>
<path stroke="#ffcd00" d="M354.0,865.8h0"/>
<path stroke="#ffff90" d="M182.7,757.9h0"/>
<path stroke="#ffffb5" d="M143.7,824.0h0"/>
<path stroke="#ffb300" d="M360.3,824.9h0"/>
<path stroke="#ffffae" d="M171.6,821.9h0"/>
<path stroke="#ff9c00" d="M337.6,814.6h0"/>
<path stroke="#ffffc3" d="M133.5,811.7h0"/>
<path stroke="#ffc300" d="M349.0,827.8h0"/>
<path stroke="#ffc200" d="M384.5,852.7h0"/>
<path stroke="#ffcd00" d="M371.7,849.4h0"/>
<path stroke="#ffc500" d="M263.6,824.9h0"/>
<path stroke="#ffb400" d="M396.1,845.5h0"/>
<path stroke="#ff6f00" d="M312.9,798.2h0"/>
<path stroke="#ffff8e" d="M145.8,853.2h0"/>
<path stroke="#ffffbc" d="M189.9,812.9h0"/>
<path stroke="#ffa500" d="M408.0,838.3h0"/>
<path stroke="#fff000" d="M244.7,866.1h0"/>
<path stroke="#ffdd00" d="M369.5,840.1h0"/>
<path stroke="#ffd400" d="M279.6,849.8h0"/>
<path stroke="#ffffbb" d="M186.7,839.0h0"/>
<path stroke="#ffbd00" d="M251.5,751.3h0"/>
<path stroke="#ffe300" d="M245.5,826.2h0"/>
<path stroke="#ff9000" d="M284.9,820.4h0"/>
<path stroke="#ffef00" d="M249.8,851.4h0"/>
<path stroke="#ffff8c" d="M184.6,749.3h0"/>
<path stroke="#ffda00" d="M298.1,865.3h0"/>
<path stroke="#ff8000" d="M323.6,787.8h0"/>
<path stroke="#ffff6f" d="M190.0,758.5h0"/>
<path stroke="#ffa200" d="M377.6,786.9h0"/>
<path stroke="#ffd100" d="M278.0,837.8h0"/>
<path stroke="#ffff31" d="M227.7,769.0h0"/>
<path stroke="#ff9100" d="M349.1,815.0h0"/>
<path stroke="#ffb800" d="M335.1,824.8h0"/>
<path stroke="#ff9900" d="M259.6,762.3h0"/>
<path stroke="#ffff40" d="M206.8,763.3h0"/>
<path stroke="#ff5300" d="M287.2,757.8h0"/>
<path stroke="#ffe100" d="M262.7,847.1h0"/>
<path stroke="#ffffae" d="M159.1,837.5h0"/>
<path stroke="#ffa700" d="M380.6,795.3h0"/>
<path stroke="#ffff75" d="M168.6,764.1h0"/>
<path stroke="#ffff72" d="M205.0,849.3h0"/>
<path stroke="#ffff5e" d="M215.4,789.4h0"/>
<path stroke="#ff5200" d="M284.5,750.1h0"/>
<path stroke="#ffd900" d="M250.9,822.3h0"/>
<path stroke="#ffff9d" d="M189.6,852.7h0"/>
<path stroke="#ffff2b" d="M225.0,848.7h0"/>
<path stroke="#ffff48" d="M213.6,859.8h0"/>
<path stroke="#ffffce" d="M172.7,837.0h0"/>
<path stroke="#ffb500" d="M323.5,847.9h0"/>
<path stroke="#ffff8f" d="M131.6,769.5h0"/>
<path stroke="#ff5100" d="M290.9,781.9h0"/>
<path stroke="#ffffaf" d="M161.0,797.6h0"/>
<path stroke="#ffa400" d="M417.7,820.1h0"/>
<path stroke="#ff6400" d="M315.2,783.8h0"/>
<path stroke="#ffffb1" d="M173.7,781.9h0"/>
<path stroke="#ffff87" d="M206.8,802.7h0"/>
<path stroke="#ff8100" d="M275.2,810.9h0"/>
<path stroke="#ffff7b" d="M142.9,838.3h0"/>
<path stroke="#ffdb00" d="M345.4,861.9h0"/>
<path stroke="#ff8e00" d="M359.2,783.7h0"/>
<path stroke="#ffff34" d="M218.2,851.4h0"/>
<path stroke="#ffc900" d="M377.1,838.5h0"/>
<path stroke="#ffff3d" d="M205.5,863.9h0"/>
<path stroke="#ff8500" d="M287.7,813.7h0"/>
<path stroke="#ffff8e" d="M161.5,735.0h0"/>
<path stroke="#fff500" d="M236.3,761.3h0"/>
<path stroke="#ff8b00" d="M266.3,748.5h0"/>
<path stroke="#ffbb00" d="M401.2,853.3h0"/>
<path stroke="#ffaa00" d="M393.5,837.5h0"/>
<path stroke="#ffd600" d="M274.9,862.9h0"/>
<path stroke="#ff7f00" d="M288.9,664.3h0"/>
<path stroke="#ff7f00" d="M300.6,665.6h0"/>
<path stroke="#ff5500" d="M305.3,677.1h0"/>
<path stroke="#ff5500" d="M314.7,684.8h0"/>
<path stroke="#ff5500" d="M310.0,695.0h0"/>
<path stroke="#ff5500" d="M319.4,702.7h0"/>
<path stroke="#ff5500" d="M314.7,712.9h0"/>
<path stroke="#ff2b00" d="M324.1,718.0h0"/>
<path stroke="#ff2b00" d="M317.0,728.3h0"/>
<path stroke="#ff2b00" d="M326.4,733.4h0"/>
<path stroke="#ff2b00" d="M321.7,743.6h0"/>
<path stroke="#ff2b00" d="M333.4,748.8h0"/>
<path stroke="#ff5500" d="M478.8,710.4h0"/>
<path stroke="#ffd500" d="M304.1,925.3h0"/>
<path stroke="#ff5500" d="M333.4,657.9h0"/>
</g>
<path transform="translate(138.8,633.6)" d="M-2.4,-18.0 L-2.7,-8.7 L-4.3,4.9 L-7.4,23.5 L-12.4,42.1 L-14.8,53.3 L-16.3,57.6 M-16.3,304.7 L-12.4,312.8 L-6.2,320.2 L0.0,327.6 L4.4,336.3 L5.6,347.5 L5.0,357.4 L3.8,364.8 M-16.3,155.6 L-11.1,161.1 L-6.2,168.6 L-3.1,176.4 L0.7,182.6 L2.9,195.0 L0.0,207.4 L-0.6,221.0 L1.5,233.4 L0.7,245.8 L-1.2,260.7 L-2.2,273.1 L0.0,284.9 L5.0,288.6 L13.7,290.7 L16.2,299.1 L18.0,310.3 L21.7,321.4 L24.8,335.1 L29.2,345.0 L33.5,354.9 L36.6,364.8 M35.1,-18.0 L33.5,-7.5 L31.3,3.1 L26.7,17.3 L21.7,33.4 L18.0,50.8 L15.5,65.7 L13.7,79.3 L10.0,90.5 L3.1,102.9 L-4.9,117.1 L6.2,127.1 L14.9,136.4 L22.4,146.3 L27.3,156.2 L32.3,169.8 L35.4,176.4 L38.2,182.6 L31.7,195.0 L31.3,208.6 L25.5,221.0 L23.6,233.4 L21.1,246.8 L25.5,253.2 L30.4,260.7 L35.4,273.1 L34.1,286.7 L32.6,297.9 L36.0,309.0 L39.7,320.2 L42.2,332.6 L44.7,348.7 L49.6,357.4 L53.1,364.8 M64.1,-18.0 L64.3,-11.2 L62.7,1.2 L58.3,13.6 L54.6,28.5 L51.5,45.8 L49.0,63.2 L48.8,70.6 L49.9,79.3 L48.4,88.0 L45.3,96.7 L42.2,105.4 L43.4,110.3 L46.5,117.8 L53.4,128.9 L59.6,142.6 L65.8,156.2 L65.5,166.1 L62.7,174.8 L59.6,181.3 L54.6,196.2 L51.5,208.6 L48.4,221.0 L46.9,233.4 L47.2,245.8 L50.3,258.2 L52.1,274.3 L52.4,295.4 L53.4,309.0 L56.5,322.7 L58.3,332.6 L62.0,346.2 L67.0,356.1 L71.3,364.8 M97.6,-18.0 L98.0,-8.7 L97.1,2.4 L93.0,14.8 L88.1,28.5 L84.1,40.9 L83.5,53.3 L85.0,65.7 L86.8,79.3 L86.2,91.7 L81.9,102.9 L75.7,112.8 L72.6,118.4 L79.4,126.4 L87.5,132.0 L93.0,140.1 L96.8,148.7 L98.4,157.4 L97.4,168.6 L97.4,171.4 L93.7,182.6 L85.6,195.0 L74.4,207.4 L67.6,221.0 L65.1,233.4 L65.5,245.8 L67.0,270.6 L68.2,295.4 L68.2,320.2 L69.2,336.3 L73.2,347.5 L80.6,356.1 L85.6,361.7 L92.4,364.8 M133.3,-18.0 L135.6,-10.0 L135.6,2.4 L131.5,13.6 L125.9,29.7 L120.3,45.8 L117.6,54.3 L119.7,63.2 L122.8,73.1 L124.4,80.6 L122.8,91.7 L117.8,101.6 L111.6,111.6 L114.1,122.7 L121.6,133.9 L126.5,142.6 L130.9,152.5 L134.6,157.4 L131.5,166.1 L130.0,171.4 L124.0,187.5 L115.4,206.1 L107.3,212.3 L100.5,219.1 L90.6,235.9 L83.1,252.6 L82.5,270.6 L84.1,285.5 L81.9,299.1 L80.0,310.3 L80.6,320.2 L83.1,328.9 L86.8,332.6 L96.8,336.3 L107.9,335.3 L120.3,337.6 L131.5,339.0 L136.4,347.5 L142.6,357.4 L148.8,364.6 M167.4,-18.0 L171.1,-10.0 L173.9,-0.0 L172.4,11.1 L167.4,23.5 L161.2,38.4 L156.9,50.8 L155.6,63.2 L156.9,74.4 L158.5,80.6 L157.3,90.5 L152.5,101.6 L146.3,110.3 L138.9,116.5 L145.1,135.1 L151.3,147.5 L163.1,157.4 L167.4,169.8 L168.0,171.4 L163.7,181.3 L156.3,195.0 L147.6,208.6 L143.2,221.0 L134.0,226.6 L125.9,233.4 L123.4,240.8 L120.3,250.8 L114.1,263.2 L105.4,276.8 L99.9,288.0 L96.8,297.9 L98.6,307.8 L98.6,323.3 L107.9,326.4 L114.1,322.1 L120.9,315.2 L127.1,310.9 L131.5,304.7 L143.9,307.2 L148.2,314.0 L155.0,325.2 L166.8,333.8 L171.1,345.0 L173.4,353.7 L174.0,364.6 M201.7,-18.0 L208.6,-11.2 L211.3,2.4 L209.8,14.8 L201.1,31.0 L191.2,45.8 L185.0,54.5 L182.5,67.5 L193.7,79.3 L192.4,91.7 L183.8,105.4 L175.1,116.5 L170.7,129.5 L178.8,143.8 L187.5,156.2 L199.3,169.2 L200.5,183.2 L192.4,196.2 L181.9,208.6 L175.1,219.8 L161.4,229.7 L148.2,245.8 L149.4,258.2 L153.1,265.6 L158.7,273.1 L166.2,288.0 L177.6,296.6 L184.4,310.3 L187.5,326.4 L191.2,349.9 L187.5,364.6 M263.7,-18.0 L248.9,-17.6 L242.4,-10.2 L245.1,4.9 L247.2,16.1 L242.0,28.5 L234.6,40.9 L229.9,50.8 L228.4,58.2 L229.9,70.6 L229.9,83.0 L227.2,94.2 L221.0,106.6 L212.3,119.0 L203.6,130.8 L213.5,137.6 L221.0,147.5 L226.5,157.4 L229.6,169.8 L228.4,171.4 L230.9,183.2 L228.4,196.2 L218.5,209.8 L211.0,221.0 L206.1,230.9 L201.7,237.1 L190.0,230.9 L186.2,235.9 L183.8,245.8 L191.2,257.0 L197.4,265.6 L204.8,275.6 L211.0,285.5 L212.9,297.9 L212.3,311.5 L206.7,323.9 L205.5,336.3 L204.6,351.2 L205.1,364.6 M336.3,-18.0 L330.7,-11.8 L315.2,-3.1 L295.4,5.8 L283.6,3.1 L282.3,17.3 L280.5,29.7 L273.0,43.4 L268.1,55.8 L266.2,68.2 L266.6,80.6 L264.4,94.2 L259.4,107.8 L252.0,122.7 L248.5,130.8 L249.2,143.8 L255.7,157.4 L260.6,168.6 L260.9,171.4 L262.5,178.8 L260.9,193.7 L257.5,207.4 L249.5,221.0 L238.3,225.3 L229.6,233.4 L227.2,245.8 L233.4,260.7 L240.8,275.6 L244.5,286.7 L243.9,299.1 L235.8,314.0 L228.4,326.4 L224.9,336.3 L224.7,351.2 L224.1,364.6 M342.7,22.9 L330.1,27.2 L318.9,32.8 L312.1,40.9 L307.1,55.8 L302.2,68.2 L299.1,81.8 L296.6,95.4 L292.9,109.1 L285.4,124.0 L280.5,135.1 L278.6,143.8 L283.0,153.7 L290.4,166.1 L292.3,171.4 L294.5,182.6 L289.8,198.7 L285.4,214.8 L283.6,221.0 L274.9,233.4 L260.6,239.0 L253.2,245.8 L265.6,258.2 L273.0,273.1 L276.8,284.2 L278.4,296.6 L274.3,310.3 L266.8,322.7 L250.7,336.3 L248.0,348.7 L245.1,364.6 M342.7,59.5 L338.7,66.9 L335.0,79.3 L330.1,90.5 L327.6,102.9 L325.7,118.4 L314.0,131.4 L307.1,143.8 L307.8,156.2 L315.2,162.4 L325.1,169.2 L325.7,171.4 L326.1,183.8 L323.9,198.7 L318.9,214.8 L315.8,227.2 L312.7,233.4 L306.5,239.0 L293.5,245.8 L297.8,260.7 L304.0,274.3 L307.8,286.7 L309.0,299.1 L308.4,311.5 L302.2,322.7 L288.5,335.1 L281.7,349.3 L288.3,364.6 M342.7,235.3 L338.7,243.3 L328.8,259.4 L336.3,271.8 L338.1,286.7 L338.4,299.1 L337.3,311.5 L337.9,322.7 L322.0,336.3 L317.1,349.9 L320.2,364.6" fill="none" stroke="#000" stroke-width="1.6" stroke-linejoin="round"/>
<path transform="translate(138.8,636.6)" d="M-4.9,117.1 L17.4,113.4 L42.2,110.3 L67.0,110.9 L85.6,112.8 L129.0,117.9 L167.6,123.3 L203.6,127.7 L248.2,133.9 L279.2,140.1 L306.5,146.9 L332.6,151.5 L340.0,152.9 M-13.6,259.4 L-1.2,257.0 L23.6,253.2 L48.4,250.1 L80.6,248.9 L98.0,249.3 L116.6,248.9 L134.0,245.8 L145.1,243.3 L160.0,241.5 L180.0,240.2 L228.4,242.7 L278.0,244.6 L300.3,244.6 L315.2,248.9 L330.1,255.7 L344.3,257.0" fill="none" stroke="#000" stroke-width="1.6" stroke-dasharray="12,5.4"/>
<path d="M482.2,849.0 Q446.0,831.0 405.0,825.6" fill="none" stroke="#f08c00" stroke-width="5.2"/>
<path d="M380.6,821.7 L409.7,818.4 L407.0,826.0 L407.8,833.6 Z" fill="#f08c00"/>
<path d="M241.3,724.6 L255.3,753.0 L227.3,753.0 Z" fill="#fff" stroke="#5c2483" stroke-width="4.6" stroke-miterlimit="10"/>
<path d="M271.8,738.8 L286.0,767.5 L257.6,767.5 Z" fill="#fff" stroke="#5c2483" stroke-width="4.6" stroke-miterlimit="10"/>
<path d="M300.5,749.3 L314.8,777.3 L286.2,777.3 Z" fill="#fff" stroke="#5c2483" stroke-width="4.6" stroke-miterlimit="10"/>
<path d="M240.2,854.1 L254.5,882.4 L225.9,882.4 Z" fill="#fff" stroke="#5c2483" stroke-width="4.6" stroke-miterlimit="10"/>
<path d="M304.2,847.1 L318.8,875.2 L289.6,875.2 Z" fill="#fff" stroke="#5c2483" stroke-width="4.6" stroke-miterlimit="10"/>
<path d="M308.0,706.0h14.0v-14.0h8.7v14.0h14.0v8.7h-14.0v14.0h-8.7v-14.0h-14.0z" fill="#0000ff"/>
<text x="301.3" y="591.0" font-size="38" text-anchor="middle" font-weight="normal" stroke="#000" stroke-width="0.9">1</text>
<text x="107.5" y="658.0" font-size="33.8" text-anchor="end" font-weight="normal" stroke="#000" stroke-width="0.9">150</text>
<text x="106.7" y="821.9" font-size="33.8" text-anchor="end" font-weight="normal" stroke="#000" stroke-width="0.9">0</text>
<text x="110.7" y="985.2" font-size="33.8" text-anchor="end" font-weight="normal" stroke="#000" stroke-width="0.9">-150</text>
<text x="133.2" y="1032.9" font-size="34.3" text-anchor="middle" font-weight="normal" stroke="#000" stroke-width="0.9">-150</text>
<text x="290.6" y="1032.9" font-size="34.3" text-anchor="middle" font-weight="normal" stroke="#000" stroke-width="0.9">0</text>
<text x="471.6" y="1032.9" font-size="34.3" text-anchor="middle" font-weight="normal" stroke="#000" stroke-width="0.9">150</text>
<text x="54.5" y="787.7" font-size="39.5" text-anchor="middle" font-weight="normal" stroke="#000" stroke-width="0.7" transform="rotate(-90 54.5 787.7)">Northing (m)</text>
<text x="312.1" y="1063.1" font-size="39.2" text-anchor="middle" font-weight="normal" stroke="#000" stroke-width="0.7">Easting (m)</text>
<text x="224.1" y="711.6" font-size="33.5" text-anchor="middle" font-weight="normal" stroke="#000" stroke-width="1.4">S1</text>
<text x="273.7" y="723.3" font-size="33.5" text-anchor="middle" font-weight="normal" stroke="#000" stroke-width="1.4">S2</text>
<text x="333.2" y="761.7" font-size="33.5" text-anchor="middle" font-weight="normal" stroke="#000" stroke-width="1.4">S3</text>
<text x="199.3" y="915.5" font-size="33.5" text-anchor="middle" font-weight="normal" stroke="#000" stroke-width="1.4">S4</text>
<text x="317.8" y="915.5" font-size="33.5" text-anchor="middle" font-weight="normal" stroke="#000" stroke-width="1.4">S5</text>
</g>
<g>
<path d="M594.3,615.6 V998.0 H953.0" fill="none" stroke="#000" stroke-width="1.5"/>
<path d="M586.4,650.8h12.4" stroke="#000" stroke-width="1.3"/>
<path d="M586.4,809.2h12.4" stroke="#000" stroke-width="1.3"/>
<path d="M586.4,977.8h12.4" stroke="#000" stroke-width="1.3"/>
<g stroke-width="21.0" stroke-linecap="round" fill="none">
<path stroke="#ffff80" d="M611.0,633.6h0M634.5,633.6h0M704.8,633.6h0M728.2,633.6h0M751.7,633.6h0M611.0,659.2h0M634.5,659.2h0M681.4,659.2h0M704.8,659.2h0M728.2,659.2h0M634.5,684.8h0M704.8,684.8h0M728.2,684.8h0M704.8,710.4h0M728.2,710.4h0M634.5,736.0h0M657.9,736.0h0M681.4,736.0h0M704.8,736.0h0M939.3,736.0h0M657.9,761.6h0M681.4,761.6h0M704.8,761.6h0M728.2,761.6h0M822.0,761.6h0M892.4,761.6h0M939.3,761.6h0M681.4,787.1h0M704.8,787.1h0M728.2,787.1h0M751.7,787.1h0M775.1,787.1h0M798.6,787.1h0M822.0,787.1h0M845.5,787.1h0M869.0,787.1h0M892.4,787.1h0M939.3,787.1h0M704.8,812.7h0M728.2,812.7h0M751.7,812.7h0M775.1,812.7h0M798.6,812.7h0M822.0,812.7h0M845.5,812.7h0M869.0,812.7h0M892.4,812.7h0M915.8,812.7h0M939.3,812.7h0M704.8,838.3h0M728.2,838.3h0M751.7,838.3h0M775.1,838.3h0M798.6,838.3h0M822.0,838.3h0M845.5,838.3h0M869.0,838.3h0M892.4,838.3h0M915.8,838.3h0M939.3,838.3h0M681.4,863.9h0M704.8,863.9h0M728.2,863.9h0M751.7,863.9h0M775.1,863.9h0M798.6,863.9h0M822.0,863.9h0M845.5,863.9h0M869.0,863.9h0M892.4,863.9h0M939.3,863.9h0M634.5,889.5h0M704.8,889.5h0M869.0,889.5h0M915.8,889.5h0M939.3,889.5h0M611.0,915.1h0M634.5,915.1h0M704.8,915.1h0M915.8,915.1h0M939.3,915.1h0M611.0,940.7h0M704.8,940.7h0M892.4,940.7h0M915.8,940.7h0M939.3,940.7h0M611.0,966.3h0M704.8,966.3h0M728.2,966.3h0M751.7,966.3h0M915.8,966.3h0M939.3,966.3h0M751.7,991.9h0"/>
<path stroke="#ffff40" d="M657.9,633.6h0M681.4,633.6h0M775.1,633.6h0M798.6,633.6h0M657.9,659.2h0M751.7,659.2h0M775.1,659.2h0M611.0,684.8h0M657.9,684.8h0M681.4,684.8h0M751.7,684.8h0M611.0,710.4h0M634.5,710.4h0M657.9,710.4h0M681.4,710.4h0M751.7,710.4h0M892.4,710.4h0M915.8,710.4h0M939.3,710.4h0M611.0,736.0h0M751.7,736.0h0M845.5,736.0h0M869.0,736.0h0M892.4,736.0h0M611.0,761.6h0M634.5,761.6h0M751.7,761.6h0M775.1,761.6h0M798.6,761.6h0M845.5,761.6h0M869.0,761.6h0M611.0,787.1h0M634.5,787.1h0M657.9,787.1h0M657.9,812.7h0M681.4,812.7h0M657.9,838.3h0M681.4,838.3h0M611.0,863.9h0M634.5,863.9h0M657.9,863.9h0M611.0,889.5h0M657.9,889.5h0M798.6,889.5h0M822.0,889.5h0M845.5,889.5h0M892.4,889.5h0M681.4,915.1h0M845.5,915.1h0M869.0,915.1h0M892.4,915.1h0M681.4,940.7h0M845.5,940.7h0M892.4,966.3h0M634.5,991.9h0M681.4,991.9h0M728.2,991.9h0M775.1,991.9h0M869.0,991.9h0M915.8,991.9h0"/>
<path stroke="#ffff00" d="M822.0,633.6h0M845.5,633.6h0M798.6,659.2h0M822.0,659.2h0M915.8,659.2h0M939.3,659.2h0M775.1,684.8h0M798.6,684.8h0M822.0,684.8h0M845.5,684.8h0M869.0,684.8h0M892.4,684.8h0M915.8,684.8h0M939.3,684.8h0M775.1,710.4h0M798.6,710.4h0M822.0,710.4h0M845.5,710.4h0M869.0,710.4h0M775.1,736.0h0M798.6,736.0h0M822.0,736.0h0M611.0,812.7h0M634.5,812.7h0M611.0,838.3h0M634.5,838.3h0M728.2,889.5h0M751.7,889.5h0M775.1,889.5h0M657.9,915.1h0M728.2,915.1h0M751.7,915.1h0M775.1,915.1h0M798.6,915.1h0M822.0,915.1h0M634.5,940.7h0M728.2,940.7h0M751.7,940.7h0M775.1,940.7h0M798.6,940.7h0M822.0,940.7h0M869.0,940.7h0M634.5,966.3h0M657.9,966.3h0M681.4,966.3h0M775.1,966.3h0M798.6,966.3h0M822.0,966.3h0M845.5,966.3h0M869.0,966.3h0M611.0,991.9h0M657.9,991.9h0M704.8,991.9h0M798.6,991.9h0M822.0,991.9h0M845.5,991.9h0M892.4,991.9h0M939.3,991.9h0"/>
<path stroke="#ffea00" d="M869.0,633.6h0M892.4,633.6h0M939.3,633.6h0M845.5,659.2h0M869.0,659.2h0M892.4,659.2h0M657.9,940.7h0"/>
<path stroke="#ffd500" d="M915.8,633.6h0"/>
<path stroke="#ffff60" d="M728.2,736.0h0M915.8,736.0h0M915.8,761.6h0M915.8,787.1h0M915.8,863.9h0M681.4,889.5h0"/>
<path stroke="#ffff2f" d="M645.2,820.5h0"/>
<path stroke="#ffff6b" d="M738.5,781.6h0"/>
<path stroke="#ffff7e" d="M820.8,838.5h0"/>
<path stroke="#ffff86" d="M752.7,751.0h0"/>
<path stroke="#ffff85" d="M889.6,807.8h0"/>
<path stroke="#ffff31" d="M658.6,851.6h0"/>
<path stroke="#ffff8b" d="M809.8,788.7h0"/>
<path stroke="#ffff7c" d="M869.4,799.7h0"/>
<path stroke="#ffff78" d="M884.7,827.9h0"/>
<path stroke="#ffff68" d="M634.5,750.4h0"/>
<path stroke="#ffff6f" d="M715.6,760.0h0"/>
<path stroke="#ffff77" d="M793.0,812.1h0"/>
<path stroke="#ffff4b" d="M724.4,809.7h0"/>
<path stroke="#ffff4c" d="M712.9,789.5h0"/>
<path stroke="#ffff79" d="M876.3,834.5h0"/>
<path stroke="#ffff7a" d="M691.8,759.7h0"/>
<path stroke="#ffff7c" d="M805.7,827.0h0"/>
<path stroke="#ffff7c" d="M609.2,743.2h0"/>
<path stroke="#ffff45" d="M734.4,827.2h0"/>
<path stroke="#ffff41" d="M652.6,795.5h0"/>
<path stroke="#ffff47" d="M691.7,787.5h0"/>
<path stroke="#ffff48" d="M606.0,759.1h0"/>
<path stroke="#ffff8d" d="M779.6,788.1h0"/>
<path stroke="#ffff3d" d="M619.7,800.7h0"/>
<path stroke="#ffff4e" d="M704.5,833.7h0"/>
<path stroke="#ffff46" d="M645.1,866.8h0"/>
<path stroke="#ffff65" d="M728.1,781.9h0"/>
<path stroke="#ffff8f" d="M880.6,863.7h0"/>
<path stroke="#ffff78" d="M755.7,820.2h0"/>
<path stroke="#ffff31" d="M628.4,773.9h0"/>
<path stroke="#ffff45" d="M734.4,833.2h0"/>
<path stroke="#ffff74" d="M746.2,787.0h0"/>
<path stroke="#ffff87" d="M711.6,743.6h0"/>
<path stroke="#ffff82" d="M780.1,835.7h0"/>
<path stroke="#ffff8a" d="M787.0,821.7h0"/>
<path stroke="#ffff2f" d="M704.7,822.8h0"/>
<path stroke="#ffff49" d="M656.0,762.3h0"/>
<path stroke="#ffff4c" d="M655.1,772.9h0"/>
<path stroke="#ffff3c" d="M662.0,861.5h0"/>
<path stroke="#ffff85" d="M774.5,839.5h0"/>
<path stroke="#ffff83" d="M850.2,799.5h0"/>
<path stroke="#ffff52" d="M733.8,814.4h0"/>
<path stroke="#ffff2a" d="M605.0,849.0h0"/>
<path stroke="#ffff6f" d="M840.4,808.6h0"/>
<path stroke="#ffff8d" d="M886.1,863.6h0"/>
<path stroke="#ffff87" d="M755.8,761.9h0"/>
<path stroke="#ffff7b" d="M623.6,738.4h0"/>
<path stroke="#ffff2b" d="M604.4,807.6h0"/>
<path stroke="#ffff5e" d="M673.5,756.4h0"/>
<path stroke="#ffff36" d="M649.9,824.1h0"/>
<path stroke="#ffff35" d="M639.1,795.6h0"/>
<path stroke="#ffff78" d="M747.2,861.1h0"/>
<path stroke="#ffff4c" d="M626.7,789.7h0"/>
<path stroke="#ffff46" d="M687.3,865.7h0"/>
<path stroke="#ffff30" d="M622.0,863.2h0"/>
<path stroke="#ffff1b" d="M632.1,838.0h0"/>
<path stroke="#ffff76" d="M833.2,834.4h0"/>
<path stroke="#ffff33" d="M698.0,796.3h0"/>
<path stroke="#ffff70" d="M757.7,851.5h0"/>
<path stroke="#ffff40" d="M685.2,812.7h0"/>
<path stroke="#ffff50" d="M722.4,801.8h0"/>
<path stroke="#ffff30" d="M681.2,864.8h0"/>
<path stroke="#ffff50" d="M681.8,847.0h0"/>
<path stroke="#ffff90" d="M787.3,800.5h0"/>
<path stroke="#ffff70" d="M784.6,846.8h0"/>
<path stroke="#ffff66" d="M697.2,771.2h0"/>
<path stroke="#ffff7f" d="M846.5,853.0h0"/>
<path stroke="#ffff48" d="M680.7,795.0h0"/>
<path stroke="#ffff72" d="M878.9,796.1h0"/>
<path stroke="#ffff4d" d="M603.3,787.4h0"/>
<path stroke="#ffff37" d="M717.3,821.3h0"/>
<path stroke="#ffff76" d="M821.4,827.4h0"/>
<path stroke="#ffff79" d="M697.2,747.9h0"/>
<path stroke="#ffff52" d="M644.6,749.9h0"/>
<path stroke="#ffff6f" d="M699.1,762.1h0"/>
<path stroke="#ffff57" d="M614.8,746.1h0"/>
<path stroke="#ffff36" d="M704.2,851.4h0"/>
<path stroke="#ffff89" d="M803.9,775.5h0"/>
<path stroke="#ffff2f" d="M621.0,850.6h0"/>
<path stroke="#ffff87" d="M856.6,846.3h0"/>
<path stroke="#ffff86" d="M710.3,734.1h0"/>
<path stroke="#ffff7a" d="M745.8,845.6h0"/>
<path stroke="#ffff83" d="M793.0,850.5h0"/>
<path stroke="#ffff80" d="M779.3,859.1h0"/>
<path stroke="#ffff84" d="M865.2,853.7h0"/>
<path stroke="#ffff3f" d="M603.1,770.4h0"/>
<path stroke="#ffff48" d="M665.4,851.7h0"/>
<path stroke="#ffff8b" d="M845.5,794.4h0"/>
<path stroke="#ffff45" d="M640.3,852.2h0"/>
<path stroke="#ffff7e" d="M830.4,823.5h0"/>
<path stroke="#ffff76" d="M806.0,811.5h0"/>
<path stroke="#ffff3e" d="M629.7,761.7h0"/>
<path stroke="#ffff83" d="M738.0,738.0h0"/>
<path stroke="#ffff63" d="M733.2,776.1h0"/>
<path stroke="#ffff81" d="M854.1,833.7h0"/>
<path stroke="#ffff2b" d="M639.4,814.1h0"/>
<path stroke="#ffff82" d="M803.5,838.1h0"/>
<path stroke="#ffff39" d="M620.8,761.8h0"/>
<path stroke="#ffff88" d="M834.6,851.3h0"/>
<path stroke="#ffff76" d="M892.3,801.5h0"/>
<path stroke="#ffff82" d="M791.2,823.3h0"/>
<path stroke="#ffff69" d="M752.5,811.6h0"/>
<path stroke="#ffff86" d="M768.3,813.1h0"/>
<path stroke="#ffff8d" d="M770.7,866.3h0"/>
<path stroke="#ffff7f" d="M760.6,796.9h0"/>
<path stroke="#ffff7c" d="M822.9,860.5h0"/>
<path stroke="#ffff5e" d="M665.5,759.9h0"/>
<path stroke="#ffff86" d="M796.1,840.9h0"/>
<path stroke="#ffff36" d="M693.7,837.9h0"/>
<path stroke="#ffff79" d="M868.6,862.4h0"/>
<path stroke="#ffff7f" d="M833.6,787.7h0"/>
<path stroke="#ffff8e" d="M768.2,785.4h0"/>
<path stroke="#ffff62" d="M738.5,847.1h0"/>
<path stroke="#ffff18" d="M621.2,808.8h0"/>
<path stroke="#ffff74" d="M841.6,825.7h0"/>
<path stroke="#ffff73" d="M829.5,800.2h0"/>
<path stroke="#ffff70" d="M726.8,772.1h0"/>
<path stroke="#ffff33" d="M693.9,823.9h0"/>
<path stroke="#ffff3d" d="M704.1,810.3h0"/>
<path stroke="#ffff82" d="M863.4,835.1h0"/>
<path stroke="#ffff3f" d="M700.3,788.1h0"/>
<path stroke="#ffff89" d="M829.0,814.3h0"/>
<path stroke="#ffff85" d="M693.8,750.8h0"/>
<path stroke="#ffff90" d="M793.4,860.0h0"/>
<path stroke="#ffff90" d="M816.0,815.8h0"/>
<path stroke="#ffff7e" d="M839.0,836.9h0"/>
<path stroke="#ffff80" d="M692.1,733.5h0"/>
<path stroke="#ffff39" d="M717.4,807.6h0"/>
<path stroke="#ffff2a" d="M635.6,853.8h0"/>
<path stroke="#ffff84" d="M750.6,776.9h0"/>
<path stroke="#ffff52" d="M717.2,846.1h0"/>
<path stroke="#ffff7c" d="M736.0,758.3h0"/>
<path stroke="#ffff3e" d="M687.5,851.3h0"/>
<path stroke="#ffff3f" d="M621.2,776.7h0"/>
<path stroke="#ffff48" d="M639.2,760.7h0"/>
<path stroke="#ffff82" d="M728.7,756.4h0"/>
<path stroke="#ffff72" d="M791.4,798.1h0"/>
<path stroke="#ffff46" d="M691.1,794.4h0"/>
<path stroke="#ffff8d" d="M865.0,821.0h0"/>
<path stroke="#ffff79" d="M876.7,828.1h0"/>
<path stroke="#ffff76" d="M657.1,744.3h0"/>
<path stroke="#ffff81" d="M810.3,796.5h0"/>
<path stroke="#ffff60" d="M668.9,749.5h0"/>
<path stroke="#ffff73" d="M744.8,762.4h0"/>
<path stroke="#ffff64" d="M734.4,859.7h0"/>
<path stroke="#ffff53" d="M679.8,777.4h0"/>
<path stroke="#ffff72" d="M755.5,771.4h0"/>
<path stroke="#ffff41" d="M634.3,863.1h0"/>
<path stroke="#ffff8b" d="M775.7,802.8h0"/>
<path stroke="#ffff8b" d="M817.0,853.8h0"/>
<path stroke="#ffff77" d="M857.6,782.0h0"/>
<path stroke="#ffff67" d="M725.4,864.2h0"/>
<path stroke="#ffff26" d="M608.5,832.7h0"/>
<path stroke="#ffff31" d="M666.3,821.3h0"/>
<path stroke="#ffff2f" d="M700.1,863.0h0"/>
<path stroke="#ffff7d" d="M855.4,822.1h0"/>
<path stroke="#ffff2d" d="M617.6,836.9h0"/>
<path stroke="#ffff24" d="M603.7,827.1h0"/>
<path stroke="#ffff34" d="M620.7,784.7h0"/>
<path stroke="#ffff77" d="M798.7,775.3h0"/>
<path stroke="#ffff64" d="M739.0,799.4h0"/>
<path stroke="#ffff44" d="M668.6,834.8h0"/>
<path stroke="#ffff79" d="M721.1,737.5h0"/>
<path stroke="#ffff35" d="M663.2,787.5h0"/>
<path stroke="#ffff77" d="M846.3,787.9h0"/>
<path stroke="#ffff83" d="M747.1,734.0h0"/>
<path stroke="#ffff7b" d="M807.4,853.1h0"/>
<path stroke="#ffff30" d="M658.9,788.8h0"/>
<path stroke="#ffff20" d="M634.3,813.2h0"/>
<path stroke="#ffff35" d="M709.8,800.6h0"/>
<path stroke="#ffff8a" d="M892.9,840.9h0"/>
<path stroke="#ffff3a" d="M716.5,841.1h0"/>
<path stroke="#ffff46" d="M608.4,859.3h0"/>
<path stroke="#ffff83" d="M699.7,735.9h0"/>
<path stroke="#ffff72" d="M756.1,748.8h0"/>
<path stroke="#ffff62" d="M762.6,812.2h0"/>
<path stroke="#ffff8d" d="M734.1,744.9h0"/>
<path stroke="#ffff81" d="M767.6,849.8h0"/>
<path stroke="#ffff7b" d="M809.5,858.8h0"/>
<path stroke="#ffff85" d="M677.3,750.9h0"/>
<path stroke="#ffff30" d="M663.6,814.7h0"/>
<path stroke="#ffff8b" d="M771.3,770.5h0"/>
<path stroke="#ffff89" d="M862.2,807.3h0"/>
<path stroke="#ffff39" d="M726.5,825.3h0"/>
<path stroke="#ffff71" d="M833.9,862.1h0"/>
<path stroke="#ffff38" d="M642.6,837.5h0"/>
<path stroke="#ffff6f" d="M853.6,865.5h0"/>
<path stroke="#ffff86" d="M756.5,789.7h0"/>
<path stroke="#ffff32" d="M675.8,826.4h0"/>
<path stroke="#ffff87" d="M879.1,811.7h0"/>
<path stroke="#ffff4e" d="M654.6,859.3h0"/>
<path stroke="#ffff81" d="M795.5,789.2h0"/>
<path stroke="#ffff75" d="M751.8,800.4h0"/>
<path stroke="#ffff73" d="M814.6,788.3h0"/>
<path stroke="#ffff46" d="M722.7,846.6h0"/>
<path stroke="#ffff85" d="M756.3,836.5h0"/>
<path stroke="#ffff71" d="M694.2,772.2h0"/>
<path stroke="#ffff76" d="M837.6,863.3h0"/>
<path stroke="#ffff1d" d="M608.1,802.0h0"/>
<path stroke="#ffff78" d="M881.8,850.5h0"/>
<path stroke="#ffff3f" d="M665.4,801.2h0"/>
<path stroke="#ffff8d" d="M822.5,796.1h0"/>
<path stroke="#ffff86" d="M780.4,810.7h0"/>
<path stroke="#ffff7e" d="M857.2,807.8h0"/>
<path stroke="#ffff32" d="M641.1,776.8h0"/>
<path stroke="#ffff34" d="M725.9,836.1h0"/>
<path stroke="#ffff33" d="M657.4,840.2h0"/>
<path stroke="#ffff23" d="M621.2,822.8h0"/>
<path stroke="#ffff34" d="M673.6,839.5h0"/>
<path stroke="#ffff4c" d="M638.5,781.5h0"/>
<path stroke="#ffff1c" d="M654.3,813.7h0"/>
<path stroke="#ffff71" d="M727.8,743.9h0"/>
<path stroke="#ffff77" d="M717.6,771.3h0"/>
<path stroke="#ffff37" d="M680.0,783.9h0"/>
<path stroke="#ffff66" d="M744.1,838.9h0"/>
<path stroke="#ffff34" d="M677.1,810.9h0"/>
<path stroke="#ffff7f" d="M874.9,787.7h0"/>
<path stroke="#ffff71" d="M891.5,846.6h0"/>
<path stroke="#ffff4d" d="M712.7,858.8h0"/>
<path stroke="#ffff78" d="M762.3,863.6h0"/>
<path stroke="#ffff71" d="M780.2,772.5h0"/>
<path stroke="#ffff70" d="M773.2,826.2h0"/>
<path stroke="#ffff1e" d="M631.6,822.2h0"/>
<path stroke="#ffff26" d="M627.6,799.2h0"/>
<path stroke="#ffff5d" d="M745.2,828.3h0"/>
<path stroke="#ffff45" d="M662.5,769.1h0"/>
<path stroke="#ffff80" d="M632.1,672.0h0"/>
<path stroke="#ffff80" d="M629.8,991.9h0"/>
</g>
<path transform="translate(611.0,633.6)" d="M-2.4,-18.0 L-2.7,-8.7 L-4.3,4.9 L-7.4,23.5 L-12.4,42.1 L-14.8,53.3 L-16.3,57.6 M-16.3,304.7 L-12.4,312.8 L-6.2,320.2 L0.0,327.6 L4.4,336.3 L5.6,347.5 L5.0,357.4 L3.8,364.8 M-16.3,155.6 L-11.1,161.1 L-6.2,168.6 L-3.1,176.4 L0.7,182.6 L2.9,195.0 L0.0,207.4 L-0.6,221.0 L1.5,233.4 L0.7,245.8 L-1.2,260.7 L-2.2,273.1 L0.0,284.9 L5.0,288.6 L13.7,290.7 L16.2,299.1 L18.0,310.3 L21.7,321.4 L24.8,335.1 L29.2,345.0 L33.5,354.9 L36.6,364.8 M35.1,-18.0 L33.5,-7.5 L31.3,3.1 L26.7,17.3 L21.7,33.4 L18.0,50.8 L15.5,65.7 L13.7,79.3 L10.0,90.5 L3.1,102.9 L-4.9,117.1 L6.2,127.1 L14.9,136.4 L22.4,146.3 L27.3,156.2 L32.3,169.8 L35.4,176.4 L38.2,182.6 L31.7,195.0 L31.3,208.6 L25.5,221.0 L23.6,233.4 L21.1,246.8 L25.5,253.2 L30.4,260.7 L35.4,273.1 L34.1,286.7 L32.6,297.9 L36.0,309.0 L39.7,320.2 L42.2,332.6 L44.7,348.7 L49.6,357.4 L53.1,364.8 M64.1,-18.0 L64.3,-11.2 L62.7,1.2 L58.3,13.6 L54.6,28.5 L51.5,45.8 L49.0,63.2 L48.8,70.6 L49.9,79.3 L48.4,88.0 L45.3,96.7 L42.2,105.4 L43.4,110.3 L46.5,117.8 L53.4,128.9 L59.6,142.6 L65.8,156.2 L65.5,166.1 L62.7,174.8 L59.6,181.3 L54.6,196.2 L51.5,208.6 L48.4,221.0 L46.9,233.4 L47.2,245.8 L50.3,258.2 L52.1,274.3 L52.4,295.4 L53.4,309.0 L56.5,322.7 L58.3,332.6 L62.0,346.2 L67.0,356.1 L71.3,364.8 M97.6,-18.0 L98.0,-8.7 L97.1,2.4 L93.0,14.8 L88.1,28.5 L84.1,40.9 L83.5,53.3 L85.0,65.7 L86.8,79.3 L86.2,91.7 L81.9,102.9 L75.7,112.8 L72.6,118.4 L79.4,126.4 L87.5,132.0 L93.0,140.1 L96.8,148.7 L98.4,157.4 L97.4,168.6 L97.4,171.4 L93.7,182.6 L85.6,195.0 L74.4,207.4 L67.6,221.0 L65.1,233.4 L65.5,245.8 L67.0,270.6 L68.2,295.4 L68.2,320.2 L69.2,336.3 L73.2,347.5 L80.6,356.1 L85.6,361.7 L92.4,364.8 M133.3,-18.0 L135.6,-10.0 L135.6,2.4 L131.5,13.6 L125.9,29.7 L120.3,45.8 L117.6,54.3 L119.7,63.2 L122.8,73.1 L124.4,80.6 L122.8,91.7 L117.8,101.6 L111.6,111.6 L114.1,122.7 L121.6,133.9 L126.5,142.6 L130.9,152.5 L134.6,157.4 L131.5,166.1 L130.0,171.4 L124.0,187.5 L115.4,206.1 L107.3,212.3 L100.5,219.1 L90.6,235.9 L83.1,252.6 L82.5,270.6 L84.1,285.5 L81.9,299.1 L80.0,310.3 L80.6,320.2 L83.1,328.9 L86.8,332.6 L96.8,336.3 L107.9,335.3 L120.3,337.6 L131.5,339.0 L136.4,347.5 L142.6,357.4 L148.8,364.6 M167.4,-18.0 L171.1,-10.0 L173.9,-0.0 L172.4,11.1 L167.4,23.5 L161.2,38.4 L156.9,50.8 L155.6,63.2 L156.9,74.4 L158.5,80.6 L157.3,90.5 L152.5,101.6 L146.3,110.3 L138.9,116.5 L145.1,135.1 L151.3,147.5 L163.1,157.4 L167.4,169.8 L168.0,171.4 L163.7,181.3 L156.3,195.0 L147.6,208.6 L143.2,221.0 L134.0,226.6 L125.9,233.4 L123.4,240.8 L120.3,250.8 L114.1,263.2 L105.4,276.8 L99.9,288.0 L96.8,297.9 L98.6,307.8 L98.6,323.3 L107.9,326.4 L114.1,322.1 L120.9,315.2 L127.1,310.9 L131.5,304.7 L143.9,307.2 L148.2,314.0 L155.0,325.2 L166.8,333.8 L171.1,345.0 L173.4,353.7 L174.0,364.6 M201.7,-18.0 L208.6,-11.2 L211.3,2.4 L209.8,14.8 L201.1,31.0 L191.2,45.8 L185.0,54.5 L182.5,67.5 L193.7,79.3 L192.4,91.7 L183.8,105.4 L175.1,116.5 L170.7,129.5 L178.8,143.8 L187.5,156.2 L199.3,169.2 L200.5,183.2 L192.4,196.2 L181.9,208.6 L175.1,219.8 L161.4,229.7 L148.2,245.8 L149.4,258.2 L153.1,265.6 L158.7,273.1 L166.2,288.0 L177.6,296.6 L184.4,310.3 L187.5,326.4 L191.2,349.9 L187.5,364.6 M263.7,-18.0 L248.9,-17.6 L242.4,-10.2 L245.1,4.9 L247.2,16.1 L242.0,28.5 L234.6,40.9 L229.9,50.8 L228.4,58.2 L229.9,70.6 L229.9,83.0 L227.2,94.2 L221.0,106.6 L212.3,119.0 L203.6,130.8 L213.5,137.6 L221.0,147.5 L226.5,157.4 L229.6,169.8 L228.4,171.4 L230.9,183.2 L228.4,196.2 L218.5,209.8 L211.0,221.0 L206.1,230.9 L201.7,237.1 L190.0,230.9 L186.2,235.9 L183.8,245.8 L191.2,257.0 L197.4,265.6 L204.8,275.6 L211.0,285.5 L212.9,297.9 L212.3,311.5 L206.7,323.9 L205.5,336.3 L204.6,351.2 L205.1,364.6 M336.3,-18.0 L330.7,-11.8 L315.2,-3.1 L295.4,5.8 L283.6,3.1 L282.3,17.3 L280.5,29.7 L273.0,43.4 L268.1,55.8 L266.2,68.2 L266.6,80.6 L264.4,94.2 L259.4,107.8 L252.0,122.7 L248.5,130.8 L249.2,143.8 L255.7,157.4 L260.6,168.6 L260.9,171.4 L262.5,178.8 L260.9,193.7 L257.5,207.4 L249.5,221.0 L238.3,225.3 L229.6,233.4 L227.2,245.8 L233.4,260.7 L240.8,275.6 L244.5,286.7 L243.9,299.1 L235.8,314.0 L228.4,326.4 L224.9,336.3 L224.7,351.2 L224.1,364.6 M342.7,22.9 L330.1,27.2 L318.9,32.8 L312.1,40.9 L307.1,55.8 L302.2,68.2 L299.1,81.8 L296.6,95.4 L292.9,109.1 L285.4,124.0 L280.5,135.1 L278.6,143.8 L283.0,153.7 L290.4,166.1 L292.3,171.4 L294.5,182.6 L289.8,198.7 L285.4,214.8 L283.6,221.0 L274.9,233.4 L260.6,239.0 L253.2,245.8 L265.6,258.2 L273.0,273.1 L276.8,284.2 L278.4,296.6 L274.3,310.3 L266.8,322.7 L250.7,336.3 L248.0,348.7 L245.1,364.6 M342.7,59.5 L338.7,66.9 L335.0,79.3 L330.1,90.5 L327.6,102.9 L325.7,118.4 L314.0,131.4 L307.1,143.8 L307.8,156.2 L315.2,162.4 L325.1,169.2 L325.7,171.4 L326.1,183.8 L323.9,198.7 L318.9,214.8 L315.8,227.2 L312.7,233.4 L306.5,239.0 L293.5,245.8 L297.8,260.7 L304.0,274.3 L307.8,286.7 L309.0,299.1 L308.4,311.5 L302.2,322.7 L288.5,335.1 L281.7,349.3 L288.3,364.6 M342.7,235.3 L338.7,243.3 L328.8,259.4 L336.3,271.8 L338.1,286.7 L338.4,299.1 L337.3,311.5 L337.9,322.7 L322.0,336.3 L317.1,349.9 L320.2,364.6" fill="none" stroke="#000" stroke-width="1.6" stroke-linejoin="round"/>
<path transform="translate(611.0,633.6)" d="M-4.9,117.1 L17.4,113.4 L42.2,110.3 L67.0,110.9 L85.6,112.8 L129.0,117.9 L167.6,123.3 L203.6,127.7 L248.2,133.9 L279.2,140.1 L306.5,146.9 L332.6,151.5 L340.0,152.9 M-13.6,259.4 L-1.2,257.0 L23.6,253.2 L48.4,250.1 L80.6,248.9 L98.0,249.3 L116.6,248.9 L134.0,245.8 L145.1,243.3 L160.0,241.5 L180.0,240.2 L228.4,242.7 L278.0,244.6 L300.3,244.6 L315.2,248.9 L330.1,255.7 L344.3,257.0" fill="none" stroke="#000" stroke-width="1.6" stroke-dasharray="12,5.4"/>
<path d="M952.2,841.6 Q916.0,823.6 875.0,818.2" fill="none" stroke="#f08c00" stroke-width="5.2"/>
<path d="M850.6,814.3 L879.7,811.0 L877.0,818.6 L877.8,826.2 Z" fill="#f08c00"/>
<path d="M710.5,725.6 L724.5,754.0 L696.5,754.0 Z" fill="#fff" stroke="#5c2483" stroke-width="4.6" stroke-miterlimit="10"/>
<path d="M741.0,739.8 L755.2,768.5 L726.8,768.5 Z" fill="#fff" stroke="#5c2483" stroke-width="4.6" stroke-miterlimit="10"/>
<path d="M769.7,750.3 L784.0,778.3 L755.4,778.3 Z" fill="#fff" stroke="#5c2483" stroke-width="4.6" stroke-miterlimit="10"/>
<path d="M709.4,855.1 L723.7,883.4 L695.1,883.4 Z" fill="#fff" stroke="#5c2483" stroke-width="4.6" stroke-miterlimit="10"/>
<path d="M773.4,848.1 L788.0,876.2 L758.8,876.2 Z" fill="#fff" stroke="#5c2483" stroke-width="4.6" stroke-miterlimit="10"/>
<path d="M803.9,681.0h14.0v-14.0h8.7v14.0h14.0v8.7h-14.0v14.0h-8.7v-14.0h-14.0z" fill="#0000ff"/>
<text x="775.8" y="591.0" font-size="38" text-anchor="middle" font-weight="normal" stroke="#000" stroke-width="0.9">2</text>
<text x="579.7" y="658.0" font-size="33.8" text-anchor="end" font-weight="normal" stroke="#000" stroke-width="0.9">150</text>
<text x="578.9" y="821.9" font-size="33.8" text-anchor="end" font-weight="normal" stroke="#000" stroke-width="0.9">0</text>
<text x="582.9" y="985.2" font-size="33.8" text-anchor="end" font-weight="normal" stroke="#000" stroke-width="0.9">-150</text>
<text x="605.4" y="1032.9" font-size="34.3" text-anchor="middle" font-weight="normal" stroke="#000" stroke-width="0.9">-150</text>
<text x="762.8" y="1032.9" font-size="34.3" text-anchor="middle" font-weight="normal" stroke="#000" stroke-width="0.9">0</text>
<text x="943.8" y="1032.9" font-size="34.3" text-anchor="middle" font-weight="normal" stroke="#000" stroke-width="0.9">150</text>
</g>
<g>
<path d="M1067.3,615.6 V998.0 H1426.0" fill="none" stroke="#000" stroke-width="1.5"/>
<path d="M1059.4,650.8h12.4" stroke="#000" stroke-width="1.3"/>
<path d="M1059.4,809.2h12.4" stroke="#000" stroke-width="1.3"/>
<path d="M1059.4,977.8h12.4" stroke="#000" stroke-width="1.3"/>
<g stroke-width="21.0" stroke-linecap="round" fill="none">
<path stroke="#ffff40" d="M1084.0,633.6h0M1107.5,633.6h0M1130.9,633.6h0M1154.3,633.6h0M1177.8,633.6h0M1201.2,633.6h0M1224.7,633.6h0M1271.6,633.6h0M1084.0,659.2h0M1107.5,659.2h0M1130.9,659.2h0M1154.3,659.2h0M1177.8,659.2h0M1201.2,659.2h0M1224.7,659.2h0M1248.2,659.2h0M1271.6,659.2h0M1084.0,684.8h0M1107.5,684.8h0M1130.9,684.8h0M1154.3,684.8h0M1177.8,684.8h0M1201.2,684.8h0M1224.7,684.8h0M1084.0,710.4h0M1107.5,710.4h0M1130.9,710.4h0M1154.3,710.4h0M1177.8,710.4h0M1201.2,710.4h0M1224.7,710.4h0M1248.2,710.4h0M1084.0,736.0h0M1107.5,736.0h0M1130.9,736.0h0M1154.3,736.0h0M1177.8,736.0h0M1201.2,736.0h0M1224.7,736.0h0M1412.3,736.0h0M1084.0,761.6h0M1107.5,761.6h0M1130.9,761.6h0M1154.3,761.6h0M1177.8,761.6h0M1201.2,761.6h0M1342.0,761.6h0M1365.4,761.6h0M1388.8,761.6h0M1412.3,761.6h0M1084.0,787.1h0M1107.5,787.1h0M1130.9,787.1h0M1154.3,787.1h0M1177.8,787.1h0M1201.2,787.1h0M1224.7,787.1h0M1248.2,787.1h0M1271.6,787.1h0M1295.0,787.1h0M1318.5,787.1h0M1342.0,787.1h0M1365.4,787.1h0M1388.8,787.1h0M1412.3,787.1h0M1177.8,812.7h0M1201.2,812.7h0M1224.7,812.7h0M1248.2,812.7h0M1271.6,812.7h0M1295.0,812.7h0M1318.5,812.7h0M1342.0,812.7h0M1365.4,812.7h0M1388.8,812.7h0M1412.3,812.7h0M1177.8,838.3h0M1201.2,838.3h0M1224.7,838.3h0M1248.2,838.3h0M1271.6,838.3h0M1295.0,838.3h0M1318.5,838.3h0M1342.0,838.3h0M1365.4,838.3h0M1388.8,838.3h0M1412.3,838.3h0M1084.0,863.9h0M1107.5,863.9h0M1130.9,863.9h0M1154.3,863.9h0M1177.8,863.9h0M1201.2,863.9h0M1224.7,863.9h0M1248.2,863.9h0M1271.6,863.9h0M1295.0,863.9h0M1318.5,863.9h0M1342.0,863.9h0M1365.4,863.9h0M1412.3,863.9h0M1084.0,889.5h0M1107.5,889.5h0M1130.9,889.5h0M1154.3,889.5h0M1271.6,889.5h0M1342.0,889.5h0M1365.4,889.5h0M1412.3,889.5h0M1084.0,915.1h0M1107.5,915.1h0M1130.9,915.1h0M1154.3,915.1h0M1342.0,915.1h0M1365.4,915.1h0M1412.3,915.1h0M1084.0,940.7h0M1107.5,940.7h0M1130.9,940.7h0M1154.3,940.7h0M1318.5,940.7h0M1342.0,940.7h0M1365.4,940.7h0M1412.3,940.7h0M1084.0,966.3h0M1107.5,966.3h0M1130.9,966.3h0M1154.3,966.3h0M1224.7,966.3h0M1342.0,966.3h0M1365.4,966.3h0M1388.8,966.3h0M1412.3,966.3h0M1388.8,991.9h0M1412.3,991.9h0"/>
<path stroke="#ffff00" d="M1248.2,633.6h0M1295.0,633.6h0M1318.5,633.6h0M1342.0,633.6h0M1365.4,633.6h0M1388.8,633.6h0M1295.0,659.2h0M1318.5,659.2h0M1248.2,684.8h0M1271.6,684.8h0M1295.0,684.8h0M1412.3,684.8h0M1271.6,710.4h0M1365.4,710.4h0M1388.8,710.4h0M1412.3,710.4h0M1248.2,736.0h0M1318.5,736.0h0M1342.0,736.0h0M1365.4,736.0h0M1388.8,736.0h0M1224.7,761.6h0M1248.2,761.6h0M1295.0,761.6h0M1318.5,761.6h0M1084.0,812.7h0M1107.5,812.7h0M1130.9,812.7h0M1154.3,812.7h0M1084.0,838.3h0M1107.5,838.3h0M1130.9,838.3h0M1154.3,838.3h0M1177.8,889.5h0M1201.2,889.5h0M1224.7,889.5h0M1248.2,889.5h0M1295.0,889.5h0M1318.5,889.5h0M1177.8,915.1h0M1201.2,915.1h0M1224.7,915.1h0M1271.6,915.1h0M1295.0,915.1h0M1318.5,915.1h0M1177.8,940.7h0M1201.2,940.7h0M1224.7,940.7h0M1248.2,940.7h0M1177.8,966.3h0M1201.2,966.3h0M1248.2,966.3h0M1318.5,966.3h0M1084.0,991.9h0M1107.5,991.9h0M1130.9,991.9h0M1154.3,991.9h0M1177.8,991.9h0M1201.2,991.9h0M1224.7,991.9h0M1248.2,991.9h0M1271.6,991.9h0M1342.0,991.9h0M1365.4,991.9h0"/>
<path stroke="#ffea00" d="M1412.3,633.6h0M1342.0,659.2h0M1365.4,659.2h0M1388.8,659.2h0M1412.3,659.2h0M1318.5,684.8h0M1388.8,684.8h0M1295.0,710.4h0M1318.5,710.4h0M1342.0,710.4h0M1271.6,761.6h0M1271.6,940.7h0M1295.0,940.7h0M1271.6,966.3h0M1295.0,966.3h0M1295.0,991.9h0M1318.5,991.9h0"/>
<path stroke="#ffd500" d="M1342.0,684.8h0M1365.4,684.8h0M1271.6,736.0h0M1295.0,736.0h0M1248.2,915.1h0"/>
<path stroke="#ffff80" d="M1388.8,863.9h0M1388.8,889.5h0M1388.8,915.1h0M1388.8,940.7h0"/>
<path stroke="#ffff11" d="M1225.5,760.7h0"/>
<path stroke="#ffff26" d="M1222.7,808.3h0"/>
<path stroke="#ffff0c" d="M1141.5,852.7h0"/>
<path stroke="#ffff00" d="M1175.7,850.7h0"/>
<path stroke="#ffff3e" d="M1195.3,744.8h0"/>
<path stroke="#ffff39" d="M1244.7,846.2h0"/>
<path stroke="#ffff50" d="M1312.9,840.4h0"/>
<path stroke="#ffff3e" d="M1196.3,786.9h0"/>
<path stroke="#ffff03" d="M1197.0,827.5h0"/>
<path stroke="#fffb00" d="M1123.4,811.3h0"/>
<path stroke="#ffff43" d="M1170.7,744.4h0"/>
<path stroke="#ffff40" d="M1190.4,797.7h0"/>
<path stroke="#ffff4e" d="M1162.4,764.2h0"/>
<path stroke="#ffff32" d="M1137.5,788.9h0"/>
<path stroke="#ffff4b" d="M1362.8,865.7h0"/>
<path stroke="#fff500" d="M1182.5,839.5h0"/>
<path stroke="#ffff3d" d="M1146.3,785.9h0"/>
<path stroke="#ffff08" d="M1175.5,835.7h0"/>
<path stroke="#fff200" d="M1230.3,774.6h0"/>
<path stroke="#fff000" d="M1224.9,783.6h0"/>
<path stroke="#ffff34" d="M1229.8,862.2h0"/>
<path stroke="#ffff0b" d="M1165.8,839.8h0"/>
<path stroke="#ffff36" d="M1284.2,785.0h0"/>
<path stroke="#ffff30" d="M1176.7,762.5h0"/>
<path stroke="#ffff1e" d="M1141.0,798.3h0"/>
<path stroke="#ffff2c" d="M1256.1,847.8h0"/>
<path stroke="#ffff2f" d="M1335.6,783.6h0"/>
<path stroke="#ffff2c" d="M1306.8,786.4h0"/>
<path stroke="#ffff2f" d="M1351.0,801.7h0"/>
<path stroke="#ffff0f" d="M1187.6,866.3h0"/>
<path stroke="#ffff4c" d="M1119.9,758.9h0"/>
<path stroke="#ffff30" d="M1299.4,825.6h0"/>
<path stroke="#ffff1b" d="M1223.3,825.1h0"/>
<path stroke="#fffb00" d="M1176.9,859.2h0"/>
<path stroke="#ffff13" d="M1124.5,784.9h0"/>
<path stroke="#ffff44" d="M1288.4,828.5h0"/>
<path stroke="#ffff07" d="M1163.4,814.8h0"/>
<path stroke="#ffff4a" d="M1276.8,841.1h0"/>
<path stroke="#ffff2b" d="M1107.1,777.3h0"/>
<path stroke="#ffff42" d="M1131.5,745.0h0"/>
<path stroke="#ffff08" d="M1207.0,823.4h0"/>
<path stroke="#ffff37" d="M1353.5,832.7h0"/>
<path stroke="#ffff2f" d="M1134.7,859.4h0"/>
<path stroke="#ffff0d" d="M1089.7,823.6h0"/>
<path stroke="#ffff28" d="M1255.6,812.3h0"/>
<path stroke="#ffff1f" d="M1102.0,784.3h0"/>
<path stroke="#ffff0d" d="M1182.6,847.9h0"/>
<path stroke="#ffff3e" d="M1128.1,863.1h0"/>
<path stroke="#ffff39" d="M1304.0,811.7h0"/>
<path stroke="#ffff38" d="M1277.5,822.1h0"/>
<path stroke="#ffff49" d="M1162.0,734.7h0"/>
<path stroke="#ffff49" d="M1147.5,747.3h0"/>
<path stroke="#ffff01" d="M1163.7,852.0h0"/>
<path stroke="#ffff28" d="M1235.1,812.4h0"/>
<path stroke="#ffff4d" d="M1163.5,788.2h0"/>
<path stroke="#ffff4b" d="M1077.2,735.7h0"/>
<path stroke="#ffff4f" d="M1314.5,847.5h0"/>
<path stroke="#ffff42" d="M1303.3,840.0h0"/>
<path stroke="#ffff06" d="M1117.8,824.9h0"/>
<path stroke="#ffff29" d="M1283.7,800.3h0"/>
<path stroke="#ffff4b" d="M1289.5,861.6h0"/>
<path stroke="#ffff35" d="M1256.9,858.7h0"/>
<path stroke="#ffff2f" d="M1264.0,826.6h0"/>
<path stroke="#ffff23" d="M1177.0,809.7h0"/>
<path stroke="#ffff3d" d="M1313.0,821.9h0"/>
<path stroke="#ffff44" d="M1076.6,785.6h0"/>
<path stroke="#ffff48" d="M1246.6,813.3h0"/>
<path stroke="#fffc00" d="M1079.4,848.9h0"/>
<path stroke="#ffff2d" d="M1198.7,760.0h0"/>
<path stroke="#ffff46" d="M1155.3,770.7h0"/>
<path stroke="#ffff33" d="M1104.9,760.1h0"/>
<path stroke="#ffff32" d="M1244.1,823.5h0"/>
<path stroke="#ffff4d" d="M1247.1,865.6h0"/>
<path stroke="#ffff3f" d="M1317.4,801.5h0"/>
<path stroke="#ffff39" d="M1181.6,760.3h0"/>
<path stroke="#ffff02" d="M1131.5,826.0h0"/>
<path stroke="#ffff01" d="M1125.8,837.7h0"/>
<path stroke="#ffff12" d="M1163.0,801.9h0"/>
<path stroke="#ffff02" d="M1166.7,864.9h0"/>
<path stroke="#ffff31" d="M1236.1,748.7h0"/>
<path stroke="#ffff1c" d="M1319.6,789.3h0"/>
<path stroke="#ffff2d" d="M1205.1,813.4h0"/>
<path stroke="#ffff03" d="M1194.7,859.4h0"/>
<path stroke="#ffff31" d="M1230.9,853.8h0"/>
<path stroke="#ffff1c" d="M1260.8,772.5h0"/>
<path stroke="#ffff31" d="M1314.0,862.5h0"/>
<path stroke="#ffff26" d="M1257.3,821.8h0"/>
<path stroke="#ffff3f" d="M1207.9,736.3h0"/>
<path stroke="#fff700" d="M1230.2,796.8h0"/>
<path stroke="#ffff15" d="M1101.8,808.2h0"/>
<path stroke="#ffff10" d="M1148.9,850.4h0"/>
<path stroke="#fffb00" d="M1085.1,823.4h0"/>
<path stroke="#fffd00" d="M1091.7,808.2h0"/>
<path stroke="#ffff2f" d="M1076.3,774.7h0"/>
<path stroke="#ffff30" d="M1365.4,852.4h0"/>
<path stroke="#ffff44" d="M1271.2,861.0h0"/>
<path stroke="#ffff4a" d="M1083.9,756.4h0"/>
<path stroke="#ffff26" d="M1258.2,801.8h0"/>
<path stroke="#fffc00" d="M1240.8,787.1h0"/>
<path stroke="#ffff32" d="M1153.2,797.2h0"/>
<path stroke="#ffff3a" d="M1283.0,809.3h0"/>
<path stroke="#ffff34" d="M1251.8,835.9h0"/>
<path stroke="#ffff07" d="M1118.7,795.8h0"/>
<path stroke="#ffff1d" d="M1208.2,784.0h0"/>
<path stroke="#fffa00" d="M1119.7,810.7h0"/>
<path stroke="#ffff31" d="M1148.8,760.8h0"/>
<path stroke="#ffff0f" d="M1108.3,820.3h0"/>
<path stroke="#ffff43" d="M1140.6,745.0h0"/>
<path stroke="#ffff01" d="M1084.6,815.0h0"/>
<path stroke="#ffff05" d="M1218.7,798.6h0"/>
<path stroke="#ffff4d" d="M1336.7,862.6h0"/>
<path stroke="#ffff3f" d="M1286.9,814.7h0"/>
<path stroke="#ffff0f" d="M1218.4,768.9h0"/>
<path stroke="#ffff29" d="M1329.4,802.5h0"/>
<path stroke="#ffff3a" d="M1322.3,860.2h0"/>
<path stroke="#ffff08" d="M1208.0,860.7h0"/>
<path stroke="#ffff40" d="M1358.5,832.9h0"/>
<path stroke="#ffff0e" d="M1234.7,756.8h0"/>
<path stroke="#ffff35" d="M1165.4,775.2h0"/>
<path stroke="#ffff04" d="M1084.6,863.8h0"/>
<path stroke="#ffff1b" d="M1208.3,853.0h0"/>
<path stroke="#ffff13" d="M1188.0,824.4h0"/>
<path stroke="#ffff33" d="M1294.6,835.0h0"/>
<path stroke="#ffff25" d="M1201.1,776.2h0"/>
<path stroke="#ffff35" d="M1189.2,789.2h0"/>
<path stroke="#ffff18" d="M1115.8,787.0h0"/>
<path stroke="#ffff08" d="M1141.7,808.8h0"/>
<path stroke="#ffff43" d="M1084.9,747.7h0"/>
<path stroke="#ffff37" d="M1360.7,795.4h0"/>
<path stroke="#ffff41" d="M1096.4,757.2h0"/>
<path stroke="#ffff3d" d="M1325.1,823.9h0"/>
<path stroke="#ffff33" d="M1099.9,750.6h0"/>
<path stroke="#ffff40" d="M1294.9,845.8h0"/>
<path stroke="#ffff11" d="M1087.7,850.7h0"/>
<path stroke="#ffff4f" d="M1305.4,846.9h0"/>
<path stroke="#ffff3e" d="M1184.3,749.5h0"/>
<path stroke="#ffff2f" d="M1170.6,800.8h0"/>
<path stroke="#ffff02" d="M1104.0,837.0h0"/>
<path stroke="#ffff09" d="M1149.6,826.6h0"/>
<path stroke="#ffff3e" d="M1307.8,866.4h0"/>
<path stroke="#ffff29" d="M1246.9,833.5h0"/>
<path stroke="#ffff3c" d="M1196.1,798.8h0"/>
<path stroke="#fff700" d="M1201.1,836.5h0"/>
<path stroke="#ffff32" d="M1174.3,784.8h0"/>
<path stroke="#ffff33" d="M1342.6,799.3h0"/>
<path stroke="#ffff39" d="M1103.3,859.5h0"/>
<path stroke="#ffff28" d="M1146.7,859.2h0"/>
<path stroke="#ffff29" d="M1221.5,849.9h0"/>
<path stroke="#fffc00" d="M1152.0,841.3h0"/>
<path stroke="#ffff35" d="M1130.6,772.1h0"/>
<path stroke="#ffff2c" d="M1138.6,772.0h0"/>
<path stroke="#ffff44" d="M1343.1,823.2h0"/>
<path stroke="#ffff33" d="M1352.1,824.9h0"/>
<path stroke="#ffff4b" d="M1319.1,812.8h0"/>
<path stroke="#ffff34" d="M1176.0,776.7h0"/>
<path stroke="#ffff43" d="M1223.5,734.1h0"/>
<path stroke="#ffff30" d="M1288.3,788.7h0"/>
<path stroke="#ffff2d" d="M1087.7,772.6h0"/>
<path stroke="#ffff0b" d="M1081.5,836.9h0"/>
<path stroke="#ffff24" d="M1095.6,789.3h0"/>
<path stroke="#ffff3a" d="M1187.1,735.8h0"/>
<path stroke="#ffff11" d="M1207.3,775.1h0"/>
<path stroke="#ffff3f" d="M1361.3,825.4h0"/>
<path stroke="#ffff1c" d="M1181.4,814.0h0"/>
<path stroke="#ffff4f" d="M1105.0,735.3h0"/>
<path stroke="#ffff19" d="M1269.4,811.3h0"/>
<path stroke="#ffff18" d="M1093.0,801.1h0"/>
<path stroke="#ffff45" d="M1275.8,865.9h0"/>
<path stroke="#ffff37" d="M1120.1,769.2h0"/>
<path stroke="#ffff31" d="M1211.7,744.9h0"/>
<path stroke="#ffff29" d="M1094.0,866.8h0"/>
<path stroke="#ffff4c" d="M1158.6,746.5h0"/>
<path stroke="#ffff4b" d="M1096.3,751.3h0"/>
<path stroke="#ffff26" d="M1108.1,849.6h0"/>
<path stroke="#fffe00" d="M1247.6,774.7h0"/>
<path stroke="#ffff09" d="M1213.2,763.6h0"/>
<path stroke="#ffff1b" d="M1223.8,832.8h0"/>
<path stroke="#ffff44" d="M1094.2,735.6h0"/>
<path stroke="#fff400" d="M1088.7,836.1h0"/>
<path stroke="#ffff09" d="M1198.6,850.8h0"/>
<path stroke="#ffff1e" d="M1327.7,788.1h0"/>
<path stroke="#ffff17" d="M1234.3,835.8h0"/>
<path stroke="#ffff1e" d="M1224.1,750.3h0"/>
<path stroke="#ffff39" d="M1114.6,745.3h0"/>
<path stroke="#ffff3d" d="M1340.9,834.8h0"/>
<path stroke="#ffff1c" d="M1107.6,799.5h0"/>
<path stroke="#ffff44" d="M1130.9,736.7h0"/>
<path stroke="#ffff3c" d="M1153.7,736.3h0"/>
<path stroke="#ffff10" d="M1212.0,797.2h0"/>
<path stroke="#ffff3e" d="M1323.2,833.9h0"/>
<path stroke="#ffff3b" d="M1340.7,812.8h0"/>
<path stroke="#ffff46" d="M1187.3,771.2h0"/>
<path stroke="#ffff4e" d="M1225.3,866.4h0"/>
<path stroke="#ffff0a" d="M1140.1,840.8h0"/>
<path stroke="#ffff3d" d="M1135.7,756.0h0"/>
<path stroke="#ffff2b" d="M1302.5,797.2h0"/>
<path stroke="#ffff05" d="M1212.3,838.0h0"/>
<path stroke="#ffff27" d="M1194.7,815.3h0"/>
<path stroke="#ffff40" d="M1326.1,808.7h0"/>
<path stroke="#ffff3d" d="M1278.0,851.1h0"/>
<path stroke="#ffff43" d="M1116.3,859.9h0"/>
<path stroke="#ffff31" d="M1352.6,853.6h0"/>
<path stroke="#ffff39" d="M1349.5,866.4h0"/>
<path stroke="#ffff48" d="M1353.6,815.8h0"/>
<path stroke="#ffff18" d="M1259.2,783.6h0"/>
<path stroke="#ffff0f" d="M1243.6,797.3h0"/>
<path stroke="#ffff1f" d="M1271.4,802.1h0"/>
<path stroke="#ffff3a" d="M1330.0,851.9h0"/>
<path stroke="#ffff1b" d="M1230.1,824.8h0"/>
<path stroke="#fff700" d="M1141.1,828.0h0"/>
<path stroke="#fff300" d="M1229.7,784.7h0"/>
<path stroke="#ffff10" d="M1173.4,824.6h0"/>
<path stroke="#ffff42" d="M1270.0,846.0h0"/>
<path stroke="#ffff29" d="M1115.9,849.1h0"/>
<path stroke="#ffff0e" d="M1153.8,815.0h0"/>
<path stroke="#ffff43" d="M1272.6,783.0h0"/>
<path stroke="#ffff2c" d="M1263.4,835.3h0"/>
<path stroke="#ffff48" d="M1131.3,759.9h0"/>
<path stroke="#ffff50" d="M1363.8,812.7h0"/>
<path stroke="#ffff42" d="M1341.9,851.9h0"/>
<path stroke="#ffff04" d="M1118.2,835.8h0"/>
<path stroke="#ffff3f" d="M1115.9,735.7h0"/>
<path stroke="#ffff1d" d="M1077.3,799.6h0"/>
<path stroke="#ffff1e" d="M1290.5,795.2h0"/>
<path stroke="#ffff1f" d="M1131.4,796.0h0"/>
<path stroke="#fffc00" d="M1161.5,828.5h0"/>
<path stroke="#ffff10" d="M1129.8,849.2h0"/>
<path stroke="#ffff80" d="M1227.0,623.4h0"/>
<path stroke="#ffff40" d="M1227.0,697.6h0"/>
<path stroke="#ffaa00" d="M1173.1,915.1h0"/>
<path stroke="#ffd500" d="M1222.4,751.3h0"/>
<path stroke="#ffd500" d="M1213.0,784.6h0"/>
<path stroke="#ffff00" d="M1213.0,922.8h0"/>
<path stroke="#ffff00" d="M1241.1,930.4h0"/>
<path stroke="#ffff00" d="M1201.2,979.1h0"/>
</g>
<path transform="translate(1084.0,633.6)" d="M-2.4,-18.0 L-2.7,-8.7 L-4.3,4.9 L-7.4,23.5 L-12.4,42.1 L-14.8,53.3 L-16.3,57.6 M-16.3,304.7 L-12.4,312.8 L-6.2,320.2 L0.0,327.6 L4.4,336.3 L5.6,347.5 L5.0,357.4 L3.8,364.8 M-16.3,155.6 L-11.1,161.1 L-6.2,168.6 L-3.1,176.4 L0.7,182.6 L2.9,195.0 L0.0,207.4 L-0.6,221.0 L1.5,233.4 L0.7,245.8 L-1.2,260.7 L-2.2,273.1 L0.0,284.9 L5.0,288.6 L13.7,290.7 L16.2,299.1 L18.0,310.3 L21.7,321.4 L24.8,335.1 L29.2,345.0 L33.5,354.9 L36.6,364.8 M35.1,-18.0 L33.5,-7.5 L31.3,3.1 L26.7,17.3 L21.7,33.4 L18.0,50.8 L15.5,65.7 L13.7,79.3 L10.0,90.5 L3.1,102.9 L-4.9,117.1 L6.2,127.1 L14.9,136.4 L22.4,146.3 L27.3,156.2 L32.3,169.8 L35.4,176.4 L38.2,182.6 L31.7,195.0 L31.3,208.6 L25.5,221.0 L23.6,233.4 L21.1,246.8 L25.5,253.2 L30.4,260.7 L35.4,273.1 L34.1,286.7 L32.6,297.9 L36.0,309.0 L39.7,320.2 L42.2,332.6 L44.7,348.7 L49.6,357.4 L53.1,364.8 M64.1,-18.0 L64.3,-11.2 L62.7,1.2 L58.3,13.6 L54.6,28.5 L51.5,45.8 L49.0,63.2 L48.8,70.6 L49.9,79.3 L48.4,88.0 L45.3,96.7 L42.2,105.4 L43.4,110.3 L46.5,117.8 L53.4,128.9 L59.6,142.6 L65.8,156.2 L65.5,166.1 L62.7,174.8 L59.6,181.3 L54.6,196.2 L51.5,208.6 L48.4,221.0 L46.9,233.4 L47.2,245.8 L50.3,258.2 L52.1,274.3 L52.4,295.4 L53.4,309.0 L56.5,322.7 L58.3,332.6 L62.0,346.2 L67.0,356.1 L71.3,364.8 M97.6,-18.0 L98.0,-8.7 L97.1,2.4 L93.0,14.8 L88.1,28.5 L84.1,40.9 L83.5,53.3 L85.0,65.7 L86.8,79.3 L86.2,91.7 L81.9,102.9 L75.7,112.8 L72.6,118.4 L79.4,126.4 L87.5,132.0 L93.0,140.1 L96.8,148.7 L98.4,157.4 L97.4,168.6 L97.4,171.4 L93.7,182.6 L85.6,195.0 L74.4,207.4 L67.6,221.0 L65.1,233.4 L65.5,245.8 L67.0,270.6 L68.2,295.4 L68.2,320.2 L69.2,336.3 L73.2,347.5 L80.6,356.1 L85.6,361.7 L92.4,364.8 M133.3,-18.0 L135.6,-10.0 L135.6,2.4 L131.5,13.6 L125.9,29.7 L120.3,45.8 L117.6,54.3 L119.7,63.2 L122.8,73.1 L124.4,80.6 L122.8,91.7 L117.8,101.6 L111.6,111.6 L114.1,122.7 L121.6,133.9 L126.5,142.6 L130.9,152.5 L134.6,157.4 L131.5,166.1 L130.0,171.4 L124.0,187.5 L115.4,206.1 L107.3,212.3 L100.5,219.1 L90.6,235.9 L83.1,252.6 L82.5,270.6 L84.1,285.5 L81.9,299.1 L80.0,310.3 L80.6,320.2 L83.1,328.9 L86.8,332.6 L96.8,336.3 L107.9,335.3 L120.3,337.6 L131.5,339.0 L136.4,347.5 L142.6,357.4 L148.8,364.6 M167.4,-18.0 L171.1,-10.0 L173.9,-0.0 L172.4,11.1 L167.4,23.5 L161.2,38.4 L156.9,50.8 L155.6,63.2 L156.9,74.4 L158.5,80.6 L157.3,90.5 L152.5,101.6 L146.3,110.3 L138.9,116.5 L145.1,135.1 L151.3,147.5 L163.1,157.4 L167.4,169.8 L168.0,171.4 L163.7,181.3 L156.3,195.0 L147.6,208.6 L143.2,221.0 L134.0,226.6 L125.9,233.4 L123.4,240.8 L120.3,250.8 L114.1,263.2 L105.4,276.8 L99.9,288.0 L96.8,297.9 L98.6,307.8 L98.6,323.3 L107.9,326.4 L114.1,322.1 L120.9,315.2 L127.1,310.9 L131.5,304.7 L143.9,307.2 L148.2,314.0 L155.0,325.2 L166.8,333.8 L171.1,345.0 L173.4,353.7 L174.0,364.6 M201.7,-18.0 L208.6,-11.2 L211.3,2.4 L209.8,14.8 L201.1,31.0 L191.2,45.8 L185.0,54.5 L182.5,67.5 L193.7,79.3 L192.4,91.7 L183.8,105.4 L175.1,116.5 L170.7,129.5 L178.8,143.8 L187.5,156.2 L199.3,169.2 L200.5,183.2 L192.4,196.2 L181.9,208.6 L175.1,219.8 L161.4,229.7 L148.2,245.8 L149.4,258.2 L153.1,265.6 L158.7,273.1 L166.2,288.0 L177.6,296.6 L184.4,310.3 L187.5,326.4 L191.2,349.9 L187.5,364.6 M263.7,-18.0 L248.9,-17.6 L242.4,-10.2 L245.1,4.9 L247.2,16.1 L242.0,28.5 L234.6,40.9 L229.9,50.8 L228.4,58.2 L229.9,70.6 L229.9,83.0 L227.2,94.2 L221.0,106.6 L212.3,119.0 L203.6,130.8 L213.5,137.6 L221.0,147.5 L226.5,157.4 L229.6,169.8 L228.4,171.4 L230.9,183.2 L228.4,196.2 L218.5,209.8 L211.0,221.0 L206.1,230.9 L201.7,237.1 L190.0,230.9 L186.2,235.9 L183.8,245.8 L191.2,257.0 L197.4,265.6 L204.8,275.6 L211.0,285.5 L212.9,297.9 L212.3,311.5 L206.7,323.9 L205.5,336.3 L204.6,351.2 L205.1,364.6 M336.3,-18.0 L330.7,-11.8 L315.2,-3.1 L295.4,5.8 L283.6,3.1 L282.3,17.3 L280.5,29.7 L273.0,43.4 L268.1,55.8 L266.2,68.2 L266.6,80.6 L264.4,94.2 L259.4,107.8 L252.0,122.7 L248.5,130.8 L249.2,143.8 L255.7,157.4 L260.6,168.6 L260.9,171.4 L262.5,178.8 L260.9,193.7 L257.5,207.4 L249.5,221.0 L238.3,225.3 L229.6,233.4 L227.2,245.8 L233.4,260.7 L240.8,275.6 L244.5,286.7 L243.9,299.1 L235.8,314.0 L228.4,326.4 L224.9,336.3 L224.7,351.2 L224.1,364.6 M342.7,22.9 L330.1,27.2 L318.9,32.8 L312.1,40.9 L307.1,55.8 L302.2,68.2 L299.1,81.8 L296.6,95.4 L292.9,109.1 L285.4,124.0 L280.5,135.1 L278.6,143.8 L283.0,153.7 L290.4,166.1 L292.3,171.4 L294.5,182.6 L289.8,198.7 L285.4,214.8 L283.6,221.0 L274.9,233.4 L260.6,239.0 L253.2,245.8 L265.6,258.2 L273.0,273.1 L276.8,284.2 L278.4,296.6 L274.3,310.3 L266.8,322.7 L250.7,336.3 L248.0,348.7 L245.1,364.6 M342.7,59.5 L338.7,66.9 L335.0,79.3 L330.1,90.5 L327.6,102.9 L325.7,118.4 L314.0,131.4 L307.1,143.8 L307.8,156.2 L315.2,162.4 L325.1,169.2 L325.7,171.4 L326.1,183.8 L323.9,198.7 L318.9,214.8 L315.8,227.2 L312.7,233.4 L306.5,239.0 L293.5,245.8 L297.8,260.7 L304.0,274.3 L307.8,286.7 L309.0,299.1 L308.4,311.5 L302.2,322.7 L288.5,335.1 L281.7,349.3 L288.3,364.6 M342.7,235.3 L338.7,243.3 L328.8,259.4 L336.3,271.8 L338.1,286.7 L338.4,299.1 L337.3,311.5 L337.9,322.7 L322.0,336.3 L317.1,349.9 L320.2,364.6" fill="none" stroke="#000" stroke-width="1.6" stroke-linejoin="round"/>
<path transform="translate(1084.0,635.6)" d="M-4.9,117.1 L17.4,113.4 L42.2,110.3 L67.0,110.9 L85.6,112.8 L129.0,117.9 L167.6,123.3 L203.6,127.7 L248.2,133.9 L279.2,140.1 L306.5,146.9 L332.6,151.5 L340.0,152.9 M-13.6,259.4 L-1.2,257.0 L23.6,253.2 L48.4,250.1 L80.6,248.9 L98.0,249.3 L116.6,248.9 L134.0,245.8 L145.1,243.3 L160.0,241.5 L180.0,240.2 L228.4,242.7 L278.0,244.6 L300.3,244.6 L315.2,248.9 L330.1,255.7 L344.3,257.0" fill="none" stroke="#000" stroke-width="1.6" stroke-dasharray="12,5.4"/>
<path d="M1419.5,847.3 Q1383.3,829.3 1342.3,823.9" fill="none" stroke="#f08c00" stroke-width="5.2"/>
<path d="M1317.9,820.0 L1347.0,816.7 L1344.3,824.3 L1345.1,831.9 Z" fill="#f08c00"/>
<path d="M1213.8,765.6h14.0v-14.0h8.7v14.0h14.0v8.7h-14.0v14.0h-8.7v-14.0h-14.0z" fill="#0000ff"/>
<path d="M1185.5,724.1 L1199.5,752.5 L1171.5,752.5 Z" fill="#fff" stroke="#5c2483" stroke-width="4.6" stroke-miterlimit="10"/>
<path d="M1216.0,738.3 L1230.2,767.0 L1201.8,767.0 Z" fill="#fff" stroke="#5c2483" stroke-width="4.6" stroke-miterlimit="10"/>
<path d="M1244.7,748.8 L1259.0,776.8 L1230.4,776.8 Z" fill="#fff" stroke="#5c2483" stroke-width="4.6" stroke-miterlimit="10"/>
<path d="M1184.4,853.6 L1198.7,881.9 L1170.1,881.9 Z" fill="#fff" stroke="#5c2483" stroke-width="4.6" stroke-miterlimit="10"/>
<path d="M1248.4,846.6 L1263.0,874.7 L1233.8,874.7 Z" fill="#fff" stroke="#5c2483" stroke-width="4.6" stroke-miterlimit="10"/>
<text x="1248.8" y="591.0" font-size="38" text-anchor="middle" font-weight="normal" stroke="#000" stroke-width="0.9">3</text>
<text x="1052.7" y="658.0" font-size="33.8" text-anchor="end" font-weight="normal" stroke="#000" stroke-width="0.9">150</text>
<text x="1051.9" y="821.9" font-size="33.8" text-anchor="end" font-weight="normal" stroke="#000" stroke-width="0.9">0</text>
<text x="1055.9" y="985.2" font-size="33.8" text-anchor="end" font-weight="normal" stroke="#000" stroke-width="0.9">-150</text>
<text x="1078.4" y="1032.9" font-size="34.3" text-anchor="middle" font-weight="normal" stroke="#000" stroke-width="0.9">-150</text>
<text x="1235.8" y="1032.9" font-size="34.3" text-anchor="middle" font-weight="normal" stroke="#000" stroke-width="0.9">0</text>
<text x="1416.8" y="1032.9" font-size="34.3" text-anchor="middle" font-weight="normal" stroke="#000" stroke-width="0.9">150</text>
</g>
<g>
<path d="M1540.0,615.6 V998.0 H1898.7" fill="none" stroke="#000" stroke-width="1.5"/>
<path d="M1532.1,650.8h12.4" stroke="#000" stroke-width="1.3"/>
<path d="M1532.1,809.2h12.4" stroke="#000" stroke-width="1.3"/>
<path d="M1532.1,977.8h12.4" stroke="#000" stroke-width="1.3"/>
<g stroke-width="21.0" stroke-linecap="round" fill="none">
<path stroke="#ffea00" d="M1556.7,633.6h0"/>
<path stroke="#ffbf00" d="M1580.2,633.6h0M1556.7,659.2h0M1580.2,659.2h0M1556.7,684.8h0"/>
<path stroke="#ffaa00" d="M1603.6,633.6h0M1603.6,659.2h0M1580.2,684.8h0M1603.6,684.8h0M1556.7,710.4h0M1580.2,710.4h0M1603.6,710.4h0M1556.7,736.0h0M1580.2,736.0h0M1556.7,812.7h0M1556.7,838.3h0M1556.7,915.1h0M1556.7,940.7h0M1580.2,940.7h0M1556.7,966.3h0M1580.2,966.3h0M1556.7,991.9h0M1580.2,991.9h0M1603.6,991.9h0"/>
<path stroke="#ff9500" d="M1627.0,633.6h0"/>
<path stroke="#ff5500" d="M1650.5,633.6h0M1650.5,659.2h0M1627.0,761.6h0M1627.0,940.7h0M1627.0,966.3h0M1697.4,966.3h0"/>
<path stroke="#ff2b00" d="M1674.0,633.6h0M1650.5,684.8h0M1650.5,710.4h0M1650.5,736.0h0M1627.0,787.1h0M1627.0,812.7h0M1627.0,838.3h0M1627.0,863.9h0M1627.0,889.5h0M1744.3,889.5h0M1767.8,889.5h0M1791.2,889.5h0M1627.0,915.1h0M1650.5,915.1h0M1674.0,915.1h0M1697.4,915.1h0M1720.9,915.1h0M1744.3,915.1h0M1767.8,915.1h0M1791.2,915.1h0M1814.7,915.1h0M1838.1,915.1h0M1861.5,915.1h0M1885.0,915.1h0M1650.5,940.7h0M1674.0,940.7h0M1697.4,940.7h0M1720.9,940.7h0M1744.3,940.7h0M1767.8,940.7h0M1791.2,940.7h0M1814.7,940.7h0M1838.1,940.7h0M1861.5,940.7h0M1885.0,940.7h0M1650.5,966.3h0M1674.0,966.3h0M1720.9,966.3h0M1744.3,966.3h0M1767.8,966.3h0M1791.2,966.3h0M1814.7,966.3h0M1838.1,966.3h0M1861.5,966.3h0M1885.0,966.3h0M1720.9,991.9h0M1744.3,991.9h0M1767.8,991.9h0M1791.2,991.9h0M1814.7,991.9h0M1838.1,991.9h0M1861.5,991.9h0M1885.0,991.9h0"/>
<path stroke="#ff0000" d="M1697.4,633.6h0M1674.0,659.2h0M1650.5,761.6h0M1838.1,812.7h0M1650.5,838.3h0M1767.8,838.3h0M1791.2,838.3h0M1814.7,838.3h0M1838.1,838.3h0M1861.5,838.3h0M1650.5,863.9h0M1744.3,863.9h0M1767.8,863.9h0M1791.2,863.9h0M1814.7,863.9h0M1838.1,863.9h0M1861.5,863.9h0M1885.0,863.9h0M1674.0,889.5h0M1697.4,889.5h0M1720.9,889.5h0M1814.7,889.5h0M1838.1,889.5h0M1861.5,889.5h0M1650.5,991.9h0M1697.4,991.9h0"/>
<path stroke="#aa0000" d="M1720.9,633.6h0M1744.3,633.6h0M1720.9,659.2h0M1744.3,659.2h0M1697.4,684.8h0M1720.9,684.8h0M1744.3,684.8h0M1674.0,710.4h0M1744.3,710.4h0M1861.5,710.4h0M1885.0,710.4h0M1674.0,736.0h0M1814.7,736.0h0M1838.1,736.0h0M1861.5,736.0h0M1885.0,736.0h0M1767.8,761.6h0M1791.2,761.6h0M1814.7,761.6h0M1838.1,761.6h0M1861.5,761.6h0M1885.0,761.6h0M1744.3,787.1h0M1791.2,787.1h0M1814.7,787.1h0M1838.1,787.1h0M1861.5,787.1h0M1744.3,812.7h0M1697.4,863.9h0"/>
<path stroke="#950000" d="M1767.8,633.6h0"/>
<path stroke="#7f0000" d="M1791.2,633.6h0M1814.7,633.6h0M1838.1,633.6h0M1861.5,633.6h0M1885.0,633.6h0M1767.8,659.2h0M1791.2,659.2h0M1814.7,659.2h0M1838.1,659.2h0M1861.5,659.2h0M1885.0,659.2h0M1767.8,684.8h0M1791.2,684.8h0M1814.7,684.8h0M1838.1,684.8h0M1861.5,684.8h0M1697.4,710.4h0M1720.9,710.4h0M1791.2,710.4h0M1814.7,710.4h0M1838.1,710.4h0M1697.4,736.0h0M1720.9,736.0h0M1744.3,736.0h0M1767.8,736.0h0M1791.2,736.0h0M1697.4,761.6h0M1720.9,761.6h0M1744.3,761.6h0M1674.0,838.3h0M1720.9,838.3h0"/>
<path stroke="#ff7f00" d="M1627.0,659.2h0M1627.0,684.8h0M1627.0,710.4h0M1603.6,736.0h0M1627.0,736.0h0M1556.7,761.6h0M1580.2,761.6h0M1603.6,761.6h0M1556.7,787.1h0M1580.2,787.1h0M1603.6,787.1h0M1580.2,812.7h0M1603.6,812.7h0M1580.2,838.3h0M1603.6,838.3h0M1556.7,863.9h0M1580.2,863.9h0M1603.6,863.9h0M1556.7,889.5h0M1580.2,889.5h0M1603.6,889.5h0M1580.2,915.1h0M1603.6,915.1h0M1603.6,940.7h0M1603.6,966.3h0M1627.0,991.9h0"/>
<path stroke="#d40000" d="M1697.4,659.2h0M1674.0,684.8h0M1674.0,761.6h0M1650.5,787.1h0M1767.8,787.1h0M1885.0,787.1h0M1650.5,812.7h0M1767.8,812.7h0M1791.2,812.7h0M1814.7,812.7h0M1861.5,812.7h0M1885.0,812.7h0M1744.3,838.3h0M1885.0,838.3h0M1674.0,863.9h0M1720.9,863.9h0M1650.5,889.5h0M1885.0,889.5h0"/>
<path stroke="#550000" d="M1885.0,684.8h0M1767.8,710.4h0M1674.0,787.1h0M1697.4,787.1h0M1720.9,787.1h0M1674.0,812.7h0M1720.9,812.7h0M1697.4,838.3h0"/>
<path stroke="#2b0000" d="M1697.4,812.7h0"/>
<path stroke="#ea0000" d="M1674.0,991.9h0"/>
<path stroke="#ff8000" d="M1586.5,777.1h0"/>
<path stroke="#f90000" d="M1788.5,863.9h0"/>
<path stroke="#ff7400" d="M1597.8,756.0h0"/>
<path stroke="#ff7800" d="M1601.6,773.3h0"/>
<path stroke="#ff7b00" d="M1557.7,734.3h0"/>
<path stroke="#ff8a00" d="M1585.9,802.1h0"/>
<path stroke="#ff7700" d="M1554.9,760.7h0"/>
<path stroke="#ffb000" d="M1550.0,836.0h0"/>
<path stroke="#ff7600" d="M1590.5,863.1h0"/>
<path stroke="#ff8d00" d="M1577.6,815.4h0"/>
<path stroke="#ff7b00" d="M1569.4,787.1h0"/>
<path stroke="#8f0000" d="M1674.4,744.7h0"/>
<path stroke="#f70000" d="M1791.9,848.6h0"/>
<path stroke="#a70000" d="M1787.6,811.5h0"/>
<path stroke="#f30000" d="M1632.6,853.4h0"/>
<path stroke="#910000" d="M1661.6,840.0h0"/>
<path stroke="#d20000" d="M1649.6,821.4h0"/>
<path stroke="#4b0000" d="M1706.0,802.0h0"/>
<path stroke="#b00000" d="M1659.0,751.7h0"/>
<path stroke="#f80000" d="M1627.4,838.6h0"/>
<path stroke="#ff4b00" d="M1631.8,734.9h0"/>
<path stroke="#d90000" d="M1833.9,795.2h0"/>
<path stroke="#ff9d00" d="M1556.6,800.5h0"/>
<path stroke="#a30000" d="M1739.4,798.9h0"/>
<path stroke="#ff6f00" d="M1609.3,746.5h0"/>
<path stroke="#ff8000" d="M1573.9,803.0h0"/>
<path stroke="#f00000" d="M1773.7,832.9h0"/>
<path stroke="#ff3b00" d="M1611.4,859.0h0"/>
<path stroke="#3f0000" d="M1709.6,787.2h0"/>
<path stroke="#260000" d="M1694.0,762.2h0"/>
<path stroke="#ab0000" d="M1724.6,820.7h0"/>
<path stroke="#ff8000" d="M1589.2,787.8h0"/>
<path stroke="#e40000" d="M1777.2,827.8h0"/>
<path stroke="#ff0500" d="M1795.4,840.9h0"/>
<path stroke="#7c0000" d="M1680.8,848.1h0"/>
<path stroke="#510000" d="M1709.8,756.9h0"/>
<path stroke="#870000" d="M1658.1,762.6h0"/>
<path stroke="#ca0000" d="M1697.4,866.4h0"/>
<path stroke="#ff8100" d="M1579.0,743.7h0"/>
<path stroke="#fa0000" d="M1820.3,846.0h0"/>
<path stroke="#ce0000" d="M1763.7,812.1h0"/>
<path stroke="#e50000" d="M1645.5,865.0h0"/>
<path stroke="#ff8200" d="M1575.2,824.3h0"/>
<path stroke="#cc0000" d="M1736.6,826.5h0"/>
<path stroke="#ff0900" d="M1646.1,736.7h0"/>
<path stroke="#5b0000" d="M1672.8,761.0h0"/>
<path stroke="#ff7d00" d="M1551.2,747.9h0"/>
<path stroke="#c60000" d="M1741.0,810.7h0"/>
<path stroke="#df0000" d="M1637.4,837.6h0"/>
<path stroke="#3c0000" d="M1702.5,814.8h0"/>
<path stroke="#fb0000" d="M1724.5,866.9h0"/>
<path stroke="#ff4700" d="M1620.2,784.5h0"/>
<path stroke="#ff0b00" d="M1756.3,848.9h0"/>
<path stroke="#ea0000" d="M1767.8,826.2h0"/>
<path stroke="#ff8100" d="M1563.9,750.3h0"/>
<path stroke="#c00000" d="M1768.7,798.7h0"/>
<path stroke="#8a0000" d="M1695.0,734.5h0"/>
<path stroke="#e70000" d="M1752.7,822.8h0"/>
<path stroke="#ff5300" d="M1614.6,811.2h0"/>
<path stroke="#e30000" d="M1645.4,749.1h0"/>
<path stroke="#fd0000" d="M1795.8,853.2h0"/>
<path stroke="#eb0000" d="M1709.3,866.5h0"/>
<path stroke="#d00000" d="M1821.0,815.3h0"/>
<path stroke="#ff7d00" d="M1565.2,860.0h0"/>
<path stroke="#ea0000" d="M1837.5,824.8h0"/>
<path stroke="#ff9300" d="M1563.6,833.3h0"/>
<path stroke="#ffa400" d="M1550.6,846.9h0"/>
<path stroke="#7f0000" d="M1707.5,826.5h0"/>
<path stroke="#ff3200" d="M1613.1,846.7h0"/>
<path stroke="#b70000" d="M1649.2,781.6h0"/>
<path stroke="#ff7f00" d="M1609.2,737.5h0"/>
<path stroke="#f40000" d="M1790.4,840.2h0"/>
<path stroke="#9e0000" d="M1662.0,851.2h0"/>
<path stroke="#b00000" d="M1785.4,802.7h0"/>
<path stroke="#ca0000" d="M1644.1,847.9h0"/>
<path stroke="#f80000" d="M1766.6,852.5h0"/>
<path stroke="#f60000" d="M1818.2,834.0h0"/>
<path stroke="#440000" d="M1686.5,821.1h0"/>
<path stroke="#ac0000" d="M1684.8,861.6h0"/>
<path stroke="#ff0600" d="M1626.7,850.2h0"/>
<path stroke="#b50000" d="M1654.3,825.6h0"/>
<path stroke="#af0000" d="M1715.5,834.6h0"/>
<path stroke="#a90000" d="M1788.3,784.1h0"/>
<path stroke="#840000" d="M1749.2,788.4h0"/>
<path stroke="#ff8800" d="M1553.2,866.9h0"/>
<path stroke="#cd0000" d="M1819.7,799.5h0"/>
<path stroke="#dd0000" d="M1639.7,774.2h0"/>
<path stroke="#d00000" d="M1654.2,860.8h0"/>
<path stroke="#580000" d="M1719.4,775.8h0"/>
<path stroke="#ff5700" d="M1599.5,864.6h0"/>
<path stroke="#4a0000" d="M1713.2,785.3h0"/>
<path stroke="#ff0900" d="M1621.8,861.3h0"/>
<path stroke="#ff8000" d="M1569.0,756.0h0"/>
<path stroke="#5b0000" d="M1666.8,770.9h0"/>
<path stroke="#790000" d="M1662.8,772.4h0"/>
<path stroke="#ba0000" d="M1807.4,802.7h0"/>
<path stroke="#c90000" d="M1753.3,811.7h0"/>
<path stroke="#930000" d="M1680.9,735.4h0"/>
<path stroke="#bf0000" d="M1648.7,833.0h0"/>
<path stroke="#ffac00" d="M1561.7,826.0h0"/>
<path stroke="#ff0500" d="M1812.6,852.1h0"/>
<path stroke="#fc0000" d="M1736.6,866.7h0"/>
<path stroke="#470000" d="M1683.6,769.1h0"/>
<path stroke="#f90000" d="M1636.4,863.8h0"/>
<path stroke="#ff7a00" d="M1554.2,783.8h0"/>
<path stroke="#230000" d="M1682.5,807.5h0"/>
<path stroke="#d60000" d="M1647.7,815.2h0"/>
<path stroke="#ff7b00" d="M1587.5,822.4h0"/>
<path stroke="#e30000" d="M1638.3,789.6h0"/>
<path stroke="#ff7d00" d="M1600.5,748.0h0"/>
<path stroke="#af0000" d="M1810.0,787.9h0"/>
<path stroke="#ff4600" d="M1619.3,764.0h0"/>
<path stroke="#ff9100" d="M1569.0,813.9h0"/>
<path stroke="#290000" d="M1701.1,771.0h0"/>
<path stroke="#ff1f00" d="M1631.4,813.7h0"/>
<path stroke="#ff8b00" d="M1588.5,811.8h0"/>
<path stroke="#ff7700" d="M1601.9,799.8h0"/>
<path stroke="#ac0000" d="M1798.2,786.5h0"/>
<path stroke="#ff9000" d="M1575.9,833.5h0"/>
<path stroke="#ff8100" d="M1574.1,782.5h0"/>
<path stroke="#ff4e00" d="M1615.0,821.7h0"/>
<path stroke="#5a0000" d="M1667.6,783.6h0"/>
<path stroke="#5c0000" d="M1673.1,836.6h0"/>
<path stroke="#f50000" d="M1751.6,862.6h0"/>
<path stroke="#f50000" d="M1802.5,864.4h0"/>
<path stroke="#b60000" d="M1803.7,809.8h0"/>
<path stroke="#ff7700" d="M1587.3,738.1h0"/>
<path stroke="#ff3a00" d="M1623.2,802.4h0"/>
<path stroke="#d00000" d="M1796.0,821.6h0"/>
<path stroke="#230000" d="M1695.2,810.6h0"/>
<path stroke="#6d0000" d="M1717.1,808.1h0"/>
<path stroke="#ff8300" d="M1603.6,813.0h0"/>
<path stroke="#ff3200" d="M1624.0,814.6h0"/>
<path stroke="#ff7000" d="M1587.9,833.4h0"/>
<path stroke="#6f0000" d="M1738.9,777.0h0"/>
<path stroke="#ff8700" d="M1580.9,866.7h0"/>
<path stroke="#820000" d="M1659.5,798.5h0"/>
<path stroke="#9f0000" d="M1671.1,861.1h0"/>
<path stroke="#7e0000" d="M1669.0,847.5h0"/>
<path stroke="#ff1f00" d="M1633.7,747.9h0"/>
<path stroke="#ac0000" d="M1802.0,800.3h0"/>
<path stroke="#ff5a00" d="M1596.8,848.6h0"/>
<path stroke="#480000" d="M1679.3,761.7h0"/>
<path stroke="#ff0200" d="M1807.7,835.2h0"/>
<path stroke="#600000" d="M1704.2,746.0h0"/>
<path stroke="#ff4a00" d="M1624.9,746.4h0"/>
<path stroke="#9a0000" d="M1776.8,782.3h0"/>
<path stroke="#d10000" d="M1830.2,815.7h0"/>
<path stroke="#5e0000" d="M1730.3,785.0h0"/>
<path stroke="#ff0600" d="M1768.1,859.4h0"/>
<path stroke="#5f0000" d="M1666.0,800.4h0"/>
<path stroke="#8e0000" d="M1715.2,824.0h0"/>
<path stroke="#fe0000" d="M1836.2,859.6h0"/>
<path stroke="#b20000" d="M1749.3,799.8h0"/>
<path stroke="#350000" d="M1684.4,796.4h0"/>
<path stroke="#790000" d="M1731.5,794.9h0"/>
<path stroke="#ffa400" d="M1552.7,814.4h0"/>
<path stroke="#ff9d00" d="M1560.2,849.9h0"/>
<path stroke="#bf0000" d="M1649.8,758.1h0"/>
<path stroke="#ff7c00" d="M1575.7,769.7h0"/>
<path stroke="#300000" d="M1690.5,781.7h0"/>
<path stroke="#f00000" d="M1811.8,827.1h0"/>
<path stroke="#2e0000" d="M1682.4,784.7h0"/>
<path stroke="#6f0000" d="M1686.1,837.7h0"/>
<path stroke="#ad0000" d="M1649.3,777.1h0"/>
<path stroke="#ff0800" d="M1743.8,853.4h0"/>
<path stroke="#310000" d="M1693.5,773.5h0"/>
<path stroke="#8f0000" d="M1762.4,783.2h0"/>
<path stroke="#de0000" d="M1657.9,737.2h0"/>
<path stroke="#f90000" d="M1825.3,863.5h0"/>
<path stroke="#fd0000" d="M1742.9,839.6h0"/>
<path stroke="#ed0000" d="M1725.0,850.3h0"/>
<path stroke="#fa0000" d="M1636.4,824.9h0"/>
<path stroke="#ff0b00" d="M1830.5,839.3h0"/>
<path stroke="#ff7700" d="M1588.0,761.8h0"/>
<path stroke="#ff6600" d="M1613.7,774.3h0"/>
<path stroke="#560000" d="M1671.5,825.6h0"/>
<path stroke="#b90000" d="M1697.8,852.9h0"/>
<path stroke="#fc0000" d="M1830.2,845.7h0"/>
<path stroke="#ff7900" d="M1600.5,823.4h0"/>
<path stroke="#ff3100" d="M1620.9,828.3h0"/>
<path stroke="#e70000" d="M1720.2,850.2h0"/>
<path stroke="#f10000" d="M1762.1,834.6h0"/>
<path stroke="#ffa900" d="M1549.8,825.6h0"/>
<path stroke="#d00000" d="M1729.1,832.9h0"/>
<path stroke="#460000" d="M1670.1,809.3h0"/>
<path stroke="#830000" d="M1738.7,787.8h0"/>
<path stroke="#e60000" d="M1826.4,828.6h0"/>
<path stroke="#ff8500" d="M1572.1,758.8h0"/>
<path stroke="#5c0000" d="M1663.4,787.6h0"/>
<path stroke="#960000" d="M1725.4,811.9h0"/>
<path stroke="#ff0800" d="M1772.9,858.6h0"/>
<path stroke="#eb0000" d="M1785.0,827.6h0"/>
<path stroke="#ff6200" d="M1614.5,760.7h0"/>
<path stroke="#ff6200" d="M1598.3,838.3h0"/>
<path stroke="#b90000" d="M1773.0,798.9h0"/>
<path stroke="#ff3c00" d="M1610.8,840.4h0"/>
<path stroke="#d10000" d="M1772.8,811.8h0"/>
<path stroke="#ff8900" d="M1563.3,774.5h0"/>
<path stroke="#6b0000" d="M1697.8,833.3h0"/>
<path stroke="#510000" d="M1713.8,797.8h0"/>
<path stroke="#ff8a00" d="M1600.5,782.3h0"/>
<path stroke="#ff7400" d="M1608.3,784.3h0"/>
<path stroke="#ff8300" d="M1551.1,772.5h0"/>
<path stroke="#ff0100" d="M1806.6,866.7h0"/>
<path stroke="#ff8100" d="M1573.0,845.5h0"/>
<path stroke="#ff4500" d="M1620.2,775.2h0"/>
<path stroke="#ff4c00" d="M1615.6,800.7h0"/>
<path stroke="#aa0000" d="M1654.7,814.4h0"/>
<path stroke="#240000" d="M1693.6,799.9h0"/>
<path stroke="#ff7000" d="M1585.2,849.1h0"/>
<path stroke="#7a0000" d="M1685.1,743.4h0"/>
<path stroke="#430000" d="M1696.7,822.2h0"/>
<path stroke="#f80000" d="M1754.2,838.0h0"/>
<path stroke="#e50000" d="M1638.6,762.7h0"/>
<path stroke="#f60000" d="M1721.9,860.6h0"/>
<path stroke="#ca0000" d="M1650.0,800.6h0"/>
<path stroke="#c50000" d="M1809.9,809.3h0"/>
<path stroke="#fd0000" d="M1637.4,800.8h0"/>
<path stroke="#ff8800" d="M1572.7,735.6h0"/>
<path stroke="#ff9000" d="M1568.8,798.7h0"/>
<path stroke="#a80000" d="M1707.7,839.1h0"/>
<path stroke="#ce0000" d="M1708.1,850.2h0"/>
<path stroke="#480000" d="M1697.4,751.3h0"/>
<path stroke="#f50000" d="M1772.7,851.9h0"/>
<path stroke="#ff7700" d="M1584.1,748.8h0"/>
<path stroke="#ffaa00" d="M1676.3,642.6h0"/>
<path stroke="#ff0000" d="M1681.0,723.2h0"/>
<path stroke="#ff5500" d="M1692.7,970.1h0"/>
<path stroke="#ffaa00" d="M1683.3,962.4h0"/>
<path stroke="#ff5500" d="M1826.4,802.5h0"/>
<path stroke="#ff5500" d="M1681.0,884.4h0"/>
<path stroke="#ff0000" d="M1751.3,805.1h0"/>
<path stroke="#ff0000" d="M1695.1,656.6h0"/>
</g>
<path transform="translate(1556.7,633.6)" d="M-2.4,-18.0 L-2.7,-8.7 L-4.3,4.9 L-7.4,23.5 L-12.4,42.1 L-14.8,53.3 L-16.3,57.6 M-16.3,304.7 L-12.4,312.8 L-6.2,320.2 L0.0,327.6 L4.4,336.3 L5.6,347.5 L5.0,357.4 L3.8,364.8 M-16.3,155.6 L-11.1,161.1 L-6.2,168.6 L-3.1,176.4 L0.7,182.6 L2.9,195.0 L0.0,207.4 L-0.6,221.0 L1.5,233.4 L0.7,245.8 L-1.2,260.7 L-2.2,273.1 L0.0,284.9 L5.0,288.6 L13.7,290.7 L16.2,299.1 L18.0,310.3 L21.7,321.4 L24.8,335.1 L29.2,345.0 L33.5,354.9 L36.6,364.8 M35.1,-18.0 L33.5,-7.5 L31.3,3.1 L26.7,17.3 L21.7,33.4 L18.0,50.8 L15.5,65.7 L13.7,79.3 L10.0,90.5 L3.1,102.9 L-4.9,117.1 L6.2,127.1 L14.9,136.4 L22.4,146.3 L27.3,156.2 L32.3,169.8 L35.4,176.4 L38.2,182.6 L31.7,195.0 L31.3,208.6 L25.5,221.0 L23.6,233.4 L21.1,246.8 L25.5,253.2 L30.4,260.7 L35.4,273.1 L34.1,286.7 L32.6,297.9 L36.0,309.0 L39.7,320.2 L42.2,332.6 L44.7,348.7 L49.6,357.4 L53.1,364.8 M64.1,-18.0 L64.3,-11.2 L62.7,1.2 L58.3,13.6 L54.6,28.5 L51.5,45.8 L49.0,63.2 L48.8,70.6 L49.9,79.3 L48.4,88.0 L45.3,96.7 L42.2,105.4 L43.4,110.3 L46.5,117.8 L53.4,128.9 L59.6,142.6 L65.8,156.2 L65.5,166.1 L62.7,174.8 L59.6,181.3 L54.6,196.2 L51.5,208.6 L48.4,221.0 L46.9,233.4 L47.2,245.8 L50.3,258.2 L52.1,274.3 L52.4,295.4 L53.4,309.0 L56.5,322.7 L58.3,332.6 L62.0,346.2 L67.0,356.1 L71.3,364.8 M97.6,-18.0 L98.0,-8.7 L97.1,2.4 L93.0,14.8 L88.1,28.5 L84.1,40.9 L83.5,53.3 L85.0,65.7 L86.8,79.3 L86.2,91.7 L81.9,102.9 L75.7,112.8 L72.6,118.4 L79.4,126.4 L87.5,132.0 L93.0,140.1 L96.8,148.7 L98.4,157.4 L97.4,168.6 L97.4,171.4 L93.7,182.6 L85.6,195.0 L74.4,207.4 L67.6,221.0 L65.1,233.4 L65.5,245.8 L67.0,270.6 L68.2,295.4 L68.2,320.2 L69.2,336.3 L73.2,347.5 L80.6,356.1 L85.6,361.7 L92.4,364.8 M133.3,-18.0 L135.6,-10.0 L135.6,2.4 L131.5,13.6 L125.9,29.7 L120.3,45.8 L117.6,54.3 L119.7,63.2 L122.8,73.1 L124.4,80.6 L122.8,91.7 L117.8,101.6 L111.6,111.6 L114.1,122.7 L121.6,133.9 L126.5,142.6 L130.9,152.5 L134.6,157.4 L131.5,166.1 L130.0,171.4 L124.0,187.5 L115.4,206.1 L107.3,212.3 L100.5,219.1 L90.6,235.9 L83.1,252.6 L82.5,270.6 L84.1,285.5 L81.9,299.1 L80.0,310.3 L80.6,320.2 L83.1,328.9 L86.8,332.6 L96.8,336.3 L107.9,335.3 L120.3,337.6 L131.5,339.0 L136.4,347.5 L142.6,357.4 L148.8,364.6 M167.4,-18.0 L171.1,-10.0 L173.9,-0.0 L172.4,11.1 L167.4,23.5 L161.2,38.4 L156.9,50.8 L155.6,63.2 L156.9,74.4 L158.5,80.6 L157.3,90.5 L152.5,101.6 L146.3,110.3 L138.9,116.5 L145.1,135.1 L151.3,147.5 L163.1,157.4 L167.4,169.8 L168.0,171.4 L163.7,181.3 L156.3,195.0 L147.6,208.6 L143.2,221.0 L134.0,226.6 L125.9,233.4 L123.4,240.8 L120.3,250.8 L114.1,263.2 L105.4,276.8 L99.9,288.0 L96.8,297.9 L98.6,307.8 L98.6,323.3 L107.9,326.4 L114.1,322.1 L120.9,315.2 L127.1,310.9 L131.5,304.7 L143.9,307.2 L148.2,314.0 L155.0,325.2 L166.8,333.8 L171.1,345.0 L173.4,353.7 L174.0,364.6 M201.7,-18.0 L208.6,-11.2 L211.3,2.4 L209.8,14.8 L201.1,31.0 L191.2,45.8 L185.0,54.5 L182.5,67.5 L193.7,79.3 L192.4,91.7 L183.8,105.4 L175.1,116.5 L170.7,129.5 L178.8,143.8 L187.5,156.2 L199.3,169.2 L200.5,183.2 L192.4,196.2 L181.9,208.6 L175.1,219.8 L161.4,229.7 L148.2,245.8 L149.4,258.2 L153.1,265.6 L158.7,273.1 L166.2,288.0 L177.6,296.6 L184.4,310.3 L187.5,326.4 L191.2,349.9 L187.5,364.6 M263.7,-18.0 L248.9,-17.6 L242.4,-10.2 L245.1,4.9 L247.2,16.1 L242.0,28.5 L234.6,40.9 L229.9,50.8 L228.4,58.2 L229.9,70.6 L229.9,83.0 L227.2,94.2 L221.0,106.6 L212.3,119.0 L203.6,130.8 L213.5,137.6 L221.0,147.5 L226.5,157.4 L229.6,169.8 L228.4,171.4 L230.9,183.2 L228.4,196.2 L218.5,209.8 L211.0,221.0 L206.1,230.9 L201.7,237.1 L190.0,230.9 L186.2,235.9 L183.8,245.8 L191.2,257.0 L197.4,265.6 L204.8,275.6 L211.0,285.5 L212.9,297.9 L212.3,311.5 L206.7,323.9 L205.5,336.3 L204.6,351.2 L205.1,364.6 M336.3,-18.0 L330.7,-11.8 L315.2,-3.1 L295.4,5.8 L283.6,3.1 L282.3,17.3 L280.5,29.7 L273.0,43.4 L268.1,55.8 L266.2,68.2 L266.6,80.6 L264.4,94.2 L259.4,107.8 L252.0,122.7 L248.5,130.8 L249.2,143.8 L255.7,157.4 L260.6,168.6 L260.9,171.4 L262.5,178.8 L260.9,193.7 L257.5,207.4 L249.5,221.0 L238.3,225.3 L229.6,233.4 L227.2,245.8 L233.4,260.7 L240.8,275.6 L244.5,286.7 L243.9,299.1 L235.8,314.0 L228.4,326.4 L224.9,336.3 L224.7,351.2 L224.1,364.6 M342.7,22.9 L330.1,27.2 L318.9,32.8 L312.1,40.9 L307.1,55.8 L302.2,68.2 L299.1,81.8 L296.6,95.4 L292.9,109.1 L285.4,124.0 L280.5,135.1 L278.6,143.8 L283.0,153.7 L290.4,166.1 L292.3,171.4 L294.5,182.6 L289.8,198.7 L285.4,214.8 L283.6,221.0 L274.9,233.4 L260.6,239.0 L253.2,245.8 L265.6,258.2 L273.0,273.1 L276.8,284.2 L278.4,296.6 L274.3,310.3 L266.8,322.7 L250.7,336.3 L248.0,348.7 L245.1,364.6 M342.7,59.5 L338.7,66.9 L335.0,79.3 L330.1,90.5 L327.6,102.9 L325.7,118.4 L314.0,131.4 L307.1,143.8 L307.8,156.2 L315.2,162.4 L325.1,169.2 L325.7,171.4 L326.1,183.8 L323.9,198.7 L318.9,214.8 L315.8,227.2 L312.7,233.4 L306.5,239.0 L293.5,245.8 L297.8,260.7 L304.0,274.3 L307.8,286.7 L309.0,299.1 L308.4,311.5 L302.2,322.7 L288.5,335.1 L281.7,349.3 L288.3,364.6 M342.7,235.3 L338.7,243.3 L328.8,259.4 L336.3,271.8 L338.1,286.7 L338.4,299.1 L337.3,311.5 L337.9,322.7 L322.0,336.3 L317.1,349.9 L320.2,364.6" fill="none" stroke="#000" stroke-width="1.6" stroke-linejoin="round"/>
<path transform="translate(1556.7,635.6)" d="M-4.9,117.1 L17.4,113.4 L42.2,110.3 L67.0,110.9 L85.6,112.8 L129.0,117.9 L167.6,123.3 L203.6,127.7 L248.2,133.9 L279.2,140.1 L306.5,146.9 L332.6,151.5 L340.0,152.9 M-13.6,259.4 L-1.2,257.0 L23.6,253.2 L48.4,250.1 L80.6,248.9 L98.0,249.3 L116.6,248.9 L134.0,245.8 L145.1,243.3 L160.0,241.5 L180.0,240.2 L228.4,242.7 L278.0,244.6 L300.3,244.6 L315.2,248.9 L330.1,255.7 L344.3,257.0" fill="none" stroke="#000" stroke-width="1.6" stroke-dasharray="12,5.4"/>
<path d="M1889.9,845.3 Q1853.7,827.3 1812.7,821.9" fill="none" stroke="#f08c00" stroke-width="5.2"/>
<path d="M1788.3,818.0 L1817.4,814.7 L1814.7,822.3 L1815.5,829.9 Z" fill="#f08c00"/>
<path d="M1658.4,725.6 L1672.4,754.0 L1644.4,754.0 Z" fill="#fff" stroke="#5c2483" stroke-width="4.6" stroke-miterlimit="10"/>
<path d="M1688.9,739.8 L1703.1,768.5 L1674.7,768.5 Z" fill="#fff" stroke="#5c2483" stroke-width="4.6" stroke-miterlimit="10"/>
<path d="M1717.6,750.3 L1731.9,778.3 L1703.3,778.3 Z" fill="#fff" stroke="#5c2483" stroke-width="4.6" stroke-miterlimit="10"/>
<path d="M1657.3,855.1 L1671.6,883.4 L1643.0,883.4 Z" fill="#fff" stroke="#5c2483" stroke-width="4.6" stroke-miterlimit="10"/>
<path d="M1721.3,848.1 L1735.9,876.2 L1706.7,876.2 Z" fill="#fff" stroke="#5c2483" stroke-width="4.6" stroke-miterlimit="10"/>
<path d="M1658.6,798.6h14.0v-14.0h8.7v14.0h14.0v8.7h-14.0v14.0h-8.7v-14.0h-14.0z" fill="#0000ff"/>
<text x="1721.5" y="591.0" font-size="38" text-anchor="middle" font-weight="normal" stroke="#000" stroke-width="0.9">4</text>
<text x="1525.4" y="658.0" font-size="33.8" text-anchor="end" font-weight="normal" stroke="#000" stroke-width="0.9">150</text>
<text x="1524.6" y="821.9" font-size="33.8" text-anchor="end" font-weight="normal" stroke="#000" stroke-width="0.9">0</text>
<text x="1528.6" y="985.2" font-size="33.8" text-anchor="end" font-weight="normal" stroke="#000" stroke-width="0.9">-150</text>
<text x="1551.1" y="1032.9" font-size="34.3" text-anchor="middle" font-weight="normal" stroke="#000" stroke-width="0.9">-150</text>
<text x="1708.5" y="1032.9" font-size="34.3" text-anchor="middle" font-weight="normal" stroke="#000" stroke-width="0.9">0</text>
<text x="1889.5" y="1032.9" font-size="34.3" text-anchor="middle" font-weight="normal" stroke="#000" stroke-width="0.9">150</text>
</g>
<g>
<path d="M122.1,1147.5 V1529.9 H480.8" fill="none" stroke="#000" stroke-width="1.5"/>
<path d="M114.2,1182.7h12.4" stroke="#000" stroke-width="1.3"/>
<path d="M114.2,1341.1h12.4" stroke="#000" stroke-width="1.3"/>
<path d="M114.2,1509.7h12.4" stroke="#000" stroke-width="1.3"/>
<g stroke-width="21.0" stroke-linecap="round" fill="none">
<path stroke="#ffaa00" d="M138.8,1165.5h0M138.8,1242.3h0M162.2,1242.3h0M138.8,1267.9h0M162.2,1267.9h0"/>
<path stroke="#ff7f00" d="M162.2,1165.5h0M138.8,1191.1h0M162.2,1191.1h0M185.7,1191.1h0M138.8,1216.7h0M162.2,1216.7h0M185.7,1216.7h0M185.7,1242.3h0M185.7,1267.9h0M138.8,1293.5h0M162.2,1293.5h0M138.8,1319.0h0M162.2,1319.0h0M138.8,1344.6h0M162.2,1344.6h0M138.8,1370.2h0M162.2,1370.2h0M138.8,1395.8h0M138.8,1421.4h0M138.8,1447.0h0M162.2,1447.0h0M138.8,1472.6h0M138.8,1498.2h0M138.8,1523.8h0M162.2,1523.8h0"/>
<path stroke="#ff6a00" d="M185.7,1165.5h0"/>
<path stroke="#ff5500" d="M209.2,1165.5h0M209.2,1191.1h0M209.2,1216.7h0M209.2,1242.3h0M209.2,1267.9h0M185.7,1293.5h0M185.7,1319.0h0M185.7,1344.6h0M185.7,1370.2h0M162.2,1395.8h0M162.2,1421.4h0M185.7,1421.4h0M162.2,1472.6h0M162.2,1498.2h0M185.7,1523.8h0M467.1,1523.8h0"/>
<path stroke="#ff2b00" d="M232.6,1165.5h0M256.1,1165.5h0M232.6,1191.1h0M232.6,1216.7h0M209.2,1293.5h0M185.7,1395.8h0M185.7,1447.0h0M326.4,1447.0h0M349.9,1447.0h0M443.6,1447.0h0M467.1,1447.0h0M185.7,1472.6h0M209.2,1472.6h0M303.0,1472.6h0M326.4,1472.6h0M349.9,1472.6h0M373.3,1472.6h0M396.8,1472.6h0M420.2,1472.6h0M185.7,1498.2h0M209.2,1498.2h0M279.5,1498.2h0M303.0,1498.2h0M326.4,1498.2h0M349.9,1498.2h0M373.3,1498.2h0M396.8,1498.2h0M420.2,1498.2h0M443.6,1498.2h0M467.1,1498.2h0M209.2,1523.8h0M232.6,1523.8h0M303.0,1523.8h0M326.4,1523.8h0M349.9,1523.8h0M373.3,1523.8h0M396.8,1523.8h0M420.2,1523.8h0M443.6,1523.8h0"/>
<path stroke="#ea0000" d="M279.5,1165.5h0"/>
<path stroke="#d40000" d="M303.0,1165.5h0M349.9,1165.5h0M373.3,1165.5h0M279.5,1191.1h0M303.0,1191.1h0M326.4,1191.1h0M349.9,1191.1h0M373.3,1191.1h0M396.8,1191.1h0M256.1,1216.7h0M326.4,1216.7h0M349.9,1216.7h0M373.3,1216.7h0M349.9,1242.3h0M443.6,1242.3h0M467.1,1242.3h0M256.1,1267.9h0M303.0,1267.9h0M396.8,1267.9h0M420.2,1267.9h0M443.6,1267.9h0M467.1,1267.9h0M232.6,1293.5h0M256.1,1293.5h0M303.0,1293.5h0M326.4,1293.5h0M373.3,1293.5h0M396.8,1293.5h0M443.6,1293.5h0M467.1,1293.5h0M232.6,1319.0h0M349.9,1319.0h0M373.3,1319.0h0M396.8,1319.0h0M420.2,1319.0h0M443.6,1319.0h0M232.6,1344.6h0M349.9,1344.6h0M373.3,1344.6h0M232.6,1370.2h0M326.4,1370.2h0M232.6,1395.8h0M303.0,1395.8h0M256.1,1421.4h0M467.1,1421.4h0M256.1,1447.0h0"/>
<path stroke="#bf0000" d="M326.4,1165.5h0M396.8,1165.5h0M420.2,1165.5h0M443.6,1165.5h0M467.1,1165.5h0M420.2,1191.1h0M443.6,1191.1h0M467.1,1191.1h0M279.5,1216.7h0M303.0,1216.7h0M396.8,1216.7h0M420.2,1216.7h0M443.6,1216.7h0M467.1,1216.7h0M256.1,1242.3h0M279.5,1242.3h0M303.0,1242.3h0M326.4,1242.3h0M373.3,1242.3h0M396.8,1242.3h0M420.2,1242.3h0M279.5,1267.9h0M326.4,1267.9h0M349.9,1267.9h0M373.3,1267.9h0M279.5,1293.5h0M349.9,1293.5h0M420.2,1293.5h0M326.4,1319.0h0M326.4,1344.6h0M303.0,1370.2h0M256.1,1395.8h0M279.5,1395.8h0"/>
<path stroke="#ff0000" d="M256.1,1191.1h0M232.6,1242.3h0M232.6,1267.9h0M209.2,1319.0h0M467.1,1319.0h0M209.2,1344.6h0M396.8,1344.6h0M420.2,1344.6h0M443.6,1344.6h0M467.1,1344.6h0M209.2,1370.2h0M349.9,1370.2h0M373.3,1370.2h0M396.8,1370.2h0M420.2,1370.2h0M443.6,1370.2h0M467.1,1370.2h0M209.2,1395.8h0M326.4,1395.8h0M349.9,1395.8h0M373.3,1395.8h0M396.8,1395.8h0M420.2,1395.8h0M443.6,1395.8h0M467.1,1395.8h0M209.2,1421.4h0M232.6,1421.4h0M279.5,1421.4h0M303.0,1421.4h0M326.4,1421.4h0M349.9,1421.4h0M373.3,1421.4h0M396.8,1421.4h0M420.2,1421.4h0M443.6,1421.4h0M209.2,1447.0h0M232.6,1447.0h0M279.5,1447.0h0M303.0,1447.0h0M373.3,1447.0h0M396.8,1447.0h0M420.2,1447.0h0M232.6,1472.6h0M256.1,1472.6h0M279.5,1472.6h0M443.6,1472.6h0M467.1,1472.6h0M232.6,1498.2h0M256.1,1498.2h0M256.1,1523.8h0M279.5,1523.8h0"/>
<path stroke="#7f0000" d="M256.1,1319.0h0M303.0,1319.0h0M256.1,1344.6h0M303.0,1344.6h0M256.1,1370.2h0M279.5,1370.2h0"/>
<path stroke="#550000" d="M279.5,1319.0h0M279.5,1344.6h0"/>
<path stroke="#f40000" d="M402.7,1340.8h0"/>
<path stroke="#ce0000" d="M297.4,1369.5h0"/>
<path stroke="#ad0000" d="M283.8,1276.8h0"/>
<path stroke="#940000" d="M251.7,1382.2h0"/>
<path stroke="#c10000" d="M287.0,1371.7h0"/>
<path stroke="#ff5100" d="M186.7,1301.6h0"/>
<path stroke="#e80000" d="M228.8,1266.9h0"/>
<path stroke="#e90000" d="M225.0,1288.6h0"/>
<path stroke="#880000" d="M265.7,1368.2h0"/>
<path stroke="#fc0000" d="M360.7,1355.2h0"/>
<path stroke="#7e0000" d="M279.0,1321.3h0"/>
<path stroke="#ff2500" d="M186.6,1398.4h0"/>
<path stroke="#ff1000" d="M205.0,1308.4h0"/>
<path stroke="#b00000" d="M232.4,1343.9h0"/>
<path stroke="#df0000" d="M338.9,1357.0h0"/>
<path stroke="#ff7700" d="M154.3,1290.9h0"/>
<path stroke="#900000" d="M255.2,1304.0h0"/>
<path stroke="#ff7b00" d="M135.7,1279.7h0"/>
<path stroke="#ff5700" d="M180.8,1346.4h0"/>
<path stroke="#a70000" d="M236.9,1332.2h0"/>
<path stroke="#ff0500" d="M342.1,1394.9h0"/>
<path stroke="#c30000" d="M322.9,1308.7h0"/>
<path stroke="#ff0800" d="M356.2,1372.4h0"/>
<path stroke="#810000" d="M273.9,1353.0h0"/>
<path stroke="#ff0400" d="M369.9,1367.0h0"/>
<path stroke="#ff7a00" d="M139.6,1269.8h0"/>
<path stroke="#800000" d="M285.1,1317.8h0"/>
<path stroke="#ff0b00" d="M367.9,1380.4h0"/>
<path stroke="#ff2400" d="M201.7,1341.1h0"/>
<path stroke="#920000" d="M291.7,1290.5h0"/>
<path stroke="#ca0000" d="M239.1,1291.7h0"/>
<path stroke="#ca0000" d="M335.0,1340.2h0"/>
<path stroke="#db0000" d="M233.4,1385.5h0"/>
<path stroke="#940000" d="M272.8,1292.9h0"/>
<path stroke="#fc0000" d="M319.5,1398.7h0"/>
<path stroke="#e20000" d="M225.4,1371.5h0"/>
<path stroke="#ff7d00" d="M139.1,1380.1h0"/>
<path stroke="#b90000" d="M249.8,1276.4h0"/>
<path stroke="#ff0200" d="M391.8,1354.2h0"/>
<path stroke="#c10000" d="M314.6,1343.9h0"/>
<path stroke="#dc0000" d="M355.4,1342.9h0"/>
<path stroke="#8d0000" d="M251.6,1372.5h0"/>
<path stroke="#d00000" d="M313.4,1353.6h0"/>
<path stroke="#ce0000" d="M323.5,1334.7h0"/>
<path stroke="#ff6900" d="M149.6,1384.4h0"/>
<path stroke="#ec0000" d="M214.4,1366.1h0"/>
<path stroke="#920000" d="M261.9,1380.0h0"/>
<path stroke="#ff0900" d="M362.6,1394.7h0"/>
<path stroke="#ff2d00" d="M196.0,1315.4h0"/>
<path stroke="#fd0000" d="M348.3,1368.6h0"/>
<path stroke="#880000" d="M267.5,1307.7h0"/>
<path stroke="#8d0000" d="M277.3,1301.8h0"/>
<path stroke="#a70000" d="M253.4,1269.2h0"/>
<path stroke="#ff4100" d="M195.3,1269.7h0"/>
<path stroke="#980000" d="M273.5,1277.2h0"/>
<path stroke="#ff4800" d="M191.1,1279.2h0"/>
<path stroke="#f60000" d="M395.1,1371.1h0"/>
<path stroke="#ff8a00" d="M139.9,1305.4h0"/>
<path stroke="#ff1800" d="M197.6,1395.4h0"/>
<path stroke="#fe0000" d="M394.2,1329.5h0"/>
<path stroke="#ff7800" d="M147.9,1315.1h0"/>
<path stroke="#ff4300" d="M169.0,1380.8h0"/>
<path stroke="#ff1d00" d="M195.5,1359.2h0"/>
<path stroke="#ea0000" d="M384.2,1328.5h0"/>
<path stroke="#ff0800" d="M204.0,1393.1h0"/>
<path stroke="#ff3200" d="M180.4,1370.0h0"/>
<path stroke="#e10000" d="M313.5,1393.8h0"/>
<path stroke="#f00000" d="M217.1,1383.6h0"/>
<path stroke="#e70000" d="M221.9,1330.9h0"/>
<path stroke="#ff0600" d="M333.3,1390.6h0"/>
<path stroke="#8e0000" d="M283.0,1339.9h0"/>
<path stroke="#ff5d00" d="M157.3,1392.2h0"/>
<path stroke="#ff8300" d="M139.2,1342.1h0"/>
<path stroke="#9e0000" d="M272.7,1368.6h0"/>
<path stroke="#ff7900" d="M148.1,1357.1h0"/>
<path stroke="#e20000" d="M230.5,1307.7h0"/>
<path stroke="#de0000" d="M322.4,1357.6h0"/>
<path stroke="#eb0000" d="M216.1,1294.9h0"/>
<path stroke="#ff5000" d="M182.8,1328.6h0"/>
<path stroke="#ee0000" d="M391.1,1317.7h0"/>
<path stroke="#740000" d="M265.7,1354.0h0"/>
<path stroke="#ca0000" d="M347.9,1334.5h0"/>
<path stroke="#fb0000" d="M336.2,1383.6h0"/>
<path stroke="#ff7c00" d="M158.0,1307.1h0"/>
<path stroke="#f40000" d="M366.7,1346.1h0"/>
<path stroke="#6e0000" d="M256.6,1328.3h0"/>
<path stroke="#ff0800" d="M421.1,1382.5h0"/>
<path stroke="#ff0400" d="M377.8,1372.9h0"/>
<path stroke="#e60000" d="M379.7,1315.4h0"/>
<path stroke="#d90000" d="M229.7,1283.4h0"/>
<path stroke="#ff3b00" d="M179.3,1384.8h0"/>
<path stroke="#a40000" d="M303.6,1305.6h0"/>
<path stroke="#9e0000" d="M257.0,1293.7h0"/>
<path stroke="#9e0000" d="M242.3,1358.6h0"/>
<path stroke="#cc0000" d="M292.3,1380.1h0"/>
<path stroke="#ff0400" d="M382.3,1347.0h0"/>
<path stroke="#fe0000" d="M384.7,1380.2h0"/>
<path stroke="#ff5700" d="M161.3,1385.9h0"/>
<path stroke="#ba0000" d="M274.0,1385.5h0"/>
<path stroke="#fb0000" d="M349.4,1381.2h0"/>
<path stroke="#860000" d="M283.2,1301.1h0"/>
<path stroke="#ff0b00" d="M218.5,1267.7h0"/>
<path stroke="#ff8000" d="M167.9,1313.6h0"/>
<path stroke="#c50000" d="M238.2,1319.5h0"/>
<path stroke="#d10000" d="M284.5,1391.7h0"/>
<path stroke="#ff6b00" d="M173.6,1308.9h0"/>
<path stroke="#d40000" d="M237.8,1267.2h0"/>
<path stroke="#fe0000" d="M373.5,1390.5h0"/>
<path stroke="#e60000" d="M218.7,1353.3h0"/>
<path stroke="#e90000" d="M214.8,1344.4h0"/>
<path stroke="#f70000" d="M325.1,1385.8h0"/>
<path stroke="#ff6800" d="M157.4,1368.5h0"/>
<path stroke="#8f0000" d="M252.7,1321.3h0"/>
<path stroke="#fb0000" d="M412.6,1359.8h0"/>
<path stroke="#d70000" d="M227.9,1329.2h0"/>
<path stroke="#ff0700" d="M208.0,1379.1h0"/>
<path stroke="#ff8800" d="M156.9,1329.4h0"/>
<path stroke="#f70000" d="M416.7,1327.1h0"/>
<path stroke="#ff7e00" d="M131.4,1398.4h0"/>
<path stroke="#ae0000" d="M261.2,1275.8h0"/>
<path stroke="#b00000" d="M291.7,1355.9h0"/>
<path stroke="#cc0000" d="M333.3,1327.4h0"/>
<path stroke="#f30000" d="M314.9,1368.4h0"/>
<path stroke="#d80000" d="M278.2,1394.4h0"/>
<path stroke="#d90000" d="M343.6,1354.0h0"/>
<path stroke="#a70000" d="M302.1,1341.4h0"/>
<path stroke="#fc0000" d="M418.0,1345.9h0"/>
<path stroke="#d10000" d="M348.5,1346.7h0"/>
<path stroke="#bd0000" d="M244.0,1386.1h0"/>
<path stroke="#a00000" d="M261.9,1265.8h0"/>
<path stroke="#bb0000" d="M244.0,1275.1h0"/>
<path stroke="#d80000" d="M359.9,1333.6h0"/>
<path stroke="#ad0000" d="M274.6,1270.9h0"/>
<path stroke="#bc0000" d="M229.7,1353.0h0"/>
<path stroke="#640000" d="M263.3,1340.4h0"/>
<path stroke="#ff5100" d="M182.9,1275.3h0"/>
<path stroke="#f90000" d="M390.3,1381.5h0"/>
<path stroke="#ff0900" d="M391.7,1344.2h0"/>
<path stroke="#ff6700" d="M162.5,1353.8h0"/>
<path stroke="#ff7500" d="M133.6,1355.0h0"/>
<path stroke="#d70000" d="M336.9,1319.6h0"/>
<path stroke="#d20000" d="M323.9,1319.8h0"/>
<path stroke="#fd0000" d="M213.2,1304.5h0"/>
<path stroke="#ff1500" d="M202.1,1367.9h0"/>
<path stroke="#d20000" d="M303.9,1392.1h0"/>
<path stroke="#ed0000" d="M213.2,1390.8h0"/>
<path stroke="#ff8000" d="M162.4,1342.0h0"/>
<path stroke="#ff1c00" d="M201.2,1334.2h0"/>
<path stroke="#ff7a00" d="M131.8,1368.2h0"/>
<path stroke="#b20000" d="M243.0,1368.6h0"/>
<path stroke="#ff0200" d="M358.4,1377.9h0"/>
<path stroke="#ff2600" d="M190.7,1383.7h0"/>
<path stroke="#dc0000" d="M226.0,1391.9h0"/>
<path stroke="#ff0200" d="M329.9,1372.7h0"/>
<path stroke="#ff0300" d="M417.1,1366.6h0"/>
<path stroke="#ff4b00" d="M169.0,1394.8h0"/>
<path stroke="#fb0000" d="M220.3,1280.4h0"/>
<path stroke="#9f0000" d="M239.4,1346.2h0"/>
<path stroke="#780000" d="M249.4,1342.9h0"/>
<path stroke="#da0000" d="M308.9,1382.0h0"/>
<path stroke="#ff2800" d="M201.8,1280.1h0"/>
<path stroke="#c40000" d="M311.6,1332.9h0"/>
<path stroke="#ff8100" d="M142.4,1292.7h0"/>
<path stroke="#f80000" d="M404.5,1368.8h0"/>
<path stroke="#f10000" d="M214.4,1321.8h0"/>
<path stroke="#a00000" d="M292.2,1333.6h0"/>
<path stroke="#a50000" d="M296.6,1316.0h0"/>
<path stroke="#ff3900" d="M194.2,1341.2h0"/>
<path stroke="#df0000" d="M362.4,1319.5h0"/>
<path stroke="#ff4700" d="M191.9,1327.4h0"/>
<path stroke="#ff6000" d="M179.2,1318.5h0"/>
<path stroke="#bb0000" d="M239.1,1308.4h0"/>
<path stroke="#ff8500" d="M146.2,1305.9h0"/>
<path stroke="#ff8a00" d="M160.7,1269.2h0"/>
<path stroke="#ff1a00" d="M203.1,1358.8h0"/>
<path stroke="#720000" d="M271.4,1327.9h0"/>
<path stroke="#ff0a00" d="M406.0,1354.4h0"/>
<path stroke="#6c0000" d="M255.7,1358.3h0"/>
<path stroke="#ff4400" d="M172.3,1368.8h0"/>
<path stroke="#e50000" d="M229.0,1317.7h0"/>
<path stroke="#ff0000" d="M379.9,1392.4h0"/>
<path stroke="#ff6d00" d="M166.6,1329.9h0"/>
<path stroke="#ff7b00" d="M148.5,1346.7h0"/>
<path stroke="#ff0400" d="M210.2,1316.2h0"/>
<path stroke="#ff3200" d="M195.6,1308.7h0"/>
<path stroke="#ff7800" d="M162.1,1282.8h0"/>
<path stroke="#ff4a00" d="M182.1,1356.4h0"/>
<path stroke="#ff0a00" d="M406.3,1396.7h0"/>
<path stroke="#e10000" d="M372.1,1329.8h0"/>
<path stroke="#ff0400" d="M382.5,1359.7h0"/>
<path stroke="#ff4c00" d="M172.3,1358.2h0"/>
<path stroke="#f20000" d="M320.8,1367.0h0"/>
<path stroke="#ff3700" d="M195.6,1287.9h0"/>
<path stroke="#790000" d="M264.0,1320.0h0"/>
<path stroke="#b10000" d="M300.7,1353.5h0"/>
<path stroke="#cf0000" d="M366.9,1316.1h0"/>
<path stroke="#cf0000" d="M301.9,1384.4h0"/>
<path stroke="#ff6700" d="M145.9,1370.3h0"/>
<path stroke="#ff8000" d="M137.9,1295.8h0"/>
<path stroke="#9a0000" d="M265.4,1289.9h0"/>
<path stroke="#ff6f00" d="M172.2,1345.5h0"/>
<path stroke="#ff7f00" d="M167.3,1270.0h0"/>
<path stroke="#ab0000" d="M261.6,1394.1h0"/>
<path stroke="#ff8800" d="M157.5,1321.7h0"/>
<path stroke="#cd0000" d="M323.3,1344.7h0"/>
<path stroke="#ff8700" d="M131.0,1315.9h0"/>
<path stroke="#ff0a00" d="M408.9,1326.8h0"/>
<path stroke="#fe0000" d="M389.4,1394.4h0"/>
<path stroke="#af0000" d="M248.0,1393.3h0"/>
<path stroke="#ff6900" d="M148.2,1396.5h0"/>
<path stroke="#ff0100" d="M419.5,1393.6h0"/>
<path stroke="#d20000" d="M342.3,1319.4h0"/>
<path stroke="#790000" d="M279.4,1342.4h0"/>
<path stroke="#ff5200" d="M185.0,1290.5h0"/>
<path stroke="#bb0000" d="M313.5,1308.8h0"/>
<path stroke="#ff1a00" d="M202.1,1294.8h0"/>
<path stroke="#c30000" d="M314.7,1314.3h0"/>
<path stroke="#ff0500" d="M367.5,1355.3h0"/>
<path stroke="#ff8000" d="M166.1,1289.4h0"/>
<path stroke="#ff1e00" d="M197.8,1371.3h0"/>
<path stroke="#ff7c00" d="M134.3,1327.3h0"/>
<path stroke="#fb0000" d="M406.3,1384.0h0"/>
<path stroke="#640000" d="M262.0,1333.5h0"/>
<path stroke="#ff8900" d="M150.1,1326.6h0"/>
<path stroke="#d10000" d="M240.7,1396.6h0"/>
<path stroke="#a40000" d="M300.4,1332.9h0"/>
<path stroke="#ff7b00" d="M145.2,1282.4h0"/>
<path stroke="#ff6b00" d="M170.6,1279.6h0"/>
<path stroke="#ff7f00" d="M263.1,1175.7h0"/>
<path stroke="#ff2b00" d="M265.4,1255.1h0"/>
<path stroke="#ff7f00" d="M267.8,1495.6h0"/>
<path stroke="#ff5500" d="M331.1,1335.7h0"/>
<path stroke="#ff7f00" d="M408.5,1335.7h0"/>
<path stroke="#ff2b00" d="M267.8,1418.8h0"/>
</g>
<path transform="translate(138.8,1165.5)" d="M-2.4,-18.0 L-2.7,-8.7 L-4.3,4.9 L-7.4,23.5 L-12.4,42.1 L-14.8,53.3 L-16.3,57.6 M-16.3,304.7 L-12.4,312.8 L-6.2,320.2 L0.0,327.6 L4.4,336.3 L5.6,347.5 L5.0,357.4 L3.8,364.8 M-16.3,155.6 L-11.1,161.1 L-6.2,168.6 L-3.1,176.4 L0.7,182.6 L2.9,195.0 L0.0,207.4 L-0.6,221.0 L1.5,233.4 L0.7,245.8 L-1.2,260.7 L-2.2,273.1 L0.0,284.9 L5.0,288.6 L13.7,290.7 L16.2,299.1 L18.0,310.3 L21.7,321.4 L24.8,335.1 L29.2,345.0 L33.5,354.9 L36.6,364.8 M35.1,-18.0 L33.5,-7.5 L31.3,3.1 L26.7,17.3 L21.7,33.4 L18.0,50.8 L15.5,65.7 L13.7,79.3 L10.0,90.5 L3.1,102.9 L-4.9,117.1 L6.2,127.1 L14.9,136.4 L22.4,146.3 L27.3,156.2 L32.3,169.8 L35.4,176.4 L38.2,182.6 L31.7,195.0 L31.3,208.6 L25.5,221.0 L23.6,233.4 L21.1,246.8 L25.5,253.2 L30.4,260.7 L35.4,273.1 L34.1,286.7 L32.6,297.9 L36.0,309.0 L39.7,320.2 L42.2,332.6 L44.7,348.7 L49.6,357.4 L53.1,364.8 M64.1,-18.0 L64.3,-11.2 L62.7,1.2 L58.3,13.6 L54.6,28.5 L51.5,45.8 L49.0,63.2 L48.8,70.6 L49.9,79.3 L48.4,88.0 L45.3,96.7 L42.2,105.4 L43.4,110.3 L46.5,117.8 L53.4,128.9 L59.6,142.6 L65.8,156.2 L65.5,166.1 L62.7,174.8 L59.6,181.3 L54.6,196.2 L51.5,208.6 L48.4,221.0 L46.9,233.4 L47.2,245.8 L50.3,258.2 L52.1,274.3 L52.4,295.4 L53.4,309.0 L56.5,322.7 L58.3,332.6 L62.0,346.2 L67.0,356.1 L71.3,364.8 M97.6,-18.0 L98.0,-8.7 L97.1,2.4 L93.0,14.8 L88.1,28.5 L84.1,40.9 L83.5,53.3 L85.0,65.7 L86.8,79.3 L86.2,91.7 L81.9,102.9 L75.7,112.8 L72.6,118.4 L79.4,126.4 L87.5,132.0 L93.0,140.1 L96.8,148.7 L98.4,157.4 L97.4,168.6 L97.4,171.4 L93.7,182.6 L85.6,195.0 L74.4,207.4 L67.6,221.0 L65.1,233.4 L65.5,245.8 L67.0,270.6 L68.2,295.4 L68.2,320.2 L69.2,336.3 L73.2,347.5 L80.6,356.1 L85.6,361.7 L92.4,364.8 M133.3,-18.0 L135.6,-10.0 L135.6,2.4 L131.5,13.6 L125.9,29.7 L120.3,45.8 L117.6,54.3 L119.7,63.2 L122.8,73.1 L124.4,80.6 L122.8,91.7 L117.8,101.6 L111.6,111.6 L114.1,122.7 L121.6,133.9 L126.5,142.6 L130.9,152.5 L134.6,157.4 L131.5,166.1 L130.0,171.4 L124.0,187.5 L115.4,206.1 L107.3,212.3 L100.5,219.1 L90.6,235.9 L83.1,252.6 L82.5,270.6 L84.1,285.5 L81.9,299.1 L80.0,310.3 L80.6,320.2 L83.1,328.9 L86.8,332.6 L96.8,336.3 L107.9,335.3 L120.3,337.6 L131.5,339.0 L136.4,347.5 L142.6,357.4 L148.8,364.6 M167.4,-18.0 L171.1,-10.0 L173.9,-0.0 L172.4,11.1 L167.4,23.5 L161.2,38.4 L156.9,50.8 L155.6,63.2 L156.9,74.4 L158.5,80.6 L157.3,90.5 L152.5,101.6 L146.3,110.3 L138.9,116.5 L145.1,135.1 L151.3,147.5 L163.1,157.4 L167.4,169.8 L168.0,171.4 L163.7,181.3 L156.3,195.0 L147.6,208.6 L143.2,221.0 L134.0,226.6 L125.9,233.4 L123.4,240.8 L120.3,250.8 L114.1,263.2 L105.4,276.8 L99.9,288.0 L96.8,297.9 L98.6,307.8 L98.6,323.3 L107.9,326.4 L114.1,322.1 L120.9,315.2 L127.1,310.9 L131.5,304.7 L143.9,307.2 L148.2,314.0 L155.0,325.2 L166.8,333.8 L171.1,345.0 L173.4,353.7 L174.0,364.6 M201.7,-18.0 L208.6,-11.2 L211.3,2.4 L209.8,14.8 L201.1,31.0 L191.2,45.8 L185.0,54.5 L182.5,67.5 L193.7,79.3 L192.4,91.7 L183.8,105.4 L175.1,116.5 L170.7,129.5 L178.8,143.8 L187.5,156.2 L199.3,169.2 L200.5,183.2 L192.4,196.2 L181.9,208.6 L175.1,219.8 L161.4,229.7 L148.2,245.8 L149.4,258.2 L153.1,265.6 L158.7,273.1 L166.2,288.0 L177.6,296.6 L184.4,310.3 L187.5,326.4 L191.2,349.9 L187.5,364.6 M263.7,-18.0 L248.9,-17.6 L242.4,-10.2 L245.1,4.9 L247.2,16.1 L242.0,28.5 L234.6,40.9 L229.9,50.8 L228.4,58.2 L229.9,70.6 L229.9,83.0 L227.2,94.2 L221.0,106.6 L212.3,119.0 L203.6,130.8 L213.5,137.6 L221.0,147.5 L226.5,157.4 L229.6,169.8 L228.4,171.4 L230.9,183.2 L228.4,196.2 L218.5,209.8 L211.0,221.0 L206.1,230.9 L201.7,237.1 L190.0,230.9 L186.2,235.9 L183.8,245.8 L191.2,257.0 L197.4,265.6 L204.8,275.6 L211.0,285.5 L212.9,297.9 L212.3,311.5 L206.7,323.9 L205.5,336.3 L204.6,351.2 L205.1,364.6 M336.3,-18.0 L330.7,-11.8 L315.2,-3.1 L295.4,5.8 L283.6,3.1 L282.3,17.3 L280.5,29.7 L273.0,43.4 L268.1,55.8 L266.2,68.2 L266.6,80.6 L264.4,94.2 L259.4,107.8 L252.0,122.7 L248.5,130.8 L249.2,143.8 L255.7,157.4 L260.6,168.6 L260.9,171.4 L262.5,178.8 L260.9,193.7 L257.5,207.4 L249.5,221.0 L238.3,225.3 L229.6,233.4 L227.2,245.8 L233.4,260.7 L240.8,275.6 L244.5,286.7 L243.9,299.1 L235.8,314.0 L228.4,326.4 L224.9,336.3 L224.7,351.2 L224.1,364.6 M342.7,22.9 L330.1,27.2 L318.9,32.8 L312.1,40.9 L307.1,55.8 L302.2,68.2 L299.1,81.8 L296.6,95.4 L292.9,109.1 L285.4,124.0 L280.5,135.1 L278.6,143.8 L283.0,153.7 L290.4,166.1 L292.3,171.4 L294.5,182.6 L289.8,198.7 L285.4,214.8 L283.6,221.0 L274.9,233.4 L260.6,239.0 L253.2,245.8 L265.6,258.2 L273.0,273.1 L276.8,284.2 L278.4,296.6 L274.3,310.3 L266.8,322.7 L250.7,336.3 L248.0,348.7 L245.1,364.6 M342.7,59.5 L338.7,66.9 L335.0,79.3 L330.1,90.5 L327.6,102.9 L325.7,118.4 L314.0,131.4 L307.1,143.8 L307.8,156.2 L315.2,162.4 L325.1,169.2 L325.7,171.4 L326.1,183.8 L323.9,198.7 L318.9,214.8 L315.8,227.2 L312.7,233.4 L306.5,239.0 L293.5,245.8 L297.8,260.7 L304.0,274.3 L307.8,286.7 L309.0,299.1 L308.4,311.5 L302.2,322.7 L288.5,335.1 L281.7,349.3 L288.3,364.6 M342.7,235.3 L338.7,243.3 L328.8,259.4 L336.3,271.8 L338.1,286.7 L338.4,299.1 L337.3,311.5 L337.9,322.7 L322.0,336.3 L317.1,349.9 L320.2,364.6" fill="none" stroke="#000" stroke-width="1.6" stroke-linejoin="round"/>
<path transform="translate(138.8,1167.5)" d="M-4.9,117.1 L17.4,113.4 L42.2,110.3 L67.0,110.9 L85.6,112.8 L129.0,117.9 L167.6,123.3 L203.6,127.7 L248.2,133.9 L279.2,140.1 L306.5,146.9 L332.6,151.5 L340.0,152.9 M-13.6,259.4 L-1.2,257.0 L23.6,253.2 L48.4,250.1 L80.6,248.9 L98.0,249.3 L116.6,248.9 L134.0,245.8 L145.1,243.3 L160.0,241.5 L180.0,240.2 L228.4,242.7 L278.0,244.6 L300.3,244.6 L315.2,248.9 L330.1,255.7 L344.3,257.0" fill="none" stroke="#000" stroke-width="1.6" stroke-dasharray="12,5.4"/>
<path d="M483.2,1377.2 Q447.0,1359.2 406.0,1353.8" fill="none" stroke="#f08c00" stroke-width="5.2"/>
<path d="M381.6,1349.9 L410.7,1346.6 L408.0,1354.2 L408.8,1361.8 Z" fill="#f08c00"/>
<path d="M240.0,1256.0 L254.0,1284.4 L226.0,1284.4 Z" fill="#fff" stroke="#5c2483" stroke-width="4.6" stroke-miterlimit="10"/>
<path d="M270.5,1270.2 L284.7,1298.9 L256.3,1298.9 Z" fill="#fff" stroke="#5c2483" stroke-width="4.6" stroke-miterlimit="10"/>
<path d="M299.2,1280.7 L313.5,1308.7 L284.9,1308.7 Z" fill="#fff" stroke="#5c2483" stroke-width="4.6" stroke-miterlimit="10"/>
<path d="M238.9,1385.5 L253.2,1413.8 L224.6,1413.8 Z" fill="#fff" stroke="#5c2483" stroke-width="4.6" stroke-miterlimit="10"/>
<path d="M302.9,1378.5 L317.5,1406.6 L288.3,1406.6 Z" fill="#fff" stroke="#5c2483" stroke-width="4.6" stroke-miterlimit="10"/>
<path d="M240.4,1331.6h14.0v-14.0h8.7v14.0h14.0v8.7h-14.0v14.0h-8.7v-14.0h-14.0z" fill="#0000ff"/>
<text x="303.6" y="1122.9" font-size="38" text-anchor="middle" font-weight="normal" stroke="#000" stroke-width="0.9">5</text>
<text x="109.0" y="1189.9" font-size="33.8" text-anchor="end" font-weight="normal" stroke="#000" stroke-width="0.9">150</text>
<text x="108.2" y="1353.8" font-size="33.8" text-anchor="end" font-weight="normal" stroke="#000" stroke-width="0.9">0</text>
<text x="112.2" y="1517.1" font-size="33.8" text-anchor="end" font-weight="normal" stroke="#000" stroke-width="0.9">-150</text>
<text x="135.7" y="1567.8" font-size="34.3" text-anchor="middle" font-weight="normal" stroke="#000" stroke-width="0.9">-150</text>
<text x="293.1" y="1567.8" font-size="34.3" text-anchor="middle" font-weight="normal" stroke="#000" stroke-width="0.9">0</text>
<text x="474.1" y="1567.8" font-size="34.3" text-anchor="middle" font-weight="normal" stroke="#000" stroke-width="0.9">150</text>
<text x="54.5" y="1319.6" font-size="39.5" text-anchor="middle" font-weight="normal" stroke="#000" stroke-width="0.7" transform="rotate(-90 54.5 1319.6)">Northing (m)</text>
<text x="303.2" y="1603.9" font-size="39.2" text-anchor="middle" font-weight="normal" stroke="#000" stroke-width="0.7">Easting (m)</text>
</g>
<g>
<path d="M594.3,1147.5 V1529.9 H953.0" fill="none" stroke="#000" stroke-width="1.5"/>
<path d="M586.4,1182.7h12.4" stroke="#000" stroke-width="1.3"/>
<path d="M586.4,1341.1h12.4" stroke="#000" stroke-width="1.3"/>
<path d="M586.4,1509.7h12.4" stroke="#000" stroke-width="1.3"/>
<g stroke-width="21.0" stroke-linecap="round" fill="none">
<path stroke="#ff5500" d="M611.0,1165.5h0M634.5,1165.5h0M939.3,1165.5h0M845.5,1191.1h0M869.0,1191.1h0M892.4,1191.1h0M611.0,1216.7h0M822.0,1216.7h0M845.5,1216.7h0M611.0,1242.3h0M798.6,1242.3h0M798.6,1267.9h0M751.7,1344.6h0M728.2,1395.8h0M704.8,1421.4h0M704.8,1523.8h0"/>
<path stroke="#ff2b00" d="M657.9,1165.5h0M798.6,1165.5h0M822.0,1165.5h0M845.5,1165.5h0M869.0,1165.5h0M892.4,1165.5h0M634.5,1191.1h0M657.9,1191.1h0M798.6,1191.1h0M822.0,1191.1h0M634.5,1216.7h0M657.9,1216.7h0M798.6,1216.7h0M634.5,1242.3h0M657.9,1242.3h0M775.1,1242.3h0M611.0,1267.9h0M634.5,1267.9h0M775.1,1267.9h0M611.0,1293.5h0M634.5,1293.5h0M751.7,1293.5h0M611.0,1319.0h0M751.7,1319.0h0M611.0,1344.6h0M611.0,1370.2h0M728.2,1370.2h0M681.4,1472.6h0M681.4,1498.2h0M681.4,1523.8h0"/>
<path stroke="#ff0000" d="M681.4,1165.5h0M775.1,1165.5h0M751.7,1191.1h0M775.1,1191.1h0M751.7,1216.7h0M775.1,1216.7h0M728.2,1242.3h0M751.7,1242.3h0M657.9,1267.9h0M751.7,1267.9h0M657.9,1293.5h0M634.5,1319.0h0M657.9,1319.0h0M634.5,1344.6h0M657.9,1344.6h0M728.2,1344.6h0M634.5,1370.2h0M611.0,1395.8h0M634.5,1395.8h0M704.8,1395.8h0M611.0,1421.4h0M681.4,1421.4h0M657.9,1447.0h0M681.4,1447.0h0M611.0,1472.6h0M634.5,1472.6h0M657.9,1472.6h0M611.0,1498.2h0M634.5,1498.2h0M657.9,1498.2h0M611.0,1523.8h0M634.5,1523.8h0M657.9,1523.8h0"/>
<path stroke="#d40000" d="M704.8,1165.5h0M728.2,1165.5h0M681.4,1191.1h0M704.8,1191.1h0M728.2,1191.1h0M681.4,1216.7h0M728.2,1216.7h0M681.4,1242.3h0M681.4,1267.9h0M728.2,1267.9h0M681.4,1293.5h0M728.2,1293.5h0M681.4,1319.0h0M728.2,1319.0h0M681.4,1344.6h0M657.9,1370.2h0M704.8,1370.2h0M657.9,1395.8h0M681.4,1395.8h0M634.5,1421.4h0M657.9,1421.4h0M611.0,1447.0h0M634.5,1447.0h0"/>
<path stroke="#bf0000" d="M751.7,1165.5h0"/>
<path stroke="#ff4000" d="M915.8,1165.5h0"/>
<path stroke="#ff7f00" d="M611.0,1191.1h0M915.8,1191.1h0M939.3,1191.1h0M869.0,1216.7h0M892.4,1216.7h0M915.8,1216.7h0M939.3,1216.7h0M822.0,1242.3h0M845.5,1242.3h0M869.0,1242.3h0M892.4,1242.3h0M915.8,1242.3h0M939.3,1242.3h0M822.0,1267.9h0M845.5,1267.9h0M869.0,1267.9h0M892.4,1267.9h0M915.8,1267.9h0M939.3,1267.9h0M775.1,1293.5h0M822.0,1293.5h0M845.5,1293.5h0M775.1,1319.0h0M775.1,1344.6h0M751.7,1370.2h0M728.2,1421.4h0M704.8,1447.0h0M728.2,1447.0h0M704.8,1472.6h0M704.8,1498.2h0M728.2,1523.8h0"/>
<path stroke="#aa0000" d="M704.8,1216.7h0M704.8,1242.3h0M704.8,1267.9h0M704.8,1293.5h0M704.8,1319.0h0M704.8,1344.6h0M681.4,1370.2h0"/>
<path stroke="#ff9500" d="M798.6,1293.5h0"/>
<path stroke="#ffaa00" d="M869.0,1293.5h0M892.4,1293.5h0M915.8,1293.5h0M939.3,1293.5h0M798.6,1319.0h0M822.0,1319.0h0M845.5,1319.0h0M869.0,1319.0h0M892.4,1319.0h0M915.8,1319.0h0M939.3,1319.0h0M798.6,1344.6h0M822.0,1344.6h0M845.5,1344.6h0M869.0,1344.6h0M892.4,1344.6h0M915.8,1344.6h0M939.3,1344.6h0M775.1,1370.2h0M798.6,1370.2h0M869.0,1370.2h0M915.8,1370.2h0M751.7,1395.8h0M775.1,1395.8h0M751.7,1421.4h0M751.7,1447.0h0M728.2,1472.6h0M751.7,1472.6h0M728.2,1498.2h0M751.7,1498.2h0M775.1,1498.2h0M751.7,1523.8h0"/>
<path stroke="#ffd500" d="M822.0,1370.2h0M845.5,1370.2h0M798.6,1395.8h0M822.0,1395.8h0M845.5,1395.8h0M869.0,1395.8h0M892.4,1395.8h0M915.8,1395.8h0M939.3,1395.8h0M775.1,1421.4h0M798.6,1421.4h0M822.0,1421.4h0M845.5,1421.4h0M892.4,1421.4h0M915.8,1421.4h0M939.3,1421.4h0M775.1,1447.0h0M798.6,1447.0h0M822.0,1447.0h0M845.5,1447.0h0M939.3,1447.0h0M775.1,1472.6h0M798.6,1472.6h0M822.0,1472.6h0M845.5,1472.6h0M798.6,1498.2h0M822.0,1498.2h0M915.8,1498.2h0M775.1,1523.8h0M798.6,1523.8h0M822.0,1523.8h0M845.5,1523.8h0"/>
<path stroke="#ffbf00" d="M892.4,1370.2h0M939.3,1370.2h0"/>
<path stroke="#ffea00" d="M869.0,1421.4h0M869.0,1447.0h0M892.4,1447.0h0M915.8,1447.0h0M869.0,1472.6h0M892.4,1472.6h0M915.8,1472.6h0M939.3,1472.6h0M845.5,1498.2h0M869.0,1498.2h0M892.4,1498.2h0M939.3,1498.2h0M869.0,1523.8h0M892.4,1523.8h0M915.8,1523.8h0M939.3,1523.8h0"/>
<path stroke="#dc0000" d="M655.4,1384.8h0"/>
<path stroke="#ff0800" d="M739.3,1327.9h0"/>
<path stroke="#ffcc00" d="M808.9,1391.5h0"/>
<path stroke="#cd0000" d="M722.2,1276.1h0"/>
<path stroke="#ed0000" d="M668.2,1304.3h0"/>
<path stroke="#ffb300" d="M781.3,1392.1h0"/>
<path stroke="#ff2300" d="M605.4,1294.6h0"/>
<path stroke="#ffd700" d="M877.1,1384.1h0"/>
<path stroke="#ff1000" d="M627.1,1317.6h0"/>
<path stroke="#dd0000" d="M677.6,1302.8h0"/>
<path stroke="#ba0000" d="M688.9,1366.0h0"/>
<path stroke="#ac0000" d="M710.2,1329.6h0"/>
<path stroke="#ffa300" d="M804.7,1320.5h0"/>
<path stroke="#ff2600" d="M617.6,1368.8h0"/>
<path stroke="#ff2c00" d="M629.2,1281.3h0"/>
<path stroke="#ffbf00" d="M888.1,1354.7h0"/>
<path stroke="#ae0000" d="M709.3,1318.5h0"/>
<path stroke="#ff9000" d="M787.8,1318.5h0"/>
<path stroke="#ffcb00" d="M827.4,1358.4h0"/>
<path stroke="#c50000" d="M662.2,1368.9h0"/>
<path stroke="#ff2400" d="M759.8,1281.0h0"/>
<path stroke="#ff0b00" d="M641.0,1303.4h0"/>
<path stroke="#ff1700" d="M643.4,1282.4h0"/>
<path stroke="#e90000" d="M665.9,1288.0h0"/>
<path stroke="#ff1300" d="M622.3,1316.5h0"/>
<path stroke="#ff2200" d="M616.3,1275.5h0"/>
<path stroke="#dd0000" d="M681.8,1278.6h0"/>
<path stroke="#ff7400" d="M769.1,1329.7h0"/>
<path stroke="#ffde00" d="M866.2,1380.2h0"/>
<path stroke="#ffa100" d="M893.5,1343.5h0"/>
<path stroke="#ff9f00" d="M867.3,1333.2h0"/>
<path stroke="#bd0000" d="M709.8,1343.5h0"/>
<path stroke="#bf0000" d="M722.4,1270.3h0"/>
<path stroke="#ffa600" d="M842.6,1328.5h0"/>
<path stroke="#f10000" d="M727.9,1343.8h0"/>
<path stroke="#ffbc00" d="M857.7,1357.3h0"/>
<path stroke="#ffa100" d="M846.0,1317.2h0"/>
<path stroke="#ff6000" d="M737.3,1378.0h0"/>
<path stroke="#fe0000" d="M725.0,1357.5h0"/>
<path stroke="#ffb500" d="M866.5,1315.8h0"/>
<path stroke="#cc0000" d="M688.2,1305.8h0"/>
<path stroke="#d30000" d="M726.9,1294.3h0"/>
<path stroke="#ffa400" d="M852.9,1328.1h0"/>
<path stroke="#ff2200" d="M615.4,1333.6h0"/>
<path stroke="#ffa900" d="M804.6,1332.7h0"/>
<path stroke="#ffb600" d="M863.6,1357.7h0"/>
<path stroke="#ff8600" d="M774.1,1302.0h0"/>
<path stroke="#ff2700" d="M744.5,1339.9h0"/>
<path stroke="#fd0000" d="M634.7,1364.9h0"/>
<path stroke="#ff1600" d="M623.4,1360.4h0"/>
<path stroke="#ffa700" d="M821.2,1331.3h0"/>
<path stroke="#d60000" d="M681.7,1395.7h0"/>
<path stroke="#ffb300" d="M802.3,1377.7h0"/>
<path stroke="#ff0200" d="M749.3,1277.4h0"/>
<path stroke="#c00000" d="M721.3,1309.1h0"/>
<path stroke="#ff8e00" d="M757.1,1380.3h0"/>
<path stroke="#ff2800" d="M739.8,1347.0h0"/>
<path stroke="#ff2500" d="M610.7,1318.7h0"/>
<path stroke="#b90000" d="M674.4,1372.3h0"/>
<path stroke="#ff2100" d="M734.5,1351.9h0"/>
<path stroke="#b20000" d="M698.7,1270.8h0"/>
<path stroke="#ffaf00" d="M838.8,1354.2h0"/>
<path stroke="#cf0000" d="M690.2,1288.4h0"/>
<path stroke="#d10000" d="M685.5,1334.9h0"/>
<path stroke="#ffc300" d="M814.5,1379.5h0"/>
<path stroke="#ff0a00" d="M634.1,1381.6h0"/>
<path stroke="#ff7e00" d="M779.9,1327.6h0"/>
<path stroke="#ff2600" d="M611.5,1326.4h0"/>
<path stroke="#b40000" d="M698.4,1355.5h0"/>
<path stroke="#ba0000" d="M698.2,1282.6h0"/>
<path stroke="#ff0300" d="M649.8,1301.2h0"/>
<path stroke="#ff2300" d="M752.6,1318.5h0"/>
<path stroke="#ff2100" d="M606.2,1303.5h0"/>
<path stroke="#e30000" d="M674.7,1266.0h0"/>
<path stroke="#ffbe00" d="M875.8,1353.0h0"/>
<path stroke="#ffae00" d="M782.5,1371.4h0"/>
<path stroke="#ee0000" d="M670.6,1277.4h0"/>
<path stroke="#bd0000" d="M689.2,1269.9h0"/>
<path stroke="#ae0000" d="M698.1,1342.3h0"/>
<path stroke="#ff1100" d="M644.4,1290.5h0"/>
<path stroke="#ffb700" d="M810.2,1347.6h0"/>
<path stroke="#ff0800" d="M653.8,1291.9h0"/>
<path stroke="#ffca00" d="M815.2,1369.2h0"/>
<path stroke="#ff0200" d="M654.1,1346.0h0"/>
<path stroke="#ffd900" d="M834.9,1369.5h0"/>
<path stroke="#d70000" d="M665.8,1381.7h0"/>
<path stroke="#ff5900" d="M738.7,1369.4h0"/>
<path stroke="#ffd400" d="M889.1,1397.8h0"/>
<path stroke="#ff2300" d="M616.3,1345.5h0"/>
<path stroke="#eb0000" d="M702.3,1383.1h0"/>
<path stroke="#cb0000" d="M675.6,1357.1h0"/>
<path stroke="#ff6400" d="M748.5,1366.8h0"/>
<path stroke="#ff8300" d="M748.1,1380.8h0"/>
<path stroke="#ffb000" d="M840.5,1344.6h0"/>
<path stroke="#ffda00" d="M845.7,1392.2h0"/>
<path stroke="#ff7b00" d="M772.5,1340.5h0"/>
<path stroke="#ff6600" d="M756.4,1354.8h0"/>
<path stroke="#ffad00" d="M815.9,1314.6h0"/>
<path stroke="#f40000" d="M657.4,1355.5h0"/>
<path stroke="#ff9600" d="M761.5,1370.3h0"/>
<path stroke="#a40000" d="M702.1,1301.0h0"/>
<path stroke="#ffb400" d="M876.2,1331.4h0"/>
<path stroke="#ff4a00" d="M727.9,1391.1h0"/>
<path stroke="#d30000" d="M656.9,1368.4h0"/>
<path stroke="#ffad00" d="M791.5,1367.8h0"/>
<path stroke="#ff1d00" d="M630.1,1304.6h0"/>
<path stroke="#e80000" d="M709.7,1369.8h0"/>
<path stroke="#ffa000" d="M825.8,1315.1h0"/>
<path stroke="#d50000" d="M732.9,1314.1h0"/>
<path stroke="#ffd000" d="M837.7,1381.6h0"/>
<path stroke="#ffd100" d="M876.6,1366.8h0"/>
<path stroke="#ffa200" d="M831.0,1341.6h0"/>
<path stroke="#ffce00" d="M852.0,1373.1h0"/>
<path stroke="#ff5500" d="M759.9,1332.9h0"/>
<path stroke="#ff8e00" d="M772.2,1357.8h0"/>
<path stroke="#ffdb00" d="M887.9,1372.5h0"/>
<path stroke="#ffde00" d="M887.5,1382.7h0"/>
<path stroke="#bc0000" d="M690.7,1352.6h0"/>
<path stroke="#ff6d00" d="M732.7,1396.8h0"/>
<path stroke="#f60000" d="M645.2,1370.4h0"/>
<path stroke="#ffaf00" d="M769.7,1395.7h0"/>
<path stroke="#ff8f00" d="M779.8,1308.5h0"/>
<path stroke="#ff5600" d="M746.7,1356.1h0"/>
<path stroke="#c80000" d="M677.2,1385.2h0"/>
<path stroke="#df0000" d="M728.0,1329.8h0"/>
<path stroke="#ff3000" d="M723.6,1379.9h0"/>
<path stroke="#a70000" d="M703.1,1316.3h0"/>
<path stroke="#d00000" d="M669.0,1392.8h0"/>
<path stroke="#ff0100" d="M603.3,1394.1h0"/>
<path stroke="#dc0000" d="M653.5,1392.2h0"/>
<path stroke="#ff0600" d="M619.6,1390.9h0"/>
<path stroke="#f90000" d="M663.2,1341.3h0"/>
<path stroke="#ff0400" d="M639.3,1358.4h0"/>
<path stroke="#ff1300" d="M748.6,1309.3h0"/>
<path stroke="#ff4f00" d="M759.8,1314.3h0"/>
<path stroke="#ff0100" d="M640.2,1385.8h0"/>
<path stroke="#ffa600" d="M774.6,1371.4h0"/>
<path stroke="#ffae00" d="M785.4,1383.3h0"/>
<path stroke="#ffac00" d="M802.5,1359.2h0"/>
<path stroke="#ff4b00" d="M760.9,1292.8h0"/>
<path stroke="#ff1100" d="M650.4,1280.5h0"/>
<path stroke="#ff1b00" d="M616.5,1304.7h0"/>
<path stroke="#ff1200" d="M630.0,1354.8h0"/>
<path stroke="#ffac00" d="M890.4,1333.4h0"/>
<path stroke="#e80000" d="M733.5,1303.5h0"/>
<path stroke="#ffa400" d="M797.9,1333.6h0"/>
<path stroke="#ffa400" d="M803.8,1308.9h0"/>
<path stroke="#ff0600" d="M644.3,1341.5h0"/>
<path stroke="#ff9e00" d="M763.3,1390.2h0"/>
<path stroke="#f90000" d="M738.3,1283.7h0"/>
<path stroke="#ff9d00" d="M749.1,1393.8h0"/>
<path stroke="#b20000" d="M708.4,1304.7h0"/>
<path stroke="#ffc700" d="M797.2,1383.1h0"/>
<path stroke="#df0000" d="M674.5,1343.1h0"/>
<path stroke="#d40000" d="M686.7,1398.2h0"/>
<path stroke="#ffb200" d="M807.9,1365.8h0"/>
<path stroke="#ce0000" d="M678.9,1332.7h0"/>
<path stroke="#ffa100" d="M791.6,1344.7h0"/>
<path stroke="#ff0800" d="M612.0,1384.6h0"/>
<path stroke="#ffbe00" d="M823.0,1355.0h0"/>
<path stroke="#ff2a00" d="M604.4,1355.4h0"/>
<path stroke="#ff9a00" d="M792.0,1356.8h0"/>
<path stroke="#ac0000" d="M710.6,1275.4h0"/>
<path stroke="#e60000" d="M698.9,1392.7h0"/>
<path stroke="#ffb300" d="M876.2,1345.8h0"/>
<path stroke="#ed0000" d="M717.6,1356.5h0"/>
<path stroke="#ff2600" d="M623.1,1288.1h0"/>
<path stroke="#ff0000" d="M656.1,1332.1h0"/>
<path stroke="#ff0700" d="M626.3,1329.7h0"/>
<path stroke="#c50000" d="M686.9,1384.9h0"/>
<path stroke="#ffb000" d="M821.1,1345.4h0"/>
<path stroke="#ffdd00" d="M827.8,1382.9h0"/>
<path stroke="#ffcd00" d="M839.7,1367.3h0"/>
<path stroke="#ff1600" d="M713.9,1383.8h0"/>
<path stroke="#e30000" d="M664.3,1352.9h0"/>
<path stroke="#ff2900" d="M728.1,1366.4h0"/>
<path stroke="#f10000" d="M669.5,1320.9h0"/>
<path stroke="#f50000" d="M634.7,1391.2h0"/>
<path stroke="#ffd100" d="M851.8,1397.2h0"/>
<path stroke="#ff3600" d="M611.9,1280.1h0"/>
<path stroke="#ff1000" d="M618.9,1381.4h0"/>
<path stroke="#ff0900" d="M652.9,1316.8h0"/>
<path stroke="#ff9a00" d="M771.1,1378.1h0"/>
<path stroke="#b10000" d="M698.6,1295.5h0"/>
<path stroke="#ba0000" d="M720.8,1315.9h0"/>
<path stroke="#ffcb00" d="M830.8,1393.0h0"/>
<path stroke="#ff2100" d="M631.5,1290.9h0"/>
<path stroke="#ffa500" d="M826.8,1333.7h0"/>
<path stroke="#c10000" d="M692.3,1283.0h0"/>
<path stroke="#ffa000" d="M857.1,1340.9h0"/>
<path stroke="#ffa800" d="M850.8,1322.1h0"/>
<path stroke="#ff2300" d="M607.9,1372.7h0"/>
<path stroke="#ffdc00" d="M820.5,1396.8h0"/>
<path stroke="#f70000" d="M751.2,1268.9h0"/>
<path stroke="#fd0000" d="M641.6,1314.9h0"/>
<path stroke="#ff2d00" d="M603.0,1345.2h0"/>
<path stroke="#ff0700" d="M631.0,1344.2h0"/>
<path stroke="#a80000" d="M700.0,1332.3h0"/>
<path stroke="#ffd300" d="M849.8,1384.6h0"/>
<path stroke="#ff2e00" d="M751.8,1293.2h0"/>
<path stroke="#f70000" d="M643.3,1398.5h0"/>
<path stroke="#ffa500" d="M862.3,1342.6h0"/>
<path stroke="#be0000" d="M715.1,1288.6h0"/>
<path stroke="#ff2f00" d="M621.9,1270.5h0"/>
<path stroke="#c00000" d="M717.3,1269.3h0"/>
<path stroke="#ff1900" d="M743.6,1328.1h0"/>
<path stroke="#cf0000" d="M697.6,1365.6h0"/>
<path stroke="#ffd500" d="M862.5,1364.7h0"/>
<path stroke="#d90000" d="M732.5,1291.1h0"/>
<path stroke="#ff1100" d="M711.5,1392.9h0"/>
<path stroke="#c30000" d="M694.2,1339.8h0"/>
<path stroke="#ffc200" d="M791.2,1396.2h0"/>
<path stroke="#ff3e00" d="M757.4,1306.8h0"/>
<path stroke="#ff9000" d="M782.5,1343.0h0"/>
<path stroke="#ff9300" d="M781.3,1352.8h0"/>
<path stroke="#b70000" d="M692.7,1318.8h0"/>
<path stroke="#ffd500" d="M874.4,1394.7h0"/>
<path stroke="#e60000" d="M676.0,1291.7h0"/>
<path stroke="#e40000" d="M676.8,1315.9h0"/>
<path stroke="#ffdd00" d="M869.9,1391.6h0"/>
<path stroke="#ff6b00" d="M771.2,1321.0h0"/>
<path stroke="#ff9600" d="M790.8,1304.6h0"/>
<path stroke="#ff5500" d="M757.0,1339.6h0"/>
<path stroke="#ff9d00" d="M795.6,1314.8h0"/>
<path stroke="#f20000" d="M668.6,1327.6h0"/>
<path stroke="#ff0000" d="M646.3,1334.2h0"/>
<path stroke="#d40000" d="M711.8,1180.9h0"/>
<path stroke="#aa0000" d="M707.1,1237.2h0"/>
<path stroke="#aa0000" d="M714.2,1252.5h0"/>
<path stroke="#ff7f00" d="M704.8,1485.4h0"/>
</g>
<path transform="translate(611.0,1165.5)" d="M-2.4,-18.0 L-2.7,-8.7 L-4.3,4.9 L-7.4,23.5 L-12.4,42.1 L-14.8,53.3 L-16.3,57.6 M-16.3,304.7 L-12.4,312.8 L-6.2,320.2 L0.0,327.6 L4.4,336.3 L5.6,347.5 L5.0,357.4 L3.8,364.8 M-16.3,155.6 L-11.1,161.1 L-6.2,168.6 L-3.1,176.4 L0.7,182.6 L2.9,195.0 L0.0,207.4 L-0.6,221.0 L1.5,233.4 L0.7,245.8 L-1.2,260.7 L-2.2,273.1 L0.0,284.9 L5.0,288.6 L13.7,290.7 L16.2,299.1 L18.0,310.3 L21.7,321.4 L24.8,335.1 L29.2,345.0 L33.5,354.9 L36.6,364.8 M35.1,-18.0 L33.5,-7.5 L31.3,3.1 L26.7,17.3 L21.7,33.4 L18.0,50.8 L15.5,65.7 L13.7,79.3 L10.0,90.5 L3.1,102.9 L-4.9,117.1 L6.2,127.1 L14.9,136.4 L22.4,146.3 L27.3,156.2 L32.3,169.8 L35.4,176.4 L38.2,182.6 L31.7,195.0 L31.3,208.6 L25.5,221.0 L23.6,233.4 L21.1,246.8 L25.5,253.2 L30.4,260.7 L35.4,273.1 L34.1,286.7 L32.6,297.9 L36.0,309.0 L39.7,320.2 L42.2,332.6 L44.7,348.7 L49.6,357.4 L53.1,364.8 M64.1,-18.0 L64.3,-11.2 L62.7,1.2 L58.3,13.6 L54.6,28.5 L51.5,45.8 L49.0,63.2 L48.8,70.6 L49.9,79.3 L48.4,88.0 L45.3,96.7 L42.2,105.4 L43.4,110.3 L46.5,117.8 L53.4,128.9 L59.6,142.6 L65.8,156.2 L65.5,166.1 L62.7,174.8 L59.6,181.3 L54.6,196.2 L51.5,208.6 L48.4,221.0 L46.9,233.4 L47.2,245.8 L50.3,258.2 L52.1,274.3 L52.4,295.4 L53.4,309.0 L56.5,322.7 L58.3,332.6 L62.0,346.2 L67.0,356.1 L71.3,364.8 M97.6,-18.0 L98.0,-8.7 L97.1,2.4 L93.0,14.8 L88.1,28.5 L84.1,40.9 L83.5,53.3 L85.0,65.7 L86.8,79.3 L86.2,91.7 L81.9,102.9 L75.7,112.8 L72.6,118.4 L79.4,126.4 L87.5,132.0 L93.0,140.1 L96.8,148.7 L98.4,157.4 L97.4,168.6 L97.4,171.4 L93.7,182.6 L85.6,195.0 L74.4,207.4 L67.6,221.0 L65.1,233.4 L65.5,245.8 L67.0,270.6 L68.2,295.4 L68.2,320.2 L69.2,336.3 L73.2,347.5 L80.6,356.1 L85.6,361.7 L92.4,364.8 M133.3,-18.0 L135.6,-10.0 L135.6,2.4 L131.5,13.6 L125.9,29.7 L120.3,45.8 L117.6,54.3 L119.7,63.2 L122.8,73.1 L124.4,80.6 L122.8,91.7 L117.8,101.6 L111.6,111.6 L114.1,122.7 L121.6,133.9 L126.5,142.6 L130.9,152.5 L134.6,157.4 L131.5,166.1 L130.0,171.4 L124.0,187.5 L115.4,206.1 L107.3,212.3 L100.5,219.1 L90.6,235.9 L83.1,252.6 L82.5,270.6 L84.1,285.5 L81.9,299.1 L80.0,310.3 L80.6,320.2 L83.1,328.9 L86.8,332.6 L96.8,336.3 L107.9,335.3 L120.3,337.6 L131.5,339.0 L136.4,347.5 L142.6,357.4 L148.8,364.6 M167.4,-18.0 L171.1,-10.0 L173.9,-0.0 L172.4,11.1 L167.4,23.5 L161.2,38.4 L156.9,50.8 L155.6,63.2 L156.9,74.4 L158.5,80.6 L157.3,90.5 L152.5,101.6 L146.3,110.3 L138.9,116.5 L145.1,135.1 L151.3,147.5 L163.1,157.4 L167.4,169.8 L168.0,171.4 L163.7,181.3 L156.3,195.0 L147.6,208.6 L143.2,221.0 L134.0,226.6 L125.9,233.4 L123.4,240.8 L120.3,250.8 L114.1,263.2 L105.4,276.8 L99.9,288.0 L96.8,297.9 L98.6,307.8 L98.6,323.3 L107.9,326.4 L114.1,322.1 L120.9,315.2 L127.1,310.9 L131.5,304.7 L143.9,307.2 L148.2,314.0 L155.0,325.2 L166.8,333.8 L171.1,345.0 L173.4,353.7 L174.0,364.6 M201.7,-18.0 L208.6,-11.2 L211.3,2.4 L209.8,14.8 L201.1,31.0 L191.2,45.8 L185.0,54.5 L182.5,67.5 L193.7,79.3 L192.4,91.7 L183.8,105.4 L175.1,116.5 L170.7,129.5 L178.8,143.8 L187.5,156.2 L199.3,169.2 L200.5,183.2 L192.4,196.2 L181.9,208.6 L175.1,219.8 L161.4,229.7 L148.2,245.8 L149.4,258.2 L153.1,265.6 L158.7,273.1 L166.2,288.0 L177.6,296.6 L184.4,310.3 L187.5,326.4 L191.2,349.9 L187.5,364.6 M263.7,-18.0 L248.9,-17.6 L242.4,-10.2 L245.1,4.9 L247.2,16.1 L242.0,28.5 L234.6,40.9 L229.9,50.8 L228.4,58.2 L229.9,70.6 L229.9,83.0 L227.2,94.2 L221.0,106.6 L212.3,119.0 L203.6,130.8 L213.5,137.6 L221.0,147.5 L226.5,157.4 L229.6,169.8 L228.4,171.4 L230.9,183.2 L228.4,196.2 L218.5,209.8 L211.0,221.0 L206.1,230.9 L201.7,237.1 L190.0,230.9 L186.2,235.9 L183.8,245.8 L191.2,257.0 L197.4,265.6 L204.8,275.6 L211.0,285.5 L212.9,297.9 L212.3,311.5 L206.7,323.9 L205.5,336.3 L204.6,351.2 L205.1,364.6 M336.3,-18.0 L330.7,-11.8 L315.2,-3.1 L295.4,5.8 L283.6,3.1 L282.3,17.3 L280.5,29.7 L273.0,43.4 L268.1,55.8 L266.2,68.2 L266.6,80.6 L264.4,94.2 L259.4,107.8 L252.0,122.7 L248.5,130.8 L249.2,143.8 L255.7,157.4 L260.6,168.6 L260.9,171.4 L262.5,178.8 L260.9,193.7 L257.5,207.4 L249.5,221.0 L238.3,225.3 L229.6,233.4 L227.2,245.8 L233.4,260.7 L240.8,275.6 L244.5,286.7 L243.9,299.1 L235.8,314.0 L228.4,326.4 L224.9,336.3 L224.7,351.2 L224.1,364.6 M342.7,22.9 L330.1,27.2 L318.9,32.8 L312.1,40.9 L307.1,55.8 L302.2,68.2 L299.1,81.8 L296.6,95.4 L292.9,109.1 L285.4,124.0 L280.5,135.1 L278.6,143.8 L283.0,153.7 L290.4,166.1 L292.3,171.4 L294.5,182.6 L289.8,198.7 L285.4,214.8 L283.6,221.0 L274.9,233.4 L260.6,239.0 L253.2,245.8 L265.6,258.2 L273.0,273.1 L276.8,284.2 L278.4,296.6 L274.3,310.3 L266.8,322.7 L250.7,336.3 L248.0,348.7 L245.1,364.6 M342.7,59.5 L338.7,66.9 L335.0,79.3 L330.1,90.5 L327.6,102.9 L325.7,118.4 L314.0,131.4 L307.1,143.8 L307.8,156.2 L315.2,162.4 L325.1,169.2 L325.7,171.4 L326.1,183.8 L323.9,198.7 L318.9,214.8 L315.8,227.2 L312.7,233.4 L306.5,239.0 L293.5,245.8 L297.8,260.7 L304.0,274.3 L307.8,286.7 L309.0,299.1 L308.4,311.5 L302.2,322.7 L288.5,335.1 L281.7,349.3 L288.3,364.6 M342.7,235.3 L338.7,243.3 L328.8,259.4 L336.3,271.8 L338.1,286.7 L338.4,299.1 L337.3,311.5 L337.9,322.7 L322.0,336.3 L317.1,349.9 L320.2,364.6" fill="none" stroke="#000" stroke-width="1.6" stroke-linejoin="round"/>
<path transform="translate(611.0,1167.8)" d="M-4.9,117.1 L17.4,113.4 L42.2,110.3 L67.0,110.9 L85.6,112.8 L129.0,117.9 L167.6,123.3 L203.6,127.7 L248.2,133.9 L279.2,140.1 L306.5,146.9 L332.6,151.5 L340.0,152.9 M-13.6,259.4 L-1.2,257.0 L23.6,253.2 L48.4,250.1 L80.6,248.9 L98.0,249.3 L116.6,248.9 L134.0,245.8 L145.1,243.3 L160.0,241.5 L180.0,240.2 L228.4,242.7 L278.0,244.6 L300.3,244.6 L315.2,248.9 L330.1,255.7 L344.3,257.0" fill="none" stroke="#000" stroke-width="1.6" stroke-dasharray="12,5.4"/>
<path d="M949.7,1377.2 Q913.5,1359.2 872.5,1353.8" fill="none" stroke="#f08c00" stroke-width="5.2"/>
<path d="M848.1,1349.9 L877.2,1346.6 L874.5,1354.2 L875.3,1361.8 Z" fill="#f08c00"/>
<path d="M715.8,1253.9 L729.8,1282.3 L701.8,1282.3 Z" fill="#fff" stroke="#5c2483" stroke-width="4.6" stroke-miterlimit="10"/>
<path d="M746.3,1268.1 L760.5,1296.8 L732.1,1296.8 Z" fill="#fff" stroke="#5c2483" stroke-width="4.6" stroke-miterlimit="10"/>
<path d="M775.0,1278.6 L789.3,1306.6 L760.7,1306.6 Z" fill="#fff" stroke="#5c2483" stroke-width="4.6" stroke-miterlimit="10"/>
<path d="M714.7,1383.4 L729.0,1411.7 L700.4,1411.7 Z" fill="#fff" stroke="#5c2483" stroke-width="4.6" stroke-miterlimit="10"/>
<path d="M778.7,1376.4 L793.3,1404.5 L764.1,1404.5 Z" fill="#fff" stroke="#5c2483" stroke-width="4.6" stroke-miterlimit="10"/>
<path d="M688.1,1311.0h14.0v-14.0h8.7v14.0h14.0v8.7h-14.0v14.0h-8.7v-14.0h-14.0z" fill="#0000ff"/>
<text x="775.8" y="1122.9" font-size="38" text-anchor="middle" font-weight="normal" stroke="#000" stroke-width="0.9">6</text>
<text x="581.2" y="1189.9" font-size="33.8" text-anchor="end" font-weight="normal" stroke="#000" stroke-width="0.9">150</text>
<text x="580.4" y="1353.8" font-size="33.8" text-anchor="end" font-weight="normal" stroke="#000" stroke-width="0.9">0</text>
<text x="584.4" y="1517.1" font-size="33.8" text-anchor="end" font-weight="normal" stroke="#000" stroke-width="0.9">-150</text>
<text x="606.6" y="1564.8" font-size="34.3" text-anchor="middle" font-weight="normal" stroke="#000" stroke-width="0.9">-150</text>
<text x="764.0" y="1564.8" font-size="34.3" text-anchor="middle" font-weight="normal" stroke="#000" stroke-width="0.9">0</text>
<text x="945.0" y="1564.8" font-size="34.3" text-anchor="middle" font-weight="normal" stroke="#000" stroke-width="0.9">150</text>
</g>
<g>
<path d="M1067.3,1147.5 V1529.9 H1426.0" fill="none" stroke="#000" stroke-width="1.5"/>
<path d="M1059.4,1182.7h12.4" stroke="#000" stroke-width="1.3"/>
<path d="M1059.4,1341.1h12.4" stroke="#000" stroke-width="1.3"/>
<path d="M1059.4,1509.7h12.4" stroke="#000" stroke-width="1.3"/>
<g stroke-width="21.0" stroke-linecap="round" fill="none">
<path stroke="#ff2b00" d="M1084.0,1165.5h0M1107.5,1165.5h0M1154.3,1165.5h0M1177.8,1165.5h0M1224.7,1165.5h0M1248.2,1165.5h0M1295.0,1165.5h0M1318.5,1165.5h0M1342.0,1165.5h0M1365.4,1165.5h0M1388.8,1165.5h0M1412.3,1165.5h0M1084.0,1191.1h0M1107.5,1191.1h0M1130.9,1191.1h0M1154.3,1191.1h0M1224.7,1191.1h0M1248.2,1191.1h0M1271.6,1191.1h0M1295.0,1191.1h0M1318.5,1191.1h0M1342.0,1191.1h0M1365.4,1191.1h0M1388.8,1191.1h0M1412.3,1191.1h0M1107.5,1216.7h0M1201.2,1216.7h0M1224.7,1216.7h0M1248.2,1216.7h0M1295.0,1216.7h0M1318.5,1216.7h0M1342.0,1216.7h0M1365.4,1216.7h0M1388.8,1216.7h0M1412.3,1216.7h0M1201.2,1242.3h0M1224.7,1242.3h0M1248.2,1242.3h0M1271.6,1242.3h0M1295.0,1242.3h0M1318.5,1242.3h0M1388.8,1242.3h0M1224.7,1267.9h0M1248.2,1267.9h0M1271.6,1267.9h0M1295.0,1267.9h0M1318.5,1267.9h0M1342.0,1267.9h0M1365.4,1293.5h0M1388.8,1293.5h0M1412.3,1293.5h0"/>
<path stroke="#ff1500" d="M1130.9,1165.5h0M1271.6,1165.5h0M1271.6,1216.7h0M1342.0,1242.3h0M1365.4,1242.3h0"/>
<path stroke="#d40000" d="M1201.2,1165.5h0M1084.0,1267.9h0M1154.3,1267.9h0M1084.0,1293.5h0M1107.5,1293.5h0M1130.9,1293.5h0M1224.7,1293.5h0M1248.2,1319.0h0M1248.2,1344.6h0M1248.2,1370.2h0M1248.2,1395.8h0M1248.2,1421.4h0M1271.6,1421.4h0M1342.0,1421.4h0M1248.2,1447.0h0M1271.6,1447.0h0M1412.3,1447.0h0M1248.2,1472.6h0M1271.6,1472.6h0M1295.0,1472.6h0M1224.7,1498.2h0M1248.2,1498.2h0M1271.6,1498.2h0M1295.0,1498.2h0M1318.5,1498.2h0M1342.0,1498.2h0M1224.7,1523.8h0M1248.2,1523.8h0M1271.6,1523.8h0M1295.0,1523.8h0M1318.5,1523.8h0M1342.0,1523.8h0M1365.4,1523.8h0"/>
<path stroke="#ff0000" d="M1177.8,1191.1h0M1201.2,1191.1h0M1084.0,1216.7h0M1130.9,1216.7h0M1154.3,1216.7h0M1177.8,1216.7h0M1084.0,1242.3h0M1107.5,1242.3h0M1130.9,1242.3h0M1154.3,1242.3h0M1177.8,1242.3h0M1412.3,1242.3h0M1107.5,1267.9h0M1130.9,1267.9h0M1177.8,1267.9h0M1201.2,1267.9h0M1365.4,1267.9h0M1388.8,1267.9h0M1412.3,1267.9h0M1248.2,1293.5h0M1271.6,1293.5h0M1295.0,1293.5h0M1318.5,1293.5h0M1342.0,1293.5h0M1271.6,1319.0h0M1295.0,1319.0h0M1318.5,1319.0h0M1342.0,1319.0h0M1365.4,1319.0h0M1388.8,1319.0h0M1412.3,1319.0h0M1271.6,1344.6h0M1295.0,1344.6h0M1318.5,1344.6h0M1342.0,1344.6h0M1365.4,1344.6h0M1388.8,1344.6h0M1412.3,1344.6h0M1271.6,1370.2h0M1295.0,1370.2h0M1318.5,1370.2h0M1342.0,1370.2h0M1365.4,1370.2h0M1388.8,1370.2h0M1412.3,1370.2h0M1271.6,1395.8h0M1295.0,1395.8h0M1318.5,1395.8h0M1342.0,1395.8h0M1388.8,1395.8h0M1412.3,1395.8h0M1365.4,1421.4h0M1388.8,1421.4h0M1412.3,1421.4h0M1295.0,1447.0h0M1318.5,1447.0h0M1342.0,1447.0h0M1365.4,1447.0h0M1388.8,1447.0h0M1318.5,1472.6h0M1342.0,1472.6h0M1365.4,1472.6h0M1388.8,1472.6h0M1412.3,1472.6h0M1365.4,1498.2h0M1388.8,1498.2h0M1412.3,1498.2h0M1388.8,1523.8h0M1412.3,1523.8h0"/>
<path stroke="#aa0000" d="M1154.3,1293.5h0M1177.8,1293.5h0M1201.2,1293.5h0M1084.0,1319.0h0M1107.5,1319.0h0M1130.9,1319.0h0M1224.7,1319.0h0M1084.0,1344.6h0M1107.5,1344.6h0M1224.7,1344.6h0M1084.0,1370.2h0M1224.7,1395.8h0M1201.2,1421.4h0M1224.7,1421.4h0M1201.2,1447.0h0M1224.7,1447.0h0M1177.8,1472.6h0M1201.2,1472.6h0M1224.7,1472.6h0M1177.8,1498.2h0M1201.2,1498.2h0M1177.8,1523.8h0M1201.2,1523.8h0"/>
<path stroke="#7f0000" d="M1154.3,1319.0h0M1177.8,1319.0h0M1201.2,1319.0h0M1130.9,1344.6h0M1107.5,1370.2h0M1130.9,1370.2h0M1224.7,1370.2h0M1084.0,1395.8h0M1107.5,1395.8h0M1130.9,1395.8h0M1201.2,1395.8h0M1084.0,1421.4h0M1107.5,1421.4h0M1130.9,1421.4h0M1154.3,1421.4h0M1084.0,1447.0h0M1107.5,1447.0h0M1130.9,1447.0h0M1154.3,1447.0h0M1177.8,1447.0h0M1084.0,1472.6h0M1107.5,1472.6h0M1130.9,1472.6h0M1154.3,1472.6h0M1084.0,1498.2h0M1107.5,1498.2h0M1130.9,1498.2h0M1154.3,1498.2h0M1084.0,1523.8h0M1107.5,1523.8h0M1130.9,1523.8h0M1154.3,1523.8h0"/>
<path stroke="#550000" d="M1154.3,1344.6h0M1201.2,1344.6h0M1154.3,1370.2h0M1201.2,1370.2h0M1154.3,1395.8h0M1177.8,1395.8h0"/>
<path stroke="#2b0000" d="M1177.8,1344.6h0M1177.8,1370.2h0"/>
<path stroke="#ea0000" d="M1365.4,1395.8h0M1295.0,1421.4h0M1318.5,1421.4h0"/>
<path stroke="#6a0000" d="M1177.8,1421.4h0"/>
<path stroke="#be0000" d="M1211.1,1308.3h0"/>
<path stroke="#b40000" d="M1080.5,1318.5h0"/>
<path stroke="#f70000" d="M1247.0,1327.5h0"/>
<path stroke="#ff0b00" d="M1339.9,1318.4h0"/>
<path stroke="#970000" d="M1219.3,1370.7h0"/>
<path stroke="#ca0000" d="M1224.4,1339.2h0"/>
<path stroke="#b90000" d="M1102.4,1314.0h0"/>
<path stroke="#fc0000" d="M1346.2,1342.3h0"/>
<path stroke="#fa0000" d="M1327.1,1321.2h0"/>
<path stroke="#ff0500" d="M1315.5,1333.3h0"/>
<path stroke="#770000" d="M1136.1,1370.4h0"/>
<path stroke="#a10000" d="M1101.7,1331.8h0"/>
<path stroke="#f60000" d="M1232.2,1307.1h0"/>
<path stroke="#fb0000" d="M1270.8,1319.5h0"/>
<path stroke="#870000" d="M1078.9,1390.5h0"/>
<path stroke="#fe0000" d="M1336.1,1372.6h0"/>
<path stroke="#ff0300" d="M1137.0,1266.4h0"/>
<path stroke="#ff0900" d="M1305.3,1365.5h0"/>
<path stroke="#b80000" d="M1177.9,1291.7h0"/>
<path stroke="#fe0000" d="M1290.6,1329.9h0"/>
<path stroke="#4c0000" d="M1162.9,1378.8h0"/>
<path stroke="#a30000" d="M1094.0,1318.8h0"/>
<path stroke="#360000" d="M1171.0,1367.7h0"/>
<path stroke="#fe0000" d="M1338.0,1329.3h0"/>
<path stroke="#830000" d="M1090.6,1394.8h0"/>
<path stroke="#ff0000" d="M1293.2,1384.8h0"/>
<path stroke="#370000" d="M1175.6,1353.2h0"/>
<path stroke="#7a0000" d="M1140.9,1334.1h0"/>
<path stroke="#7b0000" d="M1111.1,1372.6h0"/>
<path stroke="#f90000" d="M1128.8,1268.2h0"/>
<path stroke="#ff0800" d="M1283.1,1380.5h0"/>
<path stroke="#510000" d="M1151.8,1357.1h0"/>
<path stroke="#ff0800" d="M1326.0,1385.6h0"/>
<path stroke="#790000" d="M1139.9,1342.7h0"/>
<path stroke="#cd0000" d="M1077.1,1302.2h0"/>
<path stroke="#810000" d="M1128.5,1367.7h0"/>
<path stroke="#fa0000" d="M1236.2,1296.3h0"/>
<path stroke="#540000" d="M1188.3,1390.2h0"/>
<path stroke="#890000" d="M1213.0,1372.2h0"/>
<path stroke="#f20000" d="M1209.3,1277.5h0"/>
<path stroke="#630000" d="M1181.9,1332.3h0"/>
<path stroke="#880000" d="M1119.4,1398.6h0"/>
<path stroke="#640000" d="M1148.1,1396.6h0"/>
<path stroke="#330000" d="M1184.5,1359.6h0"/>
<path stroke="#9b0000" d="M1112.2,1357.3h0"/>
<path stroke="#fe0000" d="M1342.4,1347.6h0"/>
<path stroke="#fb0000" d="M1272.8,1342.9h0"/>
<path stroke="#da0000" d="M1095.6,1290.3h0"/>
<path stroke="#b80000" d="M1163.8,1291.7h0"/>
<path stroke="#5a0000" d="M1199.4,1369.1h0"/>
<path stroke="#7b0000" d="M1164.6,1318.7h0"/>
<path stroke="#a50000" d="M1084.7,1332.6h0"/>
<path stroke="#960000" d="M1193.8,1317.9h0"/>
<path stroke="#9f0000" d="M1164.3,1304.9h0"/>
<path stroke="#6e0000" d="M1138.5,1384.2h0"/>
<path stroke="#ff0900" d="M1313.9,1393.4h0"/>
<path stroke="#820000" d="M1201.5,1343.6h0"/>
<path stroke="#ec0000" d="M1240.3,1358.7h0"/>
<path stroke="#ff0700" d="M1324.9,1359.6h0"/>
<path stroke="#c70000" d="M1099.6,1301.6h0"/>
<path stroke="#f10000" d="M1241.2,1366.1h0"/>
<path stroke="#c90000" d="M1137.6,1296.2h0"/>
<path stroke="#ff0600" d="M1242.8,1305.8h0"/>
<path stroke="#f20000" d="M1194.7,1268.7h0"/>
<path stroke="#e10000" d="M1253.3,1395.4h0"/>
<path stroke="#ff0000" d="M1365.4,1347.2h0"/>
<path stroke="#fd0000" d="M1300.4,1345.9h0"/>
<path stroke="#e30000" d="M1136.5,1277.6h0"/>
<path stroke="#ff0400" d="M1348.4,1378.9h0"/>
<path stroke="#af0000" d="M1080.3,1372.4h0"/>
<path stroke="#e40000" d="M1224.4,1309.1h0"/>
<path stroke="#c50000" d="M1211.1,1320.2h0"/>
<path stroke="#a80000" d="M1094.6,1340.0h0"/>
<path stroke="#d10000" d="M1160.7,1282.5h0"/>
<path stroke="#540000" d="M1160.1,1370.2h0"/>
<path stroke="#ff0b00" d="M1293.1,1396.9h0"/>
<path stroke="#920000" d="M1148.3,1318.2h0"/>
<path stroke="#ff0500" d="M1106.8,1269.2h0"/>
<path stroke="#ff0900" d="M1361.8,1332.0h0"/>
<path stroke="#6e0000" d="M1200.2,1384.7h0"/>
<path stroke="#ff0900" d="M1361.8,1367.7h0"/>
<path stroke="#ed0000" d="M1234.7,1327.3h0"/>
<path stroke="#ff0600" d="M1329.7,1344.6h0"/>
<path stroke="#ff0500" d="M1234.5,1279.6h0"/>
<path stroke="#f80000" d="M1323.3,1329.1h0"/>
<path stroke="#ff0200" d="M1327.7,1398.7h0"/>
<path stroke="#f70000" d="M1265.7,1329.0h0"/>
<path stroke="#b40000" d="M1076.6,1347.5h0"/>
<path stroke="#ff0800" d="M1314.2,1317.9h0"/>
<path stroke="#f50000" d="M1270.1,1392.1h0"/>
<path stroke="#ff0000" d="M1304.0,1328.3h0"/>
<path stroke="#8d0000" d="M1122.7,1347.1h0"/>
<path stroke="#ff0200" d="M1258.9,1353.3h0"/>
<path stroke="#f50000" d="M1288.9,1354.3h0"/>
<path stroke="#ff0300" d="M1263.6,1358.5h0"/>
<path stroke="#f50000" d="M1253.7,1341.3h0"/>
<path stroke="#8b0000" d="M1173.4,1314.8h0"/>
<path stroke="#4e0000" d="M1184.9,1381.7h0"/>
<path stroke="#a40000" d="M1089.3,1326.8h0"/>
<path stroke="#d20000" d="M1148.9,1291.0h0"/>
<path stroke="#e70000" d="M1106.0,1279.3h0"/>
<path stroke="#ff0500" d="M1222.2,1275.1h0"/>
<path stroke="#fe0000" d="M1300.3,1391.0h0"/>
<path stroke="#ac0000" d="M1103.7,1340.8h0"/>
<path stroke="#400000" d="M1190.6,1370.5h0"/>
<path stroke="#d30000" d="M1103.7,1291.4h0"/>
<path stroke="#610000" d="M1152.0,1367.0h0"/>
<path stroke="#fd0000" d="M1300.0,1359.8h0"/>
<path stroke="#fd0000" d="M1341.7,1359.3h0"/>
<path stroke="#540000" d="M1148.5,1345.6h0"/>
<path stroke="#a40000" d="M1093.7,1357.4h0"/>
<path stroke="#bf0000" d="M1091.9,1308.0h0"/>
<path stroke="#e00000" d="M1234.1,1352.7h0"/>
<path stroke="#800000" d="M1127.7,1381.2h0"/>
<path stroke="#a30000" d="M1224.6,1378.4h0"/>
<path stroke="#cb0000" d="M1243.1,1395.1h0"/>
<path stroke="#930000" d="M1127.9,1329.8h0"/>
<path stroke="#ab0000" d="M1113.2,1316.3h0"/>
<path stroke="#f50000" d="M1288.7,1342.0h0"/>
<path stroke="#9b0000" d="M1076.8,1382.9h0"/>
<path stroke="#f80000" d="M1148.7,1266.5h0"/>
<path stroke="#f50000" d="M1341.4,1390.9h0"/>
<path stroke="#590000" d="M1161.5,1392.3h0"/>
<path stroke="#ee0000" d="M1116.1,1282.2h0"/>
<path stroke="#e80000" d="M1161.1,1269.3h0"/>
<path stroke="#fc0000" d="M1315.2,1372.2h0"/>
<path stroke="#f70000" d="M1318.6,1359.1h0"/>
<path stroke="#b30000" d="M1186.9,1288.6h0"/>
<path stroke="#f60000" d="M1088.1,1275.8h0"/>
<path stroke="#960000" d="M1100.1,1366.3h0"/>
<path stroke="#b60000" d="M1231.3,1392.1h0"/>
<path stroke="#ef0000" d="M1233.7,1343.4h0"/>
<path stroke="#d60000" d="M1112.0,1295.3h0"/>
<path stroke="#630000" d="M1201.6,1360.2h0"/>
<path stroke="#d40000" d="M1195.6,1275.4h0"/>
<path stroke="#ff0100" d="M1277.2,1328.0h0"/>
<path stroke="#fb0000" d="M1361.4,1358.1h0"/>
<path stroke="#6f0000" d="M1195.9,1395.7h0"/>
<path stroke="#c70000" d="M1123.2,1301.5h0"/>
<path stroke="#f40000" d="M1317.6,1342.9h0"/>
<path stroke="#7c0000" d="M1210.8,1384.0h0"/>
<path stroke="#f60000" d="M1267.0,1380.1h0"/>
<path stroke="#cb0000" d="M1170.5,1277.9h0"/>
<path stroke="#f30000" d="M1259.9,1380.0h0"/>
<path stroke="#800000" d="M1101.8,1397.5h0"/>
<path stroke="#3f0000" d="M1166.5,1355.7h0"/>
<path stroke="#a20000" d="M1079.8,1357.6h0"/>
<path stroke="#7f0000" d="M1197.6,1334.1h0"/>
<path stroke="#7f0000" d="M1117.8,1378.6h0"/>
<path stroke="#ff0800" d="M1096.4,1269.4h0"/>
<path stroke="#aa0000" d="M1111.6,1333.0h0"/>
<path stroke="#ca0000" d="M1216.8,1331.0h0"/>
<path stroke="#690000" d="M1153.7,1333.1h0"/>
<path stroke="#790000" d="M1130.8,1354.7h0"/>
<path stroke="#b90000" d="M1229.7,1377.4h0"/>
<path stroke="#d70000" d="M1220.6,1316.0h0"/>
<path stroke="#630000" d="M1142.8,1393.2h0"/>
<path stroke="#ff0800" d="M1313.7,1383.3h0"/>
<path stroke="#ff0000" d="M1210.0,1267.5h0"/>
<path stroke="#470000" d="M1181.7,1339.6h0"/>
<path stroke="#ff0700" d="M1307.0,1384.2h0"/>
<path stroke="#790000" d="M1128.8,1398.6h0"/>
<path stroke="#470000" d="M1171.7,1393.2h0"/>
<path stroke="#7c0000" d="M1206.2,1356.0h0"/>
<path stroke="#870000" d="M1211.3,1394.9h0"/>
<path stroke="#da0000" d="M1152.1,1275.6h0"/>
<path stroke="#f70000" d="M1249.2,1315.2h0"/>
<path stroke="#ff0100" d="M1120.1,1265.4h0"/>
<path stroke="#b20000" d="M1220.6,1356.0h0"/>
<path stroke="#c10000" d="M1134.6,1303.6h0"/>
<path stroke="#fa0000" d="M1281.2,1320.6h0"/>
<path stroke="#fa0000" d="M1257.3,1365.9h0"/>
<path stroke="#9d0000" d="M1219.9,1390.4h0"/>
<path stroke="#c70000" d="M1205.6,1290.9h0"/>
<path stroke="#f10000" d="M1130.5,1281.5h0"/>
<path stroke="#f30000" d="M1081.4,1281.4h0"/>
<path stroke="#f40000" d="M1277.0,1345.8h0"/>
<path stroke="#ff0100" d="M1251.8,1330.4h0"/>
<path stroke="#d10000" d="M1185.3,1279.7h0"/>
<path stroke="#ae0000" d="M1125.2,1322.0h0"/>
<path stroke="#9f0000" d="M1106.7,1354.4h0"/>
<path stroke="#c00000" d="M1113.5,1304.1h0"/>
<path stroke="#a10000" d="M1210.2,1339.5h0"/>
<path stroke="#ae0000" d="M1147.1,1301.3h0"/>
<path stroke="#ff0000" d="M1260.8,1308.7h0"/>
<path stroke="#3e0000" d="M1172.8,1379.6h0"/>
<path stroke="#5e0000" d="M1151.9,1380.5h0"/>
<path stroke="#f60000" d="M1084.1,1290.7h0"/>
<path stroke="#fc0000" d="M1358.9,1395.9h0"/>
<path stroke="#920000" d="M1142.6,1315.5h0"/>
<path stroke="#f30000" d="M1218.5,1288.9h0"/>
<path stroke="#f70000" d="M1334.4,1385.8h0"/>
<path stroke="#b60000" d="M1208.9,1330.4h0"/>
<path stroke="#fc0000" d="M1290.5,1372.9h0"/>
<path stroke="#fc0000" d="M1277.2,1358.0h0"/>
<path stroke="#400000" d="M1165.0,1347.7h0"/>
<path stroke="#f50000" d="M1350.1,1367.8h0"/>
<path stroke="#f40000" d="M1256.0,1317.2h0"/>
<path stroke="#660000" d="M1169.9,1328.9h0"/>
<path stroke="#9d0000" d="M1189.3,1317.8h0"/>
<path stroke="#990000" d="M1094.6,1369.9h0"/>
<path stroke="#8a0000" d="M1090.3,1380.2h0"/>
<path stroke="#9d0000" d="M1186.1,1304.9h0"/>
<path stroke="#d30000" d="M1237.3,1369.2h0"/>
<path stroke="#ff0900" d="M1082.5,1270.1h0"/>
<path stroke="#7b0000" d="M1100.4,1385.6h0"/>
<path stroke="#ff0a00" d="M1283.0,1390.7h0"/>
<path stroke="#ff0a00" d="M1323.2,1371.4h0"/>
<path stroke="#ff0400" d="M1348.3,1358.5h0"/>
<path stroke="#660000" d="M1139.6,1352.4h0"/>
<path stroke="#f50000" d="M1346.2,1328.6h0"/>
<path stroke="#ff0200" d="M1290.1,1318.6h0"/>
<path stroke="#8e0000" d="M1120.3,1344.2h0"/>
<path stroke="#410000" d="M1172.3,1343.7h0"/>
<path stroke="#f60000" d="M1300.5,1314.2h0"/>
<path stroke="#ff0800" d="M1282.6,1365.3h0"/>
<path stroke="#ac0000" d="M1198.1,1291.7h0"/>
<path stroke="#dd0000" d="M1242.0,1377.8h0"/>
<path stroke="#b00000" d="M1196.3,1305.0h0"/>
<path stroke="#9f0000" d="M1178.2,1304.7h0"/>
<path stroke="#c80000" d="M1130.0,1296.1h0"/>
<path stroke="#ff0a00" d="M1361.3,1382.4h0"/>
<path stroke="#6d0000" d="M1162.8,1330.9h0"/>
<path stroke="#ee0000" d="M1237.1,1320.8h0"/>
<path stroke="#fc0000" d="M1349.6,1393.0h0"/>
<path stroke="#f20000" d="M1245.8,1345.0h0"/>
<path stroke="#fe0000" d="M1268.7,1369.7h0"/>
<path stroke="#ff2b00" d="M1189.5,1209.0h0"/>
<path stroke="#7f0000" d="M1182.5,1436.8h0"/>
<path stroke="#7f0000" d="M1187.2,1454.7h0"/>
<path stroke="#aa0000" d="M1184.8,1513.5h0"/>
</g>
<path transform="translate(1084.0,1165.5)" d="M-2.4,-18.0 L-2.7,-8.7 L-4.3,4.9 L-7.4,23.5 L-12.4,42.1 L-14.8,53.3 L-16.3,57.6 M-16.3,304.7 L-12.4,312.8 L-6.2,320.2 L0.0,327.6 L4.4,336.3 L5.6,347.5 L5.0,357.4 L3.8,364.8 M-16.3,155.6 L-11.1,161.1 L-6.2,168.6 L-3.1,176.4 L0.7,182.6 L2.9,195.0 L0.0,207.4 L-0.6,221.0 L1.5,233.4 L0.7,245.8 L-1.2,260.7 L-2.2,273.1 L0.0,284.9 L5.0,288.6 L13.7,290.7 L16.2,299.1 L18.0,310.3 L21.7,321.4 L24.8,335.1 L29.2,345.0 L33.5,354.9 L36.6,364.8 M35.1,-18.0 L33.5,-7.5 L31.3,3.1 L26.7,17.3 L21.7,33.4 L18.0,50.8 L15.5,65.7 L13.7,79.3 L10.0,90.5 L3.1,102.9 L-4.9,117.1 L6.2,127.1 L14.9,136.4 L22.4,146.3 L27.3,156.2 L32.3,169.8 L35.4,176.4 L38.2,182.6 L31.7,195.0 L31.3,208.6 L25.5,221.0 L23.6,233.4 L21.1,246.8 L25.5,253.2 L30.4,260.7 L35.4,273.1 L34.1,286.7 L32.6,297.9 L36.0,309.0 L39.7,320.2 L42.2,332.6 L44.7,348.7 L49.6,357.4 L53.1,364.8 M64.1,-18.0 L64.3,-11.2 L62.7,1.2 L58.3,13.6 L54.6,28.5 L51.5,45.8 L49.0,63.2 L48.8,70.6 L49.9,79.3 L48.4,88.0 L45.3,96.7 L42.2,105.4 L43.4,110.3 L46.5,117.8 L53.4,128.9 L59.6,142.6 L65.8,156.2 L65.5,166.1 L62.7,174.8 L59.6,181.3 L54.6,196.2 L51.5,208.6 L48.4,221.0 L46.9,233.4 L47.2,245.8 L50.3,258.2 L52.1,274.3 L52.4,295.4 L53.4,309.0 L56.5,322.7 L58.3,332.6 L62.0,346.2 L67.0,356.1 L71.3,364.8 M97.6,-18.0 L98.0,-8.7 L97.1,2.4 L93.0,14.8 L88.1,28.5 L84.1,40.9 L83.5,53.3 L85.0,65.7 L86.8,79.3 L86.2,91.7 L81.9,102.9 L75.7,112.8 L72.6,118.4 L79.4,126.4 L87.5,132.0 L93.0,140.1 L96.8,148.7 L98.4,157.4 L97.4,168.6 L97.4,171.4 L93.7,182.6 L85.6,195.0 L74.4,207.4 L67.6,221.0 L65.1,233.4 L65.5,245.8 L67.0,270.6 L68.2,295.4 L68.2,320.2 L69.2,336.3 L73.2,347.5 L80.6,356.1 L85.6,361.7 L92.4,364.8 M133.3,-18.0 L135.6,-10.0 L135.6,2.4 L131.5,13.6 L125.9,29.7 L120.3,45.8 L117.6,54.3 L119.7,63.2 L122.8,73.1 L124.4,80.6 L122.8,91.7 L117.8,101.6 L111.6,111.6 L114.1,122.7 L121.6,133.9 L126.5,142.6 L130.9,152.5 L134.6,157.4 L131.5,166.1 L130.0,171.4 L124.0,187.5 L115.4,206.1 L107.3,212.3 L100.5,219.1 L90.6,235.9 L83.1,252.6 L82.5,270.6 L84.1,285.5 L81.9,299.1 L80.0,310.3 L80.6,320.2 L83.1,328.9 L86.8,332.6 L96.8,336.3 L107.9,335.3 L120.3,337.6 L131.5,339.0 L136.4,347.5 L142.6,357.4 L148.8,364.6 M167.4,-18.0 L171.1,-10.0 L173.9,-0.0 L172.4,11.1 L167.4,23.5 L161.2,38.4 L156.9,50.8 L155.6,63.2 L156.9,74.4 L158.5,80.6 L157.3,90.5 L152.5,101.6 L146.3,110.3 L138.9,116.5 L145.1,135.1 L151.3,147.5 L163.1,157.4 L167.4,169.8 L168.0,171.4 L163.7,181.3 L156.3,195.0 L147.6,208.6 L143.2,221.0 L134.0,226.6 L125.9,233.4 L123.4,240.8 L120.3,250.8 L114.1,263.2 L105.4,276.8 L99.9,288.0 L96.8,297.9 L98.6,307.8 L98.6,323.3 L107.9,326.4 L114.1,322.1 L120.9,315.2 L127.1,310.9 L131.5,304.7 L143.9,307.2 L148.2,314.0 L155.0,325.2 L166.8,333.8 L171.1,345.0 L173.4,353.7 L174.0,364.6 M201.7,-18.0 L208.6,-11.2 L211.3,2.4 L209.8,14.8 L201.1,31.0 L191.2,45.8 L185.0,54.5 L182.5,67.5 L193.7,79.3 L192.4,91.7 L183.8,105.4 L175.1,116.5 L170.7,129.5 L178.8,143.8 L187.5,156.2 L199.3,169.2 L200.5,183.2 L192.4,196.2 L181.9,208.6 L175.1,219.8 L161.4,229.7 L148.2,245.8 L149.4,258.2 L153.1,265.6 L158.7,273.1 L166.2,288.0 L177.6,296.6 L184.4,310.3 L187.5,326.4 L191.2,349.9 L187.5,364.6 M263.7,-18.0 L248.9,-17.6 L242.4,-10.2 L245.1,4.9 L247.2,16.1 L242.0,28.5 L234.6,40.9 L229.9,50.8 L228.4,58.2 L229.9,70.6 L229.9,83.0 L227.2,94.2 L221.0,106.6 L212.3,119.0 L203.6,130.8 L213.5,137.6 L221.0,147.5 L226.5,157.4 L229.6,169.8 L228.4,171.4 L230.9,183.2 L228.4,196.2 L218.5,209.8 L211.0,221.0 L206.1,230.9 L201.7,237.1 L190.0,230.9 L186.2,235.9 L183.8,245.8 L191.2,257.0 L197.4,265.6 L204.8,275.6 L211.0,285.5 L212.9,297.9 L212.3,311.5 L206.7,323.9 L205.5,336.3 L204.6,351.2 L205.1,364.6 M336.3,-18.0 L330.7,-11.8 L315.2,-3.1 L295.4,5.8 L283.6,3.1 L282.3,17.3 L280.5,29.7 L273.0,43.4 L268.1,55.8 L266.2,68.2 L266.6,80.6 L264.4,94.2 L259.4,107.8 L252.0,122.7 L248.5,130.8 L249.2,143.8 L255.7,157.4 L260.6,168.6 L260.9,171.4 L262.5,178.8 L260.9,193.7 L257.5,207.4 L249.5,221.0 L238.3,225.3 L229.6,233.4 L227.2,245.8 L233.4,260.7 L240.8,275.6 L244.5,286.7 L243.9,299.1 L235.8,314.0 L228.4,326.4 L224.9,336.3 L224.7,351.2 L224.1,364.6 M342.7,22.9 L330.1,27.2 L318.9,32.8 L312.1,40.9 L307.1,55.8 L302.2,68.2 L299.1,81.8 L296.6,95.4 L292.9,109.1 L285.4,124.0 L280.5,135.1 L278.6,143.8 L283.0,153.7 L290.4,166.1 L292.3,171.4 L294.5,182.6 L289.8,198.7 L285.4,214.8 L283.6,221.0 L274.9,233.4 L260.6,239.0 L253.2,245.8 L265.6,258.2 L273.0,273.1 L276.8,284.2 L278.4,296.6 L274.3,310.3 L266.8,322.7 L250.7,336.3 L248.0,348.7 L245.1,364.6 M342.7,59.5 L338.7,66.9 L335.0,79.3 L330.1,90.5 L327.6,102.9 L325.7,118.4 L314.0,131.4 L307.1,143.8 L307.8,156.2 L315.2,162.4 L325.1,169.2 L325.7,171.4 L326.1,183.8 L323.9,198.7 L318.9,214.8 L315.8,227.2 L312.7,233.4 L306.5,239.0 L293.5,245.8 L297.8,260.7 L304.0,274.3 L307.8,286.7 L309.0,299.1 L308.4,311.5 L302.2,322.7 L288.5,335.1 L281.7,349.3 L288.3,364.6 M342.7,235.3 L338.7,243.3 L328.8,259.4 L336.3,271.8 L338.1,286.7 L338.4,299.1 L337.3,311.5 L337.9,322.7 L322.0,336.3 L317.1,349.9 L320.2,364.6" fill="none" stroke="#000" stroke-width="1.6" stroke-linejoin="round"/>
<path transform="translate(1084.0,1167.5)" d="M-4.9,117.1 L17.4,113.4 L42.2,110.3 L67.0,110.9 L85.6,112.8 L129.0,117.9 L167.6,123.3 L203.6,127.7 L248.2,133.9 L279.2,140.1 L306.5,146.9 L332.6,151.5 L340.0,152.9 M-13.6,259.4 L-1.2,257.0 L23.6,253.2 L48.4,250.1 L80.6,248.9 L98.0,249.3 L116.6,248.9 L134.0,245.8 L145.1,243.3 L160.0,241.5 L180.0,240.2 L228.4,242.7 L278.0,244.6 L300.3,244.6 L315.2,248.9 L330.1,255.7 L344.3,257.0" fill="none" stroke="#000" stroke-width="1.6" stroke-dasharray="12,5.4"/>
<path d="M1428.2,1379.5 Q1392.0,1361.5 1351.0,1356.1" fill="none" stroke="#f08c00" stroke-width="5.2"/>
<path d="M1326.6,1352.2 L1355.7,1348.9 L1353.0,1356.5 L1353.8,1364.1 Z" fill="#f08c00"/>
<path d="M1184.5,1254.0 L1198.5,1282.4 L1170.5,1282.4 Z" fill="#fff" stroke="#5c2483" stroke-width="4.6" stroke-miterlimit="10"/>
<path d="M1215.0,1268.2 L1229.2,1296.9 L1200.8,1296.9 Z" fill="#fff" stroke="#5c2483" stroke-width="4.6" stroke-miterlimit="10"/>
<path d="M1243.7,1278.7 L1258.0,1306.7 L1229.4,1306.7 Z" fill="#fff" stroke="#5c2483" stroke-width="4.6" stroke-miterlimit="10"/>
<path d="M1183.4,1383.5 L1197.7,1411.8 L1169.1,1411.8 Z" fill="#fff" stroke="#5c2483" stroke-width="4.6" stroke-miterlimit="10"/>
<path d="M1247.4,1376.5 L1262.0,1404.6 L1232.8,1404.6 Z" fill="#fff" stroke="#5c2483" stroke-width="4.6" stroke-miterlimit="10"/>
<path d="M1162.3,1360.1h14.0v-14.0h8.7v14.0h14.0v8.7h-14.0v14.0h-8.7v-14.0h-14.0z" fill="#0000ff"/>
<text x="1248.8" y="1122.9" font-size="38" text-anchor="middle" font-weight="normal" stroke="#000" stroke-width="0.9">7</text>
<text x="1054.2" y="1189.9" font-size="33.8" text-anchor="end" font-weight="normal" stroke="#000" stroke-width="0.9">150</text>
<text x="1053.4" y="1353.8" font-size="33.8" text-anchor="end" font-weight="normal" stroke="#000" stroke-width="0.9">0</text>
<text x="1057.4" y="1517.1" font-size="33.8" text-anchor="end" font-weight="normal" stroke="#000" stroke-width="0.9">-150</text>
<text x="1078.4" y="1564.8" font-size="34.3" text-anchor="middle" font-weight="normal" stroke="#000" stroke-width="0.9">-150</text>
<text x="1235.8" y="1564.8" font-size="34.3" text-anchor="middle" font-weight="normal" stroke="#000" stroke-width="0.9">0</text>
<text x="1416.8" y="1564.8" font-size="34.3" text-anchor="middle" font-weight="normal" stroke="#000" stroke-width="0.9">150</text>
</g>
<g>
<path d="M1540.0,1147.5 V1529.9 H1898.7" fill="none" stroke="#000" stroke-width="1.5"/>
<path d="M1532.1,1182.7h12.4" stroke="#000" stroke-width="1.3"/>
<path d="M1532.1,1341.1h12.4" stroke="#000" stroke-width="1.3"/>
<path d="M1532.1,1509.7h12.4" stroke="#000" stroke-width="1.3"/>
<g stroke-width="21.0" stroke-linecap="round" fill="none">
<path stroke="#ff5500" d="M1556.7,1165.5h0M1556.7,1191.1h0M1697.4,1191.1h0M1556.7,1216.7h0M1580.2,1267.9h0M1603.6,1267.9h0M1580.2,1523.8h0"/>
<path stroke="#ea0000" d="M1580.2,1165.5h0"/>
<path stroke="#aa0000" d="M1603.6,1165.5h0M1674.0,1165.5h0M1603.6,1191.1h0M1627.0,1191.1h0M1650.5,1191.1h0M1650.5,1216.7h0M1627.0,1242.3h0"/>
<path stroke="#7f0000" d="M1627.0,1165.5h0"/>
<path stroke="#550000" d="M1650.5,1165.5h0"/>
<path stroke="#ff0000" d="M1697.4,1165.5h0M1674.0,1216.7h0M1603.6,1242.3h0"/>
<path stroke="#ff7f00" d="M1720.9,1165.5h0M1556.7,1242.3h0M1556.7,1267.9h0M1650.5,1267.9h0M1556.7,1293.5h0M1580.2,1293.5h0M1603.6,1293.5h0M1627.0,1293.5h0M1556.7,1319.0h0M1580.2,1319.0h0M1603.6,1319.0h0M1556.7,1344.6h0M1580.2,1344.6h0M1603.6,1344.6h0M1603.6,1447.0h0M1580.2,1472.6h0M1603.6,1472.6h0M1580.2,1498.2h0M1603.6,1498.2h0M1556.7,1523.8h0M1603.6,1523.8h0"/>
<path stroke="#ffbf00" d="M1744.3,1165.5h0"/>
<path stroke="#ffff40" d="M1767.8,1165.5h0M1697.4,1267.9h0M1674.0,1319.0h0M1674.0,1370.2h0M1814.7,1370.2h0M1861.5,1370.2h0M1885.0,1370.2h0M1674.0,1395.8h0M1861.5,1395.8h0M1885.0,1395.8h0M1697.4,1421.4h0M1697.4,1447.0h0M1720.9,1447.0h0M1720.9,1472.6h0M1744.3,1472.6h0M1744.3,1498.2h0"/>
<path stroke="#ffff80" d="M1791.2,1165.5h0M1814.7,1165.5h0M1861.5,1165.5h0M1885.0,1165.5h0M1767.8,1191.1h0M1791.2,1191.1h0M1814.7,1191.1h0M1838.1,1191.1h0M1744.3,1216.7h0M1767.8,1216.7h0M1814.7,1216.7h0M1720.9,1242.3h0M1744.3,1242.3h0M1861.5,1242.3h0M1885.0,1242.3h0M1720.9,1267.9h0M1838.1,1267.9h0M1861.5,1267.9h0M1885.0,1267.9h0M1697.4,1293.5h0M1838.1,1293.5h0M1697.4,1319.0h0M1674.0,1344.6h0M1767.8,1370.2h0M1791.2,1370.2h0M1838.1,1370.2h0M1697.4,1395.8h0M1767.8,1395.8h0M1791.2,1395.8h0M1814.7,1395.8h0M1720.9,1421.4h0M1744.3,1421.4h0M1767.8,1421.4h0M1885.0,1421.4h0M1744.3,1447.0h0M1767.8,1447.0h0M1791.2,1447.0h0M1814.7,1447.0h0M1885.0,1447.0h0M1767.8,1472.6h0M1791.2,1472.6h0M1814.7,1472.6h0M1838.1,1472.6h0M1885.0,1472.6h0M1767.8,1498.2h0M1791.2,1498.2h0M1814.7,1498.2h0M1838.1,1498.2h0M1767.8,1523.8h0M1791.2,1523.8h0M1838.1,1523.8h0M1861.5,1523.8h0M1885.0,1523.8h0"/>
<path stroke="#ffff60" d="M1838.1,1165.5h0M1861.5,1191.1h0M1838.1,1395.8h0M1861.5,1498.2h0"/>
<path stroke="#ff2b00" d="M1580.2,1191.1h0M1580.2,1216.7h0M1580.2,1242.3h0M1674.0,1242.3h0M1627.0,1267.9h0"/>
<path stroke="#d40000" d="M1674.0,1191.1h0M1603.6,1216.7h0M1627.0,1216.7h0M1650.5,1242.3h0"/>
<path stroke="#ff9500" d="M1720.9,1191.1h0M1580.2,1421.4h0"/>
<path stroke="#ffff00" d="M1744.3,1191.1h0M1720.9,1216.7h0M1767.8,1242.3h0M1674.0,1293.5h0M1650.5,1319.0h0M1650.5,1344.6h0M1627.0,1370.2h0M1650.5,1370.2h0M1627.0,1395.8h0M1650.5,1395.8h0M1674.0,1421.4h0M1674.0,1447.0h0M1674.0,1472.6h0M1697.4,1472.6h0M1720.9,1498.2h0M1744.3,1523.8h0"/>
<path stroke="#ffffbf" d="M1885.0,1191.1h0M1838.1,1216.7h0M1861.5,1216.7h0M1885.0,1216.7h0M1791.2,1242.3h0M1814.7,1242.3h0M1838.1,1242.3h0M1767.8,1267.9h0M1720.9,1293.5h0M1767.8,1293.5h0M1791.2,1293.5h0M1814.7,1293.5h0M1720.9,1319.0h0M1697.4,1344.6h0M1697.4,1370.2h0M1720.9,1370.2h0M1744.3,1370.2h0M1720.9,1395.8h0M1744.3,1395.8h0M1791.2,1421.4h0M1814.7,1421.4h0M1838.1,1421.4h0M1861.5,1421.4h0M1838.1,1447.0h0M1861.5,1447.0h0M1861.5,1472.6h0M1885.0,1498.2h0M1814.7,1523.8h0"/>
<path stroke="#ffaa00" d="M1697.4,1216.7h0M1674.0,1267.9h0M1650.5,1293.5h0M1627.0,1319.0h0M1556.7,1370.2h0M1580.2,1370.2h0M1603.6,1370.2h0M1556.7,1395.8h0M1580.2,1395.8h0M1556.7,1421.4h0M1556.7,1447.0h0M1580.2,1447.0h0M1556.7,1472.6h0M1556.7,1498.2h0M1650.5,1498.2h0M1674.0,1498.2h0M1627.0,1523.8h0M1650.5,1523.8h0M1674.0,1523.8h0M1697.4,1523.8h0"/>
<path stroke="#ffff20" d="M1791.2,1216.7h0"/>
<path stroke="#ffd500" d="M1697.4,1242.3h0M1744.3,1267.9h0M1627.0,1344.6h0M1603.6,1395.8h0M1603.6,1421.4h0M1650.5,1421.4h0M1627.0,1447.0h0M1650.5,1447.0h0M1627.0,1472.6h0M1650.5,1472.6h0M1627.0,1498.2h0M1697.4,1498.2h0M1720.9,1523.8h0"/>
<path stroke="#ffffff" d="M1791.2,1267.9h0M1814.7,1267.9h0M1744.3,1293.5h0M1861.5,1293.5h0M1885.0,1293.5h0M1744.3,1319.0h0M1767.8,1319.0h0M1791.2,1319.0h0M1814.7,1319.0h0M1838.1,1319.0h0M1861.5,1319.0h0M1885.0,1319.0h0M1720.9,1344.6h0M1744.3,1344.6h0M1767.8,1344.6h0M1791.2,1344.6h0M1814.7,1344.6h0M1838.1,1344.6h0M1861.5,1344.6h0M1885.0,1344.6h0"/>
<path stroke="#ffea00" d="M1627.0,1421.4h0"/>
<path stroke="#ffff7c" d="M1689.9,1358.1h0"/>
<path stroke="#ffffca" d="M1739.2,1352.8h0"/>
<path stroke="#ffff66" d="M1790.0,1385.7h0"/>
<path stroke="#ffff62" d="M1807.0,1365.1h0"/>
<path stroke="#ff7800" d="M1557.1,1330.5h0"/>
<path stroke="#ffff52" d="M1822.8,1383.8h0"/>
<path stroke="#ffff0e" d="M1692.0,1269.0h0"/>
<path stroke="#ffd000" d="M1604.3,1394.0h0"/>
<path stroke="#fffe00" d="M1626.0,1370.2h0"/>
<path stroke="#ff7500" d="M1550.8,1267.3h0"/>
<path stroke="#ff8500" d="M1610.1,1327.9h0"/>
<path stroke="#ffffcb" d="M1716.0,1353.7h0"/>
<path stroke="#ffff4c" d="M1690.1,1282.8h0"/>
<path stroke="#ffff81" d="M1715.4,1377.8h0"/>
<path stroke="#ffff80" d="M1714.9,1372.8h0"/>
<path stroke="#ffff80" d="M1786.8,1397.5h0"/>
<path stroke="#ff7c00" d="M1548.9,1345.9h0"/>
<path stroke="#ffffff" d="M1750.7,1320.4h0"/>
<path stroke="#ffffc7" d="M1702.2,1326.8h0"/>
<path stroke="#ff5400" d="M1624.4,1270.3h0"/>
<path stroke="#fffd00" d="M1651.6,1370.3h0"/>
<path stroke="#ffff85" d="M1837.7,1377.9h0"/>
<path stroke="#ff7800" d="M1561.9,1316.3h0"/>
<path stroke="#ffff29" d="M1680.3,1283.3h0"/>
<path stroke="#ff7e00" d="M1589.3,1316.0h0"/>
<path stroke="#ffff0a" d="M1658.5,1383.8h0"/>
<path stroke="#ffff72" d="M1673.2,1320.7h0"/>
<path stroke="#ffff06" d="M1655.8,1393.4h0"/>
<path stroke="#ff9900" d="M1598.0,1358.1h0"/>
<path stroke="#ffff58" d="M1823.3,1372.3h0"/>
<path stroke="#ffffff" d="M1785.5,1320.7h0"/>
<path stroke="#ff9a00" d="M1651.5,1280.9h0"/>
<path stroke="#ffffce" d="M1701.9,1295.6h0"/>
<path stroke="#fff400" d="M1636.8,1359.8h0"/>
<path stroke="#ffff9e" d="M1683.4,1334.8h0"/>
<path stroke="#ffaa00" d="M1586.3,1367.4h0"/>
<path stroke="#ff9300" d="M1555.4,1354.2h0"/>
<path stroke="#ff7800" d="M1600.1,1330.4h0"/>
<path stroke="#ffff10" d="M1661.9,1371.5h0"/>
<path stroke="#ffffab" d="M1689.6,1315.1h0"/>
<path stroke="#ff8e00" d="M1574.3,1355.2h0"/>
<path stroke="#ffaf00" d="M1579.3,1392.2h0"/>
<path stroke="#ffffff" d="M1812.8,1341.9h0"/>
<path stroke="#ffffff" d="M1788.3,1332.5h0"/>
<path stroke="#ffff7c" d="M1678.4,1347.0h0"/>
<path stroke="#ffff76" d="M1750.6,1398.2h0"/>
<path stroke="#ffffff" d="M1743.4,1315.4h0"/>
<path stroke="#ffff7c" d="M1728.5,1383.1h0"/>
<path stroke="#ffff7c" d="M1830.4,1367.6h0"/>
<path stroke="#ffb900" d="M1592.4,1393.5h0"/>
<path stroke="#ffffc3" d="M1835.6,1354.9h0"/>
<path stroke="#ffffff" d="M1775.9,1345.4h0"/>
<path stroke="#fffa00" d="M1635.8,1369.4h0"/>
<path stroke="#ff7d00" d="M1603.2,1296.3h0"/>
<path stroke="#ff6600" d="M1601.7,1282.7h0"/>
<path stroke="#ffffcc" d="M1709.1,1346.4h0"/>
<path stroke="#ffa800" d="M1602.3,1370.5h0"/>
<path stroke="#ff8900" d="M1561.5,1339.8h0"/>
<path stroke="#ffff17" d="M1656.1,1344.1h0"/>
<path stroke="#ffb600" d="M1624.1,1332.0h0"/>
<path stroke="#ffaf00" d="M1584.3,1383.5h0"/>
<path stroke="#ff8100" d="M1597.5,1318.5h0"/>
<path stroke="#ffa000" d="M1555.5,1392.9h0"/>
<path stroke="#ffffff" d="M1797.4,1333.7h0"/>
<path stroke="#ffff6d" d="M1827.2,1392.5h0"/>
<path stroke="#ffffff" d="M1784.1,1343.2h0"/>
<path stroke="#ff8500" d="M1598.4,1304.2h0"/>
<path stroke="#ff6400" d="M1615.8,1282.6h0"/>
<path stroke="#ffff0e" d="M1649.2,1359.8h0"/>
<path stroke="#ffff64" d="M1668.4,1339.9h0"/>
<path stroke="#ffffff" d="M1709.4,1303.1h0"/>
<path stroke="#ffff02" d="M1639.3,1390.8h0"/>
<path stroke="#ffad00" d="M1560.7,1384.5h0"/>
<path stroke="#ffff2d" d="M1668.3,1365.7h0"/>
<path stroke="#ff7600" d="M1555.4,1281.0h0"/>
<path stroke="#ffffff" d="M1819.1,1341.7h0"/>
<path stroke="#ffff55" d="M1771.8,1397.6h0"/>
<path stroke="#ff8400" d="M1566.4,1266.4h0"/>
<path stroke="#ffffff" d="M1731.9,1340.4h0"/>
<path stroke="#ff7500" d="M1572.0,1332.9h0"/>
<path stroke="#ffff59" d="M1775.4,1383.1h0"/>
<path stroke="#ffffff" d="M1741.5,1329.8h0"/>
<path stroke="#ffff9f" d="M1789.3,1357.9h0"/>
<path stroke="#ff8200" d="M1569.2,1275.1h0"/>
<path stroke="#ff8300" d="M1572.1,1320.6h0"/>
<path stroke="#ffffff" d="M1810.6,1317.0h0"/>
<path stroke="#ff6700" d="M1631.9,1265.5h0"/>
<path stroke="#ffff89" d="M1731.5,1390.5h0"/>
<path stroke="#ffff9e" d="M1763.8,1359.5h0"/>
<path stroke="#fff800" d="M1651.5,1319.7h0"/>
<path stroke="#ff7a00" d="M1554.5,1313.5h0"/>
<path stroke="#ffff4b" d="M1669.0,1359.2h0"/>
<path stroke="#ffd200" d="M1636.8,1317.2h0"/>
<path stroke="#ffffb5" d="M1806.8,1353.4h0"/>
<path stroke="#ffba00" d="M1598.4,1384.1h0"/>
<path stroke="#ffed00" d="M1623.1,1377.6h0"/>
<path stroke="#ff8000" d="M1591.6,1327.5h0"/>
<path stroke="#ffff59" d="M1764.0,1394.1h0"/>
<path stroke="#ffff97" d="M1705.7,1279.7h0"/>
<path stroke="#ff7900" d="M1560.7,1330.2h0"/>
<path stroke="#ffc400" d="M1654.4,1292.9h0"/>
<path stroke="#ffff87" d="M1833.3,1393.5h0"/>
<path stroke="#ffff8c" d="M1686.5,1293.5h0"/>
<path stroke="#ffffe2" d="M1733.4,1351.9h0"/>
<path stroke="#ffffff" d="M1820.9,1333.2h0"/>
<path stroke="#ffffff" d="M1724.6,1313.9h0"/>
<path stroke="#ffbd00" d="M1622.1,1343.5h0"/>
<path stroke="#ff8a00" d="M1557.8,1308.9h0"/>
<path stroke="#ffe900" d="M1611.6,1397.9h0"/>
<path stroke="#ffff33" d="M1662.0,1327.4h0"/>
<path stroke="#ff7200" d="M1626.5,1290.9h0"/>
<path stroke="#ffff54" d="M1681.1,1380.4h0"/>
<path stroke="#ff7b00" d="M1643.8,1266.5h0"/>
<path stroke="#ffff40" d="M1761.4,1381.1h0"/>
<path stroke="#ffffff" d="M1779.9,1317.3h0"/>
<path stroke="#ffff56" d="M1802.2,1383.2h0"/>
<path stroke="#ffa100" d="M1621.0,1320.6h0"/>
<path stroke="#ffa200" d="M1561.3,1396.8h0"/>
<path stroke="#fff500" d="M1643.7,1330.1h0"/>
<path stroke="#ffa400" d="M1553.2,1371.0h0"/>
<path stroke="#ffffff" d="M1761.4,1321.3h0"/>
<path stroke="#ff7900" d="M1576.8,1340.2h0"/>
<path stroke="#ffff73" d="M1693.4,1395.1h0"/>
<path stroke="#ffc300" d="M1619.2,1353.3h0"/>
<path stroke="#ff8300" d="M1563.5,1301.6h0"/>
<path stroke="#ffff67" d="M1690.3,1385.1h0"/>
<path stroke="#ff8800" d="M1592.5,1354.7h0"/>
<path stroke="#ffff79" d="M1744.0,1393.6h0"/>
<path stroke="#ff8200" d="M1578.5,1289.9h0"/>
<path stroke="#ffff94" d="M1701.0,1357.2h0"/>
<path stroke="#ffffbf" d="M1697.5,1304.2h0"/>
<path stroke="#ffffff" d="M1766.5,1347.5h0"/>
<path stroke="#ffff7d" d="M1672.2,1327.8h0"/>
<path stroke="#ffbd00" d="M1667.1,1275.0h0"/>
<path stroke="#ffffcb" d="M1702.4,1315.4h0"/>
<path stroke="#ffff7c" d="M1678.2,1352.2h0"/>
<path stroke="#ffff7f" d="M1718.5,1398.6h0"/>
<path stroke="#ffff8c" d="M1679.5,1315.7h0"/>
<path stroke="#ff7900" d="M1586.1,1344.4h0"/>
<path stroke="#ffff7f" d="M1754.3,1360.5h0"/>
<path stroke="#ff8900" d="M1626.8,1302.1h0"/>
<path stroke="#ffff0d" d="M1665.8,1302.2h0"/>
<path stroke="#fff900" d="M1642.4,1383.3h0"/>
<path stroke="#ffffff" d="M1760.2,1330.9h0"/>
<path stroke="#ffff7f" d="M1813.1,1394.2h0"/>
<path stroke="#ff7000" d="M1586.0,1267.4h0"/>
<path stroke="#ffff00" d="M1657.8,1305.8h0"/>
<path stroke="#ffa600" d="M1562.4,1366.7h0"/>
<path stroke="#ffff4e" d="M1682.6,1397.0h0"/>
<path stroke="#ffffe5" d="M1713.8,1341.9h0"/>
<path stroke="#ff7d00" d="M1578.9,1279.7h0"/>
<path stroke="#ffff3a" d="M1671.0,1397.0h0"/>
<path stroke="#ffffa5" d="M1804.0,1356.3h0"/>
<path stroke="#ff8700" d="M1612.9,1313.4h0"/>
<path stroke="#ffe100" d="M1683.2,1265.7h0"/>
<path stroke="#ffff5c" d="M1748.0,1384.6h0"/>
<path stroke="#ffa400" d="M1654.8,1276.2h0"/>
<path stroke="#ff8a00" d="M1554.8,1290.5h0"/>
<path stroke="#ff7c00" d="M1584.3,1290.9h0"/>
<path stroke="#ffffff" d="M1800.5,1346.6h0"/>
<path stroke="#ffbc00" d="M1610.8,1373.2h0"/>
<path stroke="#fff600" d="M1635.1,1381.1h0"/>
<path stroke="#ffff80" d="M1725.7,1371.3h0"/>
<path stroke="#ffa600" d="M1557.2,1379.7h0"/>
<path stroke="#ffc200" d="M1612.6,1358.8h0"/>
<path stroke="#ff9900" d="M1564.2,1359.6h0"/>
<path stroke="#ffff8f" d="M1707.6,1373.1h0"/>
<path stroke="#ffffff" d="M1833.4,1343.2h0"/>
<path stroke="#ffb600" d="M1638.3,1308.9h0"/>
<path stroke="#ffd900" d="M1632.8,1346.3h0"/>
<path stroke="#ffff37" d="M1750.9,1372.5h0"/>
<path stroke="#ffffff" d="M1834.5,1334.8h0"/>
<path stroke="#ffa900" d="M1577.2,1384.1h0"/>
<path stroke="#ffff7f" d="M1695.2,1366.2h0"/>
<path stroke="#ffffff" d="M1719.1,1316.3h0"/>
<path stroke="#ffc400" d="M1645.2,1306.6h0"/>
<path stroke="#ffffff" d="M1743.8,1309.0h0"/>
<path stroke="#ffffb7" d="M1695.9,1291.8h0"/>
<path stroke="#ffff43" d="M1813.9,1380.0h0"/>
<path stroke="#ff8700" d="M1585.3,1305.1h0"/>
<path stroke="#ffffff" d="M1744.6,1343.4h0"/>
<path stroke="#ffffff" d="M1715.2,1306.9h0"/>
<path stroke="#ffcd00" d="M1610.9,1384.3h0"/>
<path stroke="#ffff62" d="M1778.0,1367.3h0"/>
<path stroke="#ffff5d" d="M1737.7,1379.9h0"/>
<path stroke="#ff7100" d="M1586.1,1278.4h0"/>
<path stroke="#ffffff" d="M1724.4,1329.6h0"/>
<path stroke="#ffffff" d="M1778.6,1329.9h0"/>
<path stroke="#ff6f00" d="M1634.4,1278.9h0"/>
<path stroke="#ff7a00" d="M1573.2,1270.9h0"/>
<path stroke="#ffffff" d="M1756.3,1329.8h0"/>
<path stroke="#ffdc00" d="M1636.3,1327.2h0"/>
<path stroke="#ffffa5" d="M1691.4,1327.9h0"/>
<path stroke="#ffff7a" d="M1704.1,1396.0h0"/>
<path stroke="#ff8900" d="M1611.7,1307.4h0"/>
<path stroke="#ffff38" d="M1671.6,1378.1h0"/>
<path stroke="#ff9c00" d="M1610.7,1346.4h0"/>
<path stroke="#ff9700" d="M1645.8,1293.2h0"/>
<path stroke="#ffffba" d="M1778.2,1355.7h0"/>
<path stroke="#ffffff" d="M1808.1,1330.1h0"/>
<path stroke="#ff8900" d="M1597.7,1339.2h0"/>
<path stroke="#ffff73" d="M1705.1,1381.6h0"/>
<path stroke="#ff7100" d="M1627.3,1283.1h0"/>
<path stroke="#ffff31" d="M1660.3,1317.0h0"/>
<path stroke="#ffff44" d="M1738.7,1372.8h0"/>
<path stroke="#ffffb5" d="M1822.6,1354.5h0"/>
<path stroke="#ffff0b" d="M1625.1,1398.5h0"/>
<path stroke="#fff600" d="M1645.9,1397.3h0"/>
<path stroke="#ffff4a" d="M1764.5,1367.3h0"/>
<path stroke="#ffac00" d="M1580.3,1372.9h0"/>
<path stroke="#ffff28" d="M1798.4,1370.9h0"/>
<path stroke="#ff7800" d="M1564.5,1289.0h0"/>
<path stroke="#ffb000" d="M1669.7,1269.7h0"/>
<path stroke="#ffffff" d="M1748.7,1345.0h0"/>
<path stroke="#ffff1a" d="M1658.5,1356.4h0"/>
<path stroke="#ff7f00" d="M1611.3,1295.4h0"/>
<path stroke="#ffff4a" d="M1789.5,1367.8h0"/>
<path stroke="#ffffff" d="M1719.6,1327.9h0"/>
<path stroke="#ffffff" d="M1749.3,1309.0h0"/>
<path stroke="#ffffff" d="M1714.0,1289.7h0"/>
<path stroke="#fff200" d="M1647.7,1340.6h0"/>
<path stroke="#ffff2e" d="M1673.4,1294.3h0"/>
<path stroke="#ff8c00" d="M1632.4,1291.3h0"/>
<path stroke="#ffffff" d="M1800.0,1318.5h0"/>
<path stroke="#ffff56" d="M1681.6,1373.0h0"/>
<path stroke="#ffff5f" d="M1677.7,1302.8h0"/>
<path stroke="#ff8100" d="M1577.6,1302.7h0"/>
<path stroke="#ffff78" d="M1800.2,1390.5h0"/>
<path stroke="#ffffbc" d="M1694.3,1341.1h0"/>
<path stroke="#ff2b00" d="M1591.9,1188.5h0"/>
</g>
<path transform="translate(1556.7,1165.5)" d="M-2.4,-18.0 L-2.7,-8.7 L-4.3,4.9 L-7.4,23.5 L-12.4,42.1 L-14.8,53.3 L-16.3,57.6 M-16.3,304.7 L-12.4,312.8 L-6.2,320.2 L0.0,327.6 L4.4,336.3 L5.6,347.5 L5.0,357.4 L3.8,364.8 M-16.3,155.6 L-11.1,161.1 L-6.2,168.6 L-3.1,176.4 L0.7,182.6 L2.9,195.0 L0.0,207.4 L-0.6,221.0 L1.5,233.4 L0.7,245.8 L-1.2,260.7 L-2.2,273.1 L0.0,284.9 L5.0,288.6 L13.7,290.7 L16.2,299.1 L18.0,310.3 L21.7,321.4 L24.8,335.1 L29.2,345.0 L33.5,354.9 L36.6,364.8 M35.1,-18.0 L33.5,-7.5 L31.3,3.1 L26.7,17.3 L21.7,33.4 L18.0,50.8 L15.5,65.7 L13.7,79.3 L10.0,90.5 L3.1,102.9 L-4.9,117.1 L6.2,127.1 L14.9,136.4 L22.4,146.3 L27.3,156.2 L32.3,169.8 L35.4,176.4 L38.2,182.6 L31.7,195.0 L31.3,208.6 L25.5,221.0 L23.6,233.4 L21.1,246.8 L25.5,253.2 L30.4,260.7 L35.4,273.1 L34.1,286.7 L32.6,297.9 L36.0,309.0 L39.7,320.2 L42.2,332.6 L44.7,348.7 L49.6,357.4 L53.1,364.8 M64.1,-18.0 L64.3,-11.2 L62.7,1.2 L58.3,13.6 L54.6,28.5 L51.5,45.8 L49.0,63.2 L48.8,70.6 L49.9,79.3 L48.4,88.0 L45.3,96.7 L42.2,105.4 L43.4,110.3 L46.5,117.8 L53.4,128.9 L59.6,142.6 L65.8,156.2 L65.5,166.1 L62.7,174.8 L59.6,181.3 L54.6,196.2 L51.5,208.6 L48.4,221.0 L46.9,233.4 L47.2,245.8 L50.3,258.2 L52.1,274.3 L52.4,295.4 L53.4,309.0 L56.5,322.7 L58.3,332.6 L62.0,346.2 L67.0,356.1 L71.3,364.8 M97.6,-18.0 L98.0,-8.7 L97.1,2.4 L93.0,14.8 L88.1,28.5 L84.1,40.9 L83.5,53.3 L85.0,65.7 L86.8,79.3 L86.2,91.7 L81.9,102.9 L75.7,112.8 L72.6,118.4 L79.4,126.4 L87.5,132.0 L93.0,140.1 L96.8,148.7 L98.4,157.4 L97.4,168.6 L97.4,171.4 L93.7,182.6 L85.6,195.0 L74.4,207.4 L67.6,221.0 L65.1,233.4 L65.5,245.8 L67.0,270.6 L68.2,295.4 L68.2,320.2 L69.2,336.3 L73.2,347.5 L80.6,356.1 L85.6,361.7 L92.4,364.8 M133.3,-18.0 L135.6,-10.0 L135.6,2.4 L131.5,13.6 L125.9,29.7 L120.3,45.8 L117.6,54.3 L119.7,63.2 L122.8,73.1 L124.4,80.6 L122.8,91.7 L117.8,101.6 L111.6,111.6 L114.1,122.7 L121.6,133.9 L126.5,142.6 L130.9,152.5 L134.6,157.4 L131.5,166.1 L130.0,171.4 L124.0,187.5 L115.4,206.1 L107.3,212.3 L100.5,219.1 L90.6,235.9 L83.1,252.6 L82.5,270.6 L84.1,285.5 L81.9,299.1 L80.0,310.3 L80.6,320.2 L83.1,328.9 L86.8,332.6 L96.8,336.3 L107.9,335.3 L120.3,337.6 L131.5,339.0 L136.4,347.5 L142.6,357.4 L148.8,364.6 M167.4,-18.0 L171.1,-10.0 L173.9,-0.0 L172.4,11.1 L167.4,23.5 L161.2,38.4 L156.9,50.8 L155.6,63.2 L156.9,74.4 L158.5,80.6 L157.3,90.5 L152.5,101.6 L146.3,110.3 L138.9,116.5 L145.1,135.1 L151.3,147.5 L163.1,157.4 L167.4,169.8 L168.0,171.4 L163.7,181.3 L156.3,195.0 L147.6,208.6 L143.2,221.0 L134.0,226.6 L125.9,233.4 L123.4,240.8 L120.3,250.8 L114.1,263.2 L105.4,276.8 L99.9,288.0 L96.8,297.9 L98.6,307.8 L98.6,323.3 L107.9,326.4 L114.1,322.1 L120.9,315.2 L127.1,310.9 L131.5,304.7 L143.9,307.2 L148.2,314.0 L155.0,325.2 L166.8,333.8 L171.1,345.0 L173.4,353.7 L174.0,364.6 M201.7,-18.0 L208.6,-11.2 L211.3,2.4 L209.8,14.8 L201.1,31.0 L191.2,45.8 L185.0,54.5 L182.5,67.5 L193.7,79.3 L192.4,91.7 L183.8,105.4 L175.1,116.5 L170.7,129.5 L178.8,143.8 L187.5,156.2 L199.3,169.2 L200.5,183.2 L192.4,196.2 L181.9,208.6 L175.1,219.8 L161.4,229.7 L148.2,245.8 L149.4,258.2 L153.1,265.6 L158.7,273.1 L166.2,288.0 L177.6,296.6 L184.4,310.3 L187.5,326.4 L191.2,349.9 L187.5,364.6 M263.7,-18.0 L248.9,-17.6 L242.4,-10.2 L245.1,4.9 L247.2,16.1 L242.0,28.5 L234.6,40.9 L229.9,50.8 L228.4,58.2 L229.9,70.6 L229.9,83.0 L227.2,94.2 L221.0,106.6 L212.3,119.0 L203.6,130.8 L213.5,137.6 L221.0,147.5 L226.5,157.4 L229.6,169.8 L228.4,171.4 L230.9,183.2 L228.4,196.2 L218.5,209.8 L211.0,221.0 L206.1,230.9 L201.7,237.1 L190.0,230.9 L186.2,235.9 L183.8,245.8 L191.2,257.0 L197.4,265.6 L204.8,275.6 L211.0,285.5 L212.9,297.9 L212.3,311.5 L206.7,323.9 L205.5,336.3 L204.6,351.2 L205.1,364.6 M336.3,-18.0 L330.7,-11.8 L315.2,-3.1 L295.4,5.8 L283.6,3.1 L282.3,17.3 L280.5,29.7 L273.0,43.4 L268.1,55.8 L266.2,68.2 L266.6,80.6 L264.4,94.2 L259.4,107.8 L252.0,122.7 L248.5,130.8 L249.2,143.8 L255.7,157.4 L260.6,168.6 L260.9,171.4 L262.5,178.8 L260.9,193.7 L257.5,207.4 L249.5,221.0 L238.3,225.3 L229.6,233.4 L227.2,245.8 L233.4,260.7 L240.8,275.6 L244.5,286.7 L243.9,299.1 L235.8,314.0 L228.4,326.4 L224.9,336.3 L224.7,351.2 L224.1,364.6 M342.7,22.9 L330.1,27.2 L318.9,32.8 L312.1,40.9 L307.1,55.8 L302.2,68.2 L299.1,81.8 L296.6,95.4 L292.9,109.1 L285.4,124.0 L280.5,135.1 L278.6,143.8 L283.0,153.7 L290.4,166.1 L292.3,171.4 L294.5,182.6 L289.8,198.7 L285.4,214.8 L283.6,221.0 L274.9,233.4 L260.6,239.0 L253.2,245.8 L265.6,258.2 L273.0,273.1 L276.8,284.2 L278.4,296.6 L274.3,310.3 L266.8,322.7 L250.7,336.3 L248.0,348.7 L245.1,364.6 M342.7,59.5 L338.7,66.9 L335.0,79.3 L330.1,90.5 L327.6,102.9 L325.7,118.4 L314.0,131.4 L307.1,143.8 L307.8,156.2 L315.2,162.4 L325.1,169.2 L325.7,171.4 L326.1,183.8 L323.9,198.7 L318.9,214.8 L315.8,227.2 L312.7,233.4 L306.5,239.0 L293.5,245.8 L297.8,260.7 L304.0,274.3 L307.8,286.7 L309.0,299.1 L308.4,311.5 L302.2,322.7 L288.5,335.1 L281.7,349.3 L288.3,364.6 M342.7,235.3 L338.7,243.3 L328.8,259.4 L336.3,271.8 L338.1,286.7 L338.4,299.1 L337.3,311.5 L337.9,322.7 L322.0,336.3 L317.1,349.9 L320.2,364.6" fill="none" stroke="#000" stroke-width="1.6" stroke-linejoin="round"/>
<path transform="translate(1556.7,1167.5)" d="M-4.9,117.1 L17.4,113.4 L42.2,110.3 L67.0,110.9 L85.6,112.8 L129.0,117.9 L167.6,123.3 L203.6,127.7 L248.2,133.9 L279.2,140.1 L306.5,146.9 L332.6,151.5 L340.0,152.9 M-13.6,259.4 L-1.2,257.0 L23.6,253.2 L48.4,250.1 L80.6,248.9 L98.0,249.3 L116.6,248.9 L134.0,245.8 L145.1,243.3 L160.0,241.5 L180.0,240.2 L228.4,242.7 L278.0,244.6 L300.3,244.6 L315.2,248.9 L330.1,255.7 L344.3,257.0" fill="none" stroke="#000" stroke-width="1.6" stroke-dasharray="12,5.4"/>
<path d="M1893.4,1380.7 Q1857.2,1362.7 1816.2,1357.3" fill="none" stroke="#f08c00" stroke-width="5.2"/>
<path d="M1791.8,1353.4 L1820.9,1350.1 L1818.2,1357.7 L1819.0,1365.3 Z" fill="#f08c00"/>
<path d="M1659.2,1253.7 L1673.2,1282.1 L1645.2,1282.1 Z" fill="#fff" stroke="#5c2483" stroke-width="4.6" stroke-miterlimit="10"/>
<path d="M1689.7,1267.9 L1703.9,1296.6 L1675.5,1296.6 Z" fill="#fff" stroke="#5c2483" stroke-width="4.6" stroke-miterlimit="10"/>
<path d="M1718.4,1278.4 L1732.7,1306.4 L1704.1,1306.4 Z" fill="#fff" stroke="#5c2483" stroke-width="4.6" stroke-miterlimit="10"/>
<path d="M1658.1,1383.2 L1672.4,1411.5 L1643.8,1411.5 Z" fill="#fff" stroke="#5c2483" stroke-width="4.6" stroke-miterlimit="10"/>
<path d="M1722.1,1376.2 L1736.7,1404.3 L1707.5,1404.3 Z" fill="#fff" stroke="#5c2483" stroke-width="4.6" stroke-miterlimit="10"/>
<path d="M1608.7,1212.8h14.0v-14.0h8.7v14.0h14.0v8.7h-14.0v14.0h-8.7v-14.0h-14.0z" fill="#0000ff"/>
<text x="1721.5" y="1122.9" font-size="38" text-anchor="middle" font-weight="normal" stroke="#000" stroke-width="0.9">8</text>
<text x="1526.9" y="1189.9" font-size="33.8" text-anchor="end" font-weight="normal" stroke="#000" stroke-width="0.9">150</text>
<text x="1526.1" y="1353.8" font-size="33.8" text-anchor="end" font-weight="normal" stroke="#000" stroke-width="0.9">0</text>
<text x="1530.1" y="1517.1" font-size="33.8" text-anchor="end" font-weight="normal" stroke="#000" stroke-width="0.9">-150</text>
<text x="1551.1" y="1564.8" font-size="34.3" text-anchor="middle" font-weight="normal" stroke="#000" stroke-width="0.9">-150</text>
<text x="1708.5" y="1564.8" font-size="34.3" text-anchor="middle" font-weight="normal" stroke="#000" stroke-width="0.9">0</text>
<text x="1889.5" y="1564.8" font-size="34.3" text-anchor="middle" font-weight="normal" stroke="#000" stroke-width="0.9">150</text>
</g>
<text x="-2" y="35.8" font-size="46" text-anchor="start" font-weight="normal">(a)</text>
<text x="-2" y="579.7" font-size="46" text-anchor="start" font-weight="normal">(b)</text>
<rect x="1948.8" y="1156.10" width="39.7" height="6.51" fill="#050000"/>
<rect x="1948.8" y="1162.11" width="39.7" height="6.51" fill="#100000"/>
<rect x="1948.8" y="1168.12" width="39.7" height="6.51" fill="#1b0000"/>
<rect x="1948.8" y="1174.13" width="39.7" height="6.51" fill="#250000"/>
<rect x="1948.8" y="1180.14" width="39.7" height="6.51" fill="#300000"/>
<rect x="1948.8" y="1186.15" width="39.7" height="6.51" fill="#3a0000"/>
<rect x="1948.8" y="1192.16" width="39.7" height="6.51" fill="#450000"/>
<rect x="1948.8" y="1198.17" width="39.7" height="6.51" fill="#500000"/>
<rect x="1948.8" y="1204.17" width="39.7" height="6.51" fill="#5a0000"/>
<rect x="1948.8" y="1210.18" width="39.7" height="6.51" fill="#650000"/>
<rect x="1948.8" y="1216.19" width="39.7" height="6.51" fill="#700000"/>
<rect x="1948.8" y="1222.20" width="39.7" height="6.51" fill="#7a0000"/>
<rect x="1948.8" y="1228.21" width="39.7" height="6.51" fill="#850000"/>
<rect x="1948.8" y="1234.22" width="39.7" height="6.51" fill="#8f0000"/>
<rect x="1948.8" y="1240.23" width="39.7" height="6.51" fill="#9a0000"/>
<rect x="1948.8" y="1246.24" width="39.7" height="6.51" fill="#a50000"/>
<rect x="1948.8" y="1252.25" width="39.7" height="6.51" fill="#af0000"/>
<rect x="1948.8" y="1258.26" width="39.7" height="6.51" fill="#ba0000"/>
<rect x="1948.8" y="1264.27" width="39.7" height="6.51" fill="#c50000"/>
<rect x="1948.8" y="1270.28" width="39.7" height="6.51" fill="#cf0000"/>
<rect x="1948.8" y="1276.29" width="39.7" height="6.51" fill="#da0000"/>
<rect x="1948.8" y="1282.30" width="39.7" height="6.51" fill="#e40000"/>
<rect x="1948.8" y="1288.31" width="39.7" height="6.51" fill="#ef0000"/>
<rect x="1948.8" y="1294.32" width="39.7" height="6.51" fill="#fa0000"/>
<rect x="1948.8" y="1300.33" width="39.7" height="6.51" fill="#ff0500"/>
<rect x="1948.8" y="1306.33" width="39.7" height="6.51" fill="#ff1000"/>
<rect x="1948.8" y="1312.34" width="39.7" height="6.51" fill="#ff1b00"/>
<rect x="1948.8" y="1318.35" width="39.7" height="6.51" fill="#ff2500"/>
<rect x="1948.8" y="1324.36" width="39.7" height="6.51" fill="#ff3000"/>
<rect x="1948.8" y="1330.37" width="39.7" height="6.51" fill="#ff3a00"/>
<rect x="1948.8" y="1336.38" width="39.7" height="6.51" fill="#ff4500"/>
<rect x="1948.8" y="1342.39" width="39.7" height="6.51" fill="#ff5000"/>
<rect x="1948.8" y="1348.40" width="39.7" height="6.51" fill="#ff5a00"/>
<rect x="1948.8" y="1354.41" width="39.7" height="6.51" fill="#ff6500"/>
<rect x="1948.8" y="1360.42" width="39.7" height="6.51" fill="#ff7000"/>
<rect x="1948.8" y="1366.43" width="39.7" height="6.51" fill="#ff7a00"/>
<rect x="1948.8" y="1372.44" width="39.7" height="6.51" fill="#ff8500"/>
<rect x="1948.8" y="1378.45" width="39.7" height="6.51" fill="#ff8f00"/>
<rect x="1948.8" y="1384.46" width="39.7" height="6.51" fill="#ff9a00"/>
<rect x="1948.8" y="1390.47" width="39.7" height="6.51" fill="#ffa500"/>
<rect x="1948.8" y="1396.47" width="39.7" height="6.51" fill="#ffaf00"/>
<rect x="1948.8" y="1402.48" width="39.7" height="6.51" fill="#ffba00"/>
<rect x="1948.8" y="1408.49" width="39.7" height="6.51" fill="#ffc500"/>
<rect x="1948.8" y="1414.50" width="39.7" height="6.51" fill="#ffcf00"/>
<rect x="1948.8" y="1420.51" width="39.7" height="6.51" fill="#ffda00"/>
<rect x="1948.8" y="1426.52" width="39.7" height="6.51" fill="#ffe400"/>
<rect x="1948.8" y="1432.53" width="39.7" height="6.51" fill="#ffef00"/>
<rect x="1948.8" y="1438.54" width="39.7" height="6.51" fill="#fffa00"/>
<rect x="1948.8" y="1444.55" width="39.7" height="6.51" fill="#ffff08"/>
<rect x="1948.8" y="1450.56" width="39.7" height="6.51" fill="#ffff18"/>
<rect x="1948.8" y="1456.57" width="39.7" height="6.51" fill="#ffff28"/>
<rect x="1948.8" y="1462.58" width="39.7" height="6.51" fill="#ffff38"/>
<rect x="1948.8" y="1468.59" width="39.7" height="6.51" fill="#ffff48"/>
<rect x="1948.8" y="1474.60" width="39.7" height="6.51" fill="#ffff58"/>
<rect x="1948.8" y="1480.61" width="39.7" height="6.51" fill="#ffff68"/>
<rect x="1948.8" y="1486.62" width="39.7" height="6.51" fill="#ffff78"/>
<rect x="1948.8" y="1492.62" width="39.7" height="6.51" fill="#ffff87"/>
<rect x="1948.8" y="1498.63" width="39.7" height="6.51" fill="#ffff97"/>
<rect x="1948.8" y="1504.64" width="39.7" height="6.51" fill="#ffffa7"/>
<rect x="1948.8" y="1510.65" width="39.7" height="6.51" fill="#ffffb7"/>
<rect x="1948.8" y="1516.66" width="39.7" height="6.51" fill="#ffffc7"/>
<rect x="1948.8" y="1522.67" width="39.7" height="6.51" fill="#ffffd7"/>
<rect x="1948.8" y="1528.68" width="39.7" height="6.51" fill="#ffffe7"/>
<rect x="1948.8" y="1534.69" width="39.7" height="6.51" fill="#fffff7"/>
<rect x="1948.8" y="1156.1" width="39.7" height="384.6" fill="none" stroke="#000" stroke-width="1.3"/>
<text x="1997.5" y="1166.9" font-size="28.5" text-anchor="start" font-weight="normal" stroke="#000" stroke-width="0.7">0.9</text>
<path d="M1948.8,1236.2h4 M1988.5,1236.2h-4" stroke="#000" stroke-width="1.2"/>
<text x="1997.5" y="1247.0" font-size="28.5" text-anchor="start" font-weight="normal" stroke="#000" stroke-width="0.7">0.8</text>
<path d="M1948.8,1316.3h4 M1988.5,1316.3h-4" stroke="#000" stroke-width="1.2"/>
<text x="1997.5" y="1327.1" font-size="28.5" text-anchor="start" font-weight="normal" stroke="#000" stroke-width="0.7">0.7</text>
<path d="M1948.8,1396.4h4 M1988.5,1396.4h-4" stroke="#000" stroke-width="1.2"/>
<text x="1997.5" y="1407.2" font-size="28.5" text-anchor="start" font-weight="normal" stroke="#000" stroke-width="0.7">0.6</text>
<path d="M1948.8,1476.5h4 M1988.5,1476.5h-4" stroke="#000" stroke-width="1.2"/>
<text x="1997.5" y="1487.3" font-size="28.5" text-anchor="start" font-weight="normal" stroke="#000" stroke-width="0.7">0.5</text>
<text x="1977.2" y="1084.4" font-size="38.7" text-anchor="middle" font-weight="normal" stroke="#000" stroke-width="0.5">inter-trace</text>
<text x="1975.5" y="1133" font-size="38.7" text-anchor="middle" font-weight="normal" stroke="#000" stroke-width="0.5">correlation</text>
</svg>
</body></html>
